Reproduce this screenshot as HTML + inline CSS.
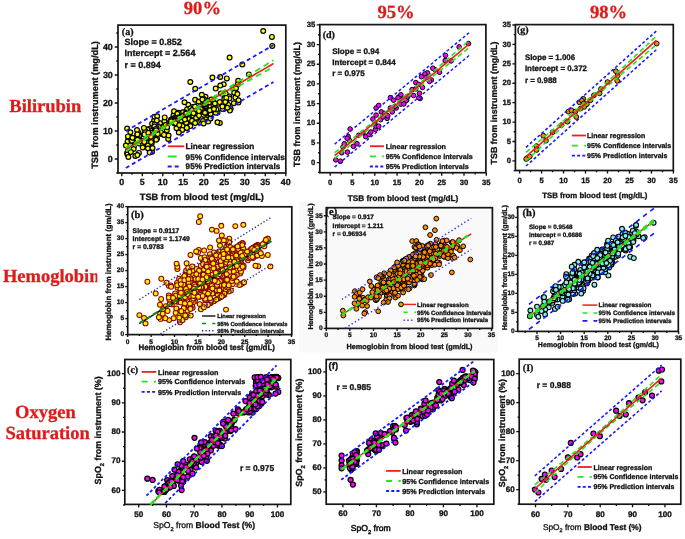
<!DOCTYPE html>
<html><head><meta charset="utf-8"><style>
html,body{margin:0;padding:0;background:#fff;}
svg{display:block;will-change:transform;text-rendering:geometricPrecision;}
</style></head><body>
<svg width="685" height="539" viewBox="0 0 685 539">
<rect x="0" y="0" width="685" height="539" fill="#ffffff"/>
<rect x="299" y="201" width="199" height="151.5" fill="#f9f9f9"/>
<text x="183.8" y="14.0" font-family='"Liberation Serif", serif' font-size="18.6" font-weight="bold" fill="#dd1c1c" stroke="#dd1c1c" stroke-width="0.3" text-anchor="start" >90%</text>
<text x="377.4" y="18.4" font-family='"Liberation Serif", serif' font-size="18.6" font-weight="bold" fill="#dd1c1c" stroke="#dd1c1c" stroke-width="0.3" text-anchor="start" >95%</text>
<text x="589.9" y="18.4" font-family='"Liberation Serif", serif' font-size="18.6" font-weight="bold" fill="#dd1c1c" stroke="#dd1c1c" stroke-width="0.3" text-anchor="start" >98%</text>
<text x="9.3" y="111.5" font-family='"Liberation Serif", serif' font-size="18.5" font-weight="bold" fill="#dd1c1c" stroke="#dd1c1c" stroke-width="0.3" text-anchor="start" >Bilirubin</text>
<clipPath id="hc"><rect x="0" y="250" width="97.3" height="50"/></clipPath><g clip-path="url(#hc)">
<text x="2.9" y="282.1" font-family='"Liberation Serif", serif' font-size="18.5" font-weight="bold" fill="#dd1c1c" stroke="#dd1c1c" stroke-width="0.3" text-anchor="start" >Hemoglobin</text>
</g>
<text x="15.1" y="418.4" font-family='"Liberation Serif", serif' font-size="18.5" font-weight="bold" fill="#dd1c1c" stroke="#dd1c1c" stroke-width="0.3" text-anchor="start" >Oxygen</text>
<text x="5.5" y="439.4" font-family='"Liberation Serif", serif' font-size="18.5" font-weight="bold" fill="#dd1c1c" stroke="#dd1c1c" stroke-width="0.3" text-anchor="start" >Saturation</text>
<rect x="118.0" y="25.1" width="167.8" height="147.9" fill="none" stroke="#151515" stroke-width="1.7"/>
<path d="M121.80,173.00v3.2M142.30,173.00v3.2M162.80,173.00v3.2M183.30,173.00v3.2M203.80,173.00v3.2M224.30,173.00v3.2M244.80,173.00v3.2M265.30,173.00v3.2M285.80,173.00v3.2M132.05,173.00v1.7M152.55,173.00v1.7M173.05,173.00v1.7M193.55,173.00v1.7M214.05,173.00v1.7M234.55,173.00v1.7M255.05,173.00v1.7M275.55,173.00v1.7M118.00,159.00h-3.2M118.00,131.00h-3.2M118.00,103.00h-3.2M118.00,75.00h-3.2M118.00,47.00h-3.2M118.00,173.00h-1.7M118.00,145.00h-1.7M118.00,117.00h-1.7M118.00,89.00h-1.7M118.00,61.00h-1.7M118.00,33.00h-1.7" stroke="#111" stroke-width="1.35" fill="none"/>
<text x="121.8" y="185.2" font-family='"Liberation Sans", sans-serif' font-size="8.9" font-weight="bold" fill="#111" stroke="#111" stroke-width="0.3" text-anchor="middle" >0</text>
<text x="142.3" y="185.2" font-family='"Liberation Sans", sans-serif' font-size="8.9" font-weight="bold" fill="#111" stroke="#111" stroke-width="0.3" text-anchor="middle" >5</text>
<text x="162.8" y="185.2" font-family='"Liberation Sans", sans-serif' font-size="8.9" font-weight="bold" fill="#111" stroke="#111" stroke-width="0.3" text-anchor="middle" >10</text>
<text x="183.3" y="185.2" font-family='"Liberation Sans", sans-serif' font-size="8.9" font-weight="bold" fill="#111" stroke="#111" stroke-width="0.3" text-anchor="middle" >15</text>
<text x="203.8" y="185.2" font-family='"Liberation Sans", sans-serif' font-size="8.9" font-weight="bold" fill="#111" stroke="#111" stroke-width="0.3" text-anchor="middle" >20</text>
<text x="224.3" y="185.2" font-family='"Liberation Sans", sans-serif' font-size="8.9" font-weight="bold" fill="#111" stroke="#111" stroke-width="0.3" text-anchor="middle" >25</text>
<text x="244.8" y="185.2" font-family='"Liberation Sans", sans-serif' font-size="8.9" font-weight="bold" fill="#111" stroke="#111" stroke-width="0.3" text-anchor="middle" >30</text>
<text x="265.3" y="185.2" font-family='"Liberation Sans", sans-serif' font-size="8.9" font-weight="bold" fill="#111" stroke="#111" stroke-width="0.3" text-anchor="middle" >35</text>
<text x="285.8" y="185.2" font-family='"Liberation Sans", sans-serif' font-size="8.9" font-weight="bold" fill="#111" stroke="#111" stroke-width="0.3" text-anchor="middle" >40</text>
<text x="112.8" y="161.5" font-family='"Liberation Sans", sans-serif' font-size="8.9" font-weight="bold" fill="#111" stroke="#111" stroke-width="0.3" text-anchor="end" >0</text>
<text x="112.8" y="133.5" font-family='"Liberation Sans", sans-serif' font-size="8.9" font-weight="bold" fill="#111" stroke="#111" stroke-width="0.3" text-anchor="end" >10</text>
<text x="112.8" y="105.5" font-family='"Liberation Sans", sans-serif' font-size="8.9" font-weight="bold" fill="#111" stroke="#111" stroke-width="0.3" text-anchor="end" >20</text>
<text x="112.8" y="77.5" font-family='"Liberation Sans", sans-serif' font-size="8.9" font-weight="bold" fill="#111" stroke="#111" stroke-width="0.3" text-anchor="end" >30</text>
<text x="112.8" y="49.5" font-family='"Liberation Sans", sans-serif' font-size="8.9" font-weight="bold" fill="#111" stroke="#111" stroke-width="0.3" text-anchor="end" >40</text>
<circle cx="138.9" cy="152.9" r="2.4" fill="#ffff00" stroke="#000" stroke-width="1.2"/>
<circle cx="139.3" cy="143.4" r="2.4" fill="#ffff00" stroke="#000" stroke-width="1.2"/>
<circle cx="140.5" cy="140.8" r="2.4" fill="#ffff00" stroke="#000" stroke-width="1.2"/>
<circle cx="140.6" cy="139.2" r="2.4" fill="#ffff00" stroke="#000" stroke-width="1.2"/>
<circle cx="144.0" cy="134.4" r="2.4" fill="#ffff00" stroke="#000" stroke-width="1.2"/>
<circle cx="134.6" cy="142.5" r="2.4" fill="#ffff00" stroke="#000" stroke-width="1.2"/>
<circle cx="128.5" cy="138.0" r="2.4" fill="#ffff00" stroke="#000" stroke-width="1.2"/>
<circle cx="127.1" cy="153.1" r="2.4" fill="#ffff00" stroke="#000" stroke-width="1.2"/>
<circle cx="154.1" cy="120.5" r="2.4" fill="#ffff00" stroke="#000" stroke-width="1.2"/>
<circle cx="143.6" cy="137.8" r="2.4" fill="#ffff00" stroke="#000" stroke-width="1.2"/>
<circle cx="130.4" cy="132.3" r="2.4" fill="#ffff00" stroke="#000" stroke-width="1.2"/>
<circle cx="127.6" cy="141.6" r="2.4" fill="#ffff00" stroke="#000" stroke-width="1.2"/>
<circle cx="131.4" cy="140.7" r="2.4" fill="#ffff00" stroke="#000" stroke-width="1.2"/>
<circle cx="139.2" cy="135.6" r="2.4" fill="#ffff00" stroke="#000" stroke-width="1.2"/>
<circle cx="138.5" cy="132.8" r="2.4" fill="#ffff00" stroke="#000" stroke-width="1.2"/>
<circle cx="144.3" cy="142.5" r="2.4" fill="#ffff00" stroke="#000" stroke-width="1.2"/>
<circle cx="140.2" cy="141.1" r="2.4" fill="#ffff00" stroke="#000" stroke-width="1.2"/>
<circle cx="133.9" cy="146.6" r="2.4" fill="#ffff00" stroke="#000" stroke-width="1.2"/>
<circle cx="154.5" cy="116.8" r="2.4" fill="#ffff00" stroke="#000" stroke-width="1.2"/>
<circle cx="146.2" cy="134.7" r="2.4" fill="#ffff00" stroke="#000" stroke-width="1.2"/>
<circle cx="134.9" cy="138.5" r="2.4" fill="#ffff00" stroke="#000" stroke-width="1.2"/>
<circle cx="127.9" cy="136.4" r="2.4" fill="#ffff00" stroke="#000" stroke-width="1.2"/>
<circle cx="147.9" cy="145.0" r="2.4" fill="#ffff00" stroke="#000" stroke-width="1.2"/>
<circle cx="137.0" cy="130.1" r="2.4" fill="#ffff00" stroke="#000" stroke-width="1.2"/>
<circle cx="153.4" cy="131.1" r="2.4" fill="#ffff00" stroke="#000" stroke-width="1.2"/>
<circle cx="131.9" cy="140.8" r="2.4" fill="#ffff00" stroke="#000" stroke-width="1.2"/>
<circle cx="152.0" cy="151.8" r="2.4" fill="#ffff00" stroke="#000" stroke-width="1.2"/>
<circle cx="137.3" cy="134.4" r="2.4" fill="#ffff00" stroke="#000" stroke-width="1.2"/>
<circle cx="128.0" cy="151.0" r="2.4" fill="#ffff00" stroke="#000" stroke-width="1.2"/>
<circle cx="133.6" cy="149.0" r="2.4" fill="#ffff00" stroke="#000" stroke-width="1.2"/>
<circle cx="148.4" cy="140.9" r="2.4" fill="#ffff00" stroke="#000" stroke-width="1.2"/>
<circle cx="195.1" cy="99.8" r="2.4" fill="#ffff00" stroke="#000" stroke-width="1.2"/>
<circle cx="150.5" cy="132.4" r="2.4" fill="#ffff00" stroke="#000" stroke-width="1.2"/>
<circle cx="146.5" cy="131.5" r="2.4" fill="#ffff00" stroke="#000" stroke-width="1.2"/>
<circle cx="197.9" cy="108.5" r="2.4" fill="#ffff00" stroke="#000" stroke-width="1.2"/>
<circle cx="173.5" cy="115.6" r="2.4" fill="#ffff00" stroke="#000" stroke-width="1.2"/>
<circle cx="155.6" cy="130.6" r="2.4" fill="#ffff00" stroke="#000" stroke-width="1.2"/>
<circle cx="187.2" cy="119.5" r="2.4" fill="#ffff00" stroke="#000" stroke-width="1.2"/>
<circle cx="150.4" cy="136.1" r="2.4" fill="#ffff00" stroke="#000" stroke-width="1.2"/>
<circle cx="161.1" cy="125.9" r="2.4" fill="#ffff00" stroke="#000" stroke-width="1.2"/>
<circle cx="210.0" cy="104.8" r="2.4" fill="#ffff00" stroke="#000" stroke-width="1.2"/>
<circle cx="204.0" cy="113.8" r="2.4" fill="#ffff00" stroke="#000" stroke-width="1.2"/>
<circle cx="157.0" cy="138.7" r="2.4" fill="#ffff00" stroke="#000" stroke-width="1.2"/>
<circle cx="187.0" cy="109.4" r="2.4" fill="#ffff00" stroke="#000" stroke-width="1.2"/>
<circle cx="149.3" cy="128.9" r="2.4" fill="#ffff00" stroke="#000" stroke-width="1.2"/>
<circle cx="160.3" cy="128.4" r="2.4" fill="#ffff00" stroke="#000" stroke-width="1.2"/>
<circle cx="196.2" cy="114.8" r="2.4" fill="#ffff00" stroke="#000" stroke-width="1.2"/>
<circle cx="147.4" cy="129.5" r="2.4" fill="#ffff00" stroke="#000" stroke-width="1.2"/>
<circle cx="148.6" cy="137.1" r="2.4" fill="#ffff00" stroke="#000" stroke-width="1.2"/>
<circle cx="184.2" cy="119.9" r="2.4" fill="#ffff00" stroke="#000" stroke-width="1.2"/>
<circle cx="168.2" cy="138.9" r="2.4" fill="#ffff00" stroke="#000" stroke-width="1.2"/>
<circle cx="176.0" cy="117.0" r="2.4" fill="#ffff00" stroke="#000" stroke-width="1.2"/>
<circle cx="182.3" cy="116.0" r="2.4" fill="#ffff00" stroke="#000" stroke-width="1.2"/>
<circle cx="153.0" cy="134.1" r="2.4" fill="#ffff00" stroke="#000" stroke-width="1.2"/>
<circle cx="205.6" cy="106.5" r="2.4" fill="#ffff00" stroke="#000" stroke-width="1.2"/>
<circle cx="155.5" cy="134.3" r="2.4" fill="#ffff00" stroke="#000" stroke-width="1.2"/>
<circle cx="193.8" cy="109.9" r="2.4" fill="#ffff00" stroke="#000" stroke-width="1.2"/>
<circle cx="208.5" cy="108.5" r="2.4" fill="#ffff00" stroke="#000" stroke-width="1.2"/>
<circle cx="203.8" cy="114.1" r="2.4" fill="#ffff00" stroke="#000" stroke-width="1.2"/>
<circle cx="149.5" cy="136.6" r="2.4" fill="#ffff00" stroke="#000" stroke-width="1.2"/>
<circle cx="145.0" cy="130.6" r="2.4" fill="#ffff00" stroke="#000" stroke-width="1.2"/>
<circle cx="191.4" cy="115.6" r="2.4" fill="#ffff00" stroke="#000" stroke-width="1.2"/>
<circle cx="160.2" cy="124.7" r="2.4" fill="#ffff00" stroke="#000" stroke-width="1.2"/>
<circle cx="162.8" cy="134.2" r="2.4" fill="#ffff00" stroke="#000" stroke-width="1.2"/>
<circle cx="154.5" cy="131.1" r="2.4" fill="#ffff00" stroke="#000" stroke-width="1.2"/>
<circle cx="158.2" cy="131.3" r="2.4" fill="#ffff00" stroke="#000" stroke-width="1.2"/>
<circle cx="181.3" cy="114.1" r="2.4" fill="#ffff00" stroke="#000" stroke-width="1.2"/>
<circle cx="161.8" cy="134.0" r="2.4" fill="#ffff00" stroke="#000" stroke-width="1.2"/>
<circle cx="206.2" cy="107.8" r="2.4" fill="#ffff00" stroke="#000" stroke-width="1.2"/>
<circle cx="161.1" cy="126.8" r="2.4" fill="#ffff00" stroke="#000" stroke-width="1.2"/>
<circle cx="173.4" cy="119.1" r="2.4" fill="#ffff00" stroke="#000" stroke-width="1.2"/>
<circle cx="168.0" cy="123.4" r="2.4" fill="#ffff00" stroke="#000" stroke-width="1.2"/>
<circle cx="182.2" cy="114.8" r="2.4" fill="#ffff00" stroke="#000" stroke-width="1.2"/>
<circle cx="204.4" cy="104.8" r="2.4" fill="#ffff00" stroke="#000" stroke-width="1.2"/>
<circle cx="210.6" cy="111.1" r="2.4" fill="#ffff00" stroke="#000" stroke-width="1.2"/>
<circle cx="183.0" cy="125.8" r="2.4" fill="#ffff00" stroke="#000" stroke-width="1.2"/>
<circle cx="152.1" cy="130.7" r="2.4" fill="#ffff00" stroke="#000" stroke-width="1.2"/>
<circle cx="205.7" cy="108.1" r="2.4" fill="#ffff00" stroke="#000" stroke-width="1.2"/>
<circle cx="191.2" cy="113.5" r="2.4" fill="#ffff00" stroke="#000" stroke-width="1.2"/>
<circle cx="186.6" cy="116.9" r="2.4" fill="#ffff00" stroke="#000" stroke-width="1.2"/>
<circle cx="175.9" cy="122.0" r="2.4" fill="#ffff00" stroke="#000" stroke-width="1.2"/>
<circle cx="212.0" cy="110.7" r="2.4" fill="#ffff00" stroke="#000" stroke-width="1.2"/>
<circle cx="147.5" cy="143.0" r="2.4" fill="#ffff00" stroke="#000" stroke-width="1.2"/>
<circle cx="205.0" cy="111.4" r="2.4" fill="#ffff00" stroke="#000" stroke-width="1.2"/>
<circle cx="193.7" cy="116.6" r="2.4" fill="#ffff00" stroke="#000" stroke-width="1.2"/>
<circle cx="206.1" cy="118.2" r="2.4" fill="#ffff00" stroke="#000" stroke-width="1.2"/>
<circle cx="166.8" cy="130.3" r="2.4" fill="#ffff00" stroke="#000" stroke-width="1.2"/>
<circle cx="203.0" cy="121.1" r="2.4" fill="#ffff00" stroke="#000" stroke-width="1.2"/>
<circle cx="171.4" cy="120.4" r="2.4" fill="#ffff00" stroke="#000" stroke-width="1.2"/>
<circle cx="182.2" cy="129.9" r="2.4" fill="#ffff00" stroke="#000" stroke-width="1.2"/>
<circle cx="185.9" cy="122.7" r="2.4" fill="#ffff00" stroke="#000" stroke-width="1.2"/>
<circle cx="184.7" cy="112.3" r="2.4" fill="#ffff00" stroke="#000" stroke-width="1.2"/>
<circle cx="147.9" cy="145.5" r="2.4" fill="#ffff00" stroke="#000" stroke-width="1.2"/>
<circle cx="203.6" cy="123.5" r="2.4" fill="#ffff00" stroke="#000" stroke-width="1.2"/>
<circle cx="193.1" cy="121.2" r="2.4" fill="#ffff00" stroke="#000" stroke-width="1.2"/>
<circle cx="182.8" cy="112.2" r="2.4" fill="#ffff00" stroke="#000" stroke-width="1.2"/>
<circle cx="173.0" cy="121.3" r="2.4" fill="#ffff00" stroke="#000" stroke-width="1.2"/>
<circle cx="194.6" cy="115.3" r="2.4" fill="#ffff00" stroke="#000" stroke-width="1.2"/>
<circle cx="144.4" cy="140.5" r="2.4" fill="#ffff00" stroke="#000" stroke-width="1.2"/>
<circle cx="158.3" cy="133.0" r="2.4" fill="#ffff00" stroke="#000" stroke-width="1.2"/>
<circle cx="191.0" cy="122.9" r="2.4" fill="#ffff00" stroke="#000" stroke-width="1.2"/>
<circle cx="206.5" cy="107.9" r="2.4" fill="#ffff00" stroke="#000" stroke-width="1.2"/>
<circle cx="160.1" cy="123.3" r="2.4" fill="#ffff00" stroke="#000" stroke-width="1.2"/>
<circle cx="189.6" cy="115.0" r="2.4" fill="#ffff00" stroke="#000" stroke-width="1.2"/>
<circle cx="156.4" cy="123.7" r="2.4" fill="#ffff00" stroke="#000" stroke-width="1.2"/>
<circle cx="188.3" cy="104.8" r="2.4" fill="#ffff00" stroke="#000" stroke-width="1.2"/>
<circle cx="173.1" cy="118.5" r="2.4" fill="#ffff00" stroke="#000" stroke-width="1.2"/>
<circle cx="188.7" cy="119.0" r="2.4" fill="#ffff00" stroke="#000" stroke-width="1.2"/>
<circle cx="156.1" cy="139.7" r="2.4" fill="#ffff00" stroke="#000" stroke-width="1.2"/>
<circle cx="206.0" cy="103.7" r="2.4" fill="#ffff00" stroke="#000" stroke-width="1.2"/>
<circle cx="203.7" cy="115.0" r="2.4" fill="#ffff00" stroke="#000" stroke-width="1.2"/>
<circle cx="164.4" cy="121.2" r="2.4" fill="#ffff00" stroke="#000" stroke-width="1.2"/>
<circle cx="151.8" cy="143.1" r="2.4" fill="#ffff00" stroke="#000" stroke-width="1.2"/>
<circle cx="201.5" cy="109.9" r="2.4" fill="#ffff00" stroke="#000" stroke-width="1.2"/>
<circle cx="191.9" cy="109.9" r="2.4" fill="#ffff00" stroke="#000" stroke-width="1.2"/>
<circle cx="154.1" cy="132.4" r="2.4" fill="#ffff00" stroke="#000" stroke-width="1.2"/>
<circle cx="173.7" cy="123.0" r="2.4" fill="#ffff00" stroke="#000" stroke-width="1.2"/>
<circle cx="171.2" cy="119.4" r="2.4" fill="#ffff00" stroke="#000" stroke-width="1.2"/>
<circle cx="185.9" cy="122.1" r="2.4" fill="#ffff00" stroke="#000" stroke-width="1.2"/>
<circle cx="200.8" cy="110.3" r="2.4" fill="#ffff00" stroke="#000" stroke-width="1.2"/>
<circle cx="210.7" cy="108.3" r="2.4" fill="#ffff00" stroke="#000" stroke-width="1.2"/>
<circle cx="144.5" cy="134.4" r="2.4" fill="#ffff00" stroke="#000" stroke-width="1.2"/>
<circle cx="203.1" cy="100.5" r="2.4" fill="#ffff00" stroke="#000" stroke-width="1.2"/>
<circle cx="182.1" cy="116.3" r="2.4" fill="#ffff00" stroke="#000" stroke-width="1.2"/>
<circle cx="163.8" cy="126.3" r="2.4" fill="#ffff00" stroke="#000" stroke-width="1.2"/>
<circle cx="151.8" cy="133.0" r="2.4" fill="#ffff00" stroke="#000" stroke-width="1.2"/>
<circle cx="174.0" cy="111.3" r="2.4" fill="#ffff00" stroke="#000" stroke-width="1.2"/>
<circle cx="158.8" cy="127.1" r="2.4" fill="#ffff00" stroke="#000" stroke-width="1.2"/>
<circle cx="152.1" cy="123.8" r="2.4" fill="#ffff00" stroke="#000" stroke-width="1.2"/>
<circle cx="173.4" cy="120.0" r="2.4" fill="#ffff00" stroke="#000" stroke-width="1.2"/>
<circle cx="186.2" cy="122.8" r="2.4" fill="#ffff00" stroke="#000" stroke-width="1.2"/>
<circle cx="209.1" cy="115.7" r="2.4" fill="#ffff00" stroke="#000" stroke-width="1.2"/>
<circle cx="190.0" cy="113.1" r="2.4" fill="#ffff00" stroke="#000" stroke-width="1.2"/>
<circle cx="154.8" cy="124.3" r="2.4" fill="#ffff00" stroke="#000" stroke-width="1.2"/>
<circle cx="143.1" cy="144.9" r="2.4" fill="#ffff00" stroke="#000" stroke-width="1.2"/>
<circle cx="154.8" cy="129.0" r="2.4" fill="#ffff00" stroke="#000" stroke-width="1.2"/>
<circle cx="161.3" cy="132.9" r="2.4" fill="#ffff00" stroke="#000" stroke-width="1.2"/>
<circle cx="178.6" cy="112.7" r="2.4" fill="#ffff00" stroke="#000" stroke-width="1.2"/>
<circle cx="185.1" cy="117.1" r="2.4" fill="#ffff00" stroke="#000" stroke-width="1.2"/>
<circle cx="197.5" cy="117.8" r="2.4" fill="#ffff00" stroke="#000" stroke-width="1.2"/>
<circle cx="205.5" cy="96.8" r="2.4" fill="#ffff00" stroke="#000" stroke-width="1.2"/>
<circle cx="192.6" cy="106.9" r="2.4" fill="#ffff00" stroke="#000" stroke-width="1.2"/>
<circle cx="151.4" cy="140.0" r="2.4" fill="#ffff00" stroke="#000" stroke-width="1.2"/>
<circle cx="205.7" cy="105.9" r="2.4" fill="#ffff00" stroke="#000" stroke-width="1.2"/>
<circle cx="168.6" cy="135.5" r="2.4" fill="#ffff00" stroke="#000" stroke-width="1.2"/>
<circle cx="197.8" cy="116.8" r="2.4" fill="#ffff00" stroke="#000" stroke-width="1.2"/>
<circle cx="208.1" cy="115.6" r="2.4" fill="#ffff00" stroke="#000" stroke-width="1.2"/>
<circle cx="156.6" cy="127.9" r="2.4" fill="#ffff00" stroke="#000" stroke-width="1.2"/>
<circle cx="192.6" cy="110.5" r="2.4" fill="#ffff00" stroke="#000" stroke-width="1.2"/>
<circle cx="192.3" cy="121.8" r="2.4" fill="#ffff00" stroke="#000" stroke-width="1.2"/>
<circle cx="157.2" cy="116.2" r="2.4" fill="#ffff00" stroke="#000" stroke-width="1.2"/>
<circle cx="210.4" cy="116.0" r="2.4" fill="#ffff00" stroke="#000" stroke-width="1.2"/>
<circle cx="179.7" cy="118.4" r="2.4" fill="#ffff00" stroke="#000" stroke-width="1.2"/>
<circle cx="205.7" cy="113.3" r="2.4" fill="#ffff00" stroke="#000" stroke-width="1.2"/>
<circle cx="201.9" cy="111.4" r="2.4" fill="#ffff00" stroke="#000" stroke-width="1.2"/>
<circle cx="173.0" cy="120.6" r="2.4" fill="#ffff00" stroke="#000" stroke-width="1.2"/>
<circle cx="180.7" cy="118.5" r="2.4" fill="#ffff00" stroke="#000" stroke-width="1.2"/>
<circle cx="144.3" cy="141.9" r="2.4" fill="#ffff00" stroke="#000" stroke-width="1.2"/>
<circle cx="198.7" cy="101.7" r="2.4" fill="#ffff00" stroke="#000" stroke-width="1.2"/>
<circle cx="154.4" cy="126.6" r="2.4" fill="#ffff00" stroke="#000" stroke-width="1.2"/>
<circle cx="165.6" cy="125.1" r="2.4" fill="#ffff00" stroke="#000" stroke-width="1.2"/>
<circle cx="152.7" cy="134.7" r="2.4" fill="#ffff00" stroke="#000" stroke-width="1.2"/>
<circle cx="178.3" cy="122.2" r="2.4" fill="#ffff00" stroke="#000" stroke-width="1.2"/>
<circle cx="190.3" cy="126.1" r="2.4" fill="#ffff00" stroke="#000" stroke-width="1.2"/>
<circle cx="208.2" cy="121.6" r="2.4" fill="#ffff00" stroke="#000" stroke-width="1.2"/>
<circle cx="148.3" cy="132.8" r="2.4" fill="#ffff00" stroke="#000" stroke-width="1.2"/>
<circle cx="157.7" cy="134.1" r="2.4" fill="#ffff00" stroke="#000" stroke-width="1.2"/>
<circle cx="193.1" cy="114.6" r="2.4" fill="#ffff00" stroke="#000" stroke-width="1.2"/>
<circle cx="186.8" cy="127.8" r="2.4" fill="#ffff00" stroke="#000" stroke-width="1.2"/>
<circle cx="181.3" cy="120.6" r="2.4" fill="#ffff00" stroke="#000" stroke-width="1.2"/>
<circle cx="164.0" cy="134.9" r="2.4" fill="#ffff00" stroke="#000" stroke-width="1.2"/>
<circle cx="205.1" cy="100.9" r="2.4" fill="#ffff00" stroke="#000" stroke-width="1.2"/>
<circle cx="156.8" cy="120.5" r="2.4" fill="#ffff00" stroke="#000" stroke-width="1.2"/>
<circle cx="178.8" cy="132.5" r="2.4" fill="#ffff00" stroke="#000" stroke-width="1.2"/>
<circle cx="182.2" cy="116.4" r="2.4" fill="#ffff00" stroke="#000" stroke-width="1.2"/>
<circle cx="177.4" cy="113.8" r="2.4" fill="#ffff00" stroke="#000" stroke-width="1.2"/>
<circle cx="184.5" cy="102.3" r="2.4" fill="#ffff00" stroke="#000" stroke-width="1.2"/>
<circle cx="178.3" cy="117.6" r="2.4" fill="#ffff00" stroke="#000" stroke-width="1.2"/>
<circle cx="170.2" cy="121.5" r="2.4" fill="#ffff00" stroke="#000" stroke-width="1.2"/>
<circle cx="176.5" cy="128.3" r="2.4" fill="#ffff00" stroke="#000" stroke-width="1.2"/>
<circle cx="190.5" cy="108.3" r="2.4" fill="#ffff00" stroke="#000" stroke-width="1.2"/>
<circle cx="171.1" cy="120.5" r="2.4" fill="#ffff00" stroke="#000" stroke-width="1.2"/>
<circle cx="209.0" cy="102.8" r="2.4" fill="#ffff00" stroke="#000" stroke-width="1.2"/>
<circle cx="175.3" cy="123.8" r="2.4" fill="#ffff00" stroke="#000" stroke-width="1.2"/>
<circle cx="151.1" cy="142.1" r="2.4" fill="#ffff00" stroke="#000" stroke-width="1.2"/>
<circle cx="205.1" cy="104.2" r="2.4" fill="#ffff00" stroke="#000" stroke-width="1.2"/>
<circle cx="175.5" cy="123.1" r="2.4" fill="#ffff00" stroke="#000" stroke-width="1.2"/>
<circle cx="185.4" cy="113.7" r="2.4" fill="#ffff00" stroke="#000" stroke-width="1.2"/>
<circle cx="206.8" cy="100.8" r="2.4" fill="#ffff00" stroke="#000" stroke-width="1.2"/>
<circle cx="143.9" cy="127.9" r="2.4" fill="#ffff00" stroke="#000" stroke-width="1.2"/>
<circle cx="155.8" cy="128.9" r="2.4" fill="#ffff00" stroke="#000" stroke-width="1.2"/>
<circle cx="164.7" cy="117.4" r="2.4" fill="#ffff00" stroke="#000" stroke-width="1.2"/>
<circle cx="167.1" cy="127.2" r="2.4" fill="#ffff00" stroke="#000" stroke-width="1.2"/>
<circle cx="193.2" cy="115.7" r="2.4" fill="#ffff00" stroke="#000" stroke-width="1.2"/>
<circle cx="150.9" cy="136.8" r="2.4" fill="#ffff00" stroke="#000" stroke-width="1.2"/>
<circle cx="156.1" cy="130.3" r="2.4" fill="#ffff00" stroke="#000" stroke-width="1.2"/>
<circle cx="179.3" cy="125.1" r="2.4" fill="#ffff00" stroke="#000" stroke-width="1.2"/>
<circle cx="171.1" cy="121.2" r="2.4" fill="#ffff00" stroke="#000" stroke-width="1.2"/>
<circle cx="179.2" cy="117.8" r="2.4" fill="#ffff00" stroke="#000" stroke-width="1.2"/>
<circle cx="186.3" cy="113.5" r="2.4" fill="#ffff00" stroke="#000" stroke-width="1.2"/>
<circle cx="186.8" cy="127.9" r="2.4" fill="#ffff00" stroke="#000" stroke-width="1.2"/>
<circle cx="184.9" cy="119.5" r="2.4" fill="#ffff00" stroke="#000" stroke-width="1.2"/>
<circle cx="202.0" cy="108.9" r="2.4" fill="#ffff00" stroke="#000" stroke-width="1.2"/>
<circle cx="198.8" cy="101.7" r="2.4" fill="#ffff00" stroke="#000" stroke-width="1.2"/>
<circle cx="205.2" cy="110.6" r="2.4" fill="#ffff00" stroke="#000" stroke-width="1.2"/>
<circle cx="235.0" cy="89.7" r="2.4" fill="#ffff00" stroke="#000" stroke-width="1.2"/>
<circle cx="201.8" cy="94.8" r="2.4" fill="#ffff00" stroke="#000" stroke-width="1.2"/>
<circle cx="197.8" cy="111.9" r="2.4" fill="#ffff00" stroke="#000" stroke-width="1.2"/>
<circle cx="202.8" cy="110.4" r="2.4" fill="#ffff00" stroke="#000" stroke-width="1.2"/>
<circle cx="196.1" cy="118.1" r="2.4" fill="#ffff00" stroke="#000" stroke-width="1.2"/>
<circle cx="230.7" cy="108.7" r="2.4" fill="#ffff00" stroke="#000" stroke-width="1.2"/>
<circle cx="197.4" cy="105.9" r="2.4" fill="#ffff00" stroke="#000" stroke-width="1.2"/>
<circle cx="210.5" cy="106.8" r="2.4" fill="#ffff00" stroke="#000" stroke-width="1.2"/>
<circle cx="201.0" cy="111.7" r="2.4" fill="#ffff00" stroke="#000" stroke-width="1.2"/>
<circle cx="223.7" cy="84.2" r="2.4" fill="#ffff00" stroke="#000" stroke-width="1.2"/>
<circle cx="196.9" cy="122.3" r="2.4" fill="#ffff00" stroke="#000" stroke-width="1.2"/>
<circle cx="215.3" cy="103.7" r="2.4" fill="#ffff00" stroke="#000" stroke-width="1.2"/>
<circle cx="223.8" cy="109.0" r="2.4" fill="#ffff00" stroke="#000" stroke-width="1.2"/>
<circle cx="200.4" cy="107.5" r="2.4" fill="#ffff00" stroke="#000" stroke-width="1.2"/>
<circle cx="193.3" cy="112.3" r="2.4" fill="#ffff00" stroke="#000" stroke-width="1.2"/>
<circle cx="217.5" cy="112.6" r="2.4" fill="#ffff00" stroke="#000" stroke-width="1.2"/>
<circle cx="198.4" cy="112.4" r="2.4" fill="#ffff00" stroke="#000" stroke-width="1.2"/>
<circle cx="200.2" cy="106.8" r="2.4" fill="#ffff00" stroke="#000" stroke-width="1.2"/>
<circle cx="238.2" cy="80.8" r="2.4" fill="#ffff00" stroke="#000" stroke-width="1.2"/>
<circle cx="235.2" cy="93.3" r="2.4" fill="#ffff00" stroke="#000" stroke-width="1.2"/>
<circle cx="236.4" cy="93.5" r="2.4" fill="#ffff00" stroke="#000" stroke-width="1.2"/>
<circle cx="213.3" cy="104.4" r="2.4" fill="#ffff00" stroke="#000" stroke-width="1.2"/>
<circle cx="213.5" cy="111.4" r="2.4" fill="#ffff00" stroke="#000" stroke-width="1.2"/>
<circle cx="215.8" cy="112.8" r="2.4" fill="#ffff00" stroke="#000" stroke-width="1.2"/>
<circle cx="192.1" cy="110.1" r="2.4" fill="#ffff00" stroke="#000" stroke-width="1.2"/>
<circle cx="224.6" cy="97.5" r="2.4" fill="#ffff00" stroke="#000" stroke-width="1.2"/>
<circle cx="212.9" cy="109.0" r="2.4" fill="#ffff00" stroke="#000" stroke-width="1.2"/>
<circle cx="226.4" cy="103.3" r="2.4" fill="#ffff00" stroke="#000" stroke-width="1.2"/>
<circle cx="199.3" cy="108.4" r="2.4" fill="#ffff00" stroke="#000" stroke-width="1.2"/>
<circle cx="215.7" cy="88.6" r="2.4" fill="#ffff00" stroke="#000" stroke-width="1.2"/>
<circle cx="229.3" cy="96.5" r="2.4" fill="#ffff00" stroke="#000" stroke-width="1.2"/>
<circle cx="224.7" cy="93.4" r="2.4" fill="#ffff00" stroke="#000" stroke-width="1.2"/>
<circle cx="210.6" cy="114.1" r="2.4" fill="#ffff00" stroke="#000" stroke-width="1.2"/>
<circle cx="219.8" cy="122.9" r="2.4" fill="#ffff00" stroke="#000" stroke-width="1.2"/>
<circle cx="229.4" cy="98.5" r="2.4" fill="#ffff00" stroke="#000" stroke-width="1.2"/>
<circle cx="203.7" cy="99.0" r="2.4" fill="#ffff00" stroke="#000" stroke-width="1.2"/>
<circle cx="228.2" cy="104.9" r="2.4" fill="#ffff00" stroke="#000" stroke-width="1.2"/>
<circle cx="229.9" cy="110.6" r="2.4" fill="#ffff00" stroke="#000" stroke-width="1.2"/>
<circle cx="233.0" cy="87.7" r="2.4" fill="#ffff00" stroke="#000" stroke-width="1.2"/>
<circle cx="224.3" cy="98.9" r="2.4" fill="#ffff00" stroke="#000" stroke-width="1.2"/>
<circle cx="210.6" cy="118.5" r="2.4" fill="#ffff00" stroke="#000" stroke-width="1.2"/>
<circle cx="225.6" cy="93.6" r="2.4" fill="#ffff00" stroke="#000" stroke-width="1.2"/>
<circle cx="213.6" cy="102.0" r="2.4" fill="#ffff00" stroke="#000" stroke-width="1.2"/>
<circle cx="192.0" cy="120.7" r="2.4" fill="#ffff00" stroke="#000" stroke-width="1.2"/>
<circle cx="220.9" cy="93.5" r="2.4" fill="#ffff00" stroke="#000" stroke-width="1.2"/>
<circle cx="202.4" cy="99.6" r="2.4" fill="#ffff00" stroke="#000" stroke-width="1.2"/>
<circle cx="207.4" cy="111.2" r="2.4" fill="#ffff00" stroke="#000" stroke-width="1.2"/>
<circle cx="222.6" cy="109.1" r="2.4" fill="#ffff00" stroke="#000" stroke-width="1.2"/>
<circle cx="209.9" cy="110.3" r="2.4" fill="#ffff00" stroke="#000" stroke-width="1.2"/>
<circle cx="238.6" cy="101.0" r="2.4" fill="#ffff00" stroke="#000" stroke-width="1.2"/>
<circle cx="227.4" cy="107.7" r="2.4" fill="#ffff00" stroke="#000" stroke-width="1.2"/>
<circle cx="237.7" cy="84.4" r="2.4" fill="#ffff00" stroke="#000" stroke-width="1.2"/>
<circle cx="226.3" cy="97.9" r="2.4" fill="#ffff00" stroke="#000" stroke-width="1.2"/>
<circle cx="203.6" cy="111.2" r="2.4" fill="#ffff00" stroke="#000" stroke-width="1.2"/>
<circle cx="200.7" cy="109.1" r="2.4" fill="#ffff00" stroke="#000" stroke-width="1.2"/>
<circle cx="209.2" cy="102.3" r="2.4" fill="#ffff00" stroke="#000" stroke-width="1.2"/>
<circle cx="234.2" cy="92.7" r="2.4" fill="#ffff00" stroke="#000" stroke-width="1.2"/>
<circle cx="217.4" cy="122.2" r="2.4" fill="#ffff00" stroke="#000" stroke-width="1.2"/>
<circle cx="218.3" cy="103.8" r="2.4" fill="#ffff00" stroke="#000" stroke-width="1.2"/>
<circle cx="238.4" cy="102.6" r="2.4" fill="#ffff00" stroke="#000" stroke-width="1.2"/>
<circle cx="195.1" cy="123.1" r="2.4" fill="#ffff00" stroke="#000" stroke-width="1.2"/>
<circle cx="219.7" cy="102.1" r="2.4" fill="#ffff00" stroke="#000" stroke-width="1.2"/>
<circle cx="235.4" cy="97.6" r="2.4" fill="#ffff00" stroke="#000" stroke-width="1.2"/>
<circle cx="199.0" cy="115.6" r="2.4" fill="#ffff00" stroke="#000" stroke-width="1.2"/>
<circle cx="214.9" cy="103.5" r="2.4" fill="#ffff00" stroke="#000" stroke-width="1.2"/>
<circle cx="220.3" cy="85.6" r="2.4" fill="#ffff00" stroke="#000" stroke-width="1.2"/>
<circle cx="211.3" cy="99.6" r="2.4" fill="#ffff00" stroke="#000" stroke-width="1.2"/>
<circle cx="216.3" cy="109.4" r="2.4" fill="#ffff00" stroke="#000" stroke-width="1.2"/>
<circle cx="205.0" cy="112.7" r="2.4" fill="#ffff00" stroke="#000" stroke-width="1.2"/>
<circle cx="222.4" cy="106.6" r="2.4" fill="#ffff00" stroke="#000" stroke-width="1.2"/>
<circle cx="225.3" cy="102.0" r="2.4" fill="#ffff00" stroke="#000" stroke-width="1.2"/>
<circle cx="205.5" cy="103.0" r="2.4" fill="#ffff00" stroke="#000" stroke-width="1.2"/>
<circle cx="193.5" cy="113.2" r="2.4" fill="#ffff00" stroke="#000" stroke-width="1.2"/>
<circle cx="198.9" cy="111.1" r="2.4" fill="#ffff00" stroke="#000" stroke-width="1.2"/>
<circle cx="233.8" cy="103.3" r="2.4" fill="#ffff00" stroke="#000" stroke-width="1.2"/>
<circle cx="226.8" cy="78.4" r="2.4" fill="#ffff00" stroke="#000" stroke-width="1.2"/>
<circle cx="236.0" cy="88.3" r="2.4" fill="#ffff00" stroke="#000" stroke-width="1.2"/>
<circle cx="195.0" cy="106.6" r="2.4" fill="#ffff00" stroke="#000" stroke-width="1.2"/>
<circle cx="214.0" cy="109.0" r="2.4" fill="#ffff00" stroke="#000" stroke-width="1.2"/>
<circle cx="237.4" cy="94.1" r="2.4" fill="#ffff00" stroke="#000" stroke-width="1.2"/>
<circle cx="263.2" cy="31.0" r="2.4" fill="#ffff00" stroke="#000" stroke-width="1.2"/>
<circle cx="271.9" cy="36.9" r="2.4" fill="#ffff00" stroke="#000" stroke-width="1.2"/>
<circle cx="272.3" cy="45.9" r="2.4" fill="#ffff00" stroke="#000" stroke-width="1.2"/>
<circle cx="229.6" cy="57.6" r="2.4" fill="#ffff00" stroke="#000" stroke-width="1.2"/>
<circle cx="238.6" cy="100.2" r="2.4" fill="#ffff00" stroke="#000" stroke-width="1.2"/>
<circle cx="190.3" cy="82.0" r="2.4" fill="#ffff00" stroke="#000" stroke-width="1.2"/>
<circle cx="195.2" cy="88.7" r="2.4" fill="#ffff00" stroke="#000" stroke-width="1.2"/>
<circle cx="212.4" cy="77.5" r="2.4" fill="#ffff00" stroke="#000" stroke-width="1.2"/>
<circle cx="220.2" cy="77.0" r="2.4" fill="#ffff00" stroke="#000" stroke-width="1.2"/>
<circle cx="242.3" cy="64.4" r="2.4" fill="#ffff00" stroke="#000" stroke-width="1.2"/>
<circle cx="248.9" cy="74.4" r="2.4" fill="#ffff00" stroke="#000" stroke-width="1.2"/>
<circle cx="127.1" cy="128.5" r="2.4" fill="#ffff00" stroke="#000" stroke-width="1.2"/>
<circle cx="125.9" cy="145.6" r="2.4" fill="#ffff00" stroke="#000" stroke-width="1.2"/>
<circle cx="127.5" cy="154.5" r="2.4" fill="#ffff00" stroke="#000" stroke-width="1.2"/>
<circle cx="128.4" cy="157.0" r="2.4" fill="#ffff00" stroke="#000" stroke-width="1.2"/>
<circle cx="130.8" cy="152.0" r="2.4" fill="#ffff00" stroke="#000" stroke-width="1.2"/>
<circle cx="135.3" cy="155.9" r="2.4" fill="#ffff00" stroke="#000" stroke-width="1.2"/>
<circle cx="137.4" cy="155.1" r="2.4" fill="#ffff00" stroke="#000" stroke-width="1.2"/>
<circle cx="132.5" cy="137.7" r="2.4" fill="#ffff00" stroke="#000" stroke-width="1.2"/>
<circle cx="137.4" cy="134.4" r="2.4" fill="#ffff00" stroke="#000" stroke-width="1.2"/>
<circle cx="137.4" cy="139.7" r="2.4" fill="#ffff00" stroke="#000" stroke-width="1.2"/>
<circle cx="142.7" cy="147.5" r="2.4" fill="#ffff00" stroke="#000" stroke-width="1.2"/>
<circle cx="148.0" cy="148.6" r="2.4" fill="#ffff00" stroke="#000" stroke-width="1.2"/>
<circle cx="152.5" cy="148.1" r="2.4" fill="#ffff00" stroke="#000" stroke-width="1.2"/>
<circle cx="149.7" cy="152.6" r="2.4" fill="#ffff00" stroke="#000" stroke-width="1.2"/>
<polyline points="125.90,130.96 129.59,128.81 133.28,126.66 136.97,124.51 140.66,122.37 144.35,120.22 148.04,118.07 151.73,115.93 155.42,113.78 159.11,111.63 162.80,109.48 166.49,107.34 170.18,105.19 173.87,103.04 177.56,100.90 181.25,98.75 184.94,96.60 188.63,94.46 192.32,92.31 196.01,90.16 199.70,88.01 203.39,85.87 207.08,83.72 210.77,81.57 214.46,79.43 218.15,77.28 221.84,75.13 225.53,72.99 229.22,70.84 232.91,68.69 236.60,66.54 240.29,64.40 243.98,62.25 247.67,60.10 251.36,57.96 255.05,55.81 258.74,53.66 262.43,51.51 266.12,49.37 269.81,47.22 273.50,45.07" fill="none" stroke="#1a1aff" stroke-width="1.8" stroke-dasharray="4 3"/>
<polyline points="125.90,167.92 129.59,165.77 133.28,163.62 136.97,161.47 140.66,159.33 144.35,157.18 148.04,155.03 151.73,152.89 155.42,150.74 159.11,148.59 162.80,146.44 166.49,144.30 170.18,142.15 173.87,140.00 177.56,137.86 181.25,135.71 184.94,133.56 188.63,131.42 192.32,129.27 196.01,127.12 199.70,124.97 203.39,122.83 207.08,120.68 210.77,118.53 214.46,116.39 218.15,114.24 221.84,112.09 225.53,109.95 229.22,107.80 232.91,105.65 236.60,103.50 240.29,101.36 243.98,99.21 247.67,97.06 251.36,94.92 255.05,92.77 258.74,90.62 262.43,88.47 266.12,86.33 269.81,84.18 273.50,82.03" fill="none" stroke="#1a1aff" stroke-width="1.8" stroke-dasharray="4 3"/>
<polyline points="125.90,149.44 129.59,147.29 133.28,145.14 136.97,142.99 140.66,140.85 144.35,138.70 148.04,136.55 151.73,134.41 155.42,132.26 159.11,130.11 162.80,127.96 166.49,125.82 170.18,123.67 173.87,121.52 177.56,119.38 181.25,117.23 184.94,115.08 188.63,112.94 192.32,110.79 196.01,108.64 199.70,106.49 203.39,104.35 207.08,102.20 210.77,100.05 214.46,97.91 218.15,95.76 221.84,93.61 225.53,91.47 229.22,89.32 232.91,87.17 236.60,85.02 240.29,82.88 243.98,80.73 247.67,78.58 251.36,76.44 255.05,74.29 258.74,72.14 262.43,69.99 266.12,67.85 269.81,65.70 273.50,63.55" fill="none" stroke="#f21d1d" stroke-width="1.6"/>
<polyline points="125.90,147.61 129.59,145.57 133.28,143.52 136.97,141.48 140.66,139.43 144.35,137.38 148.04,135.33 151.73,133.26 155.42,131.20 159.11,129.12 162.80,127.03 166.49,124.93 170.18,122.82 173.87,120.68 177.56,118.53 181.25,116.37 184.94,114.18 188.63,111.98 192.32,109.77 196.01,107.55 199.70,105.33 203.39,103.09 207.08,100.85 210.77,98.61 214.46,96.36 218.15,94.11 221.84,91.85 225.53,89.60 229.22,87.34 232.91,85.08 236.60,82.82 240.29,80.56 243.98,78.30 247.67,76.04 251.36,73.78 255.05,71.52 258.74,69.25 262.43,66.99 266.12,64.72 269.81,62.46 273.50,60.20" fill="none" stroke="#22e622" stroke-width="1.8" stroke-dasharray="6 4"/>
<polyline points="125.90,151.27 129.59,149.01 133.28,146.76 136.97,144.51 140.66,142.26 144.35,140.02 148.04,137.78 151.73,135.55 155.42,133.32 159.11,131.10 162.80,128.90 166.49,126.70 170.18,124.53 173.87,122.36 177.56,120.22 181.25,118.09 184.94,115.98 188.63,113.89 192.32,111.80 196.01,109.73 199.70,107.66 203.39,105.60 207.08,103.55 210.77,101.50 214.46,99.45 218.15,97.41 221.84,95.37 225.53,93.33 229.22,91.29 232.91,89.26 236.60,87.22 240.29,85.19 243.98,83.16 247.67,81.12 251.36,79.09 255.05,77.06 258.74,75.03 262.43,73.00 266.12,70.97 269.81,68.94 273.50,66.91" fill="none" stroke="#22e622" stroke-width="1.8" stroke-dasharray="6 4"/>
<text x="121.8" y="34.6" font-family='"Liberation Serif", serif' font-size="10" font-weight="bold" fill="#111" stroke="#111" stroke-width="0.3" text-anchor="start" >(a)</text>
<text x="124.6" y="44.8" font-family='"Liberation Sans", sans-serif' font-size="9" font-weight="bold" fill="#111" stroke="#111" stroke-width="0.3" text-anchor="start" >Slope = 0.852</text>
<text x="124.6" y="56.3" font-family='"Liberation Sans", sans-serif' font-size="9" font-weight="bold" fill="#111" stroke="#111" stroke-width="0.3" text-anchor="start" >Intercept = 2.564</text>
<text x="124.6" y="67.8" font-family='"Liberation Sans", sans-serif' font-size="9" font-weight="bold" fill="#111" stroke="#111" stroke-width="0.3" text-anchor="start" >r = 0.894</text>
<line x1="167.7" y1="146.3" x2="184.2" y2="146.3" stroke="#f21d1d" stroke-width="1.8"/>
<text x="185.6" y="149.3" font-family='"Liberation Sans", sans-serif' font-size="8.2" font-weight="bold" fill="#111" stroke="#111" stroke-width="0.3" text-anchor="start" >Linear regression</text>
<line x1="167.7" y1="156.5" x2="176.9" y2="156.5" stroke="#22e622" stroke-width="2" stroke-dasharray="9 20"/>
<text x="185.6" y="159.5" font-family='"Liberation Sans", sans-serif' font-size="8.2" font-weight="bold" fill="#111" stroke="#111" stroke-width="0.3" text-anchor="start" >95% Confidence intervals</text>
<line x1="167.7" y1="166.4" x2="180.5" y2="166.4" stroke="#1a1aff" stroke-width="2" stroke-dasharray="4 3"/>
<text x="185.6" y="169.4" font-family='"Liberation Sans", sans-serif' font-size="8.2" font-weight="bold" fill="#111" stroke="#111" stroke-width="0.3" text-anchor="start" >95% Prediction intervals</text>
<text x="201.8" y="200.1" font-family='"Liberation Sans", sans-serif' font-size="9.2" font-weight="bold" fill="#111" stroke="#111" stroke-width="0.3" text-anchor="middle" >TSB from blood test (mg/dL)</text>
<text transform="translate(98.4,105.0) rotate(-90)" x="0" y="0" font-family='"Liberation Sans", sans-serif' font-size="9.2" font-weight="bold" fill="#111" stroke="#111" stroke-width="0.3" text-anchor="middle">TSB from instrument (mg/dL)</text>
<rect x="319.8" y="24.6" width="166.1" height="148.1" fill="none" stroke="#151515" stroke-width="1.7"/>
<path d="M330.20,172.70v3.0M352.50,172.70v3.0M374.80,172.70v3.0M397.10,172.70v3.0M419.40,172.70v3.0M441.70,172.70v3.0M464.00,172.70v3.0M486.30,172.70v3.0M341.35,172.70v1.7M363.65,172.70v1.7M385.95,172.70v1.7M408.25,172.70v1.7M430.55,172.70v1.7M452.85,172.70v1.7M475.15,172.70v1.7M319.80,162.60h-3.0M319.80,142.93h-3.0M319.80,123.26h-3.0M319.80,103.59h-3.0M319.80,83.92h-3.0M319.80,64.25h-3.0M319.80,44.58h-3.0M319.80,24.91h-3.0M319.80,152.76h-1.7M319.80,133.09h-1.7M319.80,113.42h-1.7M319.80,93.75h-1.7M319.80,74.08h-1.7M319.80,54.41h-1.7M319.80,34.74h-1.7M319.80,172.44h-1.7" stroke="#111" stroke-width="1.35" fill="none"/>
<text x="330.2" y="184.7" font-family='"Liberation Sans", sans-serif' font-size="7.7" font-weight="bold" fill="#111" stroke="#111" stroke-width="0.3" text-anchor="middle" >0</text>
<text x="352.5" y="184.7" font-family='"Liberation Sans", sans-serif' font-size="7.7" font-weight="bold" fill="#111" stroke="#111" stroke-width="0.3" text-anchor="middle" >5</text>
<text x="374.8" y="184.7" font-family='"Liberation Sans", sans-serif' font-size="7.7" font-weight="bold" fill="#111" stroke="#111" stroke-width="0.3" text-anchor="middle" >10</text>
<text x="397.1" y="184.7" font-family='"Liberation Sans", sans-serif' font-size="7.7" font-weight="bold" fill="#111" stroke="#111" stroke-width="0.3" text-anchor="middle" >15</text>
<text x="419.4" y="184.7" font-family='"Liberation Sans", sans-serif' font-size="7.7" font-weight="bold" fill="#111" stroke="#111" stroke-width="0.3" text-anchor="middle" >20</text>
<text x="441.7" y="184.7" font-family='"Liberation Sans", sans-serif' font-size="7.7" font-weight="bold" fill="#111" stroke="#111" stroke-width="0.3" text-anchor="middle" >25</text>
<text x="464.0" y="184.7" font-family='"Liberation Sans", sans-serif' font-size="7.7" font-weight="bold" fill="#111" stroke="#111" stroke-width="0.3" text-anchor="middle" >30</text>
<text x="486.3" y="184.7" font-family='"Liberation Sans", sans-serif' font-size="7.7" font-weight="bold" fill="#111" stroke="#111" stroke-width="0.3" text-anchor="middle" >35</text>
<text x="315.4" y="164.7" font-family='"Liberation Sans", sans-serif' font-size="7.7" font-weight="bold" fill="#111" stroke="#111" stroke-width="0.3" text-anchor="end" >0</text>
<text x="315.4" y="145.0" font-family='"Liberation Sans", sans-serif' font-size="7.7" font-weight="bold" fill="#111" stroke="#111" stroke-width="0.3" text-anchor="end" >5</text>
<text x="315.4" y="125.4" font-family='"Liberation Sans", sans-serif' font-size="7.7" font-weight="bold" fill="#111" stroke="#111" stroke-width="0.3" text-anchor="end" >10</text>
<text x="315.4" y="105.7" font-family='"Liberation Sans", sans-serif' font-size="7.7" font-weight="bold" fill="#111" stroke="#111" stroke-width="0.3" text-anchor="end" >15</text>
<text x="315.4" y="86.0" font-family='"Liberation Sans", sans-serif' font-size="7.7" font-weight="bold" fill="#111" stroke="#111" stroke-width="0.3" text-anchor="end" >20</text>
<text x="315.4" y="66.4" font-family='"Liberation Sans", sans-serif' font-size="7.7" font-weight="bold" fill="#111" stroke="#111" stroke-width="0.3" text-anchor="end" >25</text>
<text x="315.4" y="46.7" font-family='"Liberation Sans", sans-serif' font-size="7.7" font-weight="bold" fill="#111" stroke="#111" stroke-width="0.3" text-anchor="end" >30</text>
<text x="315.4" y="27.0" font-family='"Liberation Sans", sans-serif' font-size="7.7" font-weight="bold" fill="#111" stroke="#111" stroke-width="0.3" text-anchor="end" >35</text>
<circle cx="335.8" cy="159.9" r="2.3" fill="#ff00ff" stroke="#000" stroke-width="1.0"/>
<circle cx="340.4" cy="161.2" r="2.3" fill="#ff00ff" stroke="#000" stroke-width="1.0"/>
<circle cx="341.7" cy="152.8" r="2.3" fill="#ff00ff" stroke="#000" stroke-width="1.0"/>
<circle cx="347.5" cy="152.1" r="2.3" fill="#ff00ff" stroke="#000" stroke-width="1.0"/>
<circle cx="343.0" cy="147.0" r="2.3" fill="#ff00ff" stroke="#000" stroke-width="1.0"/>
<circle cx="344.3" cy="143.7" r="2.3" fill="#ff00ff" stroke="#000" stroke-width="1.0"/>
<circle cx="349.5" cy="140.5" r="2.3" fill="#ff00ff" stroke="#000" stroke-width="1.0"/>
<circle cx="348.2" cy="136.6" r="2.3" fill="#ff00ff" stroke="#000" stroke-width="1.0"/>
<circle cx="347.1" cy="138.2" r="2.3" fill="#ff00ff" stroke="#000" stroke-width="1.0"/>
<circle cx="350.1" cy="129.0" r="2.3" fill="#ff00ff" stroke="#000" stroke-width="1.0"/>
<circle cx="353.4" cy="146.3" r="2.3" fill="#ff00ff" stroke="#000" stroke-width="1.0"/>
<circle cx="357.0" cy="143.7" r="2.3" fill="#ff00ff" stroke="#000" stroke-width="1.0"/>
<circle cx="358.6" cy="135.3" r="2.3" fill="#ff00ff" stroke="#000" stroke-width="1.0"/>
<circle cx="363.1" cy="132.7" r="2.3" fill="#ff00ff" stroke="#000" stroke-width="1.0"/>
<circle cx="365.7" cy="136.6" r="2.3" fill="#ff00ff" stroke="#000" stroke-width="1.0"/>
<circle cx="369.0" cy="134.6" r="2.3" fill="#ff00ff" stroke="#000" stroke-width="1.0"/>
<circle cx="370.9" cy="132.0" r="2.3" fill="#ff00ff" stroke="#000" stroke-width="1.0"/>
<circle cx="375.5" cy="129.4" r="2.3" fill="#ff00ff" stroke="#000" stroke-width="1.0"/>
<circle cx="376.1" cy="126.2" r="2.3" fill="#ff00ff" stroke="#000" stroke-width="1.0"/>
<circle cx="378.7" cy="126.2" r="2.3" fill="#ff00ff" stroke="#000" stroke-width="1.0"/>
<circle cx="374.8" cy="122.9" r="2.3" fill="#ff00ff" stroke="#000" stroke-width="1.0"/>
<circle cx="372.9" cy="119.0" r="2.3" fill="#ff00ff" stroke="#000" stroke-width="1.0"/>
<circle cx="376.1" cy="115.1" r="2.3" fill="#ff00ff" stroke="#000" stroke-width="1.0"/>
<circle cx="376.1" cy="108.0" r="2.3" fill="#ff00ff" stroke="#000" stroke-width="1.0"/>
<circle cx="378.7" cy="105.4" r="2.3" fill="#ff00ff" stroke="#000" stroke-width="1.0"/>
<circle cx="381.3" cy="111.9" r="2.3" fill="#ff00ff" stroke="#000" stroke-width="1.0"/>
<circle cx="380.6" cy="119.7" r="2.3" fill="#ff00ff" stroke="#000" stroke-width="1.0"/>
<circle cx="387.1" cy="118.4" r="2.3" fill="#ff00ff" stroke="#000" stroke-width="1.0"/>
<circle cx="387.8" cy="115.8" r="2.3" fill="#ff00ff" stroke="#000" stroke-width="1.0"/>
<circle cx="390.4" cy="108.0" r="2.3" fill="#ff00ff" stroke="#000" stroke-width="1.0"/>
<circle cx="390.4" cy="97.6" r="2.3" fill="#ff00ff" stroke="#000" stroke-width="1.0"/>
<circle cx="393.6" cy="100.2" r="2.3" fill="#ff00ff" stroke="#000" stroke-width="1.0"/>
<circle cx="392.3" cy="111.9" r="2.3" fill="#ff00ff" stroke="#000" stroke-width="1.0"/>
<circle cx="396.2" cy="108.0" r="2.3" fill="#ff00ff" stroke="#000" stroke-width="1.0"/>
<circle cx="398.8" cy="97.0" r="2.3" fill="#ff00ff" stroke="#000" stroke-width="1.0"/>
<circle cx="400.8" cy="104.1" r="2.3" fill="#ff00ff" stroke="#000" stroke-width="1.0"/>
<circle cx="402.7" cy="98.9" r="2.3" fill="#ff00ff" stroke="#000" stroke-width="1.0"/>
<circle cx="406.6" cy="100.2" r="2.3" fill="#ff00ff" stroke="#000" stroke-width="1.0"/>
<circle cx="407.9" cy="96.3" r="2.3" fill="#ff00ff" stroke="#000" stroke-width="1.0"/>
<circle cx="468.5" cy="43.6" r="2.3" fill="#ff00ff" stroke="#000" stroke-width="1.0"/>
<circle cx="459.1" cy="46.9" r="2.3" fill="#ff00ff" stroke="#000" stroke-width="1.0"/>
<circle cx="445.5" cy="55.4" r="2.3" fill="#ff00ff" stroke="#000" stroke-width="1.0"/>
<circle cx="445.2" cy="60.6" r="2.3" fill="#ff00ff" stroke="#000" stroke-width="1.0"/>
<circle cx="451.1" cy="60.9" r="2.3" fill="#ff00ff" stroke="#000" stroke-width="1.0"/>
<circle cx="439.5" cy="72.2" r="2.3" fill="#ff00ff" stroke="#000" stroke-width="1.0"/>
<circle cx="434.8" cy="69.6" r="2.3" fill="#ff00ff" stroke="#000" stroke-width="1.0"/>
<circle cx="427.4" cy="72.8" r="2.3" fill="#ff00ff" stroke="#000" stroke-width="1.0"/>
<circle cx="424.8" cy="74.0" r="2.3" fill="#ff00ff" stroke="#000" stroke-width="1.0"/>
<circle cx="421.4" cy="76.7" r="2.3" fill="#ff00ff" stroke="#000" stroke-width="1.0"/>
<circle cx="431.4" cy="80.0" r="2.3" fill="#ff00ff" stroke="#000" stroke-width="1.0"/>
<circle cx="429.5" cy="81.4" r="2.3" fill="#ff00ff" stroke="#000" stroke-width="1.0"/>
<circle cx="415.8" cy="82.6" r="2.3" fill="#ff00ff" stroke="#000" stroke-width="1.0"/>
<circle cx="418.8" cy="84.4" r="2.3" fill="#ff00ff" stroke="#000" stroke-width="1.0"/>
<circle cx="422.5" cy="87.5" r="2.3" fill="#ff00ff" stroke="#000" stroke-width="1.0"/>
<circle cx="412.1" cy="89.6" r="2.3" fill="#ff00ff" stroke="#000" stroke-width="1.0"/>
<circle cx="415.8" cy="88.9" r="2.3" fill="#ff00ff" stroke="#000" stroke-width="1.0"/>
<circle cx="413.6" cy="95.5" r="2.3" fill="#ff00ff" stroke="#000" stroke-width="1.0"/>
<circle cx="419.5" cy="93.3" r="2.3" fill="#ff00ff" stroke="#000" stroke-width="1.0"/>
<circle cx="420.2" cy="98.5" r="2.3" fill="#ff00ff" stroke="#000" stroke-width="1.0"/>
<circle cx="418.8" cy="97.8" r="2.3" fill="#ff00ff" stroke="#000" stroke-width="1.0"/>
<circle cx="400.9" cy="94.8" r="2.3" fill="#ff00ff" stroke="#000" stroke-width="1.0"/>
<circle cx="398.0" cy="97.8" r="2.3" fill="#ff00ff" stroke="#000" stroke-width="1.0"/>
<circle cx="406.9" cy="97.8" r="2.3" fill="#ff00ff" stroke="#000" stroke-width="1.0"/>
<circle cx="406.0" cy="100.7" r="2.3" fill="#ff00ff" stroke="#000" stroke-width="1.0"/>
<circle cx="394.9" cy="106.3" r="2.3" fill="#ff00ff" stroke="#000" stroke-width="1.0"/>
<circle cx="403.8" cy="104.0" r="2.3" fill="#ff00ff" stroke="#000" stroke-width="1.0"/>
<circle cx="384.6" cy="113.4" r="2.3" fill="#ff00ff" stroke="#000" stroke-width="1.0"/>
<circle cx="382.8" cy="117.0" r="2.3" fill="#ff00ff" stroke="#000" stroke-width="1.0"/>
<circle cx="426.1" cy="77.6" r="2.3" fill="#ff00ff" stroke="#000" stroke-width="1.0"/>
<circle cx="432.8" cy="68.2" r="2.3" fill="#ff00ff" stroke="#000" stroke-width="1.0"/>
<polyline points="334.66,144.17 338.03,141.38 341.39,138.59 344.76,135.80 348.13,133.01 351.50,130.21 354.86,127.42 358.23,124.63 361.60,121.84 364.97,119.05 368.33,116.25 371.70,113.46 375.07,110.67 378.43,107.88 381.80,105.09 385.17,102.29 388.54,99.50 391.90,96.71 395.27,93.92 398.64,91.13 402.01,88.33 405.37,85.54 408.74,82.75 412.11,79.96 415.48,77.17 418.84,74.37 422.21,71.58 425.58,68.79 428.94,66.00 432.31,63.21 435.68,60.41 439.05,57.62 442.41,54.83 445.78,52.04 449.15,49.25 452.52,46.45 455.88,43.66 459.25,40.87 462.62,38.08 465.98,35.29 469.35,32.49" fill="none" stroke="#1a1aff" stroke-width="1.5" stroke-dasharray="3 2.2"/>
<polyline points="334.66,166.99 338.03,164.20 341.39,161.41 344.76,158.61 348.13,155.82 351.50,153.03 354.86,150.24 358.23,147.45 361.60,144.65 364.97,141.86 368.33,139.07 371.70,136.28 375.07,133.49 378.43,130.69 381.80,127.90 385.17,125.11 388.54,122.32 391.90,119.53 395.27,116.74 398.64,113.94 402.01,111.15 405.37,108.36 408.74,105.57 412.11,102.78 415.48,99.98 418.84,97.19 422.21,94.40 425.58,91.61 428.94,88.82 432.31,86.02 435.68,83.23 439.05,80.44 442.41,77.65 445.78,74.86 449.15,72.06 452.52,69.27 455.88,66.48 459.25,63.69 462.62,60.90 465.98,58.10 469.35,55.31" fill="none" stroke="#1a1aff" stroke-width="1.5" stroke-dasharray="3 2.2"/>
<polyline points="334.66,152.68 338.03,150.02 341.39,147.35 344.76,144.69 348.13,142.02 351.50,139.34 354.86,136.67 358.23,133.99 361.60,131.30 364.97,128.61 368.33,125.92 371.70,123.21 375.07,120.50 378.43,117.77 381.80,115.04 385.17,112.29 388.54,109.52 391.90,106.74 395.27,103.94 398.64,101.13 402.01,98.31 405.37,95.46 408.74,92.61 412.11,89.74 415.48,86.87 418.84,83.99 422.21,81.09 425.58,78.20 428.94,75.30 432.31,72.39 435.68,69.48 439.05,66.56 442.41,63.65 445.78,60.73 449.15,57.81 452.52,54.89 455.88,51.96 459.25,49.03 462.62,46.11 465.98,43.18 469.35,40.25" fill="none" stroke="#22e622" stroke-width="1.6" stroke-dasharray="5 3"/>
<polyline points="334.66,158.49 338.03,155.56 341.39,152.64 344.76,149.73 348.13,146.81 351.50,143.90 354.86,140.99 358.23,138.09 361.60,135.19 364.97,132.29 368.33,129.41 371.70,126.53 375.07,123.66 378.43,120.80 381.80,117.95 385.17,115.12 388.54,112.30 391.90,109.50 395.27,106.71 398.64,103.94 402.01,101.18 405.37,98.44 408.74,95.71 412.11,92.99 415.48,90.28 418.84,87.58 422.21,84.89 425.58,82.20 428.94,79.52 432.31,76.84 435.68,74.17 439.05,71.50 442.41,68.83 445.78,66.17 449.15,63.50 452.52,60.84 455.88,58.18 459.25,55.52 462.62,52.87 465.98,50.21 469.35,47.56" fill="none" stroke="#22e622" stroke-width="1.6" stroke-dasharray="5 3"/>
<polyline points="334.66,155.58 338.03,152.79 341.39,150.00 344.76,147.21 348.13,144.41 351.50,141.62 354.86,138.83 358.23,136.04 361.60,133.25 364.97,130.45 368.33,127.66 371.70,124.87 375.07,122.08 378.43,119.29 381.80,116.49 385.17,113.70 388.54,110.91 391.90,108.12 395.27,105.33 398.64,102.53 402.01,99.74 405.37,96.95 408.74,94.16 412.11,91.37 415.48,88.57 418.84,85.78 422.21,82.99 425.58,80.20 428.94,77.41 432.31,74.61 435.68,71.82 439.05,69.03 442.41,66.24 445.78,63.45 449.15,60.66 452.52,57.86 455.88,55.07 459.25,52.28 462.62,49.49 465.98,46.70 469.35,43.90" fill="none" stroke="#f21d1d" stroke-width="1.6"/>
<text x="322.7" y="38.2" font-family='"Liberation Serif", serif' font-size="10" font-weight="bold" fill="#111" stroke="#111" stroke-width="0.3" text-anchor="start" >(d)</text>
<text x="332.2" y="53.6" font-family='"Liberation Sans", sans-serif' font-size="8.1" font-weight="bold" fill="#111" stroke="#111" stroke-width="0.3" text-anchor="start" >Slope = 0.94</text>
<text x="332.2" y="64.8" font-family='"Liberation Sans", sans-serif' font-size="8.1" font-weight="bold" fill="#111" stroke="#111" stroke-width="0.3" text-anchor="start" >Intercept = 0.844</text>
<text x="332.2" y="76.0" font-family='"Liberation Sans", sans-serif' font-size="8.1" font-weight="bold" fill="#111" stroke="#111" stroke-width="0.3" text-anchor="start" >r = 0.975</text>
<line x1="369.9" y1="146.2" x2="383.9" y2="146.2" stroke="#f21d1d" stroke-width="1.8"/>
<text x="385.7" y="148.8" font-family='"Liberation Sans", sans-serif' font-size="7.2" font-weight="bold" fill="#111" stroke="#111" stroke-width="0.3" text-anchor="start" >Linear regression</text>
<line x1="369.9" y1="156.4" x2="383.9" y2="156.4" stroke="#22e622" stroke-width="1.8" stroke-dasharray="6 6.3 2"/>
<text x="385.7" y="159.0" font-family='"Liberation Sans", sans-serif' font-size="7.2" font-weight="bold" fill="#111" stroke="#111" stroke-width="0.3" text-anchor="start" >95% Confidence intervals</text>
<line x1="369.9" y1="166.5" x2="383.9" y2="166.5" stroke="#1a1aff" stroke-width="1.8" stroke-dasharray="3 2.2"/>
<text x="385.7" y="169.1" font-family='"Liberation Sans", sans-serif' font-size="7.2" font-weight="bold" fill="#111" stroke="#111" stroke-width="0.3" text-anchor="start" >95% Prediction intervals</text>
<text x="403.1" y="200.6" font-family='"Liberation Sans", sans-serif' font-size="8.2" font-weight="bold" fill="#111" stroke="#111" stroke-width="0.3" text-anchor="middle" >TSB from blood test (mg/dL)</text>
<text transform="translate(300.0,104.4) rotate(-90)" x="0" y="0" font-family='"Liberation Sans", sans-serif' font-size="9.0" font-weight="bold" fill="#111" stroke="#111" stroke-width="0.3" text-anchor="middle">TSB from instrument (mg/dL)</text>
<rect x="515.4" y="24.6" width="157.9" height="145.9" fill="none" stroke="#151515" stroke-width="1.7"/>
<path d="M519.60,170.50v3.0M541.58,170.50v3.0M563.55,170.50v3.0M585.52,170.50v3.0M607.50,170.50v3.0M629.48,170.50v3.0M651.45,170.50v3.0M673.42,170.50v3.0M530.59,170.50v1.7M552.56,170.50v1.7M574.54,170.50v1.7M596.51,170.50v1.7M618.49,170.50v1.7M640.46,170.50v1.7M662.44,170.50v1.7M515.40,160.90h-3.0M515.40,141.48h-3.0M515.40,122.06h-3.0M515.40,102.64h-3.0M515.40,83.22h-3.0M515.40,63.80h-3.0M515.40,44.38h-3.0M515.40,24.96h-3.0M515.40,151.19h-1.7M515.40,131.77h-1.7M515.40,112.35h-1.7M515.40,92.93h-1.7M515.40,73.51h-1.7M515.40,54.09h-1.7M515.40,34.67h-1.7M515.40,170.61h-1.7" stroke="#111" stroke-width="1.35" fill="none"/>
<text x="519.6" y="182.5" font-family='"Liberation Sans", sans-serif' font-size="7.7" font-weight="bold" fill="#111" stroke="#111" stroke-width="0.3" text-anchor="middle" >0</text>
<text x="541.6" y="182.5" font-family='"Liberation Sans", sans-serif' font-size="7.7" font-weight="bold" fill="#111" stroke="#111" stroke-width="0.3" text-anchor="middle" >5</text>
<text x="563.6" y="182.5" font-family='"Liberation Sans", sans-serif' font-size="7.7" font-weight="bold" fill="#111" stroke="#111" stroke-width="0.3" text-anchor="middle" >10</text>
<text x="585.5" y="182.5" font-family='"Liberation Sans", sans-serif' font-size="7.7" font-weight="bold" fill="#111" stroke="#111" stroke-width="0.3" text-anchor="middle" >15</text>
<text x="607.5" y="182.5" font-family='"Liberation Sans", sans-serif' font-size="7.7" font-weight="bold" fill="#111" stroke="#111" stroke-width="0.3" text-anchor="middle" >20</text>
<text x="629.5" y="182.5" font-family='"Liberation Sans", sans-serif' font-size="7.7" font-weight="bold" fill="#111" stroke="#111" stroke-width="0.3" text-anchor="middle" >25</text>
<text x="651.5" y="182.5" font-family='"Liberation Sans", sans-serif' font-size="7.7" font-weight="bold" fill="#111" stroke="#111" stroke-width="0.3" text-anchor="middle" >30</text>
<text x="673.4" y="182.5" font-family='"Liberation Sans", sans-serif' font-size="7.7" font-weight="bold" fill="#111" stroke="#111" stroke-width="0.3" text-anchor="middle" >35</text>
<text x="511.0" y="163.0" font-family='"Liberation Sans", sans-serif' font-size="7.7" font-weight="bold" fill="#111" stroke="#111" stroke-width="0.3" text-anchor="end" >0</text>
<text x="511.0" y="143.6" font-family='"Liberation Sans", sans-serif' font-size="7.7" font-weight="bold" fill="#111" stroke="#111" stroke-width="0.3" text-anchor="end" >5</text>
<text x="511.0" y="124.2" font-family='"Liberation Sans", sans-serif' font-size="7.7" font-weight="bold" fill="#111" stroke="#111" stroke-width="0.3" text-anchor="end" >10</text>
<text x="511.0" y="104.8" font-family='"Liberation Sans", sans-serif' font-size="7.7" font-weight="bold" fill="#111" stroke="#111" stroke-width="0.3" text-anchor="end" >15</text>
<text x="511.0" y="85.3" font-family='"Liberation Sans", sans-serif' font-size="7.7" font-weight="bold" fill="#111" stroke="#111" stroke-width="0.3" text-anchor="end" >20</text>
<text x="511.0" y="65.9" font-family='"Liberation Sans", sans-serif' font-size="7.7" font-weight="bold" fill="#111" stroke="#111" stroke-width="0.3" text-anchor="end" >25</text>
<text x="511.0" y="46.5" font-family='"Liberation Sans", sans-serif' font-size="7.7" font-weight="bold" fill="#111" stroke="#111" stroke-width="0.3" text-anchor="end" >30</text>
<text x="511.0" y="27.1" font-family='"Liberation Sans", sans-serif' font-size="7.7" font-weight="bold" fill="#111" stroke="#111" stroke-width="0.3" text-anchor="end" >35</text>
<circle cx="527.1" cy="158.2" r="2.4" fill="#f58a00" stroke="#000" stroke-width="1.0"/>
<circle cx="529.7" cy="156.6" r="2.4" fill="#f58a00" stroke="#000" stroke-width="1.0"/>
<circle cx="526.2" cy="159.0" r="2.4" fill="#f58a00" stroke="#000" stroke-width="1.0"/>
<circle cx="536.5" cy="146.1" r="2.4" fill="#f58a00" stroke="#000" stroke-width="1.0"/>
<circle cx="536.5" cy="150.0" r="2.4" fill="#f58a00" stroke="#000" stroke-width="1.0"/>
<circle cx="543.3" cy="135.7" r="2.4" fill="#f58a00" stroke="#000" stroke-width="1.0"/>
<circle cx="546.0" cy="140.7" r="2.4" fill="#f58a00" stroke="#000" stroke-width="1.0"/>
<circle cx="552.6" cy="132.2" r="2.4" fill="#f58a00" stroke="#000" stroke-width="1.0"/>
<circle cx="561.4" cy="125.2" r="2.4" fill="#f58a00" stroke="#000" stroke-width="1.0"/>
<circle cx="567.5" cy="121.7" r="2.4" fill="#f58a00" stroke="#000" stroke-width="1.0"/>
<circle cx="568.4" cy="111.6" r="2.4" fill="#f58a00" stroke="#000" stroke-width="1.0"/>
<circle cx="571.5" cy="110.4" r="2.4" fill="#f58a00" stroke="#000" stroke-width="1.0"/>
<circle cx="575.4" cy="111.6" r="2.4" fill="#f58a00" stroke="#000" stroke-width="1.0"/>
<circle cx="576.3" cy="117.0" r="2.4" fill="#f58a00" stroke="#000" stroke-width="1.0"/>
<circle cx="579.4" cy="102.3" r="2.4" fill="#f58a00" stroke="#000" stroke-width="1.0"/>
<circle cx="583.3" cy="98.8" r="2.4" fill="#f58a00" stroke="#000" stroke-width="1.0"/>
<circle cx="580.7" cy="108.5" r="2.4" fill="#f58a00" stroke="#000" stroke-width="1.0"/>
<circle cx="584.2" cy="106.9" r="2.4" fill="#f58a00" stroke="#000" stroke-width="1.0"/>
<circle cx="586.8" cy="104.2" r="2.4" fill="#f58a00" stroke="#000" stroke-width="1.0"/>
<circle cx="590.4" cy="100.3" r="2.4" fill="#f58a00" stroke="#000" stroke-width="1.0"/>
<circle cx="593.9" cy="95.3" r="2.4" fill="#f58a00" stroke="#000" stroke-width="1.0"/>
<circle cx="599.6" cy="93.3" r="2.4" fill="#f58a00" stroke="#000" stroke-width="1.0"/>
<circle cx="600.9" cy="89.0" r="2.4" fill="#f58a00" stroke="#000" stroke-width="1.0"/>
<circle cx="607.5" cy="82.1" r="2.4" fill="#f58a00" stroke="#000" stroke-width="1.0"/>
<circle cx="615.9" cy="71.2" r="2.4" fill="#f58a00" stroke="#000" stroke-width="1.0"/>
<circle cx="617.2" cy="80.9" r="2.4" fill="#f58a00" stroke="#000" stroke-width="1.0"/>
<circle cx="617.6" cy="75.5" r="2.4" fill="#f58a00" stroke="#000" stroke-width="1.0"/>
<circle cx="656.7" cy="43.6" r="2.4" fill="#f58a00" stroke="#000" stroke-width="1.0"/>
<circle cx="582.0" cy="100.7" r="2.4" fill="#f58a00" stroke="#000" stroke-width="1.0"/>
<circle cx="583.8" cy="103.4" r="2.4" fill="#f58a00" stroke="#000" stroke-width="1.0"/>
<polyline points="526.02,147.37 529.28,144.46 532.54,141.55 535.80,138.64 539.06,135.73 542.32,132.82 545.58,129.91 548.84,127.00 552.10,124.09 555.36,121.18 558.62,118.27 561.88,115.36 565.14,112.45 568.40,109.54 571.66,106.63 574.92,103.72 578.18,100.81 581.44,97.90 584.70,94.99 587.96,92.08 591.22,89.17 594.48,86.26 597.74,83.35 601.00,80.44 604.26,77.53 607.52,74.62 610.78,71.71 614.04,68.80 617.30,65.89 620.56,62.98 623.82,60.07 627.08,57.16 630.34,54.25 633.60,51.34 636.86,48.43 640.12,45.52 643.38,42.61 646.64,39.70 649.90,36.79 653.16,33.88 656.42,30.98" fill="none" stroke="#1a1aff" stroke-width="1.6" stroke-dasharray="3 2.2"/>
<polyline points="526.02,166.01 529.28,163.10 532.54,160.19 535.80,157.28 539.06,154.37 542.32,151.46 545.58,148.55 548.84,145.64 552.10,142.73 555.36,139.82 558.62,136.91 561.88,134.00 565.14,131.09 568.40,128.18 571.66,125.27 574.92,122.36 578.18,119.45 581.44,116.54 584.70,113.63 587.96,110.72 591.22,107.81 594.48,104.90 597.74,101.99 601.00,99.08 604.26,96.17 607.52,93.26 610.78,90.36 614.04,87.45 617.30,84.54 620.56,81.63 623.82,78.72 627.08,75.81 630.34,72.90 633.60,69.99 636.86,67.08 640.12,64.17 643.38,61.26 646.64,58.35 649.90,55.44 653.16,52.53 656.42,49.62" fill="none" stroke="#1a1aff" stroke-width="1.6" stroke-dasharray="3 2.2"/>
<polyline points="526.02,152.40 529.28,149.66 532.54,146.92 535.80,144.18 539.06,141.43 542.32,138.68 545.58,135.93 548.84,133.17 552.10,130.41 555.36,127.64 558.62,124.87 561.88,122.09 565.14,119.30 568.40,116.50 571.66,113.70 574.92,110.88 578.18,108.04 581.44,105.20 584.70,102.33 587.96,99.45 591.22,96.55 594.48,93.63 597.74,90.69 601.00,87.74 604.26,84.77 607.52,81.78 610.78,78.78 614.04,75.77 617.30,72.74 620.56,69.71 623.82,66.67 627.08,63.63 630.34,60.57 633.60,57.52 636.86,54.45 640.12,51.39 643.38,48.32 646.64,45.25 649.90,42.17 653.16,39.10 656.42,36.02" fill="none" stroke="#22e622" stroke-width="1.6" stroke-dasharray="5 3"/>
<polyline points="526.02,160.97 529.28,157.89 532.54,154.81 535.80,151.74 539.06,148.67 542.32,145.60 545.58,142.53 548.84,139.47 552.10,136.41 555.36,133.36 558.62,130.31 561.88,127.27 565.14,124.24 568.40,121.22 571.66,118.21 574.92,115.21 578.18,112.22 581.44,109.25 584.70,106.29 587.96,103.35 591.22,100.43 594.48,97.53 597.74,94.65 601.00,91.79 604.26,88.94 607.52,86.11 610.78,83.29 614.04,80.48 617.30,77.68 620.56,74.90 623.82,72.12 627.08,69.34 630.34,66.58 633.60,63.81 636.86,61.06 640.12,58.30 643.38,55.55 646.64,52.81 649.90,50.06 653.16,47.32 656.42,44.58" fill="none" stroke="#22e622" stroke-width="1.6" stroke-dasharray="5 3"/>
<polyline points="526.02,156.69 529.28,153.78 532.54,150.87 535.80,147.96 539.06,145.05 542.32,142.14 545.58,139.23 548.84,136.32 552.10,133.41 555.36,130.50 558.62,127.59 561.88,124.68 565.14,121.77 568.40,118.86 571.66,115.95 574.92,113.04 578.18,110.13 581.44,107.22 584.70,104.31 587.96,101.40 591.22,98.49 594.48,95.58 597.74,92.67 601.00,89.76 604.26,86.85 607.52,83.94 610.78,81.03 614.04,78.12 617.30,75.21 620.56,72.30 623.82,69.39 627.08,66.48 630.34,63.57 633.60,60.67 636.86,57.76 640.12,54.85 643.38,51.94 646.64,49.03 649.90,46.12 653.16,43.21 656.42,40.30" fill="none" stroke="#f21d1d" stroke-width="1.7"/>
<text x="516.9" y="33.2" font-family='"Liberation Serif", serif' font-size="10" font-weight="bold" fill="#111" stroke="#111" stroke-width="0.3" text-anchor="start" >(g)</text>
<text x="524.9" y="59.5" font-family='"Liberation Sans", sans-serif' font-size="7.9" font-weight="bold" fill="#111" stroke="#111" stroke-width="0.3" text-anchor="start" >Slope = 1.006</text>
<text x="524.9" y="71.1" font-family='"Liberation Sans", sans-serif' font-size="7.9" font-weight="bold" fill="#111" stroke="#111" stroke-width="0.3" text-anchor="start" >Intercept = 0.372</text>
<text x="524.9" y="82.7" font-family='"Liberation Sans", sans-serif' font-size="7.9" font-weight="bold" fill="#111" stroke="#111" stroke-width="0.3" text-anchor="start" >r = 0.988</text>
<line x1="571.9" y1="135.5" x2="585.9" y2="135.5" stroke="#f21d1d" stroke-width="1.8"/>
<text x="587.1" y="138.0" font-family='"Liberation Sans", sans-serif' font-size="6.95" font-weight="bold" fill="#111" stroke="#111" stroke-width="0.3" text-anchor="start" >Linear regression</text>
<line x1="571.9" y1="145.7" x2="585.9" y2="145.7" stroke="#22e622" stroke-width="1.8" stroke-dasharray="6 6.3 2"/>
<text x="587.1" y="148.2" font-family='"Liberation Sans", sans-serif' font-size="6.95" font-weight="bold" fill="#111" stroke="#111" stroke-width="0.3" text-anchor="start" >95% Confidence intervals</text>
<line x1="571.9" y1="155.6" x2="585.9" y2="155.6" stroke="#1a1aff" stroke-width="1.8" stroke-dasharray="3 2.2"/>
<text x="587.1" y="158.1" font-family='"Liberation Sans", sans-serif' font-size="6.95" font-weight="bold" fill="#111" stroke="#111" stroke-width="0.3" text-anchor="start" >95% Prediction intervals</text>
<text x="594.8" y="198.2" font-family='"Liberation Sans", sans-serif' font-size="7.8" font-weight="bold" fill="#111" stroke="#111" stroke-width="0.3" text-anchor="middle" >TSB from blood test (mg/dL)</text>
<text transform="translate(497.2,103.0) rotate(-90)" x="0" y="0" font-family='"Liberation Sans", sans-serif' font-size="8.85" font-weight="bold" fill="#111" stroke="#111" stroke-width="0.3" text-anchor="middle">TSB from instrument (mg/dL)</text>
<rect x="127.7" y="206.8" width="164.1" height="127.8" fill="none" stroke="#151515" stroke-width="1.7"/>
<path d="M127.70,334.60v2.5M151.10,334.60v2.5M174.50,334.60v2.5M197.90,334.60v2.5M221.30,334.60v2.5M244.70,334.60v2.5M268.10,334.60v2.5M291.50,334.60v2.5M139.40,334.60v1.5M162.80,334.60v1.5M186.20,334.60v1.5M209.60,334.60v1.5M233.00,334.60v1.5M256.40,334.60v1.5M279.80,334.60v1.5M127.70,334.60h-2.5M127.70,318.60h-2.5M127.70,302.60h-2.5M127.70,286.60h-2.5M127.70,270.60h-2.5M127.70,254.60h-2.5M127.70,238.60h-2.5M127.70,222.60h-2.5M127.70,206.60h-2.5M127.70,326.60h-1.5M127.70,310.60h-1.5M127.70,294.60h-1.5M127.70,278.60h-1.5M127.70,262.60h-1.5M127.70,246.60h-1.5M127.70,230.60h-1.5M127.70,214.60h-1.5" stroke="#111" stroke-width="1.35" fill="none"/>
<text x="127.7" y="343.6" font-family='"Liberation Sans", sans-serif' font-size="6.6" font-weight="bold" fill="#111" stroke="#111" stroke-width="0.3" text-anchor="middle" >0</text>
<text x="151.1" y="343.6" font-family='"Liberation Sans", sans-serif' font-size="6.6" font-weight="bold" fill="#111" stroke="#111" stroke-width="0.3" text-anchor="middle" >5</text>
<text x="174.5" y="343.6" font-family='"Liberation Sans", sans-serif' font-size="6.6" font-weight="bold" fill="#111" stroke="#111" stroke-width="0.3" text-anchor="middle" >10</text>
<text x="197.9" y="343.6" font-family='"Liberation Sans", sans-serif' font-size="6.6" font-weight="bold" fill="#111" stroke="#111" stroke-width="0.3" text-anchor="middle" >15</text>
<text x="221.3" y="343.6" font-family='"Liberation Sans", sans-serif' font-size="6.6" font-weight="bold" fill="#111" stroke="#111" stroke-width="0.3" text-anchor="middle" >20</text>
<text x="244.7" y="343.6" font-family='"Liberation Sans", sans-serif' font-size="6.6" font-weight="bold" fill="#111" stroke="#111" stroke-width="0.3" text-anchor="middle" >25</text>
<text x="268.1" y="343.6" font-family='"Liberation Sans", sans-serif' font-size="6.6" font-weight="bold" fill="#111" stroke="#111" stroke-width="0.3" text-anchor="middle" >30</text>
<text x="291.5" y="343.6" font-family='"Liberation Sans", sans-serif' font-size="6.6" font-weight="bold" fill="#111" stroke="#111" stroke-width="0.3" text-anchor="middle" >35</text>
<text x="124.1" y="336.4" font-family='"Liberation Sans", sans-serif' font-size="6.6" font-weight="bold" fill="#111" stroke="#111" stroke-width="0.3" text-anchor="end" >0</text>
<text x="124.1" y="320.4" font-family='"Liberation Sans", sans-serif' font-size="6.6" font-weight="bold" fill="#111" stroke="#111" stroke-width="0.3" text-anchor="end" >5</text>
<text x="124.1" y="304.4" font-family='"Liberation Sans", sans-serif' font-size="6.6" font-weight="bold" fill="#111" stroke="#111" stroke-width="0.3" text-anchor="end" >10</text>
<text x="124.1" y="288.4" font-family='"Liberation Sans", sans-serif' font-size="6.6" font-weight="bold" fill="#111" stroke="#111" stroke-width="0.3" text-anchor="end" >15</text>
<text x="124.1" y="272.4" font-family='"Liberation Sans", sans-serif' font-size="6.6" font-weight="bold" fill="#111" stroke="#111" stroke-width="0.3" text-anchor="end" >20</text>
<text x="124.1" y="256.4" font-family='"Liberation Sans", sans-serif' font-size="6.6" font-weight="bold" fill="#111" stroke="#111" stroke-width="0.3" text-anchor="end" >25</text>
<text x="124.1" y="240.4" font-family='"Liberation Sans", sans-serif' font-size="6.6" font-weight="bold" fill="#111" stroke="#111" stroke-width="0.3" text-anchor="end" >30</text>
<text x="124.1" y="224.4" font-family='"Liberation Sans", sans-serif' font-size="6.6" font-weight="bold" fill="#111" stroke="#111" stroke-width="0.3" text-anchor="end" >35</text>
<text x="124.1" y="208.4" font-family='"Liberation Sans", sans-serif' font-size="6.6" font-weight="bold" fill="#111" stroke="#111" stroke-width="0.3" text-anchor="end" >40</text>
<circle cx="185.0" cy="308.3" r="2.45" fill="#ffee00" stroke="#880000" stroke-width="1.05"/>
<circle cx="230.9" cy="290.5" r="2.45" fill="#ffee00" stroke="#880000" stroke-width="1.05"/>
<circle cx="210.7" cy="303.1" r="2.45" fill="#ffee00" stroke="#880000" stroke-width="1.05"/>
<circle cx="241.6" cy="254.5" r="2.45" fill="#ffee00" stroke="#880000" stroke-width="1.05"/>
<circle cx="247.9" cy="260.3" r="2.45" fill="#ffee00" stroke="#880000" stroke-width="1.05"/>
<circle cx="224.2" cy="272.1" r="2.45" fill="#ffee00" stroke="#880000" stroke-width="1.05"/>
<circle cx="196.0" cy="283.7" r="2.45" fill="#ffee00" stroke="#880000" stroke-width="1.05"/>
<circle cx="183.1" cy="298.6" r="2.45" fill="#ffee00" stroke="#880000" stroke-width="1.05"/>
<circle cx="231.6" cy="262.7" r="2.45" fill="#ffee00" stroke="#880000" stroke-width="1.05"/>
<circle cx="204.1" cy="250.5" r="2.45" fill="#ffee00" stroke="#880000" stroke-width="1.05"/>
<circle cx="215.7" cy="281.5" r="2.45" fill="#ffee00" stroke="#880000" stroke-width="1.05"/>
<circle cx="218.2" cy="279.0" r="2.45" fill="#ffee00" stroke="#880000" stroke-width="1.05"/>
<circle cx="204.7" cy="285.1" r="2.45" fill="#ffee00" stroke="#880000" stroke-width="1.05"/>
<circle cx="264.5" cy="242.7" r="2.45" fill="#ffee00" stroke="#880000" stroke-width="1.05"/>
<circle cx="218.6" cy="262.3" r="2.45" fill="#ffee00" stroke="#880000" stroke-width="1.05"/>
<circle cx="264.3" cy="246.2" r="2.45" fill="#ffee00" stroke="#880000" stroke-width="1.05"/>
<circle cx="198.8" cy="249.9" r="2.45" fill="#ffee00" stroke="#880000" stroke-width="1.05"/>
<circle cx="178.1" cy="301.9" r="2.45" fill="#ffee00" stroke="#880000" stroke-width="1.05"/>
<circle cx="230.8" cy="250.6" r="2.45" fill="#ffee00" stroke="#880000" stroke-width="1.05"/>
<circle cx="190.7" cy="315.6" r="2.45" fill="#ffee00" stroke="#880000" stroke-width="1.05"/>
<circle cx="230.7" cy="271.3" r="2.45" fill="#ffee00" stroke="#880000" stroke-width="1.05"/>
<circle cx="204.7" cy="274.0" r="2.45" fill="#ffee00" stroke="#880000" stroke-width="1.05"/>
<circle cx="219.8" cy="266.8" r="2.45" fill="#ffee00" stroke="#880000" stroke-width="1.05"/>
<circle cx="203.6" cy="263.2" r="2.45" fill="#ffee00" stroke="#880000" stroke-width="1.05"/>
<circle cx="251.6" cy="250.6" r="2.45" fill="#ffee00" stroke="#880000" stroke-width="1.05"/>
<circle cx="203.1" cy="271.2" r="2.45" fill="#ffee00" stroke="#880000" stroke-width="1.05"/>
<circle cx="226.1" cy="281.2" r="2.45" fill="#ffee00" stroke="#880000" stroke-width="1.05"/>
<circle cx="202.9" cy="267.0" r="2.45" fill="#ffee00" stroke="#880000" stroke-width="1.05"/>
<circle cx="211.9" cy="280.3" r="2.45" fill="#ffee00" stroke="#880000" stroke-width="1.05"/>
<circle cx="219.5" cy="271.5" r="2.45" fill="#ffee00" stroke="#880000" stroke-width="1.05"/>
<circle cx="214.2" cy="300.9" r="2.45" fill="#ffee00" stroke="#880000" stroke-width="1.05"/>
<circle cx="257.7" cy="245.0" r="2.45" fill="#ffee00" stroke="#880000" stroke-width="1.05"/>
<circle cx="192.5" cy="274.4" r="2.45" fill="#ffee00" stroke="#880000" stroke-width="1.05"/>
<circle cx="221.9" cy="269.3" r="2.45" fill="#ffee00" stroke="#880000" stroke-width="1.05"/>
<circle cx="240.3" cy="244.7" r="2.45" fill="#ffee00" stroke="#880000" stroke-width="1.05"/>
<circle cx="228.0" cy="243.9" r="2.45" fill="#ffee00" stroke="#880000" stroke-width="1.05"/>
<circle cx="267.8" cy="255.0" r="2.45" fill="#ffee00" stroke="#880000" stroke-width="1.05"/>
<circle cx="201.3" cy="271.7" r="2.45" fill="#ffee00" stroke="#880000" stroke-width="1.05"/>
<circle cx="171.9" cy="304.4" r="2.45" fill="#ffee00" stroke="#880000" stroke-width="1.05"/>
<circle cx="246.3" cy="252.1" r="2.45" fill="#ffee00" stroke="#880000" stroke-width="1.05"/>
<circle cx="228.7" cy="291.4" r="2.45" fill="#ffee00" stroke="#880000" stroke-width="1.05"/>
<circle cx="227.9" cy="255.2" r="2.45" fill="#ffee00" stroke="#880000" stroke-width="1.05"/>
<circle cx="226.6" cy="290.3" r="2.45" fill="#ffee00" stroke="#880000" stroke-width="1.05"/>
<circle cx="178.7" cy="313.2" r="2.45" fill="#ffee00" stroke="#880000" stroke-width="1.05"/>
<circle cx="261.9" cy="256.1" r="2.45" fill="#ffee00" stroke="#880000" stroke-width="1.05"/>
<circle cx="208.3" cy="281.6" r="2.45" fill="#ffee00" stroke="#880000" stroke-width="1.05"/>
<circle cx="228.4" cy="258.6" r="2.45" fill="#ffee00" stroke="#880000" stroke-width="1.05"/>
<circle cx="220.9" cy="287.5" r="2.45" fill="#ffee00" stroke="#880000" stroke-width="1.05"/>
<circle cx="218.4" cy="268.0" r="2.45" fill="#ffee00" stroke="#880000" stroke-width="1.05"/>
<circle cx="244.8" cy="256.7" r="2.45" fill="#ffee00" stroke="#880000" stroke-width="1.05"/>
<circle cx="199.1" cy="278.1" r="2.45" fill="#ffee00" stroke="#880000" stroke-width="1.05"/>
<circle cx="175.7" cy="312.7" r="2.45" fill="#ffee00" stroke="#880000" stroke-width="1.05"/>
<circle cx="189.3" cy="285.9" r="2.45" fill="#ffee00" stroke="#880000" stroke-width="1.05"/>
<circle cx="266.1" cy="239.7" r="2.45" fill="#ffee00" stroke="#880000" stroke-width="1.05"/>
<circle cx="242.6" cy="253.4" r="2.45" fill="#ffee00" stroke="#880000" stroke-width="1.05"/>
<circle cx="221.2" cy="276.2" r="2.45" fill="#ffee00" stroke="#880000" stroke-width="1.05"/>
<circle cx="207.3" cy="305.2" r="2.45" fill="#ffee00" stroke="#880000" stroke-width="1.05"/>
<circle cx="184.5" cy="310.6" r="2.45" fill="#ffee00" stroke="#880000" stroke-width="1.05"/>
<circle cx="235.0" cy="252.2" r="2.45" fill="#ffee00" stroke="#880000" stroke-width="1.05"/>
<circle cx="242.6" cy="243.2" r="2.45" fill="#ffee00" stroke="#880000" stroke-width="1.05"/>
<circle cx="206.7" cy="264.5" r="2.45" fill="#ffee00" stroke="#880000" stroke-width="1.05"/>
<circle cx="262.8" cy="244.2" r="2.45" fill="#ffee00" stroke="#880000" stroke-width="1.05"/>
<circle cx="241.2" cy="259.8" r="2.45" fill="#ffee00" stroke="#880000" stroke-width="1.05"/>
<circle cx="174.3" cy="297.6" r="2.45" fill="#ffee00" stroke="#880000" stroke-width="1.05"/>
<circle cx="193.9" cy="285.5" r="2.45" fill="#ffee00" stroke="#880000" stroke-width="1.05"/>
<circle cx="202.8" cy="277.1" r="2.45" fill="#ffee00" stroke="#880000" stroke-width="1.05"/>
<circle cx="161.3" cy="278.7" r="2.45" fill="#ffee00" stroke="#880000" stroke-width="1.05"/>
<circle cx="248.0" cy="258.1" r="2.45" fill="#ffee00" stroke="#880000" stroke-width="1.05"/>
<circle cx="191.7" cy="288.3" r="2.45" fill="#ffee00" stroke="#880000" stroke-width="1.05"/>
<circle cx="231.0" cy="258.0" r="2.45" fill="#ffee00" stroke="#880000" stroke-width="1.05"/>
<circle cx="224.2" cy="294.7" r="2.45" fill="#ffee00" stroke="#880000" stroke-width="1.05"/>
<circle cx="186.2" cy="273.3" r="2.45" fill="#ffee00" stroke="#880000" stroke-width="1.05"/>
<circle cx="220.2" cy="291.5" r="2.45" fill="#ffee00" stroke="#880000" stroke-width="1.05"/>
<circle cx="192.7" cy="307.7" r="2.45" fill="#ffee00" stroke="#880000" stroke-width="1.05"/>
<circle cx="189.0" cy="273.8" r="2.45" fill="#ffee00" stroke="#880000" stroke-width="1.05"/>
<circle cx="208.8" cy="262.2" r="2.45" fill="#ffee00" stroke="#880000" stroke-width="1.05"/>
<circle cx="219.0" cy="292.3" r="2.45" fill="#ffee00" stroke="#880000" stroke-width="1.05"/>
<circle cx="198.0" cy="252.5" r="2.45" fill="#ffee00" stroke="#880000" stroke-width="1.05"/>
<circle cx="195.0" cy="301.0" r="2.45" fill="#ffee00" stroke="#880000" stroke-width="1.05"/>
<circle cx="245.4" cy="253.6" r="2.45" fill="#ffee00" stroke="#880000" stroke-width="1.05"/>
<circle cx="214.1" cy="253.9" r="2.45" fill="#ffee00" stroke="#880000" stroke-width="1.05"/>
<circle cx="169.8" cy="296.2" r="2.45" fill="#ffee00" stroke="#880000" stroke-width="1.05"/>
<circle cx="187.6" cy="310.6" r="2.45" fill="#ffee00" stroke="#880000" stroke-width="1.05"/>
<circle cx="193.7" cy="271.0" r="2.45" fill="#ffee00" stroke="#880000" stroke-width="1.05"/>
<circle cx="210.7" cy="302.3" r="2.45" fill="#ffee00" stroke="#880000" stroke-width="1.05"/>
<circle cx="186.2" cy="270.4" r="2.45" fill="#ffee00" stroke="#880000" stroke-width="1.05"/>
<circle cx="240.2" cy="273.5" r="2.45" fill="#ffee00" stroke="#880000" stroke-width="1.05"/>
<circle cx="205.0" cy="296.9" r="2.45" fill="#ffee00" stroke="#880000" stroke-width="1.05"/>
<circle cx="210.8" cy="263.3" r="2.45" fill="#ffee00" stroke="#880000" stroke-width="1.05"/>
<circle cx="255.1" cy="246.6" r="2.45" fill="#ffee00" stroke="#880000" stroke-width="1.05"/>
<circle cx="203.4" cy="289.0" r="2.45" fill="#ffee00" stroke="#880000" stroke-width="1.05"/>
<circle cx="177.4" cy="298.4" r="2.45" fill="#ffee00" stroke="#880000" stroke-width="1.05"/>
<circle cx="199.2" cy="280.3" r="2.45" fill="#ffee00" stroke="#880000" stroke-width="1.05"/>
<circle cx="182.2" cy="301.6" r="2.45" fill="#ffee00" stroke="#880000" stroke-width="1.05"/>
<circle cx="191.9" cy="305.2" r="2.45" fill="#ffee00" stroke="#880000" stroke-width="1.05"/>
<circle cx="184.2" cy="307.4" r="2.45" fill="#ffee00" stroke="#880000" stroke-width="1.05"/>
<circle cx="184.3" cy="285.0" r="2.45" fill="#ffee00" stroke="#880000" stroke-width="1.05"/>
<circle cx="216.8" cy="291.3" r="2.45" fill="#ffee00" stroke="#880000" stroke-width="1.05"/>
<circle cx="227.3" cy="262.1" r="2.45" fill="#ffee00" stroke="#880000" stroke-width="1.05"/>
<circle cx="251.3" cy="254.0" r="2.45" fill="#ffee00" stroke="#880000" stroke-width="1.05"/>
<circle cx="209.0" cy="287.3" r="2.45" fill="#ffee00" stroke="#880000" stroke-width="1.05"/>
<circle cx="217.4" cy="265.4" r="2.45" fill="#ffee00" stroke="#880000" stroke-width="1.05"/>
<circle cx="218.7" cy="275.1" r="2.45" fill="#ffee00" stroke="#880000" stroke-width="1.05"/>
<circle cx="228.6" cy="264.1" r="2.45" fill="#ffee00" stroke="#880000" stroke-width="1.05"/>
<circle cx="220.5" cy="283.5" r="2.45" fill="#ffee00" stroke="#880000" stroke-width="1.05"/>
<circle cx="219.5" cy="285.1" r="2.45" fill="#ffee00" stroke="#880000" stroke-width="1.05"/>
<circle cx="192.9" cy="285.4" r="2.45" fill="#ffee00" stroke="#880000" stroke-width="1.05"/>
<circle cx="267.7" cy="238.8" r="2.45" fill="#ffee00" stroke="#880000" stroke-width="1.05"/>
<circle cx="214.4" cy="276.8" r="2.45" fill="#ffee00" stroke="#880000" stroke-width="1.05"/>
<circle cx="239.4" cy="245.2" r="2.45" fill="#ffee00" stroke="#880000" stroke-width="1.05"/>
<circle cx="245.2" cy="257.6" r="2.45" fill="#ffee00" stroke="#880000" stroke-width="1.05"/>
<circle cx="219.1" cy="276.0" r="2.45" fill="#ffee00" stroke="#880000" stroke-width="1.05"/>
<circle cx="207.0" cy="290.9" r="2.45" fill="#ffee00" stroke="#880000" stroke-width="1.05"/>
<circle cx="207.9" cy="304.8" r="2.45" fill="#ffee00" stroke="#880000" stroke-width="1.05"/>
<circle cx="183.8" cy="287.3" r="2.45" fill="#ffee00" stroke="#880000" stroke-width="1.05"/>
<circle cx="190.8" cy="281.3" r="2.45" fill="#ffee00" stroke="#880000" stroke-width="1.05"/>
<circle cx="181.5" cy="300.0" r="2.45" fill="#ffee00" stroke="#880000" stroke-width="1.05"/>
<circle cx="224.3" cy="282.6" r="2.45" fill="#ffee00" stroke="#880000" stroke-width="1.05"/>
<circle cx="196.2" cy="251.4" r="2.45" fill="#ffee00" stroke="#880000" stroke-width="1.05"/>
<circle cx="197.0" cy="295.0" r="2.45" fill="#ffee00" stroke="#880000" stroke-width="1.05"/>
<circle cx="199.7" cy="282.9" r="2.45" fill="#ffee00" stroke="#880000" stroke-width="1.05"/>
<circle cx="213.6" cy="260.9" r="2.45" fill="#ffee00" stroke="#880000" stroke-width="1.05"/>
<circle cx="234.4" cy="267.5" r="2.45" fill="#ffee00" stroke="#880000" stroke-width="1.05"/>
<circle cx="205.2" cy="299.9" r="2.45" fill="#ffee00" stroke="#880000" stroke-width="1.05"/>
<circle cx="176.3" cy="308.4" r="2.45" fill="#ffee00" stroke="#880000" stroke-width="1.05"/>
<circle cx="232.8" cy="261.1" r="2.45" fill="#ffee00" stroke="#880000" stroke-width="1.05"/>
<circle cx="234.6" cy="248.4" r="2.45" fill="#ffee00" stroke="#880000" stroke-width="1.05"/>
<circle cx="210.1" cy="247.4" r="2.45" fill="#ffee00" stroke="#880000" stroke-width="1.05"/>
<circle cx="201.0" cy="291.4" r="2.45" fill="#ffee00" stroke="#880000" stroke-width="1.05"/>
<circle cx="203.4" cy="265.1" r="2.45" fill="#ffee00" stroke="#880000" stroke-width="1.05"/>
<circle cx="210.8" cy="286.9" r="2.45" fill="#ffee00" stroke="#880000" stroke-width="1.05"/>
<circle cx="225.3" cy="251.5" r="2.45" fill="#ffee00" stroke="#880000" stroke-width="1.05"/>
<circle cx="211.4" cy="279.6" r="2.45" fill="#ffee00" stroke="#880000" stroke-width="1.05"/>
<circle cx="241.8" cy="243.7" r="2.45" fill="#ffee00" stroke="#880000" stroke-width="1.05"/>
<circle cx="238.3" cy="270.1" r="2.45" fill="#ffee00" stroke="#880000" stroke-width="1.05"/>
<circle cx="221.5" cy="264.7" r="2.45" fill="#ffee00" stroke="#880000" stroke-width="1.05"/>
<circle cx="168.8" cy="285.8" r="2.45" fill="#ffee00" stroke="#880000" stroke-width="1.05"/>
<circle cx="216.8" cy="277.5" r="2.45" fill="#ffee00" stroke="#880000" stroke-width="1.05"/>
<circle cx="218.0" cy="282.1" r="2.45" fill="#ffee00" stroke="#880000" stroke-width="1.05"/>
<circle cx="212.7" cy="267.4" r="2.45" fill="#ffee00" stroke="#880000" stroke-width="1.05"/>
<circle cx="234.9" cy="262.3" r="2.45" fill="#ffee00" stroke="#880000" stroke-width="1.05"/>
<circle cx="192.4" cy="297.8" r="2.45" fill="#ffee00" stroke="#880000" stroke-width="1.05"/>
<circle cx="193.6" cy="302.0" r="2.45" fill="#ffee00" stroke="#880000" stroke-width="1.05"/>
<circle cx="213.8" cy="281.5" r="2.45" fill="#ffee00" stroke="#880000" stroke-width="1.05"/>
<circle cx="215.6" cy="285.1" r="2.45" fill="#ffee00" stroke="#880000" stroke-width="1.05"/>
<circle cx="192.3" cy="290.6" r="2.45" fill="#ffee00" stroke="#880000" stroke-width="1.05"/>
<circle cx="205.4" cy="263.6" r="2.45" fill="#ffee00" stroke="#880000" stroke-width="1.05"/>
<circle cx="191.4" cy="285.7" r="2.45" fill="#ffee00" stroke="#880000" stroke-width="1.05"/>
<circle cx="213.2" cy="293.3" r="2.45" fill="#ffee00" stroke="#880000" stroke-width="1.05"/>
<circle cx="232.7" cy="260.4" r="2.45" fill="#ffee00" stroke="#880000" stroke-width="1.05"/>
<circle cx="161.1" cy="299.0" r="2.45" fill="#ffee00" stroke="#880000" stroke-width="1.05"/>
<circle cx="238.0" cy="270.7" r="2.45" fill="#ffee00" stroke="#880000" stroke-width="1.05"/>
<circle cx="257.2" cy="245.4" r="2.45" fill="#ffee00" stroke="#880000" stroke-width="1.05"/>
<circle cx="185.1" cy="284.6" r="2.45" fill="#ffee00" stroke="#880000" stroke-width="1.05"/>
<circle cx="205.2" cy="298.8" r="2.45" fill="#ffee00" stroke="#880000" stroke-width="1.05"/>
<circle cx="160.0" cy="304.7" r="2.45" fill="#ffee00" stroke="#880000" stroke-width="1.05"/>
<circle cx="195.7" cy="276.9" r="2.45" fill="#ffee00" stroke="#880000" stroke-width="1.05"/>
<circle cx="224.1" cy="275.5" r="2.45" fill="#ffee00" stroke="#880000" stroke-width="1.05"/>
<circle cx="200.8" cy="257.9" r="2.45" fill="#ffee00" stroke="#880000" stroke-width="1.05"/>
<circle cx="257.5" cy="245.1" r="2.45" fill="#ffee00" stroke="#880000" stroke-width="1.05"/>
<circle cx="205.3" cy="293.7" r="2.45" fill="#ffee00" stroke="#880000" stroke-width="1.05"/>
<circle cx="204.5" cy="257.1" r="2.45" fill="#ffee00" stroke="#880000" stroke-width="1.05"/>
<circle cx="225.9" cy="271.1" r="2.45" fill="#ffee00" stroke="#880000" stroke-width="1.05"/>
<circle cx="183.3" cy="291.3" r="2.45" fill="#ffee00" stroke="#880000" stroke-width="1.05"/>
<circle cx="192.1" cy="288.0" r="2.45" fill="#ffee00" stroke="#880000" stroke-width="1.05"/>
<circle cx="233.0" cy="249.2" r="2.45" fill="#ffee00" stroke="#880000" stroke-width="1.05"/>
<circle cx="217.8" cy="276.9" r="2.45" fill="#ffee00" stroke="#880000" stroke-width="1.05"/>
<circle cx="220.0" cy="245.5" r="2.45" fill="#ffee00" stroke="#880000" stroke-width="1.05"/>
<circle cx="223.8" cy="288.0" r="2.45" fill="#ffee00" stroke="#880000" stroke-width="1.05"/>
<circle cx="253.5" cy="247.6" r="2.45" fill="#ffee00" stroke="#880000" stroke-width="1.05"/>
<circle cx="202.4" cy="283.0" r="2.45" fill="#ffee00" stroke="#880000" stroke-width="1.05"/>
<circle cx="206.8" cy="273.7" r="2.45" fill="#ffee00" stroke="#880000" stroke-width="1.05"/>
<circle cx="199.7" cy="304.1" r="2.45" fill="#ffee00" stroke="#880000" stroke-width="1.05"/>
<circle cx="165.8" cy="306.3" r="2.45" fill="#ffee00" stroke="#880000" stroke-width="1.05"/>
<circle cx="201.3" cy="290.5" r="2.45" fill="#ffee00" stroke="#880000" stroke-width="1.05"/>
<circle cx="267.8" cy="238.7" r="2.45" fill="#ffee00" stroke="#880000" stroke-width="1.05"/>
<circle cx="241.8" cy="264.1" r="2.45" fill="#ffee00" stroke="#880000" stroke-width="1.05"/>
<circle cx="221.9" cy="272.5" r="2.45" fill="#ffee00" stroke="#880000" stroke-width="1.05"/>
<circle cx="209.1" cy="267.1" r="2.45" fill="#ffee00" stroke="#880000" stroke-width="1.05"/>
<circle cx="229.5" cy="260.6" r="2.45" fill="#ffee00" stroke="#880000" stroke-width="1.05"/>
<circle cx="218.0" cy="292.2" r="2.45" fill="#ffee00" stroke="#880000" stroke-width="1.05"/>
<circle cx="195.7" cy="280.6" r="2.45" fill="#ffee00" stroke="#880000" stroke-width="1.05"/>
<circle cx="205.1" cy="290.9" r="2.45" fill="#ffee00" stroke="#880000" stroke-width="1.05"/>
<circle cx="223.3" cy="281.6" r="2.45" fill="#ffee00" stroke="#880000" stroke-width="1.05"/>
<circle cx="197.3" cy="272.5" r="2.45" fill="#ffee00" stroke="#880000" stroke-width="1.05"/>
<circle cx="205.2" cy="260.0" r="2.45" fill="#ffee00" stroke="#880000" stroke-width="1.05"/>
<circle cx="227.4" cy="254.8" r="2.45" fill="#ffee00" stroke="#880000" stroke-width="1.05"/>
<circle cx="242.8" cy="283.1" r="2.45" fill="#ffee00" stroke="#880000" stroke-width="1.05"/>
<circle cx="212.3" cy="293.6" r="2.45" fill="#ffee00" stroke="#880000" stroke-width="1.05"/>
<circle cx="202.6" cy="283.0" r="2.45" fill="#ffee00" stroke="#880000" stroke-width="1.05"/>
<circle cx="245.6" cy="255.4" r="2.45" fill="#ffee00" stroke="#880000" stroke-width="1.05"/>
<circle cx="255.6" cy="255.9" r="2.45" fill="#ffee00" stroke="#880000" stroke-width="1.05"/>
<circle cx="212.9" cy="273.9" r="2.45" fill="#ffee00" stroke="#880000" stroke-width="1.05"/>
<circle cx="238.1" cy="260.2" r="2.45" fill="#ffee00" stroke="#880000" stroke-width="1.05"/>
<circle cx="198.7" cy="288.6" r="2.45" fill="#ffee00" stroke="#880000" stroke-width="1.05"/>
<circle cx="179.1" cy="278.7" r="2.45" fill="#ffee00" stroke="#880000" stroke-width="1.05"/>
<circle cx="233.1" cy="256.6" r="2.45" fill="#ffee00" stroke="#880000" stroke-width="1.05"/>
<circle cx="221.2" cy="278.4" r="2.45" fill="#ffee00" stroke="#880000" stroke-width="1.05"/>
<circle cx="204.1" cy="269.4" r="2.45" fill="#ffee00" stroke="#880000" stroke-width="1.05"/>
<circle cx="194.5" cy="297.6" r="2.45" fill="#ffee00" stroke="#880000" stroke-width="1.05"/>
<circle cx="253.9" cy="247.4" r="2.45" fill="#ffee00" stroke="#880000" stroke-width="1.05"/>
<circle cx="221.6" cy="262.3" r="2.45" fill="#ffee00" stroke="#880000" stroke-width="1.05"/>
<circle cx="219.0" cy="251.5" r="2.45" fill="#ffee00" stroke="#880000" stroke-width="1.05"/>
<circle cx="203.1" cy="280.1" r="2.45" fill="#ffee00" stroke="#880000" stroke-width="1.05"/>
<circle cx="226.4" cy="246.7" r="2.45" fill="#ffee00" stroke="#880000" stroke-width="1.05"/>
<circle cx="208.0" cy="275.0" r="2.45" fill="#ffee00" stroke="#880000" stroke-width="1.05"/>
<circle cx="202.0" cy="291.1" r="2.45" fill="#ffee00" stroke="#880000" stroke-width="1.05"/>
<circle cx="197.9" cy="283.4" r="2.45" fill="#ffee00" stroke="#880000" stroke-width="1.05"/>
<circle cx="236.5" cy="270.1" r="2.45" fill="#ffee00" stroke="#880000" stroke-width="1.05"/>
<circle cx="199.2" cy="289.3" r="2.45" fill="#ffee00" stroke="#880000" stroke-width="1.05"/>
<circle cx="223.1" cy="259.1" r="2.45" fill="#ffee00" stroke="#880000" stroke-width="1.05"/>
<circle cx="183.0" cy="288.9" r="2.45" fill="#ffee00" stroke="#880000" stroke-width="1.05"/>
<circle cx="189.4" cy="279.9" r="2.45" fill="#ffee00" stroke="#880000" stroke-width="1.05"/>
<circle cx="190.2" cy="304.3" r="2.45" fill="#ffee00" stroke="#880000" stroke-width="1.05"/>
<circle cx="196.5" cy="286.3" r="2.45" fill="#ffee00" stroke="#880000" stroke-width="1.05"/>
<circle cx="189.4" cy="286.9" r="2.45" fill="#ffee00" stroke="#880000" stroke-width="1.05"/>
<circle cx="218.0" cy="270.9" r="2.45" fill="#ffee00" stroke="#880000" stroke-width="1.05"/>
<circle cx="221.0" cy="258.0" r="2.45" fill="#ffee00" stroke="#880000" stroke-width="1.05"/>
<circle cx="196.1" cy="285.6" r="2.45" fill="#ffee00" stroke="#880000" stroke-width="1.05"/>
<circle cx="213.5" cy="301.3" r="2.45" fill="#ffee00" stroke="#880000" stroke-width="1.05"/>
<circle cx="224.0" cy="278.9" r="2.45" fill="#ffee00" stroke="#880000" stroke-width="1.05"/>
<circle cx="196.4" cy="291.6" r="2.45" fill="#ffee00" stroke="#880000" stroke-width="1.05"/>
<circle cx="216.7" cy="268.2" r="2.45" fill="#ffee00" stroke="#880000" stroke-width="1.05"/>
<circle cx="226.3" cy="276.4" r="2.45" fill="#ffee00" stroke="#880000" stroke-width="1.05"/>
<circle cx="231.6" cy="257.7" r="2.45" fill="#ffee00" stroke="#880000" stroke-width="1.05"/>
<circle cx="204.5" cy="280.7" r="2.45" fill="#ffee00" stroke="#880000" stroke-width="1.05"/>
<circle cx="234.3" cy="255.9" r="2.45" fill="#ffee00" stroke="#880000" stroke-width="1.05"/>
<circle cx="231.6" cy="262.0" r="2.45" fill="#ffee00" stroke="#880000" stroke-width="1.05"/>
<circle cx="242.6" cy="243.2" r="2.45" fill="#ffee00" stroke="#880000" stroke-width="1.05"/>
<circle cx="225.6" cy="289.3" r="2.45" fill="#ffee00" stroke="#880000" stroke-width="1.05"/>
<circle cx="257.2" cy="255.4" r="2.45" fill="#ffee00" stroke="#880000" stroke-width="1.05"/>
<circle cx="180.0" cy="322.3" r="2.45" fill="#ffee00" stroke="#880000" stroke-width="1.05"/>
<circle cx="224.8" cy="252.6" r="2.45" fill="#ffee00" stroke="#880000" stroke-width="1.05"/>
<circle cx="239.2" cy="264.1" r="2.45" fill="#ffee00" stroke="#880000" stroke-width="1.05"/>
<circle cx="250.2" cy="253.0" r="2.45" fill="#ffee00" stroke="#880000" stroke-width="1.05"/>
<circle cx="199.6" cy="282.5" r="2.45" fill="#ffee00" stroke="#880000" stroke-width="1.05"/>
<circle cx="219.6" cy="270.3" r="2.45" fill="#ffee00" stroke="#880000" stroke-width="1.05"/>
<circle cx="224.2" cy="294.7" r="2.45" fill="#ffee00" stroke="#880000" stroke-width="1.05"/>
<circle cx="253.2" cy="257.9" r="2.45" fill="#ffee00" stroke="#880000" stroke-width="1.05"/>
<circle cx="230.4" cy="275.2" r="2.45" fill="#ffee00" stroke="#880000" stroke-width="1.05"/>
<circle cx="218.3" cy="274.2" r="2.45" fill="#ffee00" stroke="#880000" stroke-width="1.05"/>
<circle cx="175.1" cy="293.5" r="2.45" fill="#ffee00" stroke="#880000" stroke-width="1.05"/>
<circle cx="230.0" cy="279.8" r="2.45" fill="#ffee00" stroke="#880000" stroke-width="1.05"/>
<circle cx="162.3" cy="315.6" r="2.45" fill="#ffee00" stroke="#880000" stroke-width="1.05"/>
<circle cx="193.4" cy="285.8" r="2.45" fill="#ffee00" stroke="#880000" stroke-width="1.05"/>
<circle cx="213.9" cy="252.4" r="2.45" fill="#ffee00" stroke="#880000" stroke-width="1.05"/>
<circle cx="230.4" cy="267.8" r="2.45" fill="#ffee00" stroke="#880000" stroke-width="1.05"/>
<circle cx="218.3" cy="298.4" r="2.45" fill="#ffee00" stroke="#880000" stroke-width="1.05"/>
<circle cx="191.8" cy="301.0" r="2.45" fill="#ffee00" stroke="#880000" stroke-width="1.05"/>
<circle cx="211.5" cy="271.6" r="2.45" fill="#ffee00" stroke="#880000" stroke-width="1.05"/>
<circle cx="219.6" cy="258.1" r="2.45" fill="#ffee00" stroke="#880000" stroke-width="1.05"/>
<circle cx="197.2" cy="280.8" r="2.45" fill="#ffee00" stroke="#880000" stroke-width="1.05"/>
<circle cx="211.0" cy="276.1" r="2.45" fill="#ffee00" stroke="#880000" stroke-width="1.05"/>
<circle cx="222.3" cy="273.2" r="2.45" fill="#ffee00" stroke="#880000" stroke-width="1.05"/>
<circle cx="219.5" cy="271.5" r="2.45" fill="#ffee00" stroke="#880000" stroke-width="1.05"/>
<circle cx="239.6" cy="260.0" r="2.45" fill="#ffee00" stroke="#880000" stroke-width="1.05"/>
<circle cx="221.8" cy="235.4" r="2.45" fill="#ffee00" stroke="#880000" stroke-width="1.05"/>
<circle cx="229.8" cy="257.6" r="2.45" fill="#ffee00" stroke="#880000" stroke-width="1.05"/>
<circle cx="241.0" cy="271.5" r="2.45" fill="#ffee00" stroke="#880000" stroke-width="1.05"/>
<circle cx="231.9" cy="253.0" r="2.45" fill="#ffee00" stroke="#880000" stroke-width="1.05"/>
<circle cx="225.2" cy="254.1" r="2.45" fill="#ffee00" stroke="#880000" stroke-width="1.05"/>
<circle cx="233.7" cy="248.7" r="2.45" fill="#ffee00" stroke="#880000" stroke-width="1.05"/>
<circle cx="198.4" cy="278.3" r="2.45" fill="#ffee00" stroke="#880000" stroke-width="1.05"/>
<circle cx="200.8" cy="265.7" r="2.45" fill="#ffee00" stroke="#880000" stroke-width="1.05"/>
<circle cx="217.7" cy="290.1" r="2.45" fill="#ffee00" stroke="#880000" stroke-width="1.05"/>
<circle cx="217.0" cy="286.4" r="2.45" fill="#ffee00" stroke="#880000" stroke-width="1.05"/>
<circle cx="238.6" cy="263.8" r="2.45" fill="#ffee00" stroke="#880000" stroke-width="1.05"/>
<circle cx="160.1" cy="313.4" r="2.45" fill="#ffee00" stroke="#880000" stroke-width="1.05"/>
<circle cx="239.6" cy="254.0" r="2.45" fill="#ffee00" stroke="#880000" stroke-width="1.05"/>
<circle cx="198.6" cy="275.2" r="2.45" fill="#ffee00" stroke="#880000" stroke-width="1.05"/>
<circle cx="228.5" cy="245.3" r="2.45" fill="#ffee00" stroke="#880000" stroke-width="1.05"/>
<circle cx="236.6" cy="255.4" r="2.45" fill="#ffee00" stroke="#880000" stroke-width="1.05"/>
<circle cx="194.8" cy="282.5" r="2.45" fill="#ffee00" stroke="#880000" stroke-width="1.05"/>
<circle cx="221.8" cy="269.5" r="2.45" fill="#ffee00" stroke="#880000" stroke-width="1.05"/>
<circle cx="224.7" cy="284.1" r="2.45" fill="#ffee00" stroke="#880000" stroke-width="1.05"/>
<circle cx="228.4" cy="265.4" r="2.45" fill="#ffee00" stroke="#880000" stroke-width="1.05"/>
<circle cx="223.1" cy="270.1" r="2.45" fill="#ffee00" stroke="#880000" stroke-width="1.05"/>
<circle cx="206.9" cy="275.4" r="2.45" fill="#ffee00" stroke="#880000" stroke-width="1.05"/>
<circle cx="233.6" cy="266.6" r="2.45" fill="#ffee00" stroke="#880000" stroke-width="1.05"/>
<circle cx="222.3" cy="279.8" r="2.45" fill="#ffee00" stroke="#880000" stroke-width="1.05"/>
<circle cx="224.6" cy="267.6" r="2.45" fill="#ffee00" stroke="#880000" stroke-width="1.05"/>
<circle cx="182.7" cy="278.1" r="2.45" fill="#ffee00" stroke="#880000" stroke-width="1.05"/>
<circle cx="192.3" cy="286.9" r="2.45" fill="#ffee00" stroke="#880000" stroke-width="1.05"/>
<circle cx="181.9" cy="318.2" r="2.45" fill="#ffee00" stroke="#880000" stroke-width="1.05"/>
<circle cx="230.5" cy="283.3" r="2.45" fill="#ffee00" stroke="#880000" stroke-width="1.05"/>
<circle cx="163.1" cy="309.1" r="2.45" fill="#ffee00" stroke="#880000" stroke-width="1.05"/>
<circle cx="176.1" cy="300.9" r="2.45" fill="#ffee00" stroke="#880000" stroke-width="1.05"/>
<circle cx="259.4" cy="251.6" r="2.45" fill="#ffee00" stroke="#880000" stroke-width="1.05"/>
<circle cx="223.1" cy="261.1" r="2.45" fill="#ffee00" stroke="#880000" stroke-width="1.05"/>
<circle cx="220.4" cy="272.1" r="2.45" fill="#ffee00" stroke="#880000" stroke-width="1.05"/>
<circle cx="251.4" cy="252.3" r="2.45" fill="#ffee00" stroke="#880000" stroke-width="1.05"/>
<circle cx="223.0" cy="267.3" r="2.45" fill="#ffee00" stroke="#880000" stroke-width="1.05"/>
<circle cx="182.7" cy="289.6" r="2.45" fill="#ffee00" stroke="#880000" stroke-width="1.05"/>
<circle cx="215.7" cy="264.6" r="2.45" fill="#ffee00" stroke="#880000" stroke-width="1.05"/>
<circle cx="231.3" cy="250.3" r="2.45" fill="#ffee00" stroke="#880000" stroke-width="1.05"/>
<circle cx="167.6" cy="311.0" r="2.45" fill="#ffee00" stroke="#880000" stroke-width="1.05"/>
<circle cx="202.6" cy="293.3" r="2.45" fill="#ffee00" stroke="#880000" stroke-width="1.05"/>
<circle cx="224.4" cy="269.0" r="2.45" fill="#ffee00" stroke="#880000" stroke-width="1.05"/>
<circle cx="217.7" cy="294.4" r="2.45" fill="#ffee00" stroke="#880000" stroke-width="1.05"/>
<circle cx="190.8" cy="289.9" r="2.45" fill="#ffee00" stroke="#880000" stroke-width="1.05"/>
<circle cx="203.3" cy="289.4" r="2.45" fill="#ffee00" stroke="#880000" stroke-width="1.05"/>
<circle cx="211.4" cy="279.9" r="2.45" fill="#ffee00" stroke="#880000" stroke-width="1.05"/>
<circle cx="188.2" cy="267.9" r="2.45" fill="#ffee00" stroke="#880000" stroke-width="1.05"/>
<circle cx="197.7" cy="275.8" r="2.45" fill="#ffee00" stroke="#880000" stroke-width="1.05"/>
<circle cx="228.9" cy="252.0" r="2.45" fill="#ffee00" stroke="#880000" stroke-width="1.05"/>
<circle cx="200.2" cy="296.7" r="2.45" fill="#ffee00" stroke="#880000" stroke-width="1.05"/>
<circle cx="225.0" cy="264.1" r="2.45" fill="#ffee00" stroke="#880000" stroke-width="1.05"/>
<circle cx="200.9" cy="287.9" r="2.45" fill="#ffee00" stroke="#880000" stroke-width="1.05"/>
<circle cx="207.7" cy="272.8" r="2.45" fill="#ffee00" stroke="#880000" stroke-width="1.05"/>
<circle cx="190.5" cy="254.9" r="2.45" fill="#ffee00" stroke="#880000" stroke-width="1.05"/>
<circle cx="236.4" cy="247.1" r="2.45" fill="#ffee00" stroke="#880000" stroke-width="1.05"/>
<circle cx="221.0" cy="296.7" r="2.45" fill="#ffee00" stroke="#880000" stroke-width="1.05"/>
<circle cx="220.1" cy="278.2" r="2.45" fill="#ffee00" stroke="#880000" stroke-width="1.05"/>
<circle cx="225.1" cy="269.1" r="2.45" fill="#ffee00" stroke="#880000" stroke-width="1.05"/>
<circle cx="230.7" cy="276.0" r="2.45" fill="#ffee00" stroke="#880000" stroke-width="1.05"/>
<circle cx="205.4" cy="279.8" r="2.45" fill="#ffee00" stroke="#880000" stroke-width="1.05"/>
<circle cx="195.8" cy="292.0" r="2.45" fill="#ffee00" stroke="#880000" stroke-width="1.05"/>
<circle cx="229.3" cy="238.7" r="2.45" fill="#ffee00" stroke="#880000" stroke-width="1.05"/>
<circle cx="209.0" cy="266.4" r="2.45" fill="#ffee00" stroke="#880000" stroke-width="1.05"/>
<circle cx="186.4" cy="297.9" r="2.45" fill="#ffee00" stroke="#880000" stroke-width="1.05"/>
<circle cx="222.3" cy="261.5" r="2.45" fill="#ffee00" stroke="#880000" stroke-width="1.05"/>
<circle cx="189.2" cy="281.8" r="2.45" fill="#ffee00" stroke="#880000" stroke-width="1.05"/>
<circle cx="217.8" cy="254.3" r="2.45" fill="#ffee00" stroke="#880000" stroke-width="1.05"/>
<circle cx="237.2" cy="252.6" r="2.45" fill="#ffee00" stroke="#880000" stroke-width="1.05"/>
<circle cx="204.6" cy="276.8" r="2.45" fill="#ffee00" stroke="#880000" stroke-width="1.05"/>
<circle cx="193.3" cy="298.6" r="2.45" fill="#ffee00" stroke="#880000" stroke-width="1.05"/>
<circle cx="169.1" cy="320.1" r="2.45" fill="#ffee00" stroke="#880000" stroke-width="1.05"/>
<circle cx="183.2" cy="295.1" r="2.45" fill="#ffee00" stroke="#880000" stroke-width="1.05"/>
<circle cx="216.8" cy="291.0" r="2.45" fill="#ffee00" stroke="#880000" stroke-width="1.05"/>
<circle cx="211.8" cy="270.4" r="2.45" fill="#ffee00" stroke="#880000" stroke-width="1.05"/>
<circle cx="236.9" cy="261.6" r="2.45" fill="#ffee00" stroke="#880000" stroke-width="1.05"/>
<circle cx="219.6" cy="276.1" r="2.45" fill="#ffee00" stroke="#880000" stroke-width="1.05"/>
<circle cx="236.8" cy="281.5" r="2.45" fill="#ffee00" stroke="#880000" stroke-width="1.05"/>
<circle cx="220.1" cy="297.3" r="2.45" fill="#ffee00" stroke="#880000" stroke-width="1.05"/>
<circle cx="256.0" cy="246.0" r="2.45" fill="#ffee00" stroke="#880000" stroke-width="1.05"/>
<circle cx="162.7" cy="313.7" r="2.45" fill="#ffee00" stroke="#880000" stroke-width="1.05"/>
<circle cx="179.7" cy="319.9" r="2.45" fill="#ffee00" stroke="#880000" stroke-width="1.05"/>
<circle cx="204.1" cy="292.7" r="2.45" fill="#ffee00" stroke="#880000" stroke-width="1.05"/>
<circle cx="239.5" cy="265.7" r="2.45" fill="#ffee00" stroke="#880000" stroke-width="1.05"/>
<circle cx="187.0" cy="292.5" r="2.45" fill="#ffee00" stroke="#880000" stroke-width="1.05"/>
<circle cx="224.0" cy="257.2" r="2.45" fill="#ffee00" stroke="#880000" stroke-width="1.05"/>
<circle cx="226.4" cy="287.1" r="2.45" fill="#ffee00" stroke="#880000" stroke-width="1.05"/>
<circle cx="194.0" cy="289.6" r="2.45" fill="#ffee00" stroke="#880000" stroke-width="1.05"/>
<circle cx="193.6" cy="277.3" r="2.45" fill="#ffee00" stroke="#880000" stroke-width="1.05"/>
<circle cx="205.7" cy="280.8" r="2.45" fill="#ffee00" stroke="#880000" stroke-width="1.05"/>
<circle cx="204.9" cy="279.7" r="2.45" fill="#ffee00" stroke="#880000" stroke-width="1.05"/>
<circle cx="177.4" cy="269.0" r="2.45" fill="#ffee00" stroke="#880000" stroke-width="1.05"/>
<circle cx="200.1" cy="293.2" r="2.45" fill="#ffee00" stroke="#880000" stroke-width="1.05"/>
<circle cx="170.5" cy="302.9" r="2.45" fill="#ffee00" stroke="#880000" stroke-width="1.05"/>
<circle cx="180.3" cy="291.2" r="2.45" fill="#ffee00" stroke="#880000" stroke-width="1.05"/>
<circle cx="243.2" cy="248.2" r="2.45" fill="#ffee00" stroke="#880000" stroke-width="1.05"/>
<circle cx="203.1" cy="264.2" r="2.45" fill="#ffee00" stroke="#880000" stroke-width="1.05"/>
<circle cx="209.4" cy="278.2" r="2.45" fill="#ffee00" stroke="#880000" stroke-width="1.05"/>
<circle cx="215.5" cy="280.2" r="2.45" fill="#ffee00" stroke="#880000" stroke-width="1.05"/>
<circle cx="224.2" cy="285.0" r="2.45" fill="#ffee00" stroke="#880000" stroke-width="1.05"/>
<circle cx="170.7" cy="285.5" r="2.45" fill="#ffee00" stroke="#880000" stroke-width="1.05"/>
<circle cx="196.0" cy="290.7" r="2.45" fill="#ffee00" stroke="#880000" stroke-width="1.05"/>
<circle cx="222.1" cy="276.0" r="2.45" fill="#ffee00" stroke="#880000" stroke-width="1.05"/>
<circle cx="185.1" cy="295.4" r="2.45" fill="#ffee00" stroke="#880000" stroke-width="1.05"/>
<circle cx="190.8" cy="281.7" r="2.45" fill="#ffee00" stroke="#880000" stroke-width="1.05"/>
<circle cx="203.1" cy="285.0" r="2.45" fill="#ffee00" stroke="#880000" stroke-width="1.05"/>
<circle cx="232.7" cy="284.0" r="2.45" fill="#ffee00" stroke="#880000" stroke-width="1.05"/>
<circle cx="177.5" cy="287.6" r="2.45" fill="#ffee00" stroke="#880000" stroke-width="1.05"/>
<circle cx="244.8" cy="254.3" r="2.45" fill="#ffee00" stroke="#880000" stroke-width="1.05"/>
<circle cx="196.7" cy="268.9" r="2.45" fill="#ffee00" stroke="#880000" stroke-width="1.05"/>
<circle cx="226.6" cy="253.0" r="2.45" fill="#ffee00" stroke="#880000" stroke-width="1.05"/>
<circle cx="169.7" cy="304.1" r="2.45" fill="#ffee00" stroke="#880000" stroke-width="1.05"/>
<circle cx="188.8" cy="305.3" r="2.45" fill="#ffee00" stroke="#880000" stroke-width="1.05"/>
<circle cx="228.0" cy="256.1" r="2.45" fill="#ffee00" stroke="#880000" stroke-width="1.05"/>
<circle cx="202.4" cy="285.3" r="2.45" fill="#ffee00" stroke="#880000" stroke-width="1.05"/>
<circle cx="247.5" cy="251.4" r="2.45" fill="#ffee00" stroke="#880000" stroke-width="1.05"/>
<circle cx="210.9" cy="269.7" r="2.45" fill="#ffee00" stroke="#880000" stroke-width="1.05"/>
<circle cx="216.6" cy="290.1" r="2.45" fill="#ffee00" stroke="#880000" stroke-width="1.05"/>
<circle cx="201.4" cy="278.8" r="2.45" fill="#ffee00" stroke="#880000" stroke-width="1.05"/>
<circle cx="229.0" cy="281.6" r="2.45" fill="#ffee00" stroke="#880000" stroke-width="1.05"/>
<circle cx="194.3" cy="294.9" r="2.45" fill="#ffee00" stroke="#880000" stroke-width="1.05"/>
<circle cx="177.0" cy="282.9" r="2.45" fill="#ffee00" stroke="#880000" stroke-width="1.05"/>
<circle cx="225.0" cy="250.1" r="2.45" fill="#ffee00" stroke="#880000" stroke-width="1.05"/>
<circle cx="160.6" cy="318.9" r="2.45" fill="#ffee00" stroke="#880000" stroke-width="1.05"/>
<circle cx="258.2" cy="266.2" r="2.45" fill="#ffee00" stroke="#880000" stroke-width="1.05"/>
<circle cx="169.4" cy="299.5" r="2.45" fill="#ffee00" stroke="#880000" stroke-width="1.05"/>
<circle cx="252.3" cy="248.4" r="2.45" fill="#ffee00" stroke="#880000" stroke-width="1.05"/>
<circle cx="190.5" cy="281.8" r="2.45" fill="#ffee00" stroke="#880000" stroke-width="1.05"/>
<circle cx="223.9" cy="264.9" r="2.45" fill="#ffee00" stroke="#880000" stroke-width="1.05"/>
<circle cx="223.4" cy="257.6" r="2.45" fill="#ffee00" stroke="#880000" stroke-width="1.05"/>
<circle cx="242.3" cy="243.4" r="2.45" fill="#ffee00" stroke="#880000" stroke-width="1.05"/>
<circle cx="239.9" cy="260.5" r="2.45" fill="#ffee00" stroke="#880000" stroke-width="1.05"/>
<circle cx="168.8" cy="295.5" r="2.45" fill="#ffee00" stroke="#880000" stroke-width="1.05"/>
<circle cx="177.3" cy="266.7" r="2.45" fill="#ffee00" stroke="#880000" stroke-width="1.05"/>
<circle cx="185.7" cy="317.3" r="2.45" fill="#ffee00" stroke="#880000" stroke-width="1.05"/>
<circle cx="168.8" cy="297.5" r="2.45" fill="#ffee00" stroke="#880000" stroke-width="1.05"/>
<circle cx="221.3" cy="261.4" r="2.45" fill="#ffee00" stroke="#880000" stroke-width="1.05"/>
<circle cx="220.9" cy="280.9" r="2.45" fill="#ffee00" stroke="#880000" stroke-width="1.05"/>
<circle cx="233.8" cy="271.7" r="2.45" fill="#ffee00" stroke="#880000" stroke-width="1.05"/>
<circle cx="177.2" cy="285.3" r="2.45" fill="#ffee00" stroke="#880000" stroke-width="1.05"/>
<circle cx="226.9" cy="279.3" r="2.45" fill="#ffee00" stroke="#880000" stroke-width="1.05"/>
<circle cx="207.8" cy="264.6" r="2.45" fill="#ffee00" stroke="#880000" stroke-width="1.05"/>
<circle cx="236.8" cy="275.0" r="2.45" fill="#ffee00" stroke="#880000" stroke-width="1.05"/>
<circle cx="241.0" cy="284.2" r="2.45" fill="#ffee00" stroke="#880000" stroke-width="1.05"/>
<circle cx="216.1" cy="268.2" r="2.45" fill="#ffee00" stroke="#880000" stroke-width="1.05"/>
<circle cx="211.0" cy="275.0" r="2.45" fill="#ffee00" stroke="#880000" stroke-width="1.05"/>
<circle cx="174.7" cy="300.9" r="2.45" fill="#ffee00" stroke="#880000" stroke-width="1.05"/>
<circle cx="226.1" cy="279.7" r="2.45" fill="#ffee00" stroke="#880000" stroke-width="1.05"/>
<circle cx="217.3" cy="274.9" r="2.45" fill="#ffee00" stroke="#880000" stroke-width="1.05"/>
<circle cx="158.9" cy="317.2" r="2.45" fill="#ffee00" stroke="#880000" stroke-width="1.05"/>
<circle cx="228.2" cy="286.9" r="2.45" fill="#ffee00" stroke="#880000" stroke-width="1.05"/>
<circle cx="214.6" cy="269.8" r="2.45" fill="#ffee00" stroke="#880000" stroke-width="1.05"/>
<circle cx="182.8" cy="297.5" r="2.45" fill="#ffee00" stroke="#880000" stroke-width="1.05"/>
<circle cx="235.8" cy="251.3" r="2.45" fill="#ffee00" stroke="#880000" stroke-width="1.05"/>
<circle cx="189.8" cy="275.9" r="2.45" fill="#ffee00" stroke="#880000" stroke-width="1.05"/>
<circle cx="222.4" cy="267.7" r="2.45" fill="#ffee00" stroke="#880000" stroke-width="1.05"/>
<circle cx="250.9" cy="249.2" r="2.45" fill="#ffee00" stroke="#880000" stroke-width="1.05"/>
<circle cx="223.1" cy="255.9" r="2.45" fill="#ffee00" stroke="#880000" stroke-width="1.05"/>
<circle cx="230.3" cy="247.2" r="2.45" fill="#ffee00" stroke="#880000" stroke-width="1.05"/>
<circle cx="211.3" cy="300.4" r="2.45" fill="#ffee00" stroke="#880000" stroke-width="1.05"/>
<circle cx="252.2" cy="248.5" r="2.45" fill="#ffee00" stroke="#880000" stroke-width="1.05"/>
<circle cx="227.0" cy="265.9" r="2.45" fill="#ffee00" stroke="#880000" stroke-width="1.05"/>
<circle cx="211.9" cy="274.5" r="2.45" fill="#ffee00" stroke="#880000" stroke-width="1.05"/>
<circle cx="190.9" cy="278.5" r="2.45" fill="#ffee00" stroke="#880000" stroke-width="1.05"/>
<circle cx="216.2" cy="286.2" r="2.45" fill="#ffee00" stroke="#880000" stroke-width="1.05"/>
<circle cx="220.6" cy="274.9" r="2.45" fill="#ffee00" stroke="#880000" stroke-width="1.05"/>
<circle cx="213.4" cy="267.5" r="2.45" fill="#ffee00" stroke="#880000" stroke-width="1.05"/>
<circle cx="188.1" cy="285.2" r="2.45" fill="#ffee00" stroke="#880000" stroke-width="1.05"/>
<circle cx="231.5" cy="257.9" r="2.45" fill="#ffee00" stroke="#880000" stroke-width="1.05"/>
<circle cx="250.6" cy="257.6" r="2.45" fill="#ffee00" stroke="#880000" stroke-width="1.05"/>
<circle cx="206.1" cy="279.6" r="2.45" fill="#ffee00" stroke="#880000" stroke-width="1.05"/>
<circle cx="180.6" cy="280.4" r="2.45" fill="#ffee00" stroke="#880000" stroke-width="1.05"/>
<circle cx="183.8" cy="286.0" r="2.45" fill="#ffee00" stroke="#880000" stroke-width="1.05"/>
<circle cx="243.5" cy="267.5" r="2.45" fill="#ffee00" stroke="#880000" stroke-width="1.05"/>
<circle cx="209.9" cy="279.9" r="2.45" fill="#ffee00" stroke="#880000" stroke-width="1.05"/>
<circle cx="256.3" cy="245.9" r="2.45" fill="#ffee00" stroke="#880000" stroke-width="1.05"/>
<circle cx="171.1" cy="286.7" r="2.45" fill="#ffee00" stroke="#880000" stroke-width="1.05"/>
<circle cx="239.5" cy="285.1" r="2.45" fill="#ffee00" stroke="#880000" stroke-width="1.05"/>
<circle cx="147.4" cy="281.8" r="2.45" fill="#ffee00" stroke="#880000" stroke-width="1.05"/>
<circle cx="216.3" cy="299.6" r="2.45" fill="#ffee00" stroke="#880000" stroke-width="1.05"/>
<circle cx="240.1" cy="244.8" r="2.45" fill="#ffee00" stroke="#880000" stroke-width="1.05"/>
<circle cx="155.7" cy="293.5" r="2.45" fill="#ffee00" stroke="#880000" stroke-width="1.05"/>
<circle cx="231.6" cy="263.9" r="2.45" fill="#ffee00" stroke="#880000" stroke-width="1.05"/>
<circle cx="196.9" cy="279.9" r="2.45" fill="#ffee00" stroke="#880000" stroke-width="1.05"/>
<circle cx="194.3" cy="284.7" r="2.45" fill="#ffee00" stroke="#880000" stroke-width="1.05"/>
<circle cx="207.9" cy="284.4" r="2.45" fill="#ffee00" stroke="#880000" stroke-width="1.05"/>
<circle cx="227.6" cy="252.7" r="2.45" fill="#ffee00" stroke="#880000" stroke-width="1.05"/>
<circle cx="236.0" cy="254.7" r="2.45" fill="#ffee00" stroke="#880000" stroke-width="1.05"/>
<circle cx="255.5" cy="265.8" r="2.45" fill="#ffee00" stroke="#880000" stroke-width="1.05"/>
<circle cx="215.9" cy="270.8" r="2.45" fill="#ffee00" stroke="#880000" stroke-width="1.05"/>
<circle cx="244.1" cy="282.3" r="2.45" fill="#ffee00" stroke="#880000" stroke-width="1.05"/>
<circle cx="203.4" cy="285.5" r="2.45" fill="#ffee00" stroke="#880000" stroke-width="1.05"/>
<circle cx="219.0" cy="240.5" r="2.45" fill="#ffee00" stroke="#880000" stroke-width="1.05"/>
<circle cx="220.0" cy="272.0" r="2.45" fill="#ffee00" stroke="#880000" stroke-width="1.05"/>
<circle cx="224.7" cy="254.4" r="2.45" fill="#ffee00" stroke="#880000" stroke-width="1.05"/>
<circle cx="209.9" cy="254.1" r="2.45" fill="#ffee00" stroke="#880000" stroke-width="1.05"/>
<circle cx="184.4" cy="275.9" r="2.45" fill="#ffee00" stroke="#880000" stroke-width="1.05"/>
<circle cx="231.6" cy="250.1" r="2.45" fill="#ffee00" stroke="#880000" stroke-width="1.05"/>
<circle cx="252.4" cy="253.9" r="2.45" fill="#ffee00" stroke="#880000" stroke-width="1.05"/>
<circle cx="224.4" cy="264.4" r="2.45" fill="#ffee00" stroke="#880000" stroke-width="1.05"/>
<circle cx="199.4" cy="294.1" r="2.45" fill="#ffee00" stroke="#880000" stroke-width="1.05"/>
<circle cx="195.1" cy="274.7" r="2.45" fill="#ffee00" stroke="#880000" stroke-width="1.05"/>
<circle cx="216.1" cy="255.3" r="2.45" fill="#ffee00" stroke="#880000" stroke-width="1.05"/>
<circle cx="211.7" cy="258.7" r="2.45" fill="#ffee00" stroke="#880000" stroke-width="1.05"/>
<circle cx="212.7" cy="282.6" r="2.45" fill="#ffee00" stroke="#880000" stroke-width="1.05"/>
<circle cx="175.8" cy="295.8" r="2.45" fill="#ffee00" stroke="#880000" stroke-width="1.05"/>
<circle cx="256.8" cy="246.6" r="2.45" fill="#ffee00" stroke="#880000" stroke-width="1.05"/>
<circle cx="188.6" cy="282.3" r="2.45" fill="#ffee00" stroke="#880000" stroke-width="1.05"/>
<circle cx="180.5" cy="311.0" r="2.45" fill="#ffee00" stroke="#880000" stroke-width="1.05"/>
<circle cx="241.7" cy="251.6" r="2.45" fill="#ffee00" stroke="#880000" stroke-width="1.05"/>
<circle cx="238.1" cy="256.3" r="2.45" fill="#ffee00" stroke="#880000" stroke-width="1.05"/>
<circle cx="211.4" cy="273.8" r="2.45" fill="#ffee00" stroke="#880000" stroke-width="1.05"/>
<circle cx="206.3" cy="264.9" r="2.45" fill="#ffee00" stroke="#880000" stroke-width="1.05"/>
<circle cx="182.5" cy="320.0" r="2.45" fill="#ffee00" stroke="#880000" stroke-width="1.05"/>
<circle cx="193.3" cy="275.1" r="2.45" fill="#ffee00" stroke="#880000" stroke-width="1.05"/>
<circle cx="200.9" cy="309.2" r="2.45" fill="#ffee00" stroke="#880000" stroke-width="1.05"/>
<circle cx="191.3" cy="291.3" r="2.45" fill="#ffee00" stroke="#880000" stroke-width="1.05"/>
<circle cx="228.5" cy="260.4" r="2.45" fill="#ffee00" stroke="#880000" stroke-width="1.05"/>
<circle cx="210.1" cy="298.2" r="2.45" fill="#ffee00" stroke="#880000" stroke-width="1.05"/>
<circle cx="227.1" cy="279.7" r="2.45" fill="#ffee00" stroke="#880000" stroke-width="1.05"/>
<circle cx="209.9" cy="266.7" r="2.45" fill="#ffee00" stroke="#880000" stroke-width="1.05"/>
<circle cx="204.7" cy="304.8" r="2.45" fill="#ffee00" stroke="#880000" stroke-width="1.05"/>
<circle cx="199.4" cy="275.3" r="2.45" fill="#ffee00" stroke="#880000" stroke-width="1.05"/>
<circle cx="231.9" cy="281.1" r="2.45" fill="#ffee00" stroke="#880000" stroke-width="1.05"/>
<circle cx="215.4" cy="269.6" r="2.45" fill="#ffee00" stroke="#880000" stroke-width="1.05"/>
<circle cx="240.6" cy="252.4" r="2.45" fill="#ffee00" stroke="#880000" stroke-width="1.05"/>
<circle cx="218.2" cy="276.1" r="2.45" fill="#ffee00" stroke="#880000" stroke-width="1.05"/>
<circle cx="225.9" cy="256.6" r="2.45" fill="#ffee00" stroke="#880000" stroke-width="1.05"/>
<circle cx="210.4" cy="280.6" r="2.45" fill="#ffee00" stroke="#880000" stroke-width="1.05"/>
<circle cx="257.1" cy="248.2" r="2.45" fill="#ffee00" stroke="#880000" stroke-width="1.05"/>
<circle cx="195.0" cy="277.1" r="2.45" fill="#ffee00" stroke="#880000" stroke-width="1.05"/>
<circle cx="183.7" cy="308.2" r="2.45" fill="#ffee00" stroke="#880000" stroke-width="1.05"/>
<circle cx="236.8" cy="260.0" r="2.45" fill="#ffee00" stroke="#880000" stroke-width="1.05"/>
<circle cx="233.7" cy="251.7" r="2.45" fill="#ffee00" stroke="#880000" stroke-width="1.05"/>
<circle cx="195.6" cy="279.1" r="2.45" fill="#ffee00" stroke="#880000" stroke-width="1.05"/>
<circle cx="205.0" cy="277.2" r="2.45" fill="#ffee00" stroke="#880000" stroke-width="1.05"/>
<circle cx="220.4" cy="271.6" r="2.45" fill="#ffee00" stroke="#880000" stroke-width="1.05"/>
<circle cx="182.5" cy="290.0" r="2.45" fill="#ffee00" stroke="#880000" stroke-width="1.05"/>
<circle cx="214.7" cy="266.8" r="2.45" fill="#ffee00" stroke="#880000" stroke-width="1.05"/>
<circle cx="188.4" cy="287.7" r="2.45" fill="#ffee00" stroke="#880000" stroke-width="1.05"/>
<circle cx="209.2" cy="283.3" r="2.45" fill="#ffee00" stroke="#880000" stroke-width="1.05"/>
<circle cx="207.7" cy="281.8" r="2.45" fill="#ffee00" stroke="#880000" stroke-width="1.05"/>
<circle cx="180.7" cy="302.6" r="2.45" fill="#ffee00" stroke="#880000" stroke-width="1.05"/>
<circle cx="202.9" cy="275.1" r="2.45" fill="#ffee00" stroke="#880000" stroke-width="1.05"/>
<circle cx="210.5" cy="257.5" r="2.45" fill="#ffee00" stroke="#880000" stroke-width="1.05"/>
<circle cx="229.0" cy="260.8" r="2.45" fill="#ffee00" stroke="#880000" stroke-width="1.05"/>
<circle cx="219.4" cy="290.4" r="2.45" fill="#ffee00" stroke="#880000" stroke-width="1.05"/>
<circle cx="223.1" cy="251.7" r="2.45" fill="#ffee00" stroke="#880000" stroke-width="1.05"/>
<circle cx="189.4" cy="271.9" r="2.45" fill="#ffee00" stroke="#880000" stroke-width="1.05"/>
<circle cx="229.3" cy="261.1" r="2.45" fill="#ffee00" stroke="#880000" stroke-width="1.05"/>
<circle cx="203.8" cy="280.5" r="2.45" fill="#ffee00" stroke="#880000" stroke-width="1.05"/>
<circle cx="195.1" cy="286.5" r="2.45" fill="#ffee00" stroke="#880000" stroke-width="1.05"/>
<circle cx="215.6" cy="272.6" r="2.45" fill="#ffee00" stroke="#880000" stroke-width="1.05"/>
<circle cx="184.4" cy="280.3" r="2.45" fill="#ffee00" stroke="#880000" stroke-width="1.05"/>
<circle cx="198.2" cy="278.9" r="2.45" fill="#ffee00" stroke="#880000" stroke-width="1.05"/>
<circle cx="228.6" cy="268.2" r="2.45" fill="#ffee00" stroke="#880000" stroke-width="1.05"/>
<circle cx="217.2" cy="266.8" r="2.45" fill="#ffee00" stroke="#880000" stroke-width="1.05"/>
<circle cx="208.2" cy="273.6" r="2.45" fill="#ffee00" stroke="#880000" stroke-width="1.05"/>
<circle cx="183.4" cy="284.8" r="2.45" fill="#ffee00" stroke="#880000" stroke-width="1.05"/>
<circle cx="205.3" cy="286.8" r="2.45" fill="#ffee00" stroke="#880000" stroke-width="1.05"/>
<circle cx="232.8" cy="250.5" r="2.45" fill="#ffee00" stroke="#880000" stroke-width="1.05"/>
<circle cx="203.9" cy="294.6" r="2.45" fill="#ffee00" stroke="#880000" stroke-width="1.05"/>
<circle cx="165.3" cy="318.3" r="2.45" fill="#ffee00" stroke="#880000" stroke-width="1.05"/>
<circle cx="226.3" cy="258.2" r="2.45" fill="#ffee00" stroke="#880000" stroke-width="1.05"/>
<circle cx="183.6" cy="292.8" r="2.45" fill="#ffee00" stroke="#880000" stroke-width="1.05"/>
<circle cx="239.8" cy="268.6" r="2.45" fill="#ffee00" stroke="#880000" stroke-width="1.05"/>
<circle cx="200.7" cy="295.0" r="2.45" fill="#ffee00" stroke="#880000" stroke-width="1.05"/>
<circle cx="224.4" cy="293.6" r="2.45" fill="#ffee00" stroke="#880000" stroke-width="1.05"/>
<circle cx="211.1" cy="270.0" r="2.45" fill="#ffee00" stroke="#880000" stroke-width="1.05"/>
<circle cx="212.9" cy="262.2" r="2.45" fill="#ffee00" stroke="#880000" stroke-width="1.05"/>
<circle cx="229.2" cy="271.9" r="2.45" fill="#ffee00" stroke="#880000" stroke-width="1.05"/>
<circle cx="189.9" cy="303.8" r="2.45" fill="#ffee00" stroke="#880000" stroke-width="1.05"/>
<circle cx="226.2" cy="268.8" r="2.45" fill="#ffee00" stroke="#880000" stroke-width="1.05"/>
<circle cx="217.1" cy="284.9" r="2.45" fill="#ffee00" stroke="#880000" stroke-width="1.05"/>
<circle cx="242.3" cy="245.1" r="2.45" fill="#ffee00" stroke="#880000" stroke-width="1.05"/>
<circle cx="232.6" cy="278.0" r="2.45" fill="#ffee00" stroke="#880000" stroke-width="1.05"/>
<circle cx="234.7" cy="276.2" r="2.45" fill="#ffee00" stroke="#880000" stroke-width="1.05"/>
<circle cx="237.8" cy="261.4" r="2.45" fill="#ffee00" stroke="#880000" stroke-width="1.05"/>
<circle cx="195.3" cy="296.5" r="2.45" fill="#ffee00" stroke="#880000" stroke-width="1.05"/>
<circle cx="226.4" cy="262.6" r="2.45" fill="#ffee00" stroke="#880000" stroke-width="1.05"/>
<circle cx="219.4" cy="274.0" r="2.45" fill="#ffee00" stroke="#880000" stroke-width="1.05"/>
<circle cx="189.3" cy="286.5" r="2.45" fill="#ffee00" stroke="#880000" stroke-width="1.05"/>
<circle cx="207.8" cy="281.1" r="2.45" fill="#ffee00" stroke="#880000" stroke-width="1.05"/>
<circle cx="229.1" cy="242.3" r="2.45" fill="#ffee00" stroke="#880000" stroke-width="1.05"/>
<circle cx="199.0" cy="270.8" r="2.45" fill="#ffee00" stroke="#880000" stroke-width="1.05"/>
<circle cx="196.4" cy="274.1" r="2.45" fill="#ffee00" stroke="#880000" stroke-width="1.05"/>
<circle cx="229.9" cy="264.1" r="2.45" fill="#ffee00" stroke="#880000" stroke-width="1.05"/>
<circle cx="220.0" cy="281.2" r="2.45" fill="#ffee00" stroke="#880000" stroke-width="1.05"/>
<circle cx="206.1" cy="266.6" r="2.45" fill="#ffee00" stroke="#880000" stroke-width="1.05"/>
<circle cx="232.9" cy="249.3" r="2.45" fill="#ffee00" stroke="#880000" stroke-width="1.05"/>
<circle cx="189.9" cy="295.8" r="2.45" fill="#ffee00" stroke="#880000" stroke-width="1.05"/>
<circle cx="216.7" cy="272.0" r="2.45" fill="#ffee00" stroke="#880000" stroke-width="1.05"/>
<circle cx="202.1" cy="287.5" r="2.45" fill="#ffee00" stroke="#880000" stroke-width="1.05"/>
<circle cx="211.9" cy="258.7" r="2.45" fill="#ffee00" stroke="#880000" stroke-width="1.05"/>
<circle cx="211.8" cy="286.0" r="2.45" fill="#ffee00" stroke="#880000" stroke-width="1.05"/>
<circle cx="221.8" cy="296.1" r="2.45" fill="#ffee00" stroke="#880000" stroke-width="1.05"/>
<circle cx="193.3" cy="295.9" r="2.45" fill="#ffee00" stroke="#880000" stroke-width="1.05"/>
<circle cx="221.7" cy="296.2" r="2.45" fill="#ffee00" stroke="#880000" stroke-width="1.05"/>
<circle cx="209.2" cy="291.9" r="2.45" fill="#ffee00" stroke="#880000" stroke-width="1.05"/>
<circle cx="238.1" cy="248.8" r="2.45" fill="#ffee00" stroke="#880000" stroke-width="1.05"/>
<circle cx="203.5" cy="274.7" r="2.45" fill="#ffee00" stroke="#880000" stroke-width="1.05"/>
<circle cx="186.0" cy="289.0" r="2.45" fill="#ffee00" stroke="#880000" stroke-width="1.05"/>
<circle cx="220.6" cy="256.1" r="2.45" fill="#ffee00" stroke="#880000" stroke-width="1.05"/>
<circle cx="203.9" cy="307.3" r="2.45" fill="#ffee00" stroke="#880000" stroke-width="1.05"/>
<circle cx="233.6" cy="276.7" r="2.45" fill="#ffee00" stroke="#880000" stroke-width="1.05"/>
<circle cx="201.2" cy="287.3" r="2.45" fill="#ffee00" stroke="#880000" stroke-width="1.05"/>
<circle cx="254.3" cy="250.0" r="2.45" fill="#ffee00" stroke="#880000" stroke-width="1.05"/>
<circle cx="242.2" cy="255.9" r="2.45" fill="#ffee00" stroke="#880000" stroke-width="1.05"/>
<circle cx="180.5" cy="289.2" r="2.45" fill="#ffee00" stroke="#880000" stroke-width="1.05"/>
<circle cx="226.7" cy="274.1" r="2.45" fill="#ffee00" stroke="#880000" stroke-width="1.05"/>
<circle cx="176.6" cy="263.6" r="2.45" fill="#ffee00" stroke="#880000" stroke-width="1.05"/>
<circle cx="265.9" cy="239.9" r="2.45" fill="#ffee00" stroke="#880000" stroke-width="1.05"/>
<circle cx="225.5" cy="254.7" r="2.45" fill="#ffee00" stroke="#880000" stroke-width="1.05"/>
<circle cx="228.7" cy="285.2" r="2.45" fill="#ffee00" stroke="#880000" stroke-width="1.05"/>
<circle cx="180.9" cy="284.1" r="2.45" fill="#ffee00" stroke="#880000" stroke-width="1.05"/>
<circle cx="247.1" cy="251.6" r="2.45" fill="#ffee00" stroke="#880000" stroke-width="1.05"/>
<circle cx="234.4" cy="261.9" r="2.45" fill="#ffee00" stroke="#880000" stroke-width="1.05"/>
<circle cx="237.6" cy="246.4" r="2.45" fill="#ffee00" stroke="#880000" stroke-width="1.05"/>
<circle cx="227.1" cy="249.5" r="2.45" fill="#ffee00" stroke="#880000" stroke-width="1.05"/>
<circle cx="243.6" cy="265.6" r="2.45" fill="#ffee00" stroke="#880000" stroke-width="1.05"/>
<circle cx="242.7" cy="266.8" r="2.45" fill="#ffee00" stroke="#880000" stroke-width="1.05"/>
<circle cx="192.2" cy="266.4" r="2.45" fill="#ffee00" stroke="#880000" stroke-width="1.05"/>
<circle cx="174.6" cy="301.5" r="2.45" fill="#ffee00" stroke="#880000" stroke-width="1.05"/>
<circle cx="236.2" cy="255.4" r="2.45" fill="#ffee00" stroke="#880000" stroke-width="1.05"/>
<circle cx="205.0" cy="292.6" r="2.45" fill="#ffee00" stroke="#880000" stroke-width="1.05"/>
<circle cx="226.6" cy="259.5" r="2.45" fill="#ffee00" stroke="#880000" stroke-width="1.05"/>
<circle cx="212.4" cy="288.5" r="2.45" fill="#ffee00" stroke="#880000" stroke-width="1.05"/>
<circle cx="179.8" cy="295.9" r="2.45" fill="#ffee00" stroke="#880000" stroke-width="1.05"/>
<circle cx="213.2" cy="263.8" r="2.45" fill="#ffee00" stroke="#880000" stroke-width="1.05"/>
<circle cx="206.8" cy="266.7" r="2.45" fill="#ffee00" stroke="#880000" stroke-width="1.05"/>
<circle cx="185.2" cy="315.5" r="2.45" fill="#ffee00" stroke="#880000" stroke-width="1.05"/>
<circle cx="236.9" cy="265.9" r="2.45" fill="#ffee00" stroke="#880000" stroke-width="1.05"/>
<circle cx="194.1" cy="288.8" r="2.45" fill="#ffee00" stroke="#880000" stroke-width="1.05"/>
<circle cx="185.0" cy="297.1" r="2.45" fill="#ffee00" stroke="#880000" stroke-width="1.05"/>
<circle cx="181.0" cy="292.7" r="2.45" fill="#ffee00" stroke="#880000" stroke-width="1.05"/>
<circle cx="200.3" cy="283.7" r="2.45" fill="#ffee00" stroke="#880000" stroke-width="1.05"/>
<circle cx="214.3" cy="268.3" r="2.45" fill="#ffee00" stroke="#880000" stroke-width="1.05"/>
<circle cx="173.1" cy="297.9" r="2.45" fill="#ffee00" stroke="#880000" stroke-width="1.05"/>
<circle cx="208.0" cy="293.6" r="2.45" fill="#ffee00" stroke="#880000" stroke-width="1.05"/>
<circle cx="208.1" cy="271.4" r="2.45" fill="#ffee00" stroke="#880000" stroke-width="1.05"/>
<circle cx="225.7" cy="240.6" r="2.45" fill="#ffee00" stroke="#880000" stroke-width="1.05"/>
<circle cx="206.5" cy="277.2" r="2.45" fill="#ffee00" stroke="#880000" stroke-width="1.05"/>
<circle cx="260.8" cy="253.2" r="2.45" fill="#ffee00" stroke="#880000" stroke-width="1.05"/>
<circle cx="194.4" cy="292.8" r="2.45" fill="#ffee00" stroke="#880000" stroke-width="1.05"/>
<circle cx="200.2" cy="283.4" r="2.45" fill="#ffee00" stroke="#880000" stroke-width="1.05"/>
<circle cx="217.8" cy="282.2" r="2.45" fill="#ffee00" stroke="#880000" stroke-width="1.05"/>
<circle cx="187.0" cy="292.0" r="2.45" fill="#ffee00" stroke="#880000" stroke-width="1.05"/>
<circle cx="184.9" cy="303.4" r="2.45" fill="#ffee00" stroke="#880000" stroke-width="1.05"/>
<circle cx="222.7" cy="270.3" r="2.45" fill="#ffee00" stroke="#880000" stroke-width="1.05"/>
<circle cx="190.4" cy="308.2" r="2.45" fill="#ffee00" stroke="#880000" stroke-width="1.05"/>
<circle cx="190.4" cy="308.9" r="2.45" fill="#ffee00" stroke="#880000" stroke-width="1.05"/>
<circle cx="227.2" cy="256.4" r="2.45" fill="#ffee00" stroke="#880000" stroke-width="1.05"/>
<circle cx="221.5" cy="265.6" r="2.45" fill="#ffee00" stroke="#880000" stroke-width="1.05"/>
<circle cx="202.5" cy="279.5" r="2.45" fill="#ffee00" stroke="#880000" stroke-width="1.05"/>
<circle cx="215.8" cy="272.7" r="2.45" fill="#ffee00" stroke="#880000" stroke-width="1.05"/>
<circle cx="202.6" cy="295.9" r="2.45" fill="#ffee00" stroke="#880000" stroke-width="1.05"/>
<circle cx="221.2" cy="264.9" r="2.45" fill="#ffee00" stroke="#880000" stroke-width="1.05"/>
<circle cx="187.6" cy="294.0" r="2.45" fill="#ffee00" stroke="#880000" stroke-width="1.05"/>
<circle cx="213.5" cy="268.2" r="2.45" fill="#ffee00" stroke="#880000" stroke-width="1.05"/>
<circle cx="173.6" cy="318.3" r="2.45" fill="#ffee00" stroke="#880000" stroke-width="1.05"/>
<circle cx="181.3" cy="311.3" r="2.45" fill="#ffee00" stroke="#880000" stroke-width="1.05"/>
<circle cx="188.4" cy="279.1" r="2.45" fill="#ffee00" stroke="#880000" stroke-width="1.05"/>
<circle cx="186.6" cy="263.2" r="2.45" fill="#ffee00" stroke="#880000" stroke-width="1.05"/>
<circle cx="220.8" cy="261.0" r="2.45" fill="#ffee00" stroke="#880000" stroke-width="1.05"/>
<circle cx="213.2" cy="263.5" r="2.45" fill="#ffee00" stroke="#880000" stroke-width="1.05"/>
<circle cx="223.4" cy="257.9" r="2.45" fill="#ffee00" stroke="#880000" stroke-width="1.05"/>
<circle cx="228.3" cy="257.4" r="2.45" fill="#ffee00" stroke="#880000" stroke-width="1.05"/>
<circle cx="223.6" cy="254.0" r="2.45" fill="#ffee00" stroke="#880000" stroke-width="1.05"/>
<circle cx="214.8" cy="280.8" r="2.45" fill="#ffee00" stroke="#880000" stroke-width="1.05"/>
<circle cx="252.4" cy="256.9" r="2.45" fill="#ffee00" stroke="#880000" stroke-width="1.05"/>
<circle cx="223.9" cy="240.4" r="2.45" fill="#ffee00" stroke="#880000" stroke-width="1.05"/>
<circle cx="199.1" cy="287.4" r="2.45" fill="#ffee00" stroke="#880000" stroke-width="1.05"/>
<circle cx="198.2" cy="296.7" r="2.45" fill="#ffee00" stroke="#880000" stroke-width="1.05"/>
<circle cx="229.9" cy="267.3" r="2.45" fill="#ffee00" stroke="#880000" stroke-width="1.05"/>
<circle cx="139.4" cy="315.1" r="2.45" fill="#ffee00" stroke="#880000" stroke-width="1.05"/>
<circle cx="144.1" cy="318.0" r="2.45" fill="#ffee00" stroke="#880000" stroke-width="1.05"/>
<circle cx="145.5" cy="323.4" r="2.45" fill="#ffee00" stroke="#880000" stroke-width="1.05"/>
<circle cx="198.8" cy="222.0" r="2.45" fill="#ffee00" stroke="#880000" stroke-width="1.05"/>
<circle cx="200.2" cy="216.2" r="2.45" fill="#ffee00" stroke="#880000" stroke-width="1.05"/>
<circle cx="211.9" cy="229.6" r="2.45" fill="#ffee00" stroke="#880000" stroke-width="1.05"/>
<circle cx="216.6" cy="230.9" r="2.45" fill="#ffee00" stroke="#880000" stroke-width="1.05"/>
<circle cx="221.3" cy="225.8" r="2.45" fill="#ffee00" stroke="#880000" stroke-width="1.05"/>
<circle cx="235.3" cy="226.1" r="2.45" fill="#ffee00" stroke="#880000" stroke-width="1.05"/>
<circle cx="243.3" cy="224.8" r="2.45" fill="#ffee00" stroke="#880000" stroke-width="1.05"/>
<circle cx="270.4" cy="266.4" r="2.45" fill="#ffee00" stroke="#880000" stroke-width="1.05"/>
<circle cx="226.0" cy="309.6" r="2.45" fill="#ffee00" stroke="#880000" stroke-width="1.05"/>
<circle cx="179.2" cy="317.6" r="2.45" fill="#ffee00" stroke="#880000" stroke-width="1.05"/>
<circle cx="166.5" cy="282.8" r="2.45" fill="#ffee00" stroke="#880000" stroke-width="1.05"/>
<polyline points="160.46,333.78 163.27,332.03 166.08,330.28 168.88,328.53 171.69,326.78 174.50,325.03 177.31,323.28 180.12,321.52 182.92,319.77 185.73,318.02 188.54,316.27 191.35,314.52 194.16,312.77 196.96,311.02 199.77,309.27 202.58,307.52 205.39,305.77 208.20,304.02 211.00,302.27 213.81,300.52 216.62,298.77 219.43,297.02 222.24,295.27 225.04,293.52 227.85,291.77 230.66,290.02 233.47,288.27 236.28,286.52 239.08,284.77 241.89,283.01 244.70,281.26 247.51,279.51 250.32,277.76 253.12,276.01 255.93,274.26 258.74,272.51 261.55,270.76 264.36,269.01 267.16,267.26 269.97,265.51 272.78,263.76" fill="none" stroke="#2828a0" stroke-width="1.4" stroke-dasharray="1.3 2.1"/>
<polyline points="139.40,299.55 142.69,297.50 145.98,295.45 149.26,293.40 152.55,291.35 155.84,289.30 159.13,287.25 162.41,285.20 165.70,283.15 168.99,281.10 172.28,279.05 175.56,277.00 178.85,274.95 182.14,272.90 185.43,270.85 188.72,268.80 192.00,266.75 195.29,264.71 198.58,262.66 201.87,260.61 205.15,258.56 208.44,256.51 211.73,254.46 215.02,252.41 218.30,250.36 221.59,248.31 224.88,246.26 228.17,244.21 231.46,242.16 234.74,240.11 238.03,238.06 241.32,236.01 244.61,233.96 247.89,231.91 251.18,229.86 254.47,227.81 257.76,225.76 261.04,223.72 264.33,221.67 267.62,219.62 270.91,217.57" fill="none" stroke="#2828a0" stroke-width="1.4" stroke-dasharray="1.3 2.1"/>
<polyline points="139.40,323.55 142.70,321.49 146.00,319.43 149.30,317.38 152.60,315.32 155.90,313.26 159.20,311.21 162.50,309.15 165.80,307.09 169.09,305.04 172.39,302.98 175.69,300.92 178.99,298.87 182.29,296.81 185.59,294.75 188.89,292.69 192.19,290.64 195.49,288.58 198.79,286.52 202.09,284.47 205.39,282.41 208.69,280.35 211.99,278.30 215.29,276.24 218.59,274.18 221.88,272.13 225.18,270.07 228.48,268.01 231.78,265.96 235.08,263.90 238.38,261.84 241.68,259.79 244.98,257.73 248.28,255.67 251.58,253.62 254.88,251.56 258.18,249.50 261.48,247.45 264.78,245.39 268.08,243.33 271.38,241.27" fill="none" stroke="#111" stroke-width="1.4"/>
<polyline points="139.40,323.23 142.70,321.17 146.00,319.11 149.30,317.06 152.60,315.00 155.90,312.94 159.20,310.89 162.50,308.83 165.80,306.77 169.09,304.72 172.39,302.66 175.69,300.60 178.99,298.55 182.29,296.49 185.59,294.43 188.89,292.37 192.19,290.32 195.49,288.26 198.79,286.20 202.09,284.15 205.39,282.09 208.69,280.03 211.99,277.98 215.29,275.92 218.59,273.86 221.88,271.81 225.18,269.75 228.48,267.69 231.78,265.64 235.08,263.58 238.38,261.52 241.68,259.47 244.98,257.41 248.28,255.35 251.58,253.30 254.88,251.24 258.18,249.18 261.48,247.13 264.78,245.07 268.08,243.01 271.38,240.95" fill="none" stroke="#1c8c1c" stroke-width="2.2" stroke-dasharray="5 3"/>
<text x="131.0" y="217.8" font-family='"Liberation Serif", serif' font-size="10.5" font-weight="bold" fill="#111" stroke="#111" stroke-width="0.3" text-anchor="start" >(b)</text>
<text x="132.6" y="232.7" font-family='"Liberation Sans", sans-serif' font-size="6.8" font-weight="bold" fill="#111" stroke="#111" stroke-width="0.3" text-anchor="start" >Slope = 0.9117</text>
<text x="132.6" y="240.9" font-family='"Liberation Sans", sans-serif' font-size="6.8" font-weight="bold" fill="#111" stroke="#111" stroke-width="0.3" text-anchor="start" >Intercept = 1.1749</text>
<text x="132.6" y="249.1" font-family='"Liberation Sans", sans-serif' font-size="6.8" font-weight="bold" fill="#111" stroke="#111" stroke-width="0.3" text-anchor="start" >r = 0.9783</text>
<line x1="202.0" y1="316.0" x2="215.4" y2="316.0" stroke="#111" stroke-width="1.4"/>
<text x="217.2" y="318.1" font-family='"Liberation Sans", sans-serif' font-size="5.8" font-weight="bold" fill="#111" stroke="#111" stroke-width="0.3" text-anchor="start" >Linear regression</text>
<line x1="202.0" y1="323.5" x2="215.4" y2="323.5" stroke="#1c8c1c" stroke-width="1.6" stroke-dasharray="4 6.2 3.2"/>
<text x="217.2" y="325.6" font-family='"Liberation Sans", sans-serif' font-size="5.8" font-weight="bold" fill="#111" stroke="#111" stroke-width="0.3" text-anchor="start" >95% Confidence intervals</text>
<line x1="202.0" y1="330.8" x2="215.4" y2="330.8" stroke="#2828a0" stroke-width="1.4" stroke-dasharray="1.3 2.1"/>
<text x="217.2" y="332.9" font-family='"Liberation Sans", sans-serif' font-size="5.8" font-weight="bold" fill="#111" stroke="#111" stroke-width="0.3" text-anchor="start" >95% Prediction intervals</text>
<text x="206.7" y="350.2" font-family='"Liberation Sans", sans-serif' font-size="7.9" font-weight="bold" fill="#111" stroke="#111" stroke-width="0.3" text-anchor="middle" >Hemoglobin from blood test (gm/dL)</text>
<text transform="translate(110.9,272.0) rotate(-90)" x="0" y="0" font-family='"Liberation Sans", sans-serif' font-size="7.77" font-weight="bold" fill="#111" stroke="#111" stroke-width="0.3" text-anchor="middle">Hemoglobin from instrument (gm/dL)</text>
<rect x="326.3" y="207.7" width="166.1" height="120.7" fill="none" stroke="#151515" stroke-width="1.7"/>
<path d="M326.30,328.40v2.5M349.90,328.40v2.5M373.50,328.40v2.5M397.10,328.40v2.5M420.70,328.40v2.5M444.30,328.40v2.5M467.90,328.40v2.5M491.50,328.40v2.5M338.10,328.40v1.5M361.70,328.40v1.5M385.30,328.40v1.5M408.90,328.40v1.5M432.50,328.40v1.5M456.10,328.40v1.5M479.70,328.40v1.5M326.30,328.40h-2.5M326.30,312.30h-2.5M326.30,296.20h-2.5M326.30,280.10h-2.5M326.30,264.00h-2.5M326.30,247.90h-2.5M326.30,231.80h-2.5M326.30,215.70h-2.5M326.30,320.35h-1.5M326.30,304.25h-1.5M326.30,288.15h-1.5M326.30,272.05h-1.5M326.30,255.95h-1.5M326.30,239.85h-1.5M326.30,223.75h-1.5" stroke="#111" stroke-width="1.35" fill="none"/>
<text x="326.3" y="337.4" font-family='"Liberation Sans", sans-serif' font-size="6.6" font-weight="bold" fill="#111" stroke="#111" stroke-width="0.3" text-anchor="middle" >0</text>
<text x="349.9" y="337.4" font-family='"Liberation Sans", sans-serif' font-size="6.6" font-weight="bold" fill="#111" stroke="#111" stroke-width="0.3" text-anchor="middle" >5</text>
<text x="373.5" y="337.4" font-family='"Liberation Sans", sans-serif' font-size="6.6" font-weight="bold" fill="#111" stroke="#111" stroke-width="0.3" text-anchor="middle" >10</text>
<text x="397.1" y="337.4" font-family='"Liberation Sans", sans-serif' font-size="6.6" font-weight="bold" fill="#111" stroke="#111" stroke-width="0.3" text-anchor="middle" >15</text>
<text x="420.7" y="337.4" font-family='"Liberation Sans", sans-serif' font-size="6.6" font-weight="bold" fill="#111" stroke="#111" stroke-width="0.3" text-anchor="middle" >20</text>
<text x="444.3" y="337.4" font-family='"Liberation Sans", sans-serif' font-size="6.6" font-weight="bold" fill="#111" stroke="#111" stroke-width="0.3" text-anchor="middle" >25</text>
<text x="467.9" y="337.4" font-family='"Liberation Sans", sans-serif' font-size="6.6" font-weight="bold" fill="#111" stroke="#111" stroke-width="0.3" text-anchor="middle" >30</text>
<text x="491.5" y="337.4" font-family='"Liberation Sans", sans-serif' font-size="6.6" font-weight="bold" fill="#111" stroke="#111" stroke-width="0.3" text-anchor="middle" >35</text>
<text x="322.7" y="330.2" font-family='"Liberation Sans", sans-serif' font-size="6.6" font-weight="bold" fill="#111" stroke="#111" stroke-width="0.3" text-anchor="end" >0</text>
<text x="322.7" y="314.1" font-family='"Liberation Sans", sans-serif' font-size="6.6" font-weight="bold" fill="#111" stroke="#111" stroke-width="0.3" text-anchor="end" >5</text>
<text x="322.7" y="298.0" font-family='"Liberation Sans", sans-serif' font-size="6.6" font-weight="bold" fill="#111" stroke="#111" stroke-width="0.3" text-anchor="end" >10</text>
<text x="322.7" y="281.9" font-family='"Liberation Sans", sans-serif' font-size="6.6" font-weight="bold" fill="#111" stroke="#111" stroke-width="0.3" text-anchor="end" >15</text>
<text x="322.7" y="265.8" font-family='"Liberation Sans", sans-serif' font-size="6.6" font-weight="bold" fill="#111" stroke="#111" stroke-width="0.3" text-anchor="end" >20</text>
<text x="322.7" y="249.7" font-family='"Liberation Sans", sans-serif' font-size="6.6" font-weight="bold" fill="#111" stroke="#111" stroke-width="0.3" text-anchor="end" >25</text>
<text x="322.7" y="233.6" font-family='"Liberation Sans", sans-serif' font-size="6.6" font-weight="bold" fill="#111" stroke="#111" stroke-width="0.3" text-anchor="end" >30</text>
<text x="322.7" y="217.5" font-family='"Liberation Sans", sans-serif' font-size="6.6" font-weight="bold" fill="#111" stroke="#111" stroke-width="0.3" text-anchor="end" >35</text>
<circle cx="389.1" cy="282.1" r="2.4" fill="#ff8c00" stroke="#000" stroke-width="1.0"/>
<circle cx="439.1" cy="252.2" r="2.4" fill="#ff8c00" stroke="#000" stroke-width="1.0"/>
<circle cx="419.0" cy="267.2" r="2.4" fill="#ff8c00" stroke="#000" stroke-width="1.0"/>
<circle cx="380.5" cy="293.2" r="2.4" fill="#ff8c00" stroke="#000" stroke-width="1.0"/>
<circle cx="433.5" cy="254.0" r="2.4" fill="#ff8c00" stroke="#000" stroke-width="1.0"/>
<circle cx="403.8" cy="283.5" r="2.4" fill="#ff8c00" stroke="#000" stroke-width="1.0"/>
<circle cx="409.1" cy="276.2" r="2.4" fill="#ff8c00" stroke="#000" stroke-width="1.0"/>
<circle cx="412.1" cy="265.5" r="2.4" fill="#ff8c00" stroke="#000" stroke-width="1.0"/>
<circle cx="357.7" cy="304.3" r="2.4" fill="#ff8c00" stroke="#000" stroke-width="1.0"/>
<circle cx="376.9" cy="299.3" r="2.4" fill="#ff8c00" stroke="#000" stroke-width="1.0"/>
<circle cx="382.2" cy="279.0" r="2.4" fill="#ff8c00" stroke="#000" stroke-width="1.0"/>
<circle cx="427.0" cy="256.1" r="2.4" fill="#ff8c00" stroke="#000" stroke-width="1.0"/>
<circle cx="393.9" cy="292.9" r="2.4" fill="#ff8c00" stroke="#000" stroke-width="1.0"/>
<circle cx="402.3" cy="273.9" r="2.4" fill="#ff8c00" stroke="#000" stroke-width="1.0"/>
<circle cx="409.6" cy="265.4" r="2.4" fill="#ff8c00" stroke="#000" stroke-width="1.0"/>
<circle cx="402.9" cy="260.8" r="2.4" fill="#ff8c00" stroke="#000" stroke-width="1.0"/>
<circle cx="426.6" cy="246.0" r="2.4" fill="#ff8c00" stroke="#000" stroke-width="1.0"/>
<circle cx="417.0" cy="268.4" r="2.4" fill="#ff8c00" stroke="#000" stroke-width="1.0"/>
<circle cx="391.4" cy="275.8" r="2.4" fill="#ff8c00" stroke="#000" stroke-width="1.0"/>
<circle cx="435.8" cy="253.4" r="2.4" fill="#ff8c00" stroke="#000" stroke-width="1.0"/>
<circle cx="420.8" cy="266.3" r="2.4" fill="#ff8c00" stroke="#000" stroke-width="1.0"/>
<circle cx="401.4" cy="278.7" r="2.4" fill="#ff8c00" stroke="#000" stroke-width="1.0"/>
<circle cx="367.1" cy="306.1" r="2.4" fill="#ff8c00" stroke="#000" stroke-width="1.0"/>
<circle cx="412.1" cy="268.5" r="2.4" fill="#ff8c00" stroke="#000" stroke-width="1.0"/>
<circle cx="436.7" cy="248.9" r="2.4" fill="#ff8c00" stroke="#000" stroke-width="1.0"/>
<circle cx="421.1" cy="263.5" r="2.4" fill="#ff8c00" stroke="#000" stroke-width="1.0"/>
<circle cx="358.1" cy="302.9" r="2.4" fill="#ff8c00" stroke="#000" stroke-width="1.0"/>
<circle cx="390.4" cy="279.0" r="2.4" fill="#ff8c00" stroke="#000" stroke-width="1.0"/>
<circle cx="404.5" cy="277.1" r="2.4" fill="#ff8c00" stroke="#000" stroke-width="1.0"/>
<circle cx="398.5" cy="280.5" r="2.4" fill="#ff8c00" stroke="#000" stroke-width="1.0"/>
<circle cx="365.2" cy="312.2" r="2.4" fill="#ff8c00" stroke="#000" stroke-width="1.0"/>
<circle cx="439.6" cy="248.8" r="2.4" fill="#ff8c00" stroke="#000" stroke-width="1.0"/>
<circle cx="400.7" cy="279.6" r="2.4" fill="#ff8c00" stroke="#000" stroke-width="1.0"/>
<circle cx="402.5" cy="261.1" r="2.4" fill="#ff8c00" stroke="#000" stroke-width="1.0"/>
<circle cx="423.3" cy="262.6" r="2.4" fill="#ff8c00" stroke="#000" stroke-width="1.0"/>
<circle cx="395.3" cy="297.5" r="2.4" fill="#ff8c00" stroke="#000" stroke-width="1.0"/>
<circle cx="413.9" cy="256.9" r="2.4" fill="#ff8c00" stroke="#000" stroke-width="1.0"/>
<circle cx="433.0" cy="254.3" r="2.4" fill="#ff8c00" stroke="#000" stroke-width="1.0"/>
<circle cx="396.8" cy="289.0" r="2.4" fill="#ff8c00" stroke="#000" stroke-width="1.0"/>
<circle cx="412.8" cy="272.6" r="2.4" fill="#ff8c00" stroke="#000" stroke-width="1.0"/>
<circle cx="384.2" cy="273.3" r="2.4" fill="#ff8c00" stroke="#000" stroke-width="1.0"/>
<circle cx="388.9" cy="288.7" r="2.4" fill="#ff8c00" stroke="#000" stroke-width="1.0"/>
<circle cx="354.9" cy="291.2" r="2.4" fill="#ff8c00" stroke="#000" stroke-width="1.0"/>
<circle cx="407.2" cy="273.3" r="2.4" fill="#ff8c00" stroke="#000" stroke-width="1.0"/>
<circle cx="417.7" cy="273.2" r="2.4" fill="#ff8c00" stroke="#000" stroke-width="1.0"/>
<circle cx="396.3" cy="277.1" r="2.4" fill="#ff8c00" stroke="#000" stroke-width="1.0"/>
<circle cx="391.6" cy="279.8" r="2.4" fill="#ff8c00" stroke="#000" stroke-width="1.0"/>
<circle cx="439.5" cy="246.2" r="2.4" fill="#ff8c00" stroke="#000" stroke-width="1.0"/>
<circle cx="444.2" cy="240.6" r="2.4" fill="#ff8c00" stroke="#000" stroke-width="1.0"/>
<circle cx="451.9" cy="242.4" r="2.4" fill="#ff8c00" stroke="#000" stroke-width="1.0"/>
<circle cx="421.1" cy="273.1" r="2.4" fill="#ff8c00" stroke="#000" stroke-width="1.0"/>
<circle cx="406.8" cy="279.0" r="2.4" fill="#ff8c00" stroke="#000" stroke-width="1.0"/>
<circle cx="409.3" cy="280.1" r="2.4" fill="#ff8c00" stroke="#000" stroke-width="1.0"/>
<circle cx="418.5" cy="251.0" r="2.4" fill="#ff8c00" stroke="#000" stroke-width="1.0"/>
<circle cx="392.7" cy="276.9" r="2.4" fill="#ff8c00" stroke="#000" stroke-width="1.0"/>
<circle cx="425.7" cy="267.2" r="2.4" fill="#ff8c00" stroke="#000" stroke-width="1.0"/>
<circle cx="404.1" cy="279.0" r="2.4" fill="#ff8c00" stroke="#000" stroke-width="1.0"/>
<circle cx="421.4" cy="269.1" r="2.4" fill="#ff8c00" stroke="#000" stroke-width="1.0"/>
<circle cx="431.3" cy="248.1" r="2.4" fill="#ff8c00" stroke="#000" stroke-width="1.0"/>
<circle cx="443.4" cy="251.0" r="2.4" fill="#ff8c00" stroke="#000" stroke-width="1.0"/>
<circle cx="419.6" cy="264.6" r="2.4" fill="#ff8c00" stroke="#000" stroke-width="1.0"/>
<circle cx="417.3" cy="258.3" r="2.4" fill="#ff8c00" stroke="#000" stroke-width="1.0"/>
<circle cx="364.3" cy="313.5" r="2.4" fill="#ff8c00" stroke="#000" stroke-width="1.0"/>
<circle cx="403.3" cy="271.4" r="2.4" fill="#ff8c00" stroke="#000" stroke-width="1.0"/>
<circle cx="399.4" cy="279.2" r="2.4" fill="#ff8c00" stroke="#000" stroke-width="1.0"/>
<circle cx="437.0" cy="248.4" r="2.4" fill="#ff8c00" stroke="#000" stroke-width="1.0"/>
<circle cx="408.4" cy="274.8" r="2.4" fill="#ff8c00" stroke="#000" stroke-width="1.0"/>
<circle cx="376.1" cy="288.1" r="2.4" fill="#ff8c00" stroke="#000" stroke-width="1.0"/>
<circle cx="413.3" cy="277.0" r="2.4" fill="#ff8c00" stroke="#000" stroke-width="1.0"/>
<circle cx="422.2" cy="266.6" r="2.4" fill="#ff8c00" stroke="#000" stroke-width="1.0"/>
<circle cx="402.5" cy="289.6" r="2.4" fill="#ff8c00" stroke="#000" stroke-width="1.0"/>
<circle cx="431.4" cy="264.2" r="2.4" fill="#ff8c00" stroke="#000" stroke-width="1.0"/>
<circle cx="417.3" cy="264.7" r="2.4" fill="#ff8c00" stroke="#000" stroke-width="1.0"/>
<circle cx="396.9" cy="280.0" r="2.4" fill="#ff8c00" stroke="#000" stroke-width="1.0"/>
<circle cx="404.5" cy="276.9" r="2.4" fill="#ff8c00" stroke="#000" stroke-width="1.0"/>
<circle cx="414.4" cy="273.9" r="2.4" fill="#ff8c00" stroke="#000" stroke-width="1.0"/>
<circle cx="425.9" cy="260.5" r="2.4" fill="#ff8c00" stroke="#000" stroke-width="1.0"/>
<circle cx="382.2" cy="285.4" r="2.4" fill="#ff8c00" stroke="#000" stroke-width="1.0"/>
<circle cx="400.2" cy="273.7" r="2.4" fill="#ff8c00" stroke="#000" stroke-width="1.0"/>
<circle cx="354.5" cy="303.3" r="2.4" fill="#ff8c00" stroke="#000" stroke-width="1.0"/>
<circle cx="356.4" cy="308.8" r="2.4" fill="#ff8c00" stroke="#000" stroke-width="1.0"/>
<circle cx="424.7" cy="253.6" r="2.4" fill="#ff8c00" stroke="#000" stroke-width="1.0"/>
<circle cx="392.3" cy="292.2" r="2.4" fill="#ff8c00" stroke="#000" stroke-width="1.0"/>
<circle cx="407.0" cy="270.2" r="2.4" fill="#ff8c00" stroke="#000" stroke-width="1.0"/>
<circle cx="406.6" cy="279.5" r="2.4" fill="#ff8c00" stroke="#000" stroke-width="1.0"/>
<circle cx="388.2" cy="288.7" r="2.4" fill="#ff8c00" stroke="#000" stroke-width="1.0"/>
<circle cx="447.3" cy="248.2" r="2.4" fill="#ff8c00" stroke="#000" stroke-width="1.0"/>
<circle cx="400.4" cy="279.7" r="2.4" fill="#ff8c00" stroke="#000" stroke-width="1.0"/>
<circle cx="386.6" cy="297.4" r="2.4" fill="#ff8c00" stroke="#000" stroke-width="1.0"/>
<circle cx="413.3" cy="258.0" r="2.4" fill="#ff8c00" stroke="#000" stroke-width="1.0"/>
<circle cx="421.7" cy="275.5" r="2.4" fill="#ff8c00" stroke="#000" stroke-width="1.0"/>
<circle cx="445.9" cy="246.5" r="2.4" fill="#ff8c00" stroke="#000" stroke-width="1.0"/>
<circle cx="454.9" cy="244.3" r="2.4" fill="#ff8c00" stroke="#000" stroke-width="1.0"/>
<circle cx="378.5" cy="289.0" r="2.4" fill="#ff8c00" stroke="#000" stroke-width="1.0"/>
<circle cx="406.8" cy="282.3" r="2.4" fill="#ff8c00" stroke="#000" stroke-width="1.0"/>
<circle cx="392.6" cy="285.4" r="2.4" fill="#ff8c00" stroke="#000" stroke-width="1.0"/>
<circle cx="389.6" cy="278.7" r="2.4" fill="#ff8c00" stroke="#000" stroke-width="1.0"/>
<circle cx="417.7" cy="270.2" r="2.4" fill="#ff8c00" stroke="#000" stroke-width="1.0"/>
<circle cx="401.9" cy="268.7" r="2.4" fill="#ff8c00" stroke="#000" stroke-width="1.0"/>
<circle cx="420.0" cy="274.8" r="2.4" fill="#ff8c00" stroke="#000" stroke-width="1.0"/>
<circle cx="416.7" cy="252.4" r="2.4" fill="#ff8c00" stroke="#000" stroke-width="1.0"/>
<circle cx="417.9" cy="273.3" r="2.4" fill="#ff8c00" stroke="#000" stroke-width="1.0"/>
<circle cx="414.4" cy="285.5" r="2.4" fill="#ff8c00" stroke="#000" stroke-width="1.0"/>
<circle cx="376.6" cy="277.3" r="2.4" fill="#ff8c00" stroke="#000" stroke-width="1.0"/>
<circle cx="407.4" cy="266.4" r="2.4" fill="#ff8c00" stroke="#000" stroke-width="1.0"/>
<circle cx="424.8" cy="259.9" r="2.4" fill="#ff8c00" stroke="#000" stroke-width="1.0"/>
<circle cx="452.0" cy="242.4" r="2.4" fill="#ff8c00" stroke="#000" stroke-width="1.0"/>
<circle cx="426.9" cy="257.1" r="2.4" fill="#ff8c00" stroke="#000" stroke-width="1.0"/>
<circle cx="418.9" cy="250.8" r="2.4" fill="#ff8c00" stroke="#000" stroke-width="1.0"/>
<circle cx="386.8" cy="294.9" r="2.4" fill="#ff8c00" stroke="#000" stroke-width="1.0"/>
<circle cx="439.1" cy="262.6" r="2.4" fill="#ff8c00" stroke="#000" stroke-width="1.0"/>
<circle cx="417.1" cy="274.5" r="2.4" fill="#ff8c00" stroke="#000" stroke-width="1.0"/>
<circle cx="435.7" cy="254.2" r="2.4" fill="#ff8c00" stroke="#000" stroke-width="1.0"/>
<circle cx="429.4" cy="264.3" r="2.4" fill="#ff8c00" stroke="#000" stroke-width="1.0"/>
<circle cx="409.5" cy="288.5" r="2.4" fill="#ff8c00" stroke="#000" stroke-width="1.0"/>
<circle cx="432.4" cy="253.0" r="2.4" fill="#ff8c00" stroke="#000" stroke-width="1.0"/>
<circle cx="412.8" cy="268.2" r="2.4" fill="#ff8c00" stroke="#000" stroke-width="1.0"/>
<circle cx="403.5" cy="275.0" r="2.4" fill="#ff8c00" stroke="#000" stroke-width="1.0"/>
<circle cx="457.4" cy="245.9" r="2.4" fill="#ff8c00" stroke="#000" stroke-width="1.0"/>
<circle cx="401.0" cy="270.2" r="2.4" fill="#ff8c00" stroke="#000" stroke-width="1.0"/>
<circle cx="418.1" cy="270.5" r="2.4" fill="#ff8c00" stroke="#000" stroke-width="1.0"/>
<circle cx="404.9" cy="259.5" r="2.4" fill="#ff8c00" stroke="#000" stroke-width="1.0"/>
<circle cx="379.7" cy="276.4" r="2.4" fill="#ff8c00" stroke="#000" stroke-width="1.0"/>
<circle cx="374.1" cy="289.6" r="2.4" fill="#ff8c00" stroke="#000" stroke-width="1.0"/>
<circle cx="409.1" cy="274.0" r="2.4" fill="#ff8c00" stroke="#000" stroke-width="1.0"/>
<circle cx="427.5" cy="267.7" r="2.4" fill="#ff8c00" stroke="#000" stroke-width="1.0"/>
<circle cx="394.5" cy="289.6" r="2.4" fill="#ff8c00" stroke="#000" stroke-width="1.0"/>
<circle cx="448.1" cy="251.6" r="2.4" fill="#ff8c00" stroke="#000" stroke-width="1.0"/>
<circle cx="420.8" cy="265.6" r="2.4" fill="#ff8c00" stroke="#000" stroke-width="1.0"/>
<circle cx="437.2" cy="262.2" r="2.4" fill="#ff8c00" stroke="#000" stroke-width="1.0"/>
<circle cx="391.7" cy="287.3" r="2.4" fill="#ff8c00" stroke="#000" stroke-width="1.0"/>
<circle cx="416.8" cy="272.6" r="2.4" fill="#ff8c00" stroke="#000" stroke-width="1.0"/>
<circle cx="423.3" cy="257.5" r="2.4" fill="#ff8c00" stroke="#000" stroke-width="1.0"/>
<circle cx="437.2" cy="248.9" r="2.4" fill="#ff8c00" stroke="#000" stroke-width="1.0"/>
<circle cx="445.7" cy="251.0" r="2.4" fill="#ff8c00" stroke="#000" stroke-width="1.0"/>
<circle cx="400.5" cy="282.2" r="2.4" fill="#ff8c00" stroke="#000" stroke-width="1.0"/>
<circle cx="396.1" cy="290.4" r="2.4" fill="#ff8c00" stroke="#000" stroke-width="1.0"/>
<circle cx="421.8" cy="262.2" r="2.4" fill="#ff8c00" stroke="#000" stroke-width="1.0"/>
<circle cx="362.4" cy="301.2" r="2.4" fill="#ff8c00" stroke="#000" stroke-width="1.0"/>
<circle cx="395.1" cy="287.5" r="2.4" fill="#ff8c00" stroke="#000" stroke-width="1.0"/>
<circle cx="405.7" cy="263.0" r="2.4" fill="#ff8c00" stroke="#000" stroke-width="1.0"/>
<circle cx="414.8" cy="284.3" r="2.4" fill="#ff8c00" stroke="#000" stroke-width="1.0"/>
<circle cx="420.0" cy="271.7" r="2.4" fill="#ff8c00" stroke="#000" stroke-width="1.0"/>
<circle cx="451.2" cy="248.9" r="2.4" fill="#ff8c00" stroke="#000" stroke-width="1.0"/>
<circle cx="410.3" cy="272.1" r="2.4" fill="#ff8c00" stroke="#000" stroke-width="1.0"/>
<circle cx="392.4" cy="285.0" r="2.4" fill="#ff8c00" stroke="#000" stroke-width="1.0"/>
<circle cx="409.4" cy="256.8" r="2.4" fill="#ff8c00" stroke="#000" stroke-width="1.0"/>
<circle cx="414.9" cy="263.2" r="2.4" fill="#ff8c00" stroke="#000" stroke-width="1.0"/>
<circle cx="414.8" cy="265.9" r="2.4" fill="#ff8c00" stroke="#000" stroke-width="1.0"/>
<circle cx="420.3" cy="252.1" r="2.4" fill="#ff8c00" stroke="#000" stroke-width="1.0"/>
<circle cx="397.2" cy="285.6" r="2.4" fill="#ff8c00" stroke="#000" stroke-width="1.0"/>
<circle cx="432.7" cy="263.1" r="2.4" fill="#ff8c00" stroke="#000" stroke-width="1.0"/>
<circle cx="435.2" cy="245.5" r="2.4" fill="#ff8c00" stroke="#000" stroke-width="1.0"/>
<circle cx="399.4" cy="272.3" r="2.4" fill="#ff8c00" stroke="#000" stroke-width="1.0"/>
<circle cx="401.3" cy="268.8" r="2.4" fill="#ff8c00" stroke="#000" stroke-width="1.0"/>
<circle cx="424.6" cy="251.2" r="2.4" fill="#ff8c00" stroke="#000" stroke-width="1.0"/>
<circle cx="432.0" cy="265.1" r="2.4" fill="#ff8c00" stroke="#000" stroke-width="1.0"/>
<circle cx="447.0" cy="246.9" r="2.4" fill="#ff8c00" stroke="#000" stroke-width="1.0"/>
<circle cx="438.0" cy="252.1" r="2.4" fill="#ff8c00" stroke="#000" stroke-width="1.0"/>
<circle cx="434.9" cy="264.7" r="2.4" fill="#ff8c00" stroke="#000" stroke-width="1.0"/>
<circle cx="444.4" cy="257.0" r="2.4" fill="#ff8c00" stroke="#000" stroke-width="1.0"/>
<circle cx="409.4" cy="266.6" r="2.4" fill="#ff8c00" stroke="#000" stroke-width="1.0"/>
<circle cx="377.3" cy="287.5" r="2.4" fill="#ff8c00" stroke="#000" stroke-width="1.0"/>
<circle cx="413.6" cy="261.1" r="2.4" fill="#ff8c00" stroke="#000" stroke-width="1.0"/>
<circle cx="411.0" cy="278.0" r="2.4" fill="#ff8c00" stroke="#000" stroke-width="1.0"/>
<circle cx="387.4" cy="291.2" r="2.4" fill="#ff8c00" stroke="#000" stroke-width="1.0"/>
<circle cx="416.2" cy="267.8" r="2.4" fill="#ff8c00" stroke="#000" stroke-width="1.0"/>
<circle cx="427.2" cy="246.7" r="2.4" fill="#ff8c00" stroke="#000" stroke-width="1.0"/>
<circle cx="406.1" cy="276.6" r="2.4" fill="#ff8c00" stroke="#000" stroke-width="1.0"/>
<circle cx="422.0" cy="259.0" r="2.4" fill="#ff8c00" stroke="#000" stroke-width="1.0"/>
<circle cx="362.2" cy="305.6" r="2.4" fill="#ff8c00" stroke="#000" stroke-width="1.0"/>
<circle cx="414.6" cy="262.5" r="2.4" fill="#ff8c00" stroke="#000" stroke-width="1.0"/>
<circle cx="401.5" cy="284.2" r="2.4" fill="#ff8c00" stroke="#000" stroke-width="1.0"/>
<circle cx="445.7" cy="253.7" r="2.4" fill="#ff8c00" stroke="#000" stroke-width="1.0"/>
<circle cx="402.9" cy="275.2" r="2.4" fill="#ff8c00" stroke="#000" stroke-width="1.0"/>
<circle cx="419.8" cy="272.6" r="2.4" fill="#ff8c00" stroke="#000" stroke-width="1.0"/>
<circle cx="378.8" cy="287.7" r="2.4" fill="#ff8c00" stroke="#000" stroke-width="1.0"/>
<circle cx="440.6" cy="254.1" r="2.4" fill="#ff8c00" stroke="#000" stroke-width="1.0"/>
<circle cx="381.2" cy="282.1" r="2.4" fill="#ff8c00" stroke="#000" stroke-width="1.0"/>
<circle cx="422.5" cy="252.1" r="2.4" fill="#ff8c00" stroke="#000" stroke-width="1.0"/>
<circle cx="385.3" cy="281.0" r="2.4" fill="#ff8c00" stroke="#000" stroke-width="1.0"/>
<circle cx="408.3" cy="289.3" r="2.4" fill="#ff8c00" stroke="#000" stroke-width="1.0"/>
<circle cx="400.6" cy="288.8" r="2.4" fill="#ff8c00" stroke="#000" stroke-width="1.0"/>
<circle cx="402.6" cy="270.4" r="2.4" fill="#ff8c00" stroke="#000" stroke-width="1.0"/>
<circle cx="409.0" cy="257.0" r="2.4" fill="#ff8c00" stroke="#000" stroke-width="1.0"/>
<circle cx="427.3" cy="264.9" r="2.4" fill="#ff8c00" stroke="#000" stroke-width="1.0"/>
<circle cx="403.6" cy="271.5" r="2.4" fill="#ff8c00" stroke="#000" stroke-width="1.0"/>
<circle cx="394.5" cy="275.7" r="2.4" fill="#ff8c00" stroke="#000" stroke-width="1.0"/>
<circle cx="425.7" cy="252.7" r="2.4" fill="#ff8c00" stroke="#000" stroke-width="1.0"/>
<circle cx="416.7" cy="265.0" r="2.4" fill="#ff8c00" stroke="#000" stroke-width="1.0"/>
<circle cx="385.7" cy="283.6" r="2.4" fill="#ff8c00" stroke="#000" stroke-width="1.0"/>
<circle cx="409.7" cy="268.8" r="2.4" fill="#ff8c00" stroke="#000" stroke-width="1.0"/>
<circle cx="422.9" cy="267.8" r="2.4" fill="#ff8c00" stroke="#000" stroke-width="1.0"/>
<circle cx="404.2" cy="279.6" r="2.4" fill="#ff8c00" stroke="#000" stroke-width="1.0"/>
<circle cx="386.3" cy="299.8" r="2.4" fill="#ff8c00" stroke="#000" stroke-width="1.0"/>
<circle cx="389.1" cy="279.2" r="2.4" fill="#ff8c00" stroke="#000" stroke-width="1.0"/>
<circle cx="359.6" cy="297.7" r="2.4" fill="#ff8c00" stroke="#000" stroke-width="1.0"/>
<circle cx="430.1" cy="250.1" r="2.4" fill="#ff8c00" stroke="#000" stroke-width="1.0"/>
<circle cx="405.4" cy="275.8" r="2.4" fill="#ff8c00" stroke="#000" stroke-width="1.0"/>
<circle cx="437.6" cy="246.7" r="2.4" fill="#ff8c00" stroke="#000" stroke-width="1.0"/>
<circle cx="452.8" cy="246.5" r="2.4" fill="#ff8c00" stroke="#000" stroke-width="1.0"/>
<circle cx="403.3" cy="265.1" r="2.4" fill="#ff8c00" stroke="#000" stroke-width="1.0"/>
<circle cx="404.9" cy="274.3" r="2.4" fill="#ff8c00" stroke="#000" stroke-width="1.0"/>
<circle cx="443.8" cy="242.4" r="2.4" fill="#ff8c00" stroke="#000" stroke-width="1.0"/>
<circle cx="404.5" cy="268.8" r="2.4" fill="#ff8c00" stroke="#000" stroke-width="1.0"/>
<circle cx="412.6" cy="259.6" r="2.4" fill="#ff8c00" stroke="#000" stroke-width="1.0"/>
<circle cx="421.7" cy="269.7" r="2.4" fill="#ff8c00" stroke="#000" stroke-width="1.0"/>
<circle cx="454.0" cy="243.0" r="2.4" fill="#ff8c00" stroke="#000" stroke-width="1.0"/>
<circle cx="415.2" cy="271.8" r="2.4" fill="#ff8c00" stroke="#000" stroke-width="1.0"/>
<circle cx="413.9" cy="270.6" r="2.4" fill="#ff8c00" stroke="#000" stroke-width="1.0"/>
<circle cx="426.9" cy="255.1" r="2.4" fill="#ff8c00" stroke="#000" stroke-width="1.0"/>
<circle cx="441.5" cy="243.8" r="2.4" fill="#ff8c00" stroke="#000" stroke-width="1.0"/>
<circle cx="402.4" cy="280.4" r="2.4" fill="#ff8c00" stroke="#000" stroke-width="1.0"/>
<circle cx="395.3" cy="270.9" r="2.4" fill="#ff8c00" stroke="#000" stroke-width="1.0"/>
<circle cx="396.0" cy="266.0" r="2.4" fill="#ff8c00" stroke="#000" stroke-width="1.0"/>
<circle cx="418.4" cy="265.0" r="2.4" fill="#ff8c00" stroke="#000" stroke-width="1.0"/>
<circle cx="418.3" cy="251.1" r="2.4" fill="#ff8c00" stroke="#000" stroke-width="1.0"/>
<circle cx="416.7" cy="268.6" r="2.4" fill="#ff8c00" stroke="#000" stroke-width="1.0"/>
<circle cx="389.7" cy="295.8" r="2.4" fill="#ff8c00" stroke="#000" stroke-width="1.0"/>
<circle cx="398.2" cy="266.6" r="2.4" fill="#ff8c00" stroke="#000" stroke-width="1.0"/>
<circle cx="428.1" cy="264.6" r="2.4" fill="#ff8c00" stroke="#000" stroke-width="1.0"/>
<circle cx="356.8" cy="294.0" r="2.4" fill="#ff8c00" stroke="#000" stroke-width="1.0"/>
<circle cx="422.4" cy="279.3" r="2.4" fill="#ff8c00" stroke="#000" stroke-width="1.0"/>
<circle cx="408.9" cy="279.6" r="2.4" fill="#ff8c00" stroke="#000" stroke-width="1.0"/>
<circle cx="437.5" cy="247.5" r="2.4" fill="#ff8c00" stroke="#000" stroke-width="1.0"/>
<circle cx="398.1" cy="295.7" r="2.4" fill="#ff8c00" stroke="#000" stroke-width="1.0"/>
<circle cx="406.4" cy="258.6" r="2.4" fill="#ff8c00" stroke="#000" stroke-width="1.0"/>
<circle cx="424.8" cy="265.1" r="2.4" fill="#ff8c00" stroke="#000" stroke-width="1.0"/>
<circle cx="435.3" cy="258.5" r="2.4" fill="#ff8c00" stroke="#000" stroke-width="1.0"/>
<circle cx="452.3" cy="258.0" r="2.4" fill="#ff8c00" stroke="#000" stroke-width="1.0"/>
<circle cx="403.3" cy="261.3" r="2.4" fill="#ff8c00" stroke="#000" stroke-width="1.0"/>
<circle cx="440.8" cy="246.1" r="2.4" fill="#ff8c00" stroke="#000" stroke-width="1.0"/>
<circle cx="379.1" cy="289.1" r="2.4" fill="#ff8c00" stroke="#000" stroke-width="1.0"/>
<circle cx="429.3" cy="261.7" r="2.4" fill="#ff8c00" stroke="#000" stroke-width="1.0"/>
<circle cx="413.8" cy="260.2" r="2.4" fill="#ff8c00" stroke="#000" stroke-width="1.0"/>
<circle cx="404.3" cy="269.3" r="2.4" fill="#ff8c00" stroke="#000" stroke-width="1.0"/>
<circle cx="406.9" cy="281.7" r="2.4" fill="#ff8c00" stroke="#000" stroke-width="1.0"/>
<circle cx="377.4" cy="296.7" r="2.4" fill="#ff8c00" stroke="#000" stroke-width="1.0"/>
<circle cx="391.7" cy="273.4" r="2.4" fill="#ff8c00" stroke="#000" stroke-width="1.0"/>
<circle cx="414.3" cy="283.7" r="2.4" fill="#ff8c00" stroke="#000" stroke-width="1.0"/>
<circle cx="401.5" cy="271.1" r="2.4" fill="#ff8c00" stroke="#000" stroke-width="1.0"/>
<circle cx="409.5" cy="264.3" r="2.4" fill="#ff8c00" stroke="#000" stroke-width="1.0"/>
<circle cx="414.9" cy="263.6" r="2.4" fill="#ff8c00" stroke="#000" stroke-width="1.0"/>
<circle cx="411.8" cy="274.7" r="2.4" fill="#ff8c00" stroke="#000" stroke-width="1.0"/>
<circle cx="403.9" cy="281.0" r="2.4" fill="#ff8c00" stroke="#000" stroke-width="1.0"/>
<circle cx="396.5" cy="282.7" r="2.4" fill="#ff8c00" stroke="#000" stroke-width="1.0"/>
<circle cx="430.3" cy="243.7" r="2.4" fill="#ff8c00" stroke="#000" stroke-width="1.0"/>
<circle cx="376.9" cy="293.6" r="2.4" fill="#ff8c00" stroke="#000" stroke-width="1.0"/>
<circle cx="435.4" cy="244.1" r="2.4" fill="#ff8c00" stroke="#000" stroke-width="1.0"/>
<circle cx="423.3" cy="266.1" r="2.4" fill="#ff8c00" stroke="#000" stroke-width="1.0"/>
<circle cx="377.4" cy="289.2" r="2.4" fill="#ff8c00" stroke="#000" stroke-width="1.0"/>
<circle cx="372.3" cy="292.2" r="2.4" fill="#ff8c00" stroke="#000" stroke-width="1.0"/>
<circle cx="398.6" cy="283.7" r="2.4" fill="#ff8c00" stroke="#000" stroke-width="1.0"/>
<circle cx="394.2" cy="293.8" r="2.4" fill="#ff8c00" stroke="#000" stroke-width="1.0"/>
<circle cx="380.6" cy="286.7" r="2.4" fill="#ff8c00" stroke="#000" stroke-width="1.0"/>
<circle cx="393.4" cy="288.3" r="2.4" fill="#ff8c00" stroke="#000" stroke-width="1.0"/>
<circle cx="431.7" cy="252.7" r="2.4" fill="#ff8c00" stroke="#000" stroke-width="1.0"/>
<circle cx="417.9" cy="279.1" r="2.4" fill="#ff8c00" stroke="#000" stroke-width="1.0"/>
<circle cx="435.3" cy="250.7" r="2.4" fill="#ff8c00" stroke="#000" stroke-width="1.0"/>
<circle cx="386.5" cy="291.0" r="2.4" fill="#ff8c00" stroke="#000" stroke-width="1.0"/>
<circle cx="431.3" cy="247.8" r="2.4" fill="#ff8c00" stroke="#000" stroke-width="1.0"/>
<circle cx="401.8" cy="285.8" r="2.4" fill="#ff8c00" stroke="#000" stroke-width="1.0"/>
<circle cx="440.0" cy="256.1" r="2.4" fill="#ff8c00" stroke="#000" stroke-width="1.0"/>
<circle cx="430.5" cy="257.5" r="2.4" fill="#ff8c00" stroke="#000" stroke-width="1.0"/>
<circle cx="408.4" cy="275.1" r="2.4" fill="#ff8c00" stroke="#000" stroke-width="1.0"/>
<circle cx="447.0" cy="250.6" r="2.4" fill="#ff8c00" stroke="#000" stroke-width="1.0"/>
<circle cx="412.6" cy="274.3" r="2.4" fill="#ff8c00" stroke="#000" stroke-width="1.0"/>
<circle cx="385.8" cy="286.6" r="2.4" fill="#ff8c00" stroke="#000" stroke-width="1.0"/>
<circle cx="371.2" cy="296.8" r="2.4" fill="#ff8c00" stroke="#000" stroke-width="1.0"/>
<circle cx="383.0" cy="277.4" r="2.4" fill="#ff8c00" stroke="#000" stroke-width="1.0"/>
<circle cx="404.4" cy="281.3" r="2.4" fill="#ff8c00" stroke="#000" stroke-width="1.0"/>
<circle cx="363.0" cy="297.8" r="2.4" fill="#ff8c00" stroke="#000" stroke-width="1.0"/>
<circle cx="394.5" cy="269.0" r="2.4" fill="#ff8c00" stroke="#000" stroke-width="1.0"/>
<circle cx="378.9" cy="290.9" r="2.4" fill="#ff8c00" stroke="#000" stroke-width="1.0"/>
<circle cx="453.2" cy="255.6" r="2.4" fill="#ff8c00" stroke="#000" stroke-width="1.0"/>
<circle cx="384.2" cy="279.2" r="2.4" fill="#ff8c00" stroke="#000" stroke-width="1.0"/>
<circle cx="421.6" cy="278.3" r="2.4" fill="#ff8c00" stroke="#000" stroke-width="1.0"/>
<circle cx="424.2" cy="264.3" r="2.4" fill="#ff8c00" stroke="#000" stroke-width="1.0"/>
<circle cx="413.3" cy="264.8" r="2.4" fill="#ff8c00" stroke="#000" stroke-width="1.0"/>
<circle cx="390.6" cy="270.4" r="2.4" fill="#ff8c00" stroke="#000" stroke-width="1.0"/>
<circle cx="430.8" cy="253.2" r="2.4" fill="#ff8c00" stroke="#000" stroke-width="1.0"/>
<circle cx="396.8" cy="286.0" r="2.4" fill="#ff8c00" stroke="#000" stroke-width="1.0"/>
<circle cx="413.5" cy="255.8" r="2.4" fill="#ff8c00" stroke="#000" stroke-width="1.0"/>
<circle cx="423.9" cy="260.2" r="2.4" fill="#ff8c00" stroke="#000" stroke-width="1.0"/>
<circle cx="419.7" cy="261.6" r="2.4" fill="#ff8c00" stroke="#000" stroke-width="1.0"/>
<circle cx="405.5" cy="272.7" r="2.4" fill="#ff8c00" stroke="#000" stroke-width="1.0"/>
<circle cx="368.0" cy="297.2" r="2.4" fill="#ff8c00" stroke="#000" stroke-width="1.0"/>
<circle cx="434.0" cy="253.6" r="2.4" fill="#ff8c00" stroke="#000" stroke-width="1.0"/>
<circle cx="404.8" cy="284.5" r="2.4" fill="#ff8c00" stroke="#000" stroke-width="1.0"/>
<circle cx="412.5" cy="280.4" r="2.4" fill="#ff8c00" stroke="#000" stroke-width="1.0"/>
<circle cx="431.7" cy="258.1" r="2.4" fill="#ff8c00" stroke="#000" stroke-width="1.0"/>
<circle cx="428.8" cy="261.2" r="2.4" fill="#ff8c00" stroke="#000" stroke-width="1.0"/>
<circle cx="394.2" cy="267.3" r="2.4" fill="#ff8c00" stroke="#000" stroke-width="1.0"/>
<circle cx="408.5" cy="271.1" r="2.4" fill="#ff8c00" stroke="#000" stroke-width="1.0"/>
<circle cx="415.7" cy="270.9" r="2.4" fill="#ff8c00" stroke="#000" stroke-width="1.0"/>
<circle cx="403.9" cy="286.0" r="2.4" fill="#ff8c00" stroke="#000" stroke-width="1.0"/>
<circle cx="411.3" cy="267.1" r="2.4" fill="#ff8c00" stroke="#000" stroke-width="1.0"/>
<circle cx="389.4" cy="298.4" r="2.4" fill="#ff8c00" stroke="#000" stroke-width="1.0"/>
<circle cx="398.9" cy="272.8" r="2.4" fill="#ff8c00" stroke="#000" stroke-width="1.0"/>
<circle cx="427.3" cy="257.2" r="2.4" fill="#ff8c00" stroke="#000" stroke-width="1.0"/>
<circle cx="390.5" cy="279.9" r="2.4" fill="#ff8c00" stroke="#000" stroke-width="1.0"/>
<circle cx="407.1" cy="265.8" r="2.4" fill="#ff8c00" stroke="#000" stroke-width="1.0"/>
<circle cx="422.7" cy="270.7" r="2.4" fill="#ff8c00" stroke="#000" stroke-width="1.0"/>
<circle cx="416.3" cy="265.2" r="2.4" fill="#ff8c00" stroke="#000" stroke-width="1.0"/>
<circle cx="436.5" cy="239.8" r="2.4" fill="#ff8c00" stroke="#000" stroke-width="1.0"/>
<circle cx="376.9" cy="296.1" r="2.4" fill="#ff8c00" stroke="#000" stroke-width="1.0"/>
<circle cx="398.3" cy="282.4" r="2.4" fill="#ff8c00" stroke="#000" stroke-width="1.0"/>
<circle cx="404.4" cy="260.6" r="2.4" fill="#ff8c00" stroke="#000" stroke-width="1.0"/>
<circle cx="427.4" cy="260.5" r="2.4" fill="#ff8c00" stroke="#000" stroke-width="1.0"/>
<circle cx="425.1" cy="259.6" r="2.4" fill="#ff8c00" stroke="#000" stroke-width="1.0"/>
<circle cx="400.3" cy="276.5" r="2.4" fill="#ff8c00" stroke="#000" stroke-width="1.0"/>
<circle cx="424.7" cy="251.7" r="2.4" fill="#ff8c00" stroke="#000" stroke-width="1.0"/>
<circle cx="388.9" cy="282.7" r="2.4" fill="#ff8c00" stroke="#000" stroke-width="1.0"/>
<circle cx="419.5" cy="261.2" r="2.4" fill="#ff8c00" stroke="#000" stroke-width="1.0"/>
<circle cx="404.4" cy="277.2" r="2.4" fill="#ff8c00" stroke="#000" stroke-width="1.0"/>
<circle cx="376.0" cy="300.2" r="2.4" fill="#ff8c00" stroke="#000" stroke-width="1.0"/>
<circle cx="397.1" cy="284.8" r="2.4" fill="#ff8c00" stroke="#000" stroke-width="1.0"/>
<circle cx="420.9" cy="266.9" r="2.4" fill="#ff8c00" stroke="#000" stroke-width="1.0"/>
<circle cx="400.5" cy="283.2" r="2.4" fill="#ff8c00" stroke="#000" stroke-width="1.0"/>
<circle cx="413.9" cy="280.3" r="2.4" fill="#ff8c00" stroke="#000" stroke-width="1.0"/>
<circle cx="447.9" cy="258.1" r="2.4" fill="#ff8c00" stroke="#000" stroke-width="1.0"/>
<circle cx="397.3" cy="279.1" r="2.4" fill="#ff8c00" stroke="#000" stroke-width="1.0"/>
<circle cx="410.3" cy="267.2" r="2.4" fill="#ff8c00" stroke="#000" stroke-width="1.0"/>
<circle cx="364.2" cy="299.8" r="2.4" fill="#ff8c00" stroke="#000" stroke-width="1.0"/>
<circle cx="382.6" cy="276.6" r="2.4" fill="#ff8c00" stroke="#000" stroke-width="1.0"/>
<circle cx="364.5" cy="300.1" r="2.4" fill="#ff8c00" stroke="#000" stroke-width="1.0"/>
<circle cx="425.2" cy="262.2" r="2.4" fill="#ff8c00" stroke="#000" stroke-width="1.0"/>
<circle cx="415.1" cy="267.3" r="2.4" fill="#ff8c00" stroke="#000" stroke-width="1.0"/>
<circle cx="421.0" cy="255.5" r="2.4" fill="#ff8c00" stroke="#000" stroke-width="1.0"/>
<circle cx="412.6" cy="259.7" r="2.4" fill="#ff8c00" stroke="#000" stroke-width="1.0"/>
<circle cx="412.3" cy="261.6" r="2.4" fill="#ff8c00" stroke="#000" stroke-width="1.0"/>
<circle cx="381.2" cy="276.1" r="2.4" fill="#ff8c00" stroke="#000" stroke-width="1.0"/>
<circle cx="423.5" cy="256.8" r="2.4" fill="#ff8c00" stroke="#000" stroke-width="1.0"/>
<circle cx="451.0" cy="251.7" r="2.4" fill="#ff8c00" stroke="#000" stroke-width="1.0"/>
<circle cx="388.0" cy="302.0" r="2.4" fill="#ff8c00" stroke="#000" stroke-width="1.0"/>
<circle cx="437.2" cy="249.4" r="2.4" fill="#ff8c00" stroke="#000" stroke-width="1.0"/>
<circle cx="421.3" cy="263.3" r="2.4" fill="#ff8c00" stroke="#000" stroke-width="1.0"/>
<circle cx="417.6" cy="263.5" r="2.4" fill="#ff8c00" stroke="#000" stroke-width="1.0"/>
<circle cx="398.1" cy="284.3" r="2.4" fill="#ff8c00" stroke="#000" stroke-width="1.0"/>
<circle cx="402.9" cy="284.6" r="2.4" fill="#ff8c00" stroke="#000" stroke-width="1.0"/>
<circle cx="443.4" cy="256.2" r="2.4" fill="#ff8c00" stroke="#000" stroke-width="1.0"/>
<circle cx="405.6" cy="273.8" r="2.4" fill="#ff8c00" stroke="#000" stroke-width="1.0"/>
<circle cx="398.1" cy="265.8" r="2.4" fill="#ff8c00" stroke="#000" stroke-width="1.0"/>
<circle cx="420.5" cy="255.7" r="2.4" fill="#ff8c00" stroke="#000" stroke-width="1.0"/>
<circle cx="379.1" cy="296.5" r="2.4" fill="#ff8c00" stroke="#000" stroke-width="1.0"/>
<circle cx="359.7" cy="292.6" r="2.4" fill="#ff8c00" stroke="#000" stroke-width="1.0"/>
<circle cx="397.6" cy="273.7" r="2.4" fill="#ff8c00" stroke="#000" stroke-width="1.0"/>
<circle cx="439.1" cy="264.4" r="2.4" fill="#ff8c00" stroke="#000" stroke-width="1.0"/>
<circle cx="427.7" cy="261.7" r="2.4" fill="#ff8c00" stroke="#000" stroke-width="1.0"/>
<circle cx="418.7" cy="263.8" r="2.4" fill="#ff8c00" stroke="#000" stroke-width="1.0"/>
<circle cx="423.5" cy="263.8" r="2.4" fill="#ff8c00" stroke="#000" stroke-width="1.0"/>
<circle cx="375.4" cy="299.6" r="2.4" fill="#ff8c00" stroke="#000" stroke-width="1.0"/>
<circle cx="407.0" cy="273.9" r="2.4" fill="#ff8c00" stroke="#000" stroke-width="1.0"/>
<circle cx="385.8" cy="291.5" r="2.4" fill="#ff8c00" stroke="#000" stroke-width="1.0"/>
<circle cx="411.8" cy="260.7" r="2.4" fill="#ff8c00" stroke="#000" stroke-width="1.0"/>
<circle cx="410.8" cy="276.0" r="2.4" fill="#ff8c00" stroke="#000" stroke-width="1.0"/>
<circle cx="414.2" cy="277.2" r="2.4" fill="#ff8c00" stroke="#000" stroke-width="1.0"/>
<circle cx="419.8" cy="277.0" r="2.4" fill="#ff8c00" stroke="#000" stroke-width="1.0"/>
<circle cx="428.9" cy="265.0" r="2.4" fill="#ff8c00" stroke="#000" stroke-width="1.0"/>
<circle cx="439.6" cy="254.5" r="2.4" fill="#ff8c00" stroke="#000" stroke-width="1.0"/>
<circle cx="400.1" cy="275.6" r="2.4" fill="#ff8c00" stroke="#000" stroke-width="1.0"/>
<circle cx="403.2" cy="275.9" r="2.4" fill="#ff8c00" stroke="#000" stroke-width="1.0"/>
<circle cx="424.2" cy="279.2" r="2.4" fill="#ff8c00" stroke="#000" stroke-width="1.0"/>
<circle cx="440.9" cy="245.7" r="2.4" fill="#ff8c00" stroke="#000" stroke-width="1.0"/>
<circle cx="408.0" cy="282.1" r="2.4" fill="#ff8c00" stroke="#000" stroke-width="1.0"/>
<circle cx="376.9" cy="298.8" r="2.4" fill="#ff8c00" stroke="#000" stroke-width="1.0"/>
<circle cx="409.5" cy="269.4" r="2.4" fill="#ff8c00" stroke="#000" stroke-width="1.0"/>
<circle cx="418.6" cy="262.9" r="2.4" fill="#ff8c00" stroke="#000" stroke-width="1.0"/>
<circle cx="413.3" cy="270.6" r="2.4" fill="#ff8c00" stroke="#000" stroke-width="1.0"/>
<circle cx="380.1" cy="275.1" r="2.4" fill="#ff8c00" stroke="#000" stroke-width="1.0"/>
<circle cx="434.0" cy="247.2" r="2.4" fill="#ff8c00" stroke="#000" stroke-width="1.0"/>
<circle cx="409.1" cy="282.5" r="2.4" fill="#ff8c00" stroke="#000" stroke-width="1.0"/>
<circle cx="447.9" cy="254.1" r="2.4" fill="#ff8c00" stroke="#000" stroke-width="1.0"/>
<circle cx="377.6" cy="285.5" r="2.4" fill="#ff8c00" stroke="#000" stroke-width="1.0"/>
<circle cx="446.0" cy="251.0" r="2.4" fill="#ff8c00" stroke="#000" stroke-width="1.0"/>
<circle cx="414.1" cy="262.0" r="2.4" fill="#ff8c00" stroke="#000" stroke-width="1.0"/>
<circle cx="416.8" cy="266.0" r="2.4" fill="#ff8c00" stroke="#000" stroke-width="1.0"/>
<circle cx="429.8" cy="251.3" r="2.4" fill="#ff8c00" stroke="#000" stroke-width="1.0"/>
<circle cx="398.7" cy="276.9" r="2.4" fill="#ff8c00" stroke="#000" stroke-width="1.0"/>
<circle cx="422.0" cy="255.3" r="2.4" fill="#ff8c00" stroke="#000" stroke-width="1.0"/>
<circle cx="419.5" cy="267.9" r="2.4" fill="#ff8c00" stroke="#000" stroke-width="1.0"/>
<circle cx="415.9" cy="274.8" r="2.4" fill="#ff8c00" stroke="#000" stroke-width="1.0"/>
<circle cx="409.0" cy="262.1" r="2.4" fill="#ff8c00" stroke="#000" stroke-width="1.0"/>
<circle cx="414.5" cy="265.2" r="2.4" fill="#ff8c00" stroke="#000" stroke-width="1.0"/>
<circle cx="423.7" cy="262.2" r="2.4" fill="#ff8c00" stroke="#000" stroke-width="1.0"/>
<circle cx="386.3" cy="292.3" r="2.4" fill="#ff8c00" stroke="#000" stroke-width="1.0"/>
<circle cx="434.7" cy="256.6" r="2.4" fill="#ff8c00" stroke="#000" stroke-width="1.0"/>
<circle cx="378.3" cy="278.1" r="2.4" fill="#ff8c00" stroke="#000" stroke-width="1.0"/>
<circle cx="399.6" cy="288.6" r="2.4" fill="#ff8c00" stroke="#000" stroke-width="1.0"/>
<circle cx="412.8" cy="263.2" r="2.4" fill="#ff8c00" stroke="#000" stroke-width="1.0"/>
<circle cx="427.3" cy="265.1" r="2.4" fill="#ff8c00" stroke="#000" stroke-width="1.0"/>
<circle cx="429.9" cy="263.6" r="2.4" fill="#ff8c00" stroke="#000" stroke-width="1.0"/>
<circle cx="395.1" cy="292.7" r="2.4" fill="#ff8c00" stroke="#000" stroke-width="1.0"/>
<circle cx="415.1" cy="253.2" r="2.4" fill="#ff8c00" stroke="#000" stroke-width="1.0"/>
<circle cx="384.8" cy="292.2" r="2.4" fill="#ff8c00" stroke="#000" stroke-width="1.0"/>
<circle cx="428.4" cy="244.9" r="2.4" fill="#ff8c00" stroke="#000" stroke-width="1.0"/>
<circle cx="408.8" cy="268.6" r="2.4" fill="#ff8c00" stroke="#000" stroke-width="1.0"/>
<circle cx="403.2" cy="277.3" r="2.4" fill="#ff8c00" stroke="#000" stroke-width="1.0"/>
<circle cx="435.3" cy="258.4" r="2.4" fill="#ff8c00" stroke="#000" stroke-width="1.0"/>
<circle cx="435.8" cy="246.9" r="2.4" fill="#ff8c00" stroke="#000" stroke-width="1.0"/>
<circle cx="403.2" cy="282.5" r="2.4" fill="#ff8c00" stroke="#000" stroke-width="1.0"/>
<circle cx="410.5" cy="279.5" r="2.4" fill="#ff8c00" stroke="#000" stroke-width="1.0"/>
<circle cx="395.6" cy="278.7" r="2.4" fill="#ff8c00" stroke="#000" stroke-width="1.0"/>
<circle cx="418.8" cy="265.1" r="2.4" fill="#ff8c00" stroke="#000" stroke-width="1.0"/>
<circle cx="366.8" cy="300.8" r="2.4" fill="#ff8c00" stroke="#000" stroke-width="1.0"/>
<circle cx="424.6" cy="252.3" r="2.4" fill="#ff8c00" stroke="#000" stroke-width="1.0"/>
<circle cx="430.9" cy="275.1" r="2.4" fill="#ff8c00" stroke="#000" stroke-width="1.0"/>
<circle cx="385.1" cy="291.2" r="2.4" fill="#ff8c00" stroke="#000" stroke-width="1.0"/>
<circle cx="383.6" cy="302.6" r="2.4" fill="#ff8c00" stroke="#000" stroke-width="1.0"/>
<circle cx="382.4" cy="283.7" r="2.4" fill="#ff8c00" stroke="#000" stroke-width="1.0"/>
<circle cx="404.4" cy="271.2" r="2.4" fill="#ff8c00" stroke="#000" stroke-width="1.0"/>
<circle cx="419.8" cy="250.2" r="2.4" fill="#ff8c00" stroke="#000" stroke-width="1.0"/>
<circle cx="414.9" cy="258.2" r="2.4" fill="#ff8c00" stroke="#000" stroke-width="1.0"/>
<circle cx="404.9" cy="273.3" r="2.4" fill="#ff8c00" stroke="#000" stroke-width="1.0"/>
<circle cx="376.6" cy="296.4" r="2.4" fill="#ff8c00" stroke="#000" stroke-width="1.0"/>
<circle cx="391.7" cy="275.4" r="2.4" fill="#ff8c00" stroke="#000" stroke-width="1.0"/>
<circle cx="405.9" cy="271.2" r="2.4" fill="#ff8c00" stroke="#000" stroke-width="1.0"/>
<circle cx="415.8" cy="263.8" r="2.4" fill="#ff8c00" stroke="#000" stroke-width="1.0"/>
<circle cx="371.3" cy="286.0" r="2.4" fill="#ff8c00" stroke="#000" stroke-width="1.0"/>
<circle cx="377.5" cy="290.0" r="2.4" fill="#ff8c00" stroke="#000" stroke-width="1.0"/>
<circle cx="433.4" cy="259.4" r="2.4" fill="#ff8c00" stroke="#000" stroke-width="1.0"/>
<circle cx="411.5" cy="276.7" r="2.4" fill="#ff8c00" stroke="#000" stroke-width="1.0"/>
<circle cx="383.7" cy="283.2" r="2.4" fill="#ff8c00" stroke="#000" stroke-width="1.0"/>
<circle cx="411.5" cy="267.1" r="2.4" fill="#ff8c00" stroke="#000" stroke-width="1.0"/>
<circle cx="425.7" cy="263.1" r="2.4" fill="#ff8c00" stroke="#000" stroke-width="1.0"/>
<circle cx="410.8" cy="265.9" r="2.4" fill="#ff8c00" stroke="#000" stroke-width="1.0"/>
<circle cx="387.9" cy="289.2" r="2.4" fill="#ff8c00" stroke="#000" stroke-width="1.0"/>
<circle cx="393.0" cy="279.2" r="2.4" fill="#ff8c00" stroke="#000" stroke-width="1.0"/>
<circle cx="402.2" cy="271.5" r="2.4" fill="#ff8c00" stroke="#000" stroke-width="1.0"/>
<circle cx="398.1" cy="289.0" r="2.4" fill="#ff8c00" stroke="#000" stroke-width="1.0"/>
<circle cx="408.6" cy="276.7" r="2.4" fill="#ff8c00" stroke="#000" stroke-width="1.0"/>
<circle cx="385.2" cy="286.9" r="2.4" fill="#ff8c00" stroke="#000" stroke-width="1.0"/>
<circle cx="403.8" cy="284.4" r="2.4" fill="#ff8c00" stroke="#000" stroke-width="1.0"/>
<circle cx="405.3" cy="276.7" r="2.4" fill="#ff8c00" stroke="#000" stroke-width="1.0"/>
<circle cx="403.6" cy="275.8" r="2.4" fill="#ff8c00" stroke="#000" stroke-width="1.0"/>
<circle cx="401.9" cy="273.3" r="2.4" fill="#ff8c00" stroke="#000" stroke-width="1.0"/>
<circle cx="413.5" cy="263.7" r="2.4" fill="#ff8c00" stroke="#000" stroke-width="1.0"/>
<circle cx="409.4" cy="272.4" r="2.4" fill="#ff8c00" stroke="#000" stroke-width="1.0"/>
<circle cx="403.9" cy="279.3" r="2.4" fill="#ff8c00" stroke="#000" stroke-width="1.0"/>
<circle cx="401.1" cy="287.6" r="2.4" fill="#ff8c00" stroke="#000" stroke-width="1.0"/>
<circle cx="388.7" cy="288.8" r="2.4" fill="#ff8c00" stroke="#000" stroke-width="1.0"/>
<circle cx="384.9" cy="286.7" r="2.4" fill="#ff8c00" stroke="#000" stroke-width="1.0"/>
<circle cx="409.8" cy="265.2" r="2.4" fill="#ff8c00" stroke="#000" stroke-width="1.0"/>
<circle cx="417.1" cy="280.0" r="2.4" fill="#ff8c00" stroke="#000" stroke-width="1.0"/>
<circle cx="423.2" cy="257.0" r="2.4" fill="#ff8c00" stroke="#000" stroke-width="1.0"/>
<circle cx="413.9" cy="275.7" r="2.4" fill="#ff8c00" stroke="#000" stroke-width="1.0"/>
<circle cx="408.0" cy="266.1" r="2.4" fill="#ff8c00" stroke="#000" stroke-width="1.0"/>
<circle cx="420.8" cy="262.7" r="2.4" fill="#ff8c00" stroke="#000" stroke-width="1.0"/>
<circle cx="411.9" cy="265.7" r="2.4" fill="#ff8c00" stroke="#000" stroke-width="1.0"/>
<circle cx="393.9" cy="282.3" r="2.4" fill="#ff8c00" stroke="#000" stroke-width="1.0"/>
<circle cx="393.9" cy="282.0" r="2.4" fill="#ff8c00" stroke="#000" stroke-width="1.0"/>
<circle cx="362.5" cy="289.3" r="2.4" fill="#ff8c00" stroke="#000" stroke-width="1.0"/>
<circle cx="414.8" cy="255.8" r="2.4" fill="#ff8c00" stroke="#000" stroke-width="1.0"/>
<circle cx="389.2" cy="274.0" r="2.4" fill="#ff8c00" stroke="#000" stroke-width="1.0"/>
<circle cx="437.7" cy="253.4" r="2.4" fill="#ff8c00" stroke="#000" stroke-width="1.0"/>
<circle cx="397.3" cy="285.2" r="2.4" fill="#ff8c00" stroke="#000" stroke-width="1.0"/>
<circle cx="383.6" cy="282.5" r="2.4" fill="#ff8c00" stroke="#000" stroke-width="1.0"/>
<circle cx="452.8" cy="242.0" r="2.4" fill="#ff8c00" stroke="#000" stroke-width="1.0"/>
<circle cx="404.0" cy="285.6" r="2.4" fill="#ff8c00" stroke="#000" stroke-width="1.0"/>
<circle cx="416.8" cy="256.5" r="2.4" fill="#ff8c00" stroke="#000" stroke-width="1.0"/>
<circle cx="412.7" cy="262.2" r="2.4" fill="#ff8c00" stroke="#000" stroke-width="1.0"/>
<circle cx="403.2" cy="292.5" r="2.4" fill="#ff8c00" stroke="#000" stroke-width="1.0"/>
<circle cx="413.0" cy="254.5" r="2.4" fill="#ff8c00" stroke="#000" stroke-width="1.0"/>
<circle cx="369.8" cy="281.5" r="2.4" fill="#ff8c00" stroke="#000" stroke-width="1.0"/>
<circle cx="400.3" cy="270.0" r="2.4" fill="#ff8c00" stroke="#000" stroke-width="1.0"/>
<circle cx="428.3" cy="245.5" r="2.4" fill="#ff8c00" stroke="#000" stroke-width="1.0"/>
<circle cx="389.1" cy="288.8" r="2.4" fill="#ff8c00" stroke="#000" stroke-width="1.0"/>
<circle cx="383.0" cy="287.5" r="2.4" fill="#ff8c00" stroke="#000" stroke-width="1.0"/>
<circle cx="399.5" cy="279.8" r="2.4" fill="#ff8c00" stroke="#000" stroke-width="1.0"/>
<circle cx="407.7" cy="278.7" r="2.4" fill="#ff8c00" stroke="#000" stroke-width="1.0"/>
<circle cx="418.9" cy="253.0" r="2.4" fill="#ff8c00" stroke="#000" stroke-width="1.0"/>
<circle cx="435.8" cy="253.8" r="2.4" fill="#ff8c00" stroke="#000" stroke-width="1.0"/>
<circle cx="386.4" cy="290.4" r="2.4" fill="#ff8c00" stroke="#000" stroke-width="1.0"/>
<circle cx="400.1" cy="273.3" r="2.4" fill="#ff8c00" stroke="#000" stroke-width="1.0"/>
<circle cx="459.1" cy="240.2" r="2.4" fill="#ff8c00" stroke="#000" stroke-width="1.0"/>
<circle cx="370.9" cy="297.5" r="2.4" fill="#ff8c00" stroke="#000" stroke-width="1.0"/>
<circle cx="412.9" cy="265.9" r="2.4" fill="#ff8c00" stroke="#000" stroke-width="1.0"/>
<circle cx="414.4" cy="246.9" r="2.4" fill="#ff8c00" stroke="#000" stroke-width="1.0"/>
<circle cx="412.2" cy="241.1" r="2.4" fill="#ff8c00" stroke="#000" stroke-width="1.0"/>
<circle cx="419.4" cy="256.5" r="2.4" fill="#ff8c00" stroke="#000" stroke-width="1.0"/>
<circle cx="419.2" cy="246.0" r="2.4" fill="#ff8c00" stroke="#000" stroke-width="1.0"/>
<circle cx="415.9" cy="247.6" r="2.4" fill="#ff8c00" stroke="#000" stroke-width="1.0"/>
<circle cx="422.2" cy="245.9" r="2.4" fill="#ff8c00" stroke="#000" stroke-width="1.0"/>
<circle cx="416.3" cy="241.0" r="2.4" fill="#ff8c00" stroke="#000" stroke-width="1.0"/>
<circle cx="418.5" cy="244.3" r="2.4" fill="#ff8c00" stroke="#000" stroke-width="1.0"/>
<circle cx="417.4" cy="244.6" r="2.4" fill="#ff8c00" stroke="#000" stroke-width="1.0"/>
<circle cx="420.2" cy="249.0" r="2.4" fill="#ff8c00" stroke="#000" stroke-width="1.0"/>
<circle cx="416.2" cy="254.2" r="2.4" fill="#ff8c00" stroke="#000" stroke-width="1.0"/>
<circle cx="418.6" cy="245.2" r="2.4" fill="#ff8c00" stroke="#000" stroke-width="1.0"/>
<circle cx="415.6" cy="256.4" r="2.4" fill="#ff8c00" stroke="#000" stroke-width="1.0"/>
<circle cx="419.3" cy="246.5" r="2.4" fill="#ff8c00" stroke="#000" stroke-width="1.0"/>
<circle cx="342.8" cy="310.7" r="2.4" fill="#ff8c00" stroke="#000" stroke-width="1.0"/>
<circle cx="343.3" cy="315.5" r="2.4" fill="#ff8c00" stroke="#000" stroke-width="1.0"/>
<circle cx="354.6" cy="296.8" r="2.4" fill="#ff8c00" stroke="#000" stroke-width="1.0"/>
<circle cx="359.3" cy="298.8" r="2.4" fill="#ff8c00" stroke="#000" stroke-width="1.0"/>
<circle cx="378.2" cy="311.3" r="2.4" fill="#ff8c00" stroke="#000" stroke-width="1.0"/>
<circle cx="425.4" cy="227.3" r="2.4" fill="#ff8c00" stroke="#000" stroke-width="1.0"/>
<circle cx="430.1" cy="235.0" r="2.4" fill="#ff8c00" stroke="#000" stroke-width="1.0"/>
<circle cx="436.3" cy="218.6" r="2.4" fill="#ff8c00" stroke="#000" stroke-width="1.0"/>
<circle cx="434.9" cy="230.2" r="2.4" fill="#ff8c00" stroke="#000" stroke-width="1.0"/>
<circle cx="470.3" cy="259.5" r="2.4" fill="#ff8c00" stroke="#000" stroke-width="1.0"/>
<circle cx="451.9" cy="272.4" r="2.4" fill="#ff8c00" stroke="#000" stroke-width="1.0"/>
<circle cx="397.1" cy="262.4" r="2.4" fill="#ff8c00" stroke="#000" stroke-width="1.0"/>
<circle cx="456.6" cy="247.9" r="2.4" fill="#ff8c00" stroke="#000" stroke-width="1.0"/>
<circle cx="459.9" cy="250.2" r="2.4" fill="#ff8c00" stroke="#000" stroke-width="1.0"/>
<circle cx="463.2" cy="246.3" r="2.4" fill="#ff8c00" stroke="#000" stroke-width="1.0"/>
<circle cx="454.7" cy="257.6" r="2.4" fill="#ff8c00" stroke="#000" stroke-width="1.0"/>
<circle cx="446.7" cy="240.5" r="2.4" fill="#ff8c00" stroke="#000" stroke-width="1.0"/>
<circle cx="442.4" cy="241.1" r="2.4" fill="#ff8c00" stroke="#000" stroke-width="1.0"/>
<polyline points="345.18,328.15 348.33,326.17 351.48,324.20 354.63,322.23 357.78,320.26 360.93,318.29 364.08,316.32 367.23,314.35 370.38,312.38 373.54,310.41 376.69,308.44 379.84,306.47 382.99,304.49 386.14,302.52 389.29,300.55 392.44,298.58 395.59,296.61 398.74,294.64 401.89,292.67 405.04,290.70 408.19,288.73 411.34,286.76 414.49,284.78 417.64,282.81 420.79,280.84 423.94,278.87 427.10,276.90 430.25,274.93 433.40,272.96 436.55,270.99 439.70,269.02 442.85,267.05 446.00,265.08 449.15,263.10 452.30,261.13 455.45,259.16 458.60,257.19 461.75,255.22 464.90,253.25 468.05,251.28 471.20,249.31" fill="none" stroke="#3a3aee" stroke-width="1.5" stroke-dasharray="1.4 2.4"/>
<polyline points="341.88,299.30 345.11,297.28 348.34,295.26 351.58,293.23 354.81,291.21 358.04,289.19 361.28,287.16 364.51,285.14 367.74,283.12 370.97,281.10 374.21,279.07 377.44,277.05 380.67,275.03 383.91,273.01 387.14,270.98 390.37,268.96 393.61,266.94 396.84,264.92 400.07,262.89 403.31,260.87 406.54,258.85 409.77,256.83 413.01,254.80 416.24,252.78 419.47,250.76 422.71,248.73 425.94,246.71 429.17,244.69 432.41,242.67 435.64,240.64 438.87,238.62 442.11,236.60 445.34,234.58 448.57,232.55 451.80,230.53 455.04,228.51 458.27,226.49 461.50,224.46 464.74,222.44 467.97,220.42 471.20,218.40" fill="none" stroke="#3a3aee" stroke-width="1.5" stroke-dasharray="1.4 2.4"/>
<polyline points="341.88,314.76 345.11,312.73 348.34,310.71 351.58,308.69 354.81,306.67 358.04,304.64 361.28,302.62 364.51,300.60 367.74,298.58 370.97,296.55 374.21,294.53 377.44,292.51 380.67,290.49 383.91,288.46 387.14,286.44 390.37,284.42 393.61,282.39 396.84,280.37 400.07,278.35 403.31,276.33 406.54,274.30 409.77,272.28 413.01,270.26 416.24,268.24 419.47,266.21 422.71,264.19 425.94,262.17 429.17,260.15 432.41,258.12 435.64,256.10 438.87,254.08 442.11,252.06 445.34,250.03 448.57,248.01 451.80,245.99 455.04,243.96 458.27,241.94 461.50,239.92 464.74,237.90 467.97,235.87 471.20,233.85" fill="none" stroke="#f21d1d" stroke-width="1.5"/>
<polyline points="341.88,314.43 345.03,312.46 348.18,310.49 351.33,308.52 354.48,306.55 357.63,304.58 360.78,302.61 363.93,300.64 367.08,298.67 370.23,296.70 373.38,294.72 376.53,292.75 379.68,290.78 382.83,288.81 385.98,286.84 389.13,284.87 392.29,282.90 395.44,280.93 398.59,278.96 401.74,276.99 404.89,275.02 408.04,273.04 411.19,271.07 414.34,269.10 417.49,267.13 420.64,265.16 423.79,263.19 426.94,261.22 430.09,259.25 433.24,257.28 436.39,255.31 439.54,253.33 442.70,251.36 445.85,249.39 449.00,247.42 452.15,245.45 455.30,243.48 458.45,241.51 461.60,239.54 464.75,237.57 467.90,235.60" fill="none" stroke="#22e622" stroke-width="2.4" stroke-dasharray="5 3"/>
<text x="325.6" y="214.5" font-family='"Liberation Serif", serif' font-size="10.5" font-weight="bold" fill="#111" stroke="#111" stroke-width="0.3" text-anchor="start" >(e)</text>
<text x="332.6" y="219.3" font-family='"Liberation Sans", sans-serif' font-size="6.5" font-weight="bold" fill="#111" stroke="#111" stroke-width="0.3" text-anchor="start" >Slope = 0.917</text>
<text x="332.6" y="227.6" font-family='"Liberation Sans", sans-serif' font-size="6.5" font-weight="bold" fill="#111" stroke="#111" stroke-width="0.3" text-anchor="start" >Intercept = 1.211</text>
<text x="332.6" y="235.9" font-family='"Liberation Sans", sans-serif' font-size="6.5" font-weight="bold" fill="#111" stroke="#111" stroke-width="0.3" text-anchor="start" >r = 0.96934</text>
<line x1="403.5" y1="304.4" x2="416.1" y2="304.4" stroke="#f21d1d" stroke-width="1.4"/>
<text x="417.1" y="306.6" font-family='"Liberation Sans", sans-serif' font-size="6.15" font-weight="bold" fill="#111" stroke="#111" stroke-width="0.3" text-anchor="start" >Linear regression</text>
<line x1="403.5" y1="312.3" x2="416.1" y2="312.3" stroke="#22e622" stroke-width="1.6" stroke-dasharray="4.2 6.8 2"/>
<text x="417.1" y="314.5" font-family='"Liberation Sans", sans-serif' font-size="6.15" font-weight="bold" fill="#111" stroke="#111" stroke-width="0.3" text-anchor="start" >95% Confidence intervals</text>
<line x1="403.5" y1="320.2" x2="413.6" y2="320.2" stroke="#3a3aee" stroke-width="1.4" stroke-dasharray="1.4 2.4"/>
<text x="417.1" y="322.4" font-family='"Liberation Sans", sans-serif' font-size="6.15" font-weight="bold" fill="#111" stroke="#111" stroke-width="0.3" text-anchor="start" >95% Prediction intervals</text>
<circle cx="401" cy="304.4" r="2.4" fill="#ff8c00" stroke="#000" stroke-width="1.0"/>
<text x="409.5" y="348.6" font-family='"Liberation Sans", sans-serif' font-size="7.3" font-weight="bold" fill="#111" stroke="#111" stroke-width="0.3" text-anchor="middle" >Hemoglobin from blood test (gm/dL)</text>
<text transform="translate(313.4,266.5) rotate(-90)" x="0" y="0" font-family='"Liberation Sans", sans-serif' font-size="7.15" font-weight="bold" fill="#111" stroke="#111" stroke-width="0.3" text-anchor="middle">Hemoglobin from instrument (gm/dL)</text>
<rect x="517.7" y="206.8" width="160.6" height="124.6" fill="none" stroke="#151515" stroke-width="1.7"/>
<path d="M537.00,331.40v2.5M560.60,331.40v2.5M584.20,331.40v2.5M607.80,331.40v2.5M631.40,331.40v2.5M655.00,331.40v2.5M678.60,331.40v2.5M525.20,331.40v1.5M548.80,331.40v1.5M572.40,331.40v1.5M596.00,331.40v1.5M619.60,331.40v1.5M643.20,331.40v1.5M666.80,331.40v1.5M517.70,331.40h-2.5M517.70,312.40h-2.5M517.70,293.40h-2.5M517.70,274.40h-2.5M517.70,255.40h-2.5M517.70,236.40h-2.5M517.70,217.40h-2.5M517.70,321.90h-1.5M517.70,302.90h-1.5M517.70,283.90h-1.5M517.70,264.90h-1.5M517.70,245.90h-1.5M517.70,226.90h-1.5M517.70,207.90h-1.5" stroke="#111" stroke-width="1.35" fill="none"/>
<text x="537.0" y="340.0" font-family='"Liberation Sans", sans-serif' font-size="6.5" font-weight="bold" fill="#111" stroke="#111" stroke-width="0.3" text-anchor="middle" >5</text>
<text x="560.6" y="340.0" font-family='"Liberation Sans", sans-serif' font-size="6.5" font-weight="bold" fill="#111" stroke="#111" stroke-width="0.3" text-anchor="middle" >10</text>
<text x="584.2" y="340.0" font-family='"Liberation Sans", sans-serif' font-size="6.5" font-weight="bold" fill="#111" stroke="#111" stroke-width="0.3" text-anchor="middle" >15</text>
<text x="607.8" y="340.0" font-family='"Liberation Sans", sans-serif' font-size="6.5" font-weight="bold" fill="#111" stroke="#111" stroke-width="0.3" text-anchor="middle" >20</text>
<text x="631.4" y="340.0" font-family='"Liberation Sans", sans-serif' font-size="6.5" font-weight="bold" fill="#111" stroke="#111" stroke-width="0.3" text-anchor="middle" >25</text>
<text x="655.0" y="340.0" font-family='"Liberation Sans", sans-serif' font-size="6.5" font-weight="bold" fill="#111" stroke="#111" stroke-width="0.3" text-anchor="middle" >30</text>
<text x="678.6" y="340.0" font-family='"Liberation Sans", sans-serif' font-size="6.5" font-weight="bold" fill="#111" stroke="#111" stroke-width="0.3" text-anchor="middle" >35</text>
<text x="514.7" y="333.1" font-family='"Liberation Sans", sans-serif' font-size="6.5" font-weight="bold" fill="#111" stroke="#111" stroke-width="0.3" text-anchor="end" >0</text>
<text x="514.7" y="314.1" font-family='"Liberation Sans", sans-serif' font-size="6.5" font-weight="bold" fill="#111" stroke="#111" stroke-width="0.3" text-anchor="end" >5</text>
<text x="514.7" y="295.1" font-family='"Liberation Sans", sans-serif' font-size="6.5" font-weight="bold" fill="#111" stroke="#111" stroke-width="0.3" text-anchor="end" >10</text>
<text x="514.7" y="276.1" font-family='"Liberation Sans", sans-serif' font-size="6.5" font-weight="bold" fill="#111" stroke="#111" stroke-width="0.3" text-anchor="end" >15</text>
<text x="514.7" y="257.1" font-family='"Liberation Sans", sans-serif' font-size="6.5" font-weight="bold" fill="#111" stroke="#111" stroke-width="0.3" text-anchor="end" >20</text>
<text x="514.7" y="238.1" font-family='"Liberation Sans", sans-serif' font-size="6.5" font-weight="bold" fill="#111" stroke="#111" stroke-width="0.3" text-anchor="end" >25</text>
<text x="514.7" y="219.1" font-family='"Liberation Sans", sans-serif' font-size="6.5" font-weight="bold" fill="#111" stroke="#111" stroke-width="0.3" text-anchor="end" >30</text>
<circle cx="591.6" cy="258.4" r="2.4" fill="#88eeee" stroke="#000" stroke-width="1.1"/>
<circle cx="575.2" cy="293.6" r="2.4" fill="#88eeee" stroke="#000" stroke-width="1.1"/>
<circle cx="600.4" cy="257.5" r="2.4" fill="#88eeee" stroke="#000" stroke-width="1.1"/>
<circle cx="603.8" cy="255.5" r="2.4" fill="#88eeee" stroke="#000" stroke-width="1.1"/>
<circle cx="592.4" cy="271.7" r="2.4" fill="#88eeee" stroke="#000" stroke-width="1.1"/>
<circle cx="577.6" cy="280.5" r="2.4" fill="#88eeee" stroke="#000" stroke-width="1.1"/>
<circle cx="586.7" cy="265.5" r="2.4" fill="#88eeee" stroke="#000" stroke-width="1.1"/>
<circle cx="610.6" cy="262.2" r="2.4" fill="#88eeee" stroke="#000" stroke-width="1.1"/>
<circle cx="612.5" cy="252.2" r="2.4" fill="#88eeee" stroke="#000" stroke-width="1.1"/>
<circle cx="622.5" cy="233.9" r="2.4" fill="#88eeee" stroke="#000" stroke-width="1.1"/>
<circle cx="609.3" cy="266.7" r="2.4" fill="#88eeee" stroke="#000" stroke-width="1.1"/>
<circle cx="611.6" cy="263.4" r="2.4" fill="#88eeee" stroke="#000" stroke-width="1.1"/>
<circle cx="633.5" cy="240.4" r="2.4" fill="#88eeee" stroke="#000" stroke-width="1.1"/>
<circle cx="591.7" cy="255.4" r="2.4" fill="#88eeee" stroke="#000" stroke-width="1.1"/>
<circle cx="554.2" cy="296.5" r="2.4" fill="#88eeee" stroke="#000" stroke-width="1.1"/>
<circle cx="570.6" cy="287.7" r="2.4" fill="#88eeee" stroke="#000" stroke-width="1.1"/>
<circle cx="577.2" cy="274.4" r="2.4" fill="#88eeee" stroke="#000" stroke-width="1.1"/>
<circle cx="589.0" cy="267.6" r="2.4" fill="#88eeee" stroke="#000" stroke-width="1.1"/>
<circle cx="611.5" cy="264.5" r="2.4" fill="#88eeee" stroke="#000" stroke-width="1.1"/>
<circle cx="629.7" cy="240.4" r="2.4" fill="#88eeee" stroke="#000" stroke-width="1.1"/>
<circle cx="556.7" cy="299.4" r="2.4" fill="#88eeee" stroke="#000" stroke-width="1.1"/>
<circle cx="617.1" cy="241.4" r="2.4" fill="#88eeee" stroke="#000" stroke-width="1.1"/>
<circle cx="579.8" cy="276.3" r="2.4" fill="#88eeee" stroke="#000" stroke-width="1.1"/>
<circle cx="602.1" cy="252.8" r="2.4" fill="#88eeee" stroke="#000" stroke-width="1.1"/>
<circle cx="593.1" cy="260.0" r="2.4" fill="#88eeee" stroke="#000" stroke-width="1.1"/>
<circle cx="575.0" cy="285.8" r="2.4" fill="#88eeee" stroke="#000" stroke-width="1.1"/>
<circle cx="612.3" cy="247.0" r="2.4" fill="#88eeee" stroke="#000" stroke-width="1.1"/>
<circle cx="595.2" cy="261.0" r="2.4" fill="#88eeee" stroke="#000" stroke-width="1.1"/>
<circle cx="601.3" cy="255.1" r="2.4" fill="#88eeee" stroke="#000" stroke-width="1.1"/>
<circle cx="624.3" cy="239.2" r="2.4" fill="#88eeee" stroke="#000" stroke-width="1.1"/>
<circle cx="616.1" cy="251.9" r="2.4" fill="#88eeee" stroke="#000" stroke-width="1.1"/>
<circle cx="583.0" cy="291.0" r="2.4" fill="#88eeee" stroke="#000" stroke-width="1.1"/>
<circle cx="606.2" cy="256.5" r="2.4" fill="#88eeee" stroke="#000" stroke-width="1.1"/>
<circle cx="609.2" cy="267.5" r="2.4" fill="#88eeee" stroke="#000" stroke-width="1.1"/>
<circle cx="584.7" cy="277.1" r="2.4" fill="#88eeee" stroke="#000" stroke-width="1.1"/>
<circle cx="553.0" cy="291.3" r="2.4" fill="#88eeee" stroke="#000" stroke-width="1.1"/>
<circle cx="625.8" cy="250.6" r="2.4" fill="#88eeee" stroke="#000" stroke-width="1.1"/>
<circle cx="607.1" cy="244.0" r="2.4" fill="#88eeee" stroke="#000" stroke-width="1.1"/>
<circle cx="567.2" cy="279.8" r="2.4" fill="#88eeee" stroke="#000" stroke-width="1.1"/>
<circle cx="563.6" cy="296.9" r="2.4" fill="#88eeee" stroke="#000" stroke-width="1.1"/>
<circle cx="601.4" cy="252.0" r="2.4" fill="#88eeee" stroke="#000" stroke-width="1.1"/>
<circle cx="566.1" cy="292.8" r="2.4" fill="#88eeee" stroke="#000" stroke-width="1.1"/>
<circle cx="569.5" cy="277.2" r="2.4" fill="#88eeee" stroke="#000" stroke-width="1.1"/>
<circle cx="582.9" cy="270.6" r="2.4" fill="#88eeee" stroke="#000" stroke-width="1.1"/>
<circle cx="612.0" cy="244.2" r="2.4" fill="#88eeee" stroke="#000" stroke-width="1.1"/>
<circle cx="606.5" cy="254.1" r="2.4" fill="#88eeee" stroke="#000" stroke-width="1.1"/>
<circle cx="624.4" cy="239.4" r="2.4" fill="#88eeee" stroke="#000" stroke-width="1.1"/>
<circle cx="565.9" cy="291.5" r="2.4" fill="#88eeee" stroke="#000" stroke-width="1.1"/>
<circle cx="618.3" cy="246.5" r="2.4" fill="#88eeee" stroke="#000" stroke-width="1.1"/>
<circle cx="587.9" cy="269.1" r="2.4" fill="#88eeee" stroke="#000" stroke-width="1.1"/>
<circle cx="595.2" cy="261.8" r="2.4" fill="#88eeee" stroke="#000" stroke-width="1.1"/>
<circle cx="607.5" cy="257.6" r="2.4" fill="#88eeee" stroke="#000" stroke-width="1.1"/>
<circle cx="625.2" cy="236.1" r="2.4" fill="#88eeee" stroke="#000" stroke-width="1.1"/>
<circle cx="606.1" cy="266.3" r="2.4" fill="#88eeee" stroke="#000" stroke-width="1.1"/>
<circle cx="626.9" cy="235.4" r="2.4" fill="#88eeee" stroke="#000" stroke-width="1.1"/>
<circle cx="594.4" cy="284.7" r="2.4" fill="#88eeee" stroke="#000" stroke-width="1.1"/>
<circle cx="595.0" cy="273.9" r="2.4" fill="#88eeee" stroke="#000" stroke-width="1.1"/>
<circle cx="590.8" cy="272.1" r="2.4" fill="#88eeee" stroke="#000" stroke-width="1.1"/>
<circle cx="576.3" cy="272.6" r="2.4" fill="#88eeee" stroke="#000" stroke-width="1.1"/>
<circle cx="599.2" cy="253.5" r="2.4" fill="#88eeee" stroke="#000" stroke-width="1.1"/>
<circle cx="573.0" cy="283.6" r="2.4" fill="#88eeee" stroke="#000" stroke-width="1.1"/>
<circle cx="629.4" cy="236.6" r="2.4" fill="#88eeee" stroke="#000" stroke-width="1.1"/>
<circle cx="578.8" cy="284.0" r="2.4" fill="#88eeee" stroke="#000" stroke-width="1.1"/>
<circle cx="582.0" cy="275.9" r="2.4" fill="#88eeee" stroke="#000" stroke-width="1.1"/>
<circle cx="613.1" cy="250.4" r="2.4" fill="#88eeee" stroke="#000" stroke-width="1.1"/>
<circle cx="614.7" cy="244.3" r="2.4" fill="#88eeee" stroke="#000" stroke-width="1.1"/>
<circle cx="599.3" cy="253.0" r="2.4" fill="#88eeee" stroke="#000" stroke-width="1.1"/>
<circle cx="614.3" cy="251.8" r="2.4" fill="#88eeee" stroke="#000" stroke-width="1.1"/>
<circle cx="592.4" cy="267.5" r="2.4" fill="#88eeee" stroke="#000" stroke-width="1.1"/>
<circle cx="578.5" cy="287.5" r="2.4" fill="#88eeee" stroke="#000" stroke-width="1.1"/>
<circle cx="597.3" cy="267.2" r="2.4" fill="#88eeee" stroke="#000" stroke-width="1.1"/>
<circle cx="610.6" cy="257.6" r="2.4" fill="#88eeee" stroke="#000" stroke-width="1.1"/>
<circle cx="598.7" cy="261.1" r="2.4" fill="#88eeee" stroke="#000" stroke-width="1.1"/>
<circle cx="584.9" cy="271.7" r="2.4" fill="#88eeee" stroke="#000" stroke-width="1.1"/>
<circle cx="578.8" cy="280.8" r="2.4" fill="#88eeee" stroke="#000" stroke-width="1.1"/>
<circle cx="615.7" cy="246.7" r="2.4" fill="#88eeee" stroke="#000" stroke-width="1.1"/>
<circle cx="596.2" cy="269.9" r="2.4" fill="#88eeee" stroke="#000" stroke-width="1.1"/>
<circle cx="613.2" cy="237.4" r="2.4" fill="#88eeee" stroke="#000" stroke-width="1.1"/>
<circle cx="543.5" cy="297.5" r="2.4" fill="#88eeee" stroke="#000" stroke-width="1.1"/>
<circle cx="601.5" cy="252.6" r="2.4" fill="#88eeee" stroke="#000" stroke-width="1.1"/>
<circle cx="624.6" cy="249.8" r="2.4" fill="#88eeee" stroke="#000" stroke-width="1.1"/>
<circle cx="638.4" cy="236.2" r="2.4" fill="#88eeee" stroke="#000" stroke-width="1.1"/>
<circle cx="590.2" cy="264.7" r="2.4" fill="#88eeee" stroke="#000" stroke-width="1.1"/>
<circle cx="594.2" cy="264.1" r="2.4" fill="#88eeee" stroke="#000" stroke-width="1.1"/>
<circle cx="583.7" cy="281.3" r="2.4" fill="#88eeee" stroke="#000" stroke-width="1.1"/>
<circle cx="596.6" cy="271.8" r="2.4" fill="#88eeee" stroke="#000" stroke-width="1.1"/>
<circle cx="628.8" cy="237.7" r="2.4" fill="#88eeee" stroke="#000" stroke-width="1.1"/>
<circle cx="630.2" cy="247.1" r="2.4" fill="#88eeee" stroke="#000" stroke-width="1.1"/>
<circle cx="587.0" cy="280.6" r="2.4" fill="#88eeee" stroke="#000" stroke-width="1.1"/>
<circle cx="604.9" cy="268.0" r="2.4" fill="#88eeee" stroke="#000" stroke-width="1.1"/>
<circle cx="562.6" cy="288.3" r="2.4" fill="#88eeee" stroke="#000" stroke-width="1.1"/>
<circle cx="586.6" cy="267.1" r="2.4" fill="#88eeee" stroke="#000" stroke-width="1.1"/>
<circle cx="615.8" cy="246.9" r="2.4" fill="#88eeee" stroke="#000" stroke-width="1.1"/>
<circle cx="566.7" cy="293.2" r="2.4" fill="#88eeee" stroke="#000" stroke-width="1.1"/>
<circle cx="590.7" cy="266.7" r="2.4" fill="#88eeee" stroke="#000" stroke-width="1.1"/>
<circle cx="599.2" cy="262.4" r="2.4" fill="#88eeee" stroke="#000" stroke-width="1.1"/>
<circle cx="592.0" cy="271.6" r="2.4" fill="#88eeee" stroke="#000" stroke-width="1.1"/>
<circle cx="583.6" cy="288.3" r="2.4" fill="#88eeee" stroke="#000" stroke-width="1.1"/>
<circle cx="636.6" cy="234.2" r="2.4" fill="#88eeee" stroke="#000" stroke-width="1.1"/>
<circle cx="564.4" cy="285.3" r="2.4" fill="#88eeee" stroke="#000" stroke-width="1.1"/>
<circle cx="612.3" cy="262.2" r="2.4" fill="#88eeee" stroke="#000" stroke-width="1.1"/>
<circle cx="583.6" cy="263.7" r="2.4" fill="#88eeee" stroke="#000" stroke-width="1.1"/>
<circle cx="609.3" cy="251.4" r="2.4" fill="#88eeee" stroke="#000" stroke-width="1.1"/>
<circle cx="620.3" cy="246.9" r="2.4" fill="#88eeee" stroke="#000" stroke-width="1.1"/>
<circle cx="589.0" cy="258.8" r="2.4" fill="#88eeee" stroke="#000" stroke-width="1.1"/>
<circle cx="591.7" cy="268.5" r="2.4" fill="#88eeee" stroke="#000" stroke-width="1.1"/>
<circle cx="611.6" cy="252.4" r="2.4" fill="#88eeee" stroke="#000" stroke-width="1.1"/>
<circle cx="566.3" cy="274.2" r="2.4" fill="#88eeee" stroke="#000" stroke-width="1.1"/>
<circle cx="594.4" cy="253.3" r="2.4" fill="#88eeee" stroke="#000" stroke-width="1.1"/>
<circle cx="608.5" cy="261.4" r="2.4" fill="#88eeee" stroke="#000" stroke-width="1.1"/>
<circle cx="633.6" cy="237.0" r="2.4" fill="#88eeee" stroke="#000" stroke-width="1.1"/>
<circle cx="575.4" cy="280.7" r="2.4" fill="#88eeee" stroke="#000" stroke-width="1.1"/>
<circle cx="544.3" cy="301.6" r="2.4" fill="#88eeee" stroke="#000" stroke-width="1.1"/>
<circle cx="578.6" cy="279.8" r="2.4" fill="#88eeee" stroke="#000" stroke-width="1.1"/>
<circle cx="574.6" cy="276.3" r="2.4" fill="#88eeee" stroke="#000" stroke-width="1.1"/>
<circle cx="604.8" cy="250.3" r="2.4" fill="#88eeee" stroke="#000" stroke-width="1.1"/>
<circle cx="636.4" cy="231.6" r="2.4" fill="#88eeee" stroke="#000" stroke-width="1.1"/>
<circle cx="598.4" cy="260.6" r="2.4" fill="#88eeee" stroke="#000" stroke-width="1.1"/>
<circle cx="576.5" cy="283.5" r="2.4" fill="#88eeee" stroke="#000" stroke-width="1.1"/>
<circle cx="614.4" cy="256.5" r="2.4" fill="#88eeee" stroke="#000" stroke-width="1.1"/>
<circle cx="549.3" cy="303.0" r="2.4" fill="#88eeee" stroke="#000" stroke-width="1.1"/>
<circle cx="602.3" cy="249.5" r="2.4" fill="#88eeee" stroke="#000" stroke-width="1.1"/>
<circle cx="578.8" cy="284.4" r="2.4" fill="#88eeee" stroke="#000" stroke-width="1.1"/>
<circle cx="598.5" cy="263.8" r="2.4" fill="#88eeee" stroke="#000" stroke-width="1.1"/>
<circle cx="602.2" cy="263.5" r="2.4" fill="#88eeee" stroke="#000" stroke-width="1.1"/>
<circle cx="600.9" cy="264.9" r="2.4" fill="#88eeee" stroke="#000" stroke-width="1.1"/>
<circle cx="619.9" cy="244.3" r="2.4" fill="#88eeee" stroke="#000" stroke-width="1.1"/>
<circle cx="609.9" cy="257.0" r="2.4" fill="#88eeee" stroke="#000" stroke-width="1.1"/>
<circle cx="561.5" cy="291.1" r="2.4" fill="#88eeee" stroke="#000" stroke-width="1.1"/>
<circle cx="594.8" cy="257.9" r="2.4" fill="#88eeee" stroke="#000" stroke-width="1.1"/>
<circle cx="619.4" cy="246.9" r="2.4" fill="#88eeee" stroke="#000" stroke-width="1.1"/>
<circle cx="595.0" cy="272.4" r="2.4" fill="#88eeee" stroke="#000" stroke-width="1.1"/>
<circle cx="595.0" cy="263.9" r="2.4" fill="#88eeee" stroke="#000" stroke-width="1.1"/>
<circle cx="586.0" cy="279.9" r="2.4" fill="#88eeee" stroke="#000" stroke-width="1.1"/>
<circle cx="626.9" cy="247.4" r="2.4" fill="#88eeee" stroke="#000" stroke-width="1.1"/>
<circle cx="635.9" cy="225.8" r="2.4" fill="#88eeee" stroke="#000" stroke-width="1.1"/>
<circle cx="633.2" cy="242.0" r="2.4" fill="#88eeee" stroke="#000" stroke-width="1.1"/>
<circle cx="611.1" cy="262.8" r="2.4" fill="#88eeee" stroke="#000" stroke-width="1.1"/>
<circle cx="587.3" cy="282.1" r="2.4" fill="#88eeee" stroke="#000" stroke-width="1.1"/>
<circle cx="578.3" cy="281.8" r="2.4" fill="#88eeee" stroke="#000" stroke-width="1.1"/>
<circle cx="619.0" cy="239.5" r="2.4" fill="#88eeee" stroke="#000" stroke-width="1.1"/>
<circle cx="587.0" cy="273.6" r="2.4" fill="#88eeee" stroke="#000" stroke-width="1.1"/>
<circle cx="573.3" cy="290.1" r="2.4" fill="#88eeee" stroke="#000" stroke-width="1.1"/>
<circle cx="553.0" cy="299.3" r="2.4" fill="#88eeee" stroke="#000" stroke-width="1.1"/>
<circle cx="610.1" cy="259.2" r="2.4" fill="#88eeee" stroke="#000" stroke-width="1.1"/>
<circle cx="604.6" cy="266.1" r="2.4" fill="#88eeee" stroke="#000" stroke-width="1.1"/>
<circle cx="571.7" cy="287.1" r="2.4" fill="#88eeee" stroke="#000" stroke-width="1.1"/>
<circle cx="617.0" cy="252.3" r="2.4" fill="#88eeee" stroke="#000" stroke-width="1.1"/>
<circle cx="614.1" cy="253.3" r="2.4" fill="#88eeee" stroke="#000" stroke-width="1.1"/>
<circle cx="569.2" cy="299.3" r="2.4" fill="#88eeee" stroke="#000" stroke-width="1.1"/>
<circle cx="584.4" cy="280.4" r="2.4" fill="#88eeee" stroke="#000" stroke-width="1.1"/>
<circle cx="617.4" cy="245.2" r="2.4" fill="#88eeee" stroke="#000" stroke-width="1.1"/>
<circle cx="556.5" cy="289.3" r="2.4" fill="#88eeee" stroke="#000" stroke-width="1.1"/>
<circle cx="608.4" cy="275.4" r="2.4" fill="#88eeee" stroke="#000" stroke-width="1.1"/>
<circle cx="570.7" cy="282.6" r="2.4" fill="#88eeee" stroke="#000" stroke-width="1.1"/>
<circle cx="557.5" cy="299.4" r="2.4" fill="#88eeee" stroke="#000" stroke-width="1.1"/>
<circle cx="608.1" cy="253.8" r="2.4" fill="#88eeee" stroke="#000" stroke-width="1.1"/>
<circle cx="606.4" cy="252.6" r="2.4" fill="#88eeee" stroke="#000" stroke-width="1.1"/>
<circle cx="574.5" cy="264.8" r="2.4" fill="#88eeee" stroke="#000" stroke-width="1.1"/>
<circle cx="608.1" cy="240.7" r="2.4" fill="#88eeee" stroke="#000" stroke-width="1.1"/>
<circle cx="589.2" cy="266.1" r="2.4" fill="#88eeee" stroke="#000" stroke-width="1.1"/>
<circle cx="603.7" cy="259.9" r="2.4" fill="#88eeee" stroke="#000" stroke-width="1.1"/>
<circle cx="603.0" cy="257.6" r="2.4" fill="#88eeee" stroke="#000" stroke-width="1.1"/>
<circle cx="614.9" cy="248.0" r="2.4" fill="#88eeee" stroke="#000" stroke-width="1.1"/>
<circle cx="596.9" cy="260.8" r="2.4" fill="#88eeee" stroke="#000" stroke-width="1.1"/>
<circle cx="630.0" cy="238.2" r="2.4" fill="#88eeee" stroke="#000" stroke-width="1.1"/>
<circle cx="609.9" cy="253.1" r="2.4" fill="#88eeee" stroke="#000" stroke-width="1.1"/>
<circle cx="548.8" cy="307.3" r="2.4" fill="#88eeee" stroke="#000" stroke-width="1.1"/>
<circle cx="573.7" cy="291.6" r="2.4" fill="#88eeee" stroke="#000" stroke-width="1.1"/>
<circle cx="580.8" cy="288.7" r="2.4" fill="#88eeee" stroke="#000" stroke-width="1.1"/>
<circle cx="601.9" cy="264.0" r="2.4" fill="#88eeee" stroke="#000" stroke-width="1.1"/>
<circle cx="624.6" cy="240.2" r="2.4" fill="#88eeee" stroke="#000" stroke-width="1.1"/>
<circle cx="565.2" cy="290.0" r="2.4" fill="#88eeee" stroke="#000" stroke-width="1.1"/>
<circle cx="596.5" cy="269.1" r="2.4" fill="#88eeee" stroke="#000" stroke-width="1.1"/>
<circle cx="586.9" cy="279.3" r="2.4" fill="#88eeee" stroke="#000" stroke-width="1.1"/>
<circle cx="578.1" cy="276.7" r="2.4" fill="#88eeee" stroke="#000" stroke-width="1.1"/>
<circle cx="587.5" cy="263.1" r="2.4" fill="#88eeee" stroke="#000" stroke-width="1.1"/>
<circle cx="545.2" cy="309.4" r="2.4" fill="#88eeee" stroke="#000" stroke-width="1.1"/>
<circle cx="586.6" cy="261.9" r="2.4" fill="#88eeee" stroke="#000" stroke-width="1.1"/>
<circle cx="621.8" cy="239.9" r="2.4" fill="#88eeee" stroke="#000" stroke-width="1.1"/>
<circle cx="618.4" cy="236.7" r="2.4" fill="#88eeee" stroke="#000" stroke-width="1.1"/>
<circle cx="611.3" cy="254.7" r="2.4" fill="#88eeee" stroke="#000" stroke-width="1.1"/>
<circle cx="599.6" cy="267.1" r="2.4" fill="#88eeee" stroke="#000" stroke-width="1.1"/>
<circle cx="589.9" cy="267.1" r="2.4" fill="#88eeee" stroke="#000" stroke-width="1.1"/>
<circle cx="583.3" cy="274.0" r="2.4" fill="#88eeee" stroke="#000" stroke-width="1.1"/>
<circle cx="584.9" cy="282.5" r="2.4" fill="#88eeee" stroke="#000" stroke-width="1.1"/>
<circle cx="561.1" cy="287.0" r="2.4" fill="#88eeee" stroke="#000" stroke-width="1.1"/>
<circle cx="595.9" cy="259.4" r="2.4" fill="#88eeee" stroke="#000" stroke-width="1.1"/>
<circle cx="592.7" cy="267.6" r="2.4" fill="#88eeee" stroke="#000" stroke-width="1.1"/>
<circle cx="601.3" cy="263.2" r="2.4" fill="#88eeee" stroke="#000" stroke-width="1.1"/>
<circle cx="627.6" cy="233.8" r="2.4" fill="#88eeee" stroke="#000" stroke-width="1.1"/>
<circle cx="604.4" cy="265.7" r="2.4" fill="#88eeee" stroke="#000" stroke-width="1.1"/>
<circle cx="582.3" cy="274.2" r="2.4" fill="#88eeee" stroke="#000" stroke-width="1.1"/>
<circle cx="622.3" cy="245.1" r="2.4" fill="#88eeee" stroke="#000" stroke-width="1.1"/>
<circle cx="594.2" cy="262.9" r="2.4" fill="#88eeee" stroke="#000" stroke-width="1.1"/>
<circle cx="597.5" cy="265.0" r="2.4" fill="#88eeee" stroke="#000" stroke-width="1.1"/>
<circle cx="568.1" cy="278.1" r="2.4" fill="#88eeee" stroke="#000" stroke-width="1.1"/>
<circle cx="593.4" cy="270.6" r="2.4" fill="#88eeee" stroke="#000" stroke-width="1.1"/>
<circle cx="592.1" cy="277.1" r="2.4" fill="#88eeee" stroke="#000" stroke-width="1.1"/>
<circle cx="554.9" cy="308.9" r="2.4" fill="#88eeee" stroke="#000" stroke-width="1.1"/>
<circle cx="603.2" cy="268.6" r="2.4" fill="#88eeee" stroke="#000" stroke-width="1.1"/>
<circle cx="597.1" cy="272.4" r="2.4" fill="#88eeee" stroke="#000" stroke-width="1.1"/>
<circle cx="552.4" cy="302.9" r="2.4" fill="#88eeee" stroke="#000" stroke-width="1.1"/>
<circle cx="576.9" cy="284.6" r="2.4" fill="#88eeee" stroke="#000" stroke-width="1.1"/>
<circle cx="635.0" cy="233.9" r="2.4" fill="#88eeee" stroke="#000" stroke-width="1.1"/>
<circle cx="580.2" cy="271.4" r="2.4" fill="#88eeee" stroke="#000" stroke-width="1.1"/>
<circle cx="586.6" cy="264.1" r="2.4" fill="#88eeee" stroke="#000" stroke-width="1.1"/>
<circle cx="557.3" cy="287.6" r="2.4" fill="#88eeee" stroke="#000" stroke-width="1.1"/>
<circle cx="568.6" cy="291.3" r="2.4" fill="#88eeee" stroke="#000" stroke-width="1.1"/>
<circle cx="598.9" cy="270.4" r="2.4" fill="#88eeee" stroke="#000" stroke-width="1.1"/>
<circle cx="555.3" cy="299.2" r="2.4" fill="#88eeee" stroke="#000" stroke-width="1.1"/>
<circle cx="586.9" cy="283.4" r="2.4" fill="#88eeee" stroke="#000" stroke-width="1.1"/>
<circle cx="617.0" cy="254.8" r="2.4" fill="#88eeee" stroke="#000" stroke-width="1.1"/>
<circle cx="579.3" cy="279.7" r="2.4" fill="#88eeee" stroke="#000" stroke-width="1.1"/>
<circle cx="595.0" cy="258.8" r="2.4" fill="#88eeee" stroke="#000" stroke-width="1.1"/>
<circle cx="543.1" cy="305.9" r="2.4" fill="#88eeee" stroke="#000" stroke-width="1.1"/>
<circle cx="614.8" cy="249.3" r="2.4" fill="#88eeee" stroke="#000" stroke-width="1.1"/>
<circle cx="592.0" cy="276.0" r="2.4" fill="#88eeee" stroke="#000" stroke-width="1.1"/>
<circle cx="601.7" cy="264.3" r="2.4" fill="#88eeee" stroke="#000" stroke-width="1.1"/>
<circle cx="597.0" cy="271.8" r="2.4" fill="#88eeee" stroke="#000" stroke-width="1.1"/>
<circle cx="586.3" cy="273.8" r="2.4" fill="#88eeee" stroke="#000" stroke-width="1.1"/>
<circle cx="558.8" cy="286.9" r="2.4" fill="#88eeee" stroke="#000" stroke-width="1.1"/>
<circle cx="590.8" cy="278.1" r="2.4" fill="#88eeee" stroke="#000" stroke-width="1.1"/>
<circle cx="587.7" cy="270.8" r="2.4" fill="#88eeee" stroke="#000" stroke-width="1.1"/>
<circle cx="585.6" cy="280.4" r="2.4" fill="#88eeee" stroke="#000" stroke-width="1.1"/>
<circle cx="588.4" cy="280.5" r="2.4" fill="#88eeee" stroke="#000" stroke-width="1.1"/>
<circle cx="554.4" cy="289.3" r="2.4" fill="#88eeee" stroke="#000" stroke-width="1.1"/>
<circle cx="625.7" cy="248.9" r="2.4" fill="#88eeee" stroke="#000" stroke-width="1.1"/>
<circle cx="580.3" cy="269.9" r="2.4" fill="#88eeee" stroke="#000" stroke-width="1.1"/>
<circle cx="582.5" cy="278.1" r="2.4" fill="#88eeee" stroke="#000" stroke-width="1.1"/>
<circle cx="593.2" cy="264.6" r="2.4" fill="#88eeee" stroke="#000" stroke-width="1.1"/>
<circle cx="561.4" cy="291.7" r="2.4" fill="#88eeee" stroke="#000" stroke-width="1.1"/>
<circle cx="605.2" cy="272.3" r="2.4" fill="#88eeee" stroke="#000" stroke-width="1.1"/>
<circle cx="620.2" cy="241.5" r="2.4" fill="#88eeee" stroke="#000" stroke-width="1.1"/>
<circle cx="574.4" cy="269.4" r="2.4" fill="#88eeee" stroke="#000" stroke-width="1.1"/>
<circle cx="603.5" cy="256.3" r="2.4" fill="#88eeee" stroke="#000" stroke-width="1.1"/>
<circle cx="630.2" cy="256.7" r="2.4" fill="#88eeee" stroke="#000" stroke-width="1.1"/>
<circle cx="593.9" cy="259.7" r="2.4" fill="#88eeee" stroke="#000" stroke-width="1.1"/>
<circle cx="627.2" cy="241.6" r="2.4" fill="#88eeee" stroke="#000" stroke-width="1.1"/>
<circle cx="589.3" cy="275.7" r="2.4" fill="#88eeee" stroke="#000" stroke-width="1.1"/>
<circle cx="585.8" cy="279.1" r="2.4" fill="#88eeee" stroke="#000" stroke-width="1.1"/>
<circle cx="537.0" cy="314.8" r="2.4" fill="#88eeee" stroke="#000" stroke-width="1.1"/>
<circle cx="569.8" cy="289.6" r="2.4" fill="#88eeee" stroke="#000" stroke-width="1.1"/>
<circle cx="582.8" cy="278.8" r="2.4" fill="#88eeee" stroke="#000" stroke-width="1.1"/>
<circle cx="596.0" cy="265.8" r="2.4" fill="#88eeee" stroke="#000" stroke-width="1.1"/>
<circle cx="585.1" cy="278.0" r="2.4" fill="#88eeee" stroke="#000" stroke-width="1.1"/>
<circle cx="591.1" cy="271.3" r="2.4" fill="#88eeee" stroke="#000" stroke-width="1.1"/>
<circle cx="590.5" cy="260.1" r="2.4" fill="#88eeee" stroke="#000" stroke-width="1.1"/>
<circle cx="599.3" cy="265.5" r="2.4" fill="#88eeee" stroke="#000" stroke-width="1.1"/>
<circle cx="545.1" cy="314.4" r="2.4" fill="#88eeee" stroke="#000" stroke-width="1.1"/>
<circle cx="614.4" cy="243.7" r="2.4" fill="#88eeee" stroke="#000" stroke-width="1.1"/>
<circle cx="584.0" cy="277.8" r="2.4" fill="#88eeee" stroke="#000" stroke-width="1.1"/>
<circle cx="604.8" cy="254.7" r="2.4" fill="#88eeee" stroke="#000" stroke-width="1.1"/>
<circle cx="552.6" cy="300.5" r="2.4" fill="#88eeee" stroke="#000" stroke-width="1.1"/>
<circle cx="586.2" cy="281.6" r="2.4" fill="#88eeee" stroke="#000" stroke-width="1.1"/>
<circle cx="627.0" cy="236.4" r="2.4" fill="#88eeee" stroke="#000" stroke-width="1.1"/>
<circle cx="579.3" cy="278.5" r="2.4" fill="#88eeee" stroke="#000" stroke-width="1.1"/>
<circle cx="580.6" cy="280.7" r="2.4" fill="#88eeee" stroke="#000" stroke-width="1.1"/>
<circle cx="584.3" cy="267.4" r="2.4" fill="#88eeee" stroke="#000" stroke-width="1.1"/>
<circle cx="593.7" cy="270.4" r="2.4" fill="#88eeee" stroke="#000" stroke-width="1.1"/>
<circle cx="577.5" cy="277.8" r="2.4" fill="#88eeee" stroke="#000" stroke-width="1.1"/>
<circle cx="573.0" cy="294.1" r="2.4" fill="#88eeee" stroke="#000" stroke-width="1.1"/>
<circle cx="590.3" cy="258.9" r="2.4" fill="#88eeee" stroke="#000" stroke-width="1.1"/>
<circle cx="577.5" cy="278.5" r="2.4" fill="#88eeee" stroke="#000" stroke-width="1.1"/>
<circle cx="588.9" cy="262.4" r="2.4" fill="#88eeee" stroke="#000" stroke-width="1.1"/>
<circle cx="604.8" cy="267.3" r="2.4" fill="#88eeee" stroke="#000" stroke-width="1.1"/>
<circle cx="634.8" cy="235.5" r="2.4" fill="#88eeee" stroke="#000" stroke-width="1.1"/>
<circle cx="572.0" cy="287.3" r="2.4" fill="#88eeee" stroke="#000" stroke-width="1.1"/>
<circle cx="595.1" cy="258.7" r="2.4" fill="#88eeee" stroke="#000" stroke-width="1.1"/>
<circle cx="587.0" cy="277.4" r="2.4" fill="#88eeee" stroke="#000" stroke-width="1.1"/>
<circle cx="624.9" cy="232.4" r="2.4" fill="#88eeee" stroke="#000" stroke-width="1.1"/>
<circle cx="585.2" cy="272.7" r="2.4" fill="#88eeee" stroke="#000" stroke-width="1.1"/>
<circle cx="602.4" cy="262.5" r="2.4" fill="#88eeee" stroke="#000" stroke-width="1.1"/>
<circle cx="572.0" cy="276.7" r="2.4" fill="#88eeee" stroke="#000" stroke-width="1.1"/>
<circle cx="567.7" cy="299.7" r="2.4" fill="#88eeee" stroke="#000" stroke-width="1.1"/>
<circle cx="607.4" cy="248.7" r="2.4" fill="#88eeee" stroke="#000" stroke-width="1.1"/>
<circle cx="612.9" cy="257.7" r="2.4" fill="#88eeee" stroke="#000" stroke-width="1.1"/>
<circle cx="587.8" cy="279.1" r="2.4" fill="#88eeee" stroke="#000" stroke-width="1.1"/>
<circle cx="581.2" cy="293.6" r="2.4" fill="#88eeee" stroke="#000" stroke-width="1.1"/>
<circle cx="573.0" cy="273.6" r="2.4" fill="#88eeee" stroke="#000" stroke-width="1.1"/>
<circle cx="565.9" cy="276.6" r="2.4" fill="#88eeee" stroke="#000" stroke-width="1.1"/>
<circle cx="597.7" cy="277.5" r="2.4" fill="#88eeee" stroke="#000" stroke-width="1.1"/>
<circle cx="615.9" cy="256.6" r="2.4" fill="#88eeee" stroke="#000" stroke-width="1.1"/>
<circle cx="606.7" cy="258.4" r="2.4" fill="#88eeee" stroke="#000" stroke-width="1.1"/>
<circle cx="585.3" cy="274.8" r="2.4" fill="#88eeee" stroke="#000" stroke-width="1.1"/>
<circle cx="562.5" cy="296.3" r="2.4" fill="#88eeee" stroke="#000" stroke-width="1.1"/>
<circle cx="584.2" cy="262.3" r="2.4" fill="#88eeee" stroke="#000" stroke-width="1.1"/>
<circle cx="580.1" cy="275.4" r="2.4" fill="#88eeee" stroke="#000" stroke-width="1.1"/>
<circle cx="604.4" cy="250.5" r="2.4" fill="#88eeee" stroke="#000" stroke-width="1.1"/>
<circle cx="588.2" cy="270.0" r="2.4" fill="#88eeee" stroke="#000" stroke-width="1.1"/>
<circle cx="571.7" cy="266.7" r="2.4" fill="#88eeee" stroke="#000" stroke-width="1.1"/>
<circle cx="558.4" cy="292.5" r="2.4" fill="#88eeee" stroke="#000" stroke-width="1.1"/>
<circle cx="585.5" cy="272.2" r="2.4" fill="#88eeee" stroke="#000" stroke-width="1.1"/>
<circle cx="581.3" cy="279.7" r="2.4" fill="#88eeee" stroke="#000" stroke-width="1.1"/>
<circle cx="617.2" cy="242.5" r="2.4" fill="#88eeee" stroke="#000" stroke-width="1.1"/>
<circle cx="592.1" cy="269.3" r="2.4" fill="#88eeee" stroke="#000" stroke-width="1.1"/>
<circle cx="598.2" cy="264.1" r="2.4" fill="#88eeee" stroke="#000" stroke-width="1.1"/>
<circle cx="604.3" cy="253.7" r="2.4" fill="#88eeee" stroke="#000" stroke-width="1.1"/>
<circle cx="605.0" cy="269.2" r="2.4" fill="#88eeee" stroke="#000" stroke-width="1.1"/>
<circle cx="592.6" cy="275.2" r="2.4" fill="#88eeee" stroke="#000" stroke-width="1.1"/>
<circle cx="604.4" cy="260.8" r="2.4" fill="#88eeee" stroke="#000" stroke-width="1.1"/>
<circle cx="601.0" cy="262.1" r="2.4" fill="#88eeee" stroke="#000" stroke-width="1.1"/>
<circle cx="616.0" cy="240.6" r="2.4" fill="#88eeee" stroke="#000" stroke-width="1.1"/>
<circle cx="598.0" cy="274.0" r="2.4" fill="#88eeee" stroke="#000" stroke-width="1.1"/>
<circle cx="594.1" cy="253.1" r="2.4" fill="#88eeee" stroke="#000" stroke-width="1.1"/>
<circle cx="577.7" cy="279.9" r="2.4" fill="#88eeee" stroke="#000" stroke-width="1.1"/>
<circle cx="634.0" cy="231.6" r="2.4" fill="#88eeee" stroke="#000" stroke-width="1.1"/>
<circle cx="599.4" cy="271.8" r="2.4" fill="#88eeee" stroke="#000" stroke-width="1.1"/>
<circle cx="632.8" cy="230.7" r="2.4" fill="#88eeee" stroke="#000" stroke-width="1.1"/>
<circle cx="554.0" cy="298.3" r="2.4" fill="#88eeee" stroke="#000" stroke-width="1.1"/>
<circle cx="591.0" cy="269.5" r="2.4" fill="#88eeee" stroke="#000" stroke-width="1.1"/>
<circle cx="578.3" cy="261.8" r="2.4" fill="#88eeee" stroke="#000" stroke-width="1.1"/>
<circle cx="573.3" cy="272.7" r="2.4" fill="#88eeee" stroke="#000" stroke-width="1.1"/>
<circle cx="609.0" cy="255.2" r="2.4" fill="#88eeee" stroke="#000" stroke-width="1.1"/>
<circle cx="604.7" cy="253.4" r="2.4" fill="#88eeee" stroke="#000" stroke-width="1.1"/>
<circle cx="575.6" cy="283.5" r="2.4" fill="#88eeee" stroke="#000" stroke-width="1.1"/>
<circle cx="622.7" cy="238.2" r="2.4" fill="#88eeee" stroke="#000" stroke-width="1.1"/>
<circle cx="603.4" cy="267.7" r="2.4" fill="#88eeee" stroke="#000" stroke-width="1.1"/>
<circle cx="555.6" cy="286.1" r="2.4" fill="#88eeee" stroke="#000" stroke-width="1.1"/>
<circle cx="628.4" cy="236.8" r="2.4" fill="#88eeee" stroke="#000" stroke-width="1.1"/>
<circle cx="603.5" cy="261.7" r="2.4" fill="#88eeee" stroke="#000" stroke-width="1.1"/>
<circle cx="606.1" cy="249.2" r="2.4" fill="#88eeee" stroke="#000" stroke-width="1.1"/>
<circle cx="612.3" cy="256.4" r="2.4" fill="#88eeee" stroke="#000" stroke-width="1.1"/>
<circle cx="602.7" cy="263.7" r="2.4" fill="#88eeee" stroke="#000" stroke-width="1.1"/>
<circle cx="592.5" cy="275.4" r="2.4" fill="#88eeee" stroke="#000" stroke-width="1.1"/>
<circle cx="538.3" cy="316.7" r="2.4" fill="#88eeee" stroke="#000" stroke-width="1.1"/>
<circle cx="598.7" cy="268.5" r="2.4" fill="#88eeee" stroke="#000" stroke-width="1.1"/>
<circle cx="607.1" cy="260.5" r="2.4" fill="#88eeee" stroke="#000" stroke-width="1.1"/>
<circle cx="601.3" cy="264.3" r="2.4" fill="#88eeee" stroke="#000" stroke-width="1.1"/>
<circle cx="628.3" cy="243.1" r="2.4" fill="#88eeee" stroke="#000" stroke-width="1.1"/>
<circle cx="594.8" cy="258.3" r="2.4" fill="#88eeee" stroke="#000" stroke-width="1.1"/>
<circle cx="629.4" cy="247.4" r="2.4" fill="#88eeee" stroke="#000" stroke-width="1.1"/>
<circle cx="629.1" cy="247.1" r="2.4" fill="#88eeee" stroke="#000" stroke-width="1.1"/>
<circle cx="571.4" cy="289.8" r="2.4" fill="#88eeee" stroke="#000" stroke-width="1.1"/>
<circle cx="618.1" cy="255.5" r="2.4" fill="#88eeee" stroke="#000" stroke-width="1.1"/>
<circle cx="608.1" cy="253.0" r="2.4" fill="#88eeee" stroke="#000" stroke-width="1.1"/>
<circle cx="589.8" cy="266.8" r="2.4" fill="#88eeee" stroke="#000" stroke-width="1.1"/>
<circle cx="574.5" cy="279.8" r="2.4" fill="#88eeee" stroke="#000" stroke-width="1.1"/>
<circle cx="585.1" cy="274.4" r="2.4" fill="#88eeee" stroke="#000" stroke-width="1.1"/>
<circle cx="581.7" cy="272.4" r="2.4" fill="#88eeee" stroke="#000" stroke-width="1.1"/>
<circle cx="574.3" cy="290.3" r="2.4" fill="#88eeee" stroke="#000" stroke-width="1.1"/>
<circle cx="595.6" cy="263.3" r="2.4" fill="#88eeee" stroke="#000" stroke-width="1.1"/>
<circle cx="623.0" cy="239.8" r="2.4" fill="#88eeee" stroke="#000" stroke-width="1.1"/>
<circle cx="574.0" cy="288.3" r="2.4" fill="#88eeee" stroke="#000" stroke-width="1.1"/>
<circle cx="602.1" cy="258.6" r="2.4" fill="#88eeee" stroke="#000" stroke-width="1.1"/>
<circle cx="611.6" cy="244.1" r="2.4" fill="#88eeee" stroke="#000" stroke-width="1.1"/>
<circle cx="541.6" cy="311.1" r="2.4" fill="#88eeee" stroke="#000" stroke-width="1.1"/>
<circle cx="607.4" cy="263.7" r="2.4" fill="#88eeee" stroke="#000" stroke-width="1.1"/>
<circle cx="633.9" cy="236.6" r="2.4" fill="#88eeee" stroke="#000" stroke-width="1.1"/>
<circle cx="608.6" cy="256.9" r="2.4" fill="#88eeee" stroke="#000" stroke-width="1.1"/>
<circle cx="602.8" cy="257.1" r="2.4" fill="#88eeee" stroke="#000" stroke-width="1.1"/>
<circle cx="607.3" cy="265.8" r="2.4" fill="#88eeee" stroke="#000" stroke-width="1.1"/>
<circle cx="549.5" cy="301.5" r="2.4" fill="#88eeee" stroke="#000" stroke-width="1.1"/>
<circle cx="613.3" cy="253.5" r="2.4" fill="#88eeee" stroke="#000" stroke-width="1.1"/>
<circle cx="590.6" cy="261.9" r="2.4" fill="#88eeee" stroke="#000" stroke-width="1.1"/>
<circle cx="610.0" cy="260.8" r="2.4" fill="#88eeee" stroke="#000" stroke-width="1.1"/>
<circle cx="598.5" cy="264.6" r="2.4" fill="#88eeee" stroke="#000" stroke-width="1.1"/>
<circle cx="596.0" cy="265.6" r="2.4" fill="#88eeee" stroke="#000" stroke-width="1.1"/>
<circle cx="608.4" cy="255.7" r="2.4" fill="#88eeee" stroke="#000" stroke-width="1.1"/>
<circle cx="602.6" cy="259.8" r="2.4" fill="#88eeee" stroke="#000" stroke-width="1.1"/>
<circle cx="589.7" cy="273.8" r="2.4" fill="#88eeee" stroke="#000" stroke-width="1.1"/>
<circle cx="601.1" cy="258.1" r="2.4" fill="#88eeee" stroke="#000" stroke-width="1.1"/>
<circle cx="578.8" cy="282.7" r="2.4" fill="#88eeee" stroke="#000" stroke-width="1.1"/>
<circle cx="619.4" cy="249.9" r="2.4" fill="#88eeee" stroke="#000" stroke-width="1.1"/>
<circle cx="597.7" cy="272.4" r="2.4" fill="#88eeee" stroke="#000" stroke-width="1.1"/>
<circle cx="608.7" cy="265.2" r="2.4" fill="#88eeee" stroke="#000" stroke-width="1.1"/>
<circle cx="618.2" cy="253.7" r="2.4" fill="#88eeee" stroke="#000" stroke-width="1.1"/>
<circle cx="600.2" cy="255.1" r="2.4" fill="#88eeee" stroke="#000" stroke-width="1.1"/>
<circle cx="574.9" cy="282.1" r="2.4" fill="#88eeee" stroke="#000" stroke-width="1.1"/>
<circle cx="644.7" cy="237.1" r="2.4" fill="#88eeee" stroke="#000" stroke-width="1.1"/>
<circle cx="597.7" cy="277.3" r="2.4" fill="#88eeee" stroke="#000" stroke-width="1.1"/>
<circle cx="602.9" cy="260.9" r="2.4" fill="#88eeee" stroke="#000" stroke-width="1.1"/>
<circle cx="568.3" cy="294.5" r="2.4" fill="#88eeee" stroke="#000" stroke-width="1.1"/>
<circle cx="624.0" cy="239.0" r="2.4" fill="#88eeee" stroke="#000" stroke-width="1.1"/>
<circle cx="566.3" cy="282.4" r="2.4" fill="#88eeee" stroke="#000" stroke-width="1.1"/>
<circle cx="572.9" cy="288.2" r="2.4" fill="#88eeee" stroke="#000" stroke-width="1.1"/>
<circle cx="604.1" cy="259.6" r="2.4" fill="#88eeee" stroke="#000" stroke-width="1.1"/>
<circle cx="607.1" cy="249.1" r="2.4" fill="#88eeee" stroke="#000" stroke-width="1.1"/>
<circle cx="579.7" cy="273.8" r="2.4" fill="#88eeee" stroke="#000" stroke-width="1.1"/>
<circle cx="601.7" cy="272.0" r="2.4" fill="#88eeee" stroke="#000" stroke-width="1.1"/>
<circle cx="613.3" cy="245.0" r="2.4" fill="#88eeee" stroke="#000" stroke-width="1.1"/>
<circle cx="562.3" cy="293.2" r="2.4" fill="#88eeee" stroke="#000" stroke-width="1.1"/>
<circle cx="617.7" cy="242.3" r="2.4" fill="#88eeee" stroke="#000" stroke-width="1.1"/>
<circle cx="586.1" cy="274.3" r="2.4" fill="#88eeee" stroke="#000" stroke-width="1.1"/>
<circle cx="587.5" cy="279.9" r="2.4" fill="#88eeee" stroke="#000" stroke-width="1.1"/>
<circle cx="597.2" cy="249.8" r="2.4" fill="#88eeee" stroke="#000" stroke-width="1.1"/>
<circle cx="561.3" cy="292.0" r="2.4" fill="#88eeee" stroke="#000" stroke-width="1.1"/>
<circle cx="572.4" cy="272.9" r="2.4" fill="#88eeee" stroke="#000" stroke-width="1.1"/>
<circle cx="555.9" cy="289.8" r="2.4" fill="#88eeee" stroke="#000" stroke-width="1.1"/>
<circle cx="605.1" cy="263.9" r="2.4" fill="#88eeee" stroke="#000" stroke-width="1.1"/>
<circle cx="587.3" cy="271.4" r="2.4" fill="#88eeee" stroke="#000" stroke-width="1.1"/>
<circle cx="634.9" cy="233.2" r="2.4" fill="#88eeee" stroke="#000" stroke-width="1.1"/>
<circle cx="622.6" cy="237.3" r="2.4" fill="#88eeee" stroke="#000" stroke-width="1.1"/>
<circle cx="596.9" cy="264.1" r="2.4" fill="#88eeee" stroke="#000" stroke-width="1.1"/>
<circle cx="593.2" cy="256.1" r="2.4" fill="#88eeee" stroke="#000" stroke-width="1.1"/>
<circle cx="625.4" cy="235.8" r="2.4" fill="#88eeee" stroke="#000" stroke-width="1.1"/>
<circle cx="579.3" cy="279.8" r="2.4" fill="#88eeee" stroke="#000" stroke-width="1.1"/>
<circle cx="612.7" cy="253.4" r="2.4" fill="#88eeee" stroke="#000" stroke-width="1.1"/>
<circle cx="562.7" cy="300.9" r="2.4" fill="#88eeee" stroke="#000" stroke-width="1.1"/>
<circle cx="605.6" cy="252.5" r="2.4" fill="#88eeee" stroke="#000" stroke-width="1.1"/>
<circle cx="607.3" cy="245.8" r="2.4" fill="#88eeee" stroke="#000" stroke-width="1.1"/>
<circle cx="557.6" cy="306.8" r="2.4" fill="#88eeee" stroke="#000" stroke-width="1.1"/>
<circle cx="597.3" cy="258.1" r="2.4" fill="#88eeee" stroke="#000" stroke-width="1.1"/>
<circle cx="574.6" cy="279.8" r="2.4" fill="#88eeee" stroke="#000" stroke-width="1.1"/>
<circle cx="602.3" cy="263.5" r="2.4" fill="#88eeee" stroke="#000" stroke-width="1.1"/>
<circle cx="574.7" cy="283.7" r="2.4" fill="#88eeee" stroke="#000" stroke-width="1.1"/>
<circle cx="592.5" cy="262.8" r="2.4" fill="#88eeee" stroke="#000" stroke-width="1.1"/>
<circle cx="587.5" cy="278.3" r="2.4" fill="#88eeee" stroke="#000" stroke-width="1.1"/>
<circle cx="569.0" cy="289.0" r="2.4" fill="#88eeee" stroke="#000" stroke-width="1.1"/>
<circle cx="606.4" cy="263.0" r="2.4" fill="#88eeee" stroke="#000" stroke-width="1.1"/>
<circle cx="529.9" cy="316.2" r="2.4" fill="#88eeee" stroke="#000" stroke-width="1.1"/>
<circle cx="530.4" cy="310.5" r="2.4" fill="#88eeee" stroke="#000" stroke-width="1.1"/>
<circle cx="537.0" cy="306.7" r="2.4" fill="#88eeee" stroke="#000" stroke-width="1.1"/>
<circle cx="544.1" cy="297.2" r="2.4" fill="#88eeee" stroke="#000" stroke-width="1.1"/>
<circle cx="633.8" cy="258.1" r="2.4" fill="#88eeee" stroke="#000" stroke-width="1.1"/>
<circle cx="653.6" cy="222.7" r="2.4" fill="#88eeee" stroke="#000" stroke-width="1.1"/>
<circle cx="643.2" cy="237.9" r="2.4" fill="#88eeee" stroke="#000" stroke-width="1.1"/>
<circle cx="636.1" cy="225.0" r="2.4" fill="#88eeee" stroke="#000" stroke-width="1.1"/>
<circle cx="622.0" cy="228.8" r="2.4" fill="#88eeee" stroke="#000" stroke-width="1.1"/>
<polyline points="528.98,304.35 532.10,301.94 535.23,299.54 538.36,297.14 541.48,294.73 544.61,292.33 547.74,289.92 550.87,287.52 553.99,285.12 557.12,282.71 560.25,280.31 563.37,277.91 566.50,275.50 569.63,273.10 572.75,270.69 575.88,268.29 579.01,265.89 582.13,263.48 585.26,261.08 588.39,258.68 591.52,256.27 594.64,253.87 597.77,251.46 600.90,249.06 604.02,246.66 607.15,244.25 610.28,241.85 613.40,239.45 616.53,237.04 619.66,234.64 622.79,232.23 625.91,229.83 629.04,227.43 632.17,225.02 635.29,222.62 638.42,220.22 641.55,217.81 644.67,215.41 647.80,213.01 650.93,210.60 654.06,208.20" fill="none" stroke="#1a1aff" stroke-width="1.7" stroke-dasharray="4.6 4.4"/>
<polyline points="528.98,329.43 532.10,327.02 535.23,324.62 538.36,322.22 541.48,319.81 544.61,317.41 547.74,315.00 550.87,312.60 553.99,310.20 557.12,307.79 560.25,305.39 563.37,302.99 566.50,300.58 569.63,298.18 572.75,295.77 575.88,293.37 579.01,290.97 582.13,288.56 585.26,286.16 588.39,283.76 591.52,281.35 594.64,278.95 597.77,276.54 600.90,274.14 604.02,271.74 607.15,269.33 610.28,266.93 613.40,264.53 616.53,262.12 619.66,259.72 622.79,257.31 625.91,254.91 629.04,252.51 632.17,250.10 635.29,247.70 638.42,245.30 641.55,242.89 644.67,240.49 647.80,238.09 650.93,235.68 654.06,233.28" fill="none" stroke="#1a1aff" stroke-width="1.7" stroke-dasharray="4.6 4.4"/>
<polyline points="528.98,316.89 532.10,314.48 535.23,312.08 538.36,309.68 541.48,307.27 544.61,304.87 547.74,302.46 550.87,300.06 553.99,297.66 557.12,295.25 560.25,292.85 563.37,290.45 566.50,288.04 569.63,285.64 572.75,283.23 575.88,280.83 579.01,278.43 582.13,276.02 585.26,273.62 588.39,271.22 591.52,268.81 594.64,266.41 597.77,264.00 600.90,261.60 604.02,259.20 607.15,256.79 610.28,254.39 613.40,251.99 616.53,249.58 619.66,247.18 622.79,244.77 625.91,242.37 629.04,239.97 632.17,237.56 635.29,235.16 638.42,232.76 641.55,230.35 644.67,227.95 647.80,225.55 650.93,223.14 654.06,220.74" fill="none" stroke="#f21d1d" stroke-width="1.5"/>
<polyline points="528.98,316.03 532.10,313.66 535.23,311.29 538.36,308.91 541.48,306.54 544.61,304.16 547.74,301.79 550.87,299.41 553.99,297.04 557.12,294.66 560.25,292.28 563.37,289.89 566.50,287.51 569.63,285.13 572.75,282.74 575.88,280.35 579.01,277.96 582.13,275.56 585.26,273.16 588.39,270.76 591.52,268.35 594.64,265.95 597.77,263.54 600.90,261.12 604.02,258.71 607.15,256.29 610.28,253.87 613.40,251.44 616.53,249.02 619.66,246.59 622.79,244.16 625.91,241.73 629.04,239.30 632.17,236.87 635.29,234.44 638.42,232.00 641.55,229.57 644.67,227.14 647.80,224.70 650.93,222.26 654.06,219.83" fill="none" stroke="#22e622" stroke-width="2.4" stroke-dasharray="5 3"/>
<polyline points="528.98,317.74 532.10,315.31 535.23,312.87 538.36,310.44 541.48,308.00 544.61,305.57 547.74,303.14 550.87,300.71 553.99,298.28 557.12,295.85 560.25,293.42 563.37,291.00 566.50,288.57 569.63,286.15 572.75,283.73 575.88,281.31 579.01,278.90 582.13,276.49 585.26,274.08 588.39,271.67 591.52,269.27 594.64,266.87 597.77,264.47 600.90,262.08 604.02,259.69 607.15,257.30 610.28,254.91 613.40,252.53 616.53,250.15 619.66,247.77 622.79,245.39 625.91,243.01 629.04,240.63 632.17,238.26 635.29,235.88 638.42,233.51 641.55,231.13 644.67,228.76 647.80,226.39 650.93,224.02 654.06,221.65" fill="none" stroke="#22e622" stroke-width="2.4" stroke-dasharray="5 3"/>
<text x="522.6" y="216.3" font-family='"Liberation Serif", serif' font-size="10.5" font-weight="bold" fill="#111" stroke="#111" stroke-width="0.3" text-anchor="start" >(h)</text>
<text x="528.9" y="229.0" font-family='"Liberation Sans", sans-serif' font-size="6.3" font-weight="bold" fill="#111" stroke="#111" stroke-width="0.3" text-anchor="start" >Slope = 0.9548</text>
<text x="528.9" y="236.9" font-family='"Liberation Sans", sans-serif' font-size="6.3" font-weight="bold" fill="#111" stroke="#111" stroke-width="0.3" text-anchor="start" >Intercept = 0.6686</text>
<text x="528.9" y="244.8" font-family='"Liberation Sans", sans-serif' font-size="6.3" font-weight="bold" fill="#111" stroke="#111" stroke-width="0.3" text-anchor="start" >r = 0.987</text>
<line x1="582.5" y1="305.1" x2="597.3" y2="305.1" stroke="#f21d1d" stroke-width="1.5"/>
<text x="598.6" y="307.4" font-family='"Liberation Sans", sans-serif' font-size="6.3" font-weight="bold" fill="#111" stroke="#111" stroke-width="0.3" text-anchor="start" >Linear regression</text>
<line x1="582.5" y1="313.0" x2="597.3" y2="313.0" stroke="#22e622" stroke-width="1.6" stroke-dasharray="4.9 6.1 4.6"/>
<text x="598.6" y="315.3" font-family='"Liberation Sans", sans-serif' font-size="6.3" font-weight="bold" fill="#111" stroke="#111" stroke-width="0.3" text-anchor="start" >95% Confidence intervals</text>
<line x1="582.5" y1="320.9" x2="597.3" y2="320.9" stroke="#1a1aff" stroke-width="1.6" stroke-dasharray="4.9 6.1 4.6"/>
<text x="598.6" y="323.2" font-family='"Liberation Sans", sans-serif' font-size="6.3" font-weight="bold" fill="#111" stroke="#111" stroke-width="0.3" text-anchor="start" >95% Prediction intervals</text>
<text x="598.3" y="347.4" font-family='"Liberation Sans", sans-serif' font-size="7.0" font-weight="bold" fill="#111" stroke="#111" stroke-width="0.3" text-anchor="middle" >Hemoglobin from blood test (gm/dL)</text>
<text transform="translate(506.6,267.7) rotate(-90)" x="0" y="0" font-family='"Liberation Sans", sans-serif' font-size="7.1" font-weight="bold" fill="#111" stroke="#111" stroke-width="0.3" text-anchor="middle">Hemoglobin from instrument (gm/dL)</text>
<rect x="124.8" y="359.5" width="166.0" height="144.9" fill="none" stroke="#151515" stroke-width="1.7"/>
<path d="M138.70,504.40v3.0M166.45,504.40v3.0M194.20,504.40v3.0M221.95,504.40v3.0M249.70,504.40v3.0M277.45,504.40v3.0M152.57,504.40v1.7M180.32,504.40v1.7M208.07,504.40v1.7M235.82,504.40v1.7M263.57,504.40v1.7M124.80,490.40h-3.0M124.80,461.20h-3.0M124.80,432.00h-3.0M124.80,402.80h-3.0M124.80,373.60h-3.0M124.80,505.00h-1.7M124.80,475.80h-1.7M124.80,446.60h-1.7M124.80,417.40h-1.7M124.80,388.20h-1.7" stroke="#111" stroke-width="1.35" fill="none"/>
<text x="138.7" y="516.6" font-family='"Liberation Sans", sans-serif' font-size="8.1" font-weight="bold" fill="#111" stroke="#111" stroke-width="0.3" text-anchor="middle" >50</text>
<text x="166.4" y="516.6" font-family='"Liberation Sans", sans-serif' font-size="8.1" font-weight="bold" fill="#111" stroke="#111" stroke-width="0.3" text-anchor="middle" >60</text>
<text x="194.2" y="516.6" font-family='"Liberation Sans", sans-serif' font-size="8.1" font-weight="bold" fill="#111" stroke="#111" stroke-width="0.3" text-anchor="middle" >70</text>
<text x="221.9" y="516.6" font-family='"Liberation Sans", sans-serif' font-size="8.1" font-weight="bold" fill="#111" stroke="#111" stroke-width="0.3" text-anchor="middle" >80</text>
<text x="249.7" y="516.6" font-family='"Liberation Sans", sans-serif' font-size="8.1" font-weight="bold" fill="#111" stroke="#111" stroke-width="0.3" text-anchor="middle" >90</text>
<text x="277.4" y="516.6" font-family='"Liberation Sans", sans-serif' font-size="8.1" font-weight="bold" fill="#111" stroke="#111" stroke-width="0.3" text-anchor="middle" >100</text>
<text x="120.4" y="492.6" font-family='"Liberation Sans", sans-serif' font-size="8.1" font-weight="bold" fill="#111" stroke="#111" stroke-width="0.3" text-anchor="end" >60</text>
<text x="120.4" y="463.4" font-family='"Liberation Sans", sans-serif' font-size="8.1" font-weight="bold" fill="#111" stroke="#111" stroke-width="0.3" text-anchor="end" >70</text>
<text x="120.4" y="434.2" font-family='"Liberation Sans", sans-serif' font-size="8.1" font-weight="bold" fill="#111" stroke="#111" stroke-width="0.3" text-anchor="end" >80</text>
<text x="120.4" y="405.0" font-family='"Liberation Sans", sans-serif' font-size="8.1" font-weight="bold" fill="#111" stroke="#111" stroke-width="0.3" text-anchor="end" >90</text>
<text x="120.4" y="375.8" font-family='"Liberation Sans", sans-serif' font-size="8.1" font-weight="bold" fill="#111" stroke="#111" stroke-width="0.3" text-anchor="end" >100</text>
<circle cx="238.0" cy="413.2" r="2.5" fill="#ff00ff" stroke="#000" stroke-width="1.25"/>
<circle cx="270.2" cy="385.9" r="2.5" fill="#ff00ff" stroke="#000" stroke-width="1.25"/>
<circle cx="185.8" cy="464.6" r="2.5" fill="#ff00ff" stroke="#000" stroke-width="1.25"/>
<circle cx="257.1" cy="397.2" r="2.5" fill="#ff00ff" stroke="#000" stroke-width="1.25"/>
<circle cx="201.3" cy="447.1" r="2.5" fill="#ff00ff" stroke="#000" stroke-width="1.25"/>
<circle cx="252.4" cy="412.6" r="2.5" fill="#ff00ff" stroke="#000" stroke-width="1.25"/>
<circle cx="178.4" cy="474.8" r="2.5" fill="#ff00ff" stroke="#000" stroke-width="1.25"/>
<circle cx="266.0" cy="391.1" r="2.5" fill="#ff00ff" stroke="#000" stroke-width="1.25"/>
<circle cx="255.8" cy="409.2" r="2.5" fill="#ff00ff" stroke="#000" stroke-width="1.25"/>
<circle cx="200.7" cy="457.0" r="2.5" fill="#ff00ff" stroke="#000" stroke-width="1.25"/>
<circle cx="181.6" cy="490.1" r="2.5" fill="#ff00ff" stroke="#000" stroke-width="1.25"/>
<circle cx="178.4" cy="474.1" r="2.5" fill="#ff00ff" stroke="#000" stroke-width="1.25"/>
<circle cx="276.5" cy="376.9" r="2.5" fill="#ff00ff" stroke="#000" stroke-width="1.25"/>
<circle cx="260.0" cy="394.5" r="2.5" fill="#ff00ff" stroke="#000" stroke-width="1.25"/>
<circle cx="260.6" cy="393.0" r="2.5" fill="#ff00ff" stroke="#000" stroke-width="1.25"/>
<circle cx="219.3" cy="445.8" r="2.5" fill="#ff00ff" stroke="#000" stroke-width="1.25"/>
<circle cx="265.1" cy="392.5" r="2.5" fill="#ff00ff" stroke="#000" stroke-width="1.25"/>
<circle cx="255.3" cy="396.8" r="2.5" fill="#ff00ff" stroke="#000" stroke-width="1.25"/>
<circle cx="219.2" cy="438.5" r="2.5" fill="#ff00ff" stroke="#000" stroke-width="1.25"/>
<circle cx="246.2" cy="409.8" r="2.5" fill="#ff00ff" stroke="#000" stroke-width="1.25"/>
<circle cx="202.4" cy="447.3" r="2.5" fill="#ff00ff" stroke="#000" stroke-width="1.25"/>
<circle cx="178.3" cy="480.5" r="2.5" fill="#ff00ff" stroke="#000" stroke-width="1.25"/>
<circle cx="259.8" cy="399.1" r="2.5" fill="#ff00ff" stroke="#000" stroke-width="1.25"/>
<circle cx="232.2" cy="422.2" r="2.5" fill="#ff00ff" stroke="#000" stroke-width="1.25"/>
<circle cx="183.2" cy="461.2" r="2.5" fill="#ff00ff" stroke="#000" stroke-width="1.25"/>
<circle cx="172.2" cy="484.0" r="2.5" fill="#ff00ff" stroke="#000" stroke-width="1.25"/>
<circle cx="261.4" cy="395.1" r="2.5" fill="#ff00ff" stroke="#000" stroke-width="1.25"/>
<circle cx="206.9" cy="460.8" r="2.5" fill="#ff00ff" stroke="#000" stroke-width="1.25"/>
<circle cx="164.4" cy="489.5" r="2.5" fill="#ff00ff" stroke="#000" stroke-width="1.25"/>
<circle cx="240.6" cy="412.6" r="2.5" fill="#ff00ff" stroke="#000" stroke-width="1.25"/>
<circle cx="237.9" cy="409.3" r="2.5" fill="#ff00ff" stroke="#000" stroke-width="1.25"/>
<circle cx="181.3" cy="478.4" r="2.5" fill="#ff00ff" stroke="#000" stroke-width="1.25"/>
<circle cx="177.4" cy="474.0" r="2.5" fill="#ff00ff" stroke="#000" stroke-width="1.25"/>
<circle cx="183.2" cy="478.2" r="2.5" fill="#ff00ff" stroke="#000" stroke-width="1.25"/>
<circle cx="174.0" cy="480.9" r="2.5" fill="#ff00ff" stroke="#000" stroke-width="1.25"/>
<circle cx="189.8" cy="459.3" r="2.5" fill="#ff00ff" stroke="#000" stroke-width="1.25"/>
<circle cx="231.9" cy="428.2" r="2.5" fill="#ff00ff" stroke="#000" stroke-width="1.25"/>
<circle cx="219.1" cy="435.7" r="2.5" fill="#ff00ff" stroke="#000" stroke-width="1.25"/>
<circle cx="210.9" cy="436.2" r="2.5" fill="#ff00ff" stroke="#000" stroke-width="1.25"/>
<circle cx="201.4" cy="455.5" r="2.5" fill="#ff00ff" stroke="#000" stroke-width="1.25"/>
<circle cx="167.2" cy="480.0" r="2.5" fill="#ff00ff" stroke="#000" stroke-width="1.25"/>
<circle cx="209.2" cy="444.5" r="2.5" fill="#ff00ff" stroke="#000" stroke-width="1.25"/>
<circle cx="259.3" cy="405.9" r="2.5" fill="#ff00ff" stroke="#000" stroke-width="1.25"/>
<circle cx="223.5" cy="437.1" r="2.5" fill="#ff00ff" stroke="#000" stroke-width="1.25"/>
<circle cx="252.3" cy="402.7" r="2.5" fill="#ff00ff" stroke="#000" stroke-width="1.25"/>
<circle cx="221.9" cy="437.5" r="2.5" fill="#ff00ff" stroke="#000" stroke-width="1.25"/>
<circle cx="216.8" cy="436.1" r="2.5" fill="#ff00ff" stroke="#000" stroke-width="1.25"/>
<circle cx="272.0" cy="377.0" r="2.5" fill="#ff00ff" stroke="#000" stroke-width="1.25"/>
<circle cx="210.9" cy="450.4" r="2.5" fill="#ff00ff" stroke="#000" stroke-width="1.25"/>
<circle cx="178.5" cy="477.0" r="2.5" fill="#ff00ff" stroke="#000" stroke-width="1.25"/>
<circle cx="251.6" cy="401.0" r="2.5" fill="#ff00ff" stroke="#000" stroke-width="1.25"/>
<circle cx="255.9" cy="404.2" r="2.5" fill="#ff00ff" stroke="#000" stroke-width="1.25"/>
<circle cx="216.3" cy="439.2" r="2.5" fill="#ff00ff" stroke="#000" stroke-width="1.25"/>
<circle cx="245.4" cy="410.8" r="2.5" fill="#ff00ff" stroke="#000" stroke-width="1.25"/>
<circle cx="252.0" cy="394.3" r="2.5" fill="#ff00ff" stroke="#000" stroke-width="1.25"/>
<circle cx="250.5" cy="398.4" r="2.5" fill="#ff00ff" stroke="#000" stroke-width="1.25"/>
<circle cx="234.4" cy="419.5" r="2.5" fill="#ff00ff" stroke="#000" stroke-width="1.25"/>
<circle cx="272.8" cy="377.4" r="2.5" fill="#ff00ff" stroke="#000" stroke-width="1.25"/>
<circle cx="171.6" cy="481.3" r="2.5" fill="#ff00ff" stroke="#000" stroke-width="1.25"/>
<circle cx="203.6" cy="445.9" r="2.5" fill="#ff00ff" stroke="#000" stroke-width="1.25"/>
<circle cx="239.0" cy="411.2" r="2.5" fill="#ff00ff" stroke="#000" stroke-width="1.25"/>
<circle cx="176.9" cy="479.2" r="2.5" fill="#ff00ff" stroke="#000" stroke-width="1.25"/>
<circle cx="234.3" cy="420.2" r="2.5" fill="#ff00ff" stroke="#000" stroke-width="1.25"/>
<circle cx="258.0" cy="398.2" r="2.5" fill="#ff00ff" stroke="#000" stroke-width="1.25"/>
<circle cx="202.6" cy="456.2" r="2.5" fill="#ff00ff" stroke="#000" stroke-width="1.25"/>
<circle cx="198.8" cy="457.3" r="2.5" fill="#ff00ff" stroke="#000" stroke-width="1.25"/>
<circle cx="164.4" cy="491.9" r="2.5" fill="#ff00ff" stroke="#000" stroke-width="1.25"/>
<circle cx="193.6" cy="465.6" r="2.5" fill="#ff00ff" stroke="#000" stroke-width="1.25"/>
<circle cx="272.6" cy="380.1" r="2.5" fill="#ff00ff" stroke="#000" stroke-width="1.25"/>
<circle cx="217.1" cy="434.7" r="2.5" fill="#ff00ff" stroke="#000" stroke-width="1.25"/>
<circle cx="216.8" cy="438.2" r="2.5" fill="#ff00ff" stroke="#000" stroke-width="1.25"/>
<circle cx="189.9" cy="468.2" r="2.5" fill="#ff00ff" stroke="#000" stroke-width="1.25"/>
<circle cx="201.3" cy="450.5" r="2.5" fill="#ff00ff" stroke="#000" stroke-width="1.25"/>
<circle cx="261.6" cy="403.2" r="2.5" fill="#ff00ff" stroke="#000" stroke-width="1.25"/>
<circle cx="190.2" cy="467.1" r="2.5" fill="#ff00ff" stroke="#000" stroke-width="1.25"/>
<circle cx="201.7" cy="461.9" r="2.5" fill="#ff00ff" stroke="#000" stroke-width="1.25"/>
<circle cx="271.6" cy="382.3" r="2.5" fill="#ff00ff" stroke="#000" stroke-width="1.25"/>
<circle cx="196.3" cy="462.8" r="2.5" fill="#ff00ff" stroke="#000" stroke-width="1.25"/>
<circle cx="158.3" cy="491.2" r="2.5" fill="#ff00ff" stroke="#000" stroke-width="1.25"/>
<circle cx="260.7" cy="390.4" r="2.5" fill="#ff00ff" stroke="#000" stroke-width="1.25"/>
<circle cx="181.4" cy="469.8" r="2.5" fill="#ff00ff" stroke="#000" stroke-width="1.25"/>
<circle cx="259.1" cy="394.1" r="2.5" fill="#ff00ff" stroke="#000" stroke-width="1.25"/>
<circle cx="271.4" cy="387.3" r="2.5" fill="#ff00ff" stroke="#000" stroke-width="1.25"/>
<circle cx="264.7" cy="381.2" r="2.5" fill="#ff00ff" stroke="#000" stroke-width="1.25"/>
<circle cx="160.7" cy="490.3" r="2.5" fill="#ff00ff" stroke="#000" stroke-width="1.25"/>
<circle cx="235.5" cy="429.1" r="2.5" fill="#ff00ff" stroke="#000" stroke-width="1.25"/>
<circle cx="256.6" cy="396.2" r="2.5" fill="#ff00ff" stroke="#000" stroke-width="1.25"/>
<circle cx="262.4" cy="383.0" r="2.5" fill="#ff00ff" stroke="#000" stroke-width="1.25"/>
<circle cx="183.5" cy="480.8" r="2.5" fill="#ff00ff" stroke="#000" stroke-width="1.25"/>
<circle cx="201.2" cy="447.9" r="2.5" fill="#ff00ff" stroke="#000" stroke-width="1.25"/>
<circle cx="172.3" cy="476.0" r="2.5" fill="#ff00ff" stroke="#000" stroke-width="1.25"/>
<circle cx="209.3" cy="443.2" r="2.5" fill="#ff00ff" stroke="#000" stroke-width="1.25"/>
<circle cx="200.2" cy="445.8" r="2.5" fill="#ff00ff" stroke="#000" stroke-width="1.25"/>
<circle cx="255.9" cy="406.6" r="2.5" fill="#ff00ff" stroke="#000" stroke-width="1.25"/>
<circle cx="204.7" cy="442.0" r="2.5" fill="#ff00ff" stroke="#000" stroke-width="1.25"/>
<circle cx="225.0" cy="438.5" r="2.5" fill="#ff00ff" stroke="#000" stroke-width="1.25"/>
<circle cx="211.7" cy="440.9" r="2.5" fill="#ff00ff" stroke="#000" stroke-width="1.25"/>
<circle cx="277.1" cy="377.5" r="2.5" fill="#ff00ff" stroke="#000" stroke-width="1.25"/>
<circle cx="226.0" cy="422.3" r="2.5" fill="#ff00ff" stroke="#000" stroke-width="1.25"/>
<circle cx="256.3" cy="391.3" r="2.5" fill="#ff00ff" stroke="#000" stroke-width="1.25"/>
<circle cx="214.0" cy="436.7" r="2.5" fill="#ff00ff" stroke="#000" stroke-width="1.25"/>
<circle cx="248.8" cy="412.4" r="2.5" fill="#ff00ff" stroke="#000" stroke-width="1.25"/>
<circle cx="274.7" cy="386.0" r="2.5" fill="#ff00ff" stroke="#000" stroke-width="1.25"/>
<circle cx="250.8" cy="404.1" r="2.5" fill="#ff00ff" stroke="#000" stroke-width="1.25"/>
<circle cx="249.4" cy="405.2" r="2.5" fill="#ff00ff" stroke="#000" stroke-width="1.25"/>
<circle cx="192.4" cy="461.7" r="2.5" fill="#ff00ff" stroke="#000" stroke-width="1.25"/>
<circle cx="180.2" cy="471.2" r="2.5" fill="#ff00ff" stroke="#000" stroke-width="1.25"/>
<circle cx="165.5" cy="486.0" r="2.5" fill="#ff00ff" stroke="#000" stroke-width="1.25"/>
<circle cx="197.0" cy="460.0" r="2.5" fill="#ff00ff" stroke="#000" stroke-width="1.25"/>
<circle cx="219.8" cy="430.9" r="2.5" fill="#ff00ff" stroke="#000" stroke-width="1.25"/>
<circle cx="250.6" cy="410.5" r="2.5" fill="#ff00ff" stroke="#000" stroke-width="1.25"/>
<circle cx="270.2" cy="386.3" r="2.5" fill="#ff00ff" stroke="#000" stroke-width="1.25"/>
<circle cx="223.7" cy="421.6" r="2.5" fill="#ff00ff" stroke="#000" stroke-width="1.25"/>
<circle cx="252.8" cy="409.4" r="2.5" fill="#ff00ff" stroke="#000" stroke-width="1.25"/>
<circle cx="213.4" cy="445.8" r="2.5" fill="#ff00ff" stroke="#000" stroke-width="1.25"/>
<circle cx="250.9" cy="396.9" r="2.5" fill="#ff00ff" stroke="#000" stroke-width="1.25"/>
<circle cx="178.3" cy="472.4" r="2.5" fill="#ff00ff" stroke="#000" stroke-width="1.25"/>
<circle cx="167.7" cy="483.7" r="2.5" fill="#ff00ff" stroke="#000" stroke-width="1.25"/>
<circle cx="249.4" cy="401.0" r="2.5" fill="#ff00ff" stroke="#000" stroke-width="1.25"/>
<circle cx="176.7" cy="477.3" r="2.5" fill="#ff00ff" stroke="#000" stroke-width="1.25"/>
<circle cx="163.0" cy="491.7" r="2.5" fill="#ff00ff" stroke="#000" stroke-width="1.25"/>
<circle cx="257.5" cy="399.0" r="2.5" fill="#ff00ff" stroke="#000" stroke-width="1.25"/>
<circle cx="252.8" cy="397.7" r="2.5" fill="#ff00ff" stroke="#000" stroke-width="1.25"/>
<circle cx="225.8" cy="426.2" r="2.5" fill="#ff00ff" stroke="#000" stroke-width="1.25"/>
<circle cx="202.3" cy="450.8" r="2.5" fill="#ff00ff" stroke="#000" stroke-width="1.25"/>
<circle cx="169.6" cy="485.4" r="2.5" fill="#ff00ff" stroke="#000" stroke-width="1.25"/>
<circle cx="265.3" cy="392.2" r="2.5" fill="#ff00ff" stroke="#000" stroke-width="1.25"/>
<circle cx="275.1" cy="376.9" r="2.5" fill="#ff00ff" stroke="#000" stroke-width="1.25"/>
<circle cx="199.8" cy="448.2" r="2.5" fill="#ff00ff" stroke="#000" stroke-width="1.25"/>
<circle cx="227.5" cy="431.1" r="2.5" fill="#ff00ff" stroke="#000" stroke-width="1.25"/>
<circle cx="251.8" cy="404.0" r="2.5" fill="#ff00ff" stroke="#000" stroke-width="1.25"/>
<circle cx="181.3" cy="472.7" r="2.5" fill="#ff00ff" stroke="#000" stroke-width="1.25"/>
<circle cx="192.6" cy="464.1" r="2.5" fill="#ff00ff" stroke="#000" stroke-width="1.25"/>
<circle cx="178.5" cy="471.8" r="2.5" fill="#ff00ff" stroke="#000" stroke-width="1.25"/>
<circle cx="181.8" cy="478.6" r="2.5" fill="#ff00ff" stroke="#000" stroke-width="1.25"/>
<circle cx="257.4" cy="398.2" r="2.5" fill="#ff00ff" stroke="#000" stroke-width="1.25"/>
<circle cx="215.1" cy="442.2" r="2.5" fill="#ff00ff" stroke="#000" stroke-width="1.25"/>
<circle cx="274.9" cy="378.7" r="2.5" fill="#ff00ff" stroke="#000" stroke-width="1.25"/>
<circle cx="268.9" cy="394.9" r="2.5" fill="#ff00ff" stroke="#000" stroke-width="1.25"/>
<circle cx="185.0" cy="468.7" r="2.5" fill="#ff00ff" stroke="#000" stroke-width="1.25"/>
<circle cx="217.3" cy="436.5" r="2.5" fill="#ff00ff" stroke="#000" stroke-width="1.25"/>
<circle cx="267.7" cy="382.3" r="2.5" fill="#ff00ff" stroke="#000" stroke-width="1.25"/>
<circle cx="161.2" cy="491.7" r="2.5" fill="#ff00ff" stroke="#000" stroke-width="1.25"/>
<circle cx="273.9" cy="381.2" r="2.5" fill="#ff00ff" stroke="#000" stroke-width="1.25"/>
<circle cx="181.0" cy="485.5" r="2.5" fill="#ff00ff" stroke="#000" stroke-width="1.25"/>
<circle cx="173.8" cy="485.9" r="2.5" fill="#ff00ff" stroke="#000" stroke-width="1.25"/>
<circle cx="259.1" cy="403.6" r="2.5" fill="#ff00ff" stroke="#000" stroke-width="1.25"/>
<circle cx="190.5" cy="469.7" r="2.5" fill="#ff00ff" stroke="#000" stroke-width="1.25"/>
<circle cx="266.8" cy="391.9" r="2.5" fill="#ff00ff" stroke="#000" stroke-width="1.25"/>
<circle cx="266.4" cy="394.4" r="2.5" fill="#ff00ff" stroke="#000" stroke-width="1.25"/>
<circle cx="252.9" cy="399.5" r="2.5" fill="#ff00ff" stroke="#000" stroke-width="1.25"/>
<circle cx="231.4" cy="423.4" r="2.5" fill="#ff00ff" stroke="#000" stroke-width="1.25"/>
<circle cx="249.9" cy="400.3" r="2.5" fill="#ff00ff" stroke="#000" stroke-width="1.25"/>
<circle cx="207.4" cy="447.5" r="2.5" fill="#ff00ff" stroke="#000" stroke-width="1.25"/>
<circle cx="192.7" cy="464.1" r="2.5" fill="#ff00ff" stroke="#000" stroke-width="1.25"/>
<circle cx="259.2" cy="402.5" r="2.5" fill="#ff00ff" stroke="#000" stroke-width="1.25"/>
<circle cx="249.6" cy="406.7" r="2.5" fill="#ff00ff" stroke="#000" stroke-width="1.25"/>
<circle cx="262.7" cy="396.0" r="2.5" fill="#ff00ff" stroke="#000" stroke-width="1.25"/>
<circle cx="160.8" cy="491.7" r="2.5" fill="#ff00ff" stroke="#000" stroke-width="1.25"/>
<circle cx="257.2" cy="397.9" r="2.5" fill="#ff00ff" stroke="#000" stroke-width="1.25"/>
<circle cx="215.6" cy="430.6" r="2.5" fill="#ff00ff" stroke="#000" stroke-width="1.25"/>
<circle cx="189.7" cy="465.1" r="2.5" fill="#ff00ff" stroke="#000" stroke-width="1.25"/>
<circle cx="193.5" cy="459.3" r="2.5" fill="#ff00ff" stroke="#000" stroke-width="1.25"/>
<circle cx="167.0" cy="487.8" r="2.5" fill="#ff00ff" stroke="#000" stroke-width="1.25"/>
<circle cx="193.3" cy="457.6" r="2.5" fill="#ff00ff" stroke="#000" stroke-width="1.25"/>
<circle cx="223.0" cy="423.6" r="2.5" fill="#ff00ff" stroke="#000" stroke-width="1.25"/>
<circle cx="181.2" cy="465.8" r="2.5" fill="#ff00ff" stroke="#000" stroke-width="1.25"/>
<circle cx="208.3" cy="445.2" r="2.5" fill="#ff00ff" stroke="#000" stroke-width="1.25"/>
<circle cx="218.1" cy="445.4" r="2.5" fill="#ff00ff" stroke="#000" stroke-width="1.25"/>
<circle cx="160.4" cy="490.6" r="2.5" fill="#ff00ff" stroke="#000" stroke-width="1.25"/>
<circle cx="221.0" cy="435.1" r="2.5" fill="#ff00ff" stroke="#000" stroke-width="1.25"/>
<circle cx="255.1" cy="399.1" r="2.5" fill="#ff00ff" stroke="#000" stroke-width="1.25"/>
<circle cx="233.3" cy="413.5" r="2.5" fill="#ff00ff" stroke="#000" stroke-width="1.25"/>
<circle cx="259.0" cy="401.1" r="2.5" fill="#ff00ff" stroke="#000" stroke-width="1.25"/>
<circle cx="211.9" cy="439.9" r="2.5" fill="#ff00ff" stroke="#000" stroke-width="1.25"/>
<circle cx="230.5" cy="431.1" r="2.5" fill="#ff00ff" stroke="#000" stroke-width="1.25"/>
<circle cx="220.0" cy="444.3" r="2.5" fill="#ff00ff" stroke="#000" stroke-width="1.25"/>
<circle cx="218.3" cy="432.3" r="2.5" fill="#ff00ff" stroke="#000" stroke-width="1.25"/>
<circle cx="230.4" cy="422.8" r="2.5" fill="#ff00ff" stroke="#000" stroke-width="1.25"/>
<circle cx="182.2" cy="481.0" r="2.5" fill="#ff00ff" stroke="#000" stroke-width="1.25"/>
<circle cx="176.4" cy="479.6" r="2.5" fill="#ff00ff" stroke="#000" stroke-width="1.25"/>
<circle cx="186.1" cy="467.0" r="2.5" fill="#ff00ff" stroke="#000" stroke-width="1.25"/>
<circle cx="250.0" cy="403.3" r="2.5" fill="#ff00ff" stroke="#000" stroke-width="1.25"/>
<circle cx="222.4" cy="437.2" r="2.5" fill="#ff00ff" stroke="#000" stroke-width="1.25"/>
<circle cx="187.7" cy="476.5" r="2.5" fill="#ff00ff" stroke="#000" stroke-width="1.25"/>
<circle cx="267.4" cy="384.2" r="2.5" fill="#ff00ff" stroke="#000" stroke-width="1.25"/>
<circle cx="261.9" cy="391.2" r="2.5" fill="#ff00ff" stroke="#000" stroke-width="1.25"/>
<circle cx="255.3" cy="408.6" r="2.5" fill="#ff00ff" stroke="#000" stroke-width="1.25"/>
<circle cx="183.1" cy="477.1" r="2.5" fill="#ff00ff" stroke="#000" stroke-width="1.25"/>
<circle cx="217.4" cy="440.5" r="2.5" fill="#ff00ff" stroke="#000" stroke-width="1.25"/>
<circle cx="188.1" cy="470.9" r="2.5" fill="#ff00ff" stroke="#000" stroke-width="1.25"/>
<circle cx="249.9" cy="397.4" r="2.5" fill="#ff00ff" stroke="#000" stroke-width="1.25"/>
<circle cx="257.4" cy="406.2" r="2.5" fill="#ff00ff" stroke="#000" stroke-width="1.25"/>
<circle cx="177.4" cy="475.3" r="2.5" fill="#ff00ff" stroke="#000" stroke-width="1.25"/>
<circle cx="228.1" cy="419.9" r="2.5" fill="#ff00ff" stroke="#000" stroke-width="1.25"/>
<circle cx="165.2" cy="489.7" r="2.5" fill="#ff00ff" stroke="#000" stroke-width="1.25"/>
<circle cx="225.0" cy="432.6" r="2.5" fill="#ff00ff" stroke="#000" stroke-width="1.25"/>
<circle cx="200.2" cy="452.1" r="2.5" fill="#ff00ff" stroke="#000" stroke-width="1.25"/>
<circle cx="196.1" cy="467.4" r="2.5" fill="#ff00ff" stroke="#000" stroke-width="1.25"/>
<circle cx="261.2" cy="393.8" r="2.5" fill="#ff00ff" stroke="#000" stroke-width="1.25"/>
<circle cx="259.8" cy="390.7" r="2.5" fill="#ff00ff" stroke="#000" stroke-width="1.25"/>
<circle cx="276.2" cy="386.7" r="2.5" fill="#ff00ff" stroke="#000" stroke-width="1.25"/>
<circle cx="243.6" cy="412.4" r="2.5" fill="#ff00ff" stroke="#000" stroke-width="1.25"/>
<circle cx="217.5" cy="431.9" r="2.5" fill="#ff00ff" stroke="#000" stroke-width="1.25"/>
<circle cx="164.6" cy="490.4" r="2.5" fill="#ff00ff" stroke="#000" stroke-width="1.25"/>
<circle cx="265.8" cy="392.8" r="2.5" fill="#ff00ff" stroke="#000" stroke-width="1.25"/>
<circle cx="169.3" cy="482.2" r="2.5" fill="#ff00ff" stroke="#000" stroke-width="1.25"/>
<circle cx="177.3" cy="480.0" r="2.5" fill="#ff00ff" stroke="#000" stroke-width="1.25"/>
<circle cx="192.5" cy="473.7" r="2.5" fill="#ff00ff" stroke="#000" stroke-width="1.25"/>
<circle cx="193.4" cy="462.7" r="2.5" fill="#ff00ff" stroke="#000" stroke-width="1.25"/>
<circle cx="168.7" cy="487.7" r="2.5" fill="#ff00ff" stroke="#000" stroke-width="1.25"/>
<circle cx="278.2" cy="378.1" r="2.5" fill="#ff00ff" stroke="#000" stroke-width="1.25"/>
<circle cx="225.2" cy="435.8" r="2.5" fill="#ff00ff" stroke="#000" stroke-width="1.25"/>
<circle cx="193.8" cy="463.3" r="2.5" fill="#ff00ff" stroke="#000" stroke-width="1.25"/>
<circle cx="159.5" cy="489.9" r="2.5" fill="#ff00ff" stroke="#000" stroke-width="1.25"/>
<circle cx="200.5" cy="457.5" r="2.5" fill="#ff00ff" stroke="#000" stroke-width="1.25"/>
<circle cx="252.4" cy="400.2" r="2.5" fill="#ff00ff" stroke="#000" stroke-width="1.25"/>
<circle cx="245.5" cy="401.1" r="2.5" fill="#ff00ff" stroke="#000" stroke-width="1.25"/>
<circle cx="177.6" cy="464.3" r="2.5" fill="#ff00ff" stroke="#000" stroke-width="1.25"/>
<circle cx="231.1" cy="430.3" r="2.5" fill="#ff00ff" stroke="#000" stroke-width="1.25"/>
<circle cx="252.7" cy="402.3" r="2.5" fill="#ff00ff" stroke="#000" stroke-width="1.25"/>
<circle cx="249.8" cy="411.1" r="2.5" fill="#ff00ff" stroke="#000" stroke-width="1.25"/>
<circle cx="192.3" cy="461.8" r="2.5" fill="#ff00ff" stroke="#000" stroke-width="1.25"/>
<circle cx="166.2" cy="489.6" r="2.5" fill="#ff00ff" stroke="#000" stroke-width="1.25"/>
<circle cx="255.3" cy="403.4" r="2.5" fill="#ff00ff" stroke="#000" stroke-width="1.25"/>
<circle cx="206.5" cy="456.6" r="2.5" fill="#ff00ff" stroke="#000" stroke-width="1.25"/>
<circle cx="253.2" cy="403.1" r="2.5" fill="#ff00ff" stroke="#000" stroke-width="1.25"/>
<circle cx="196.9" cy="448.5" r="2.5" fill="#ff00ff" stroke="#000" stroke-width="1.25"/>
<circle cx="171.5" cy="481.3" r="2.5" fill="#ff00ff" stroke="#000" stroke-width="1.25"/>
<circle cx="244.5" cy="411.9" r="2.5" fill="#ff00ff" stroke="#000" stroke-width="1.25"/>
<circle cx="170.2" cy="487.0" r="2.5" fill="#ff00ff" stroke="#000" stroke-width="1.25"/>
<circle cx="277.0" cy="377.3" r="2.5" fill="#ff00ff" stroke="#000" stroke-width="1.25"/>
<circle cx="216.0" cy="435.7" r="2.5" fill="#ff00ff" stroke="#000" stroke-width="1.25"/>
<circle cx="206.6" cy="449.9" r="2.5" fill="#ff00ff" stroke="#000" stroke-width="1.25"/>
<circle cx="258.4" cy="395.0" r="2.5" fill="#ff00ff" stroke="#000" stroke-width="1.25"/>
<circle cx="194.2" cy="456.3" r="2.5" fill="#ff00ff" stroke="#000" stroke-width="1.25"/>
<circle cx="255.4" cy="404.3" r="2.5" fill="#ff00ff" stroke="#000" stroke-width="1.25"/>
<circle cx="278.1" cy="377.8" r="2.5" fill="#ff00ff" stroke="#000" stroke-width="1.25"/>
<circle cx="207.5" cy="453.5" r="2.5" fill="#ff00ff" stroke="#000" stroke-width="1.25"/>
<circle cx="159.1" cy="492.3" r="2.5" fill="#ff00ff" stroke="#000" stroke-width="1.25"/>
<circle cx="220.2" cy="436.7" r="2.5" fill="#ff00ff" stroke="#000" stroke-width="1.25"/>
<circle cx="249.6" cy="403.1" r="2.5" fill="#ff00ff" stroke="#000" stroke-width="1.25"/>
<circle cx="256.9" cy="395.6" r="2.5" fill="#ff00ff" stroke="#000" stroke-width="1.25"/>
<circle cx="253.3" cy="394.8" r="2.5" fill="#ff00ff" stroke="#000" stroke-width="1.25"/>
<circle cx="201.1" cy="442.4" r="2.5" fill="#ff00ff" stroke="#000" stroke-width="1.25"/>
<circle cx="249.4" cy="408.5" r="2.5" fill="#ff00ff" stroke="#000" stroke-width="1.25"/>
<circle cx="164.4" cy="486.7" r="2.5" fill="#ff00ff" stroke="#000" stroke-width="1.25"/>
<circle cx="266.5" cy="390.3" r="2.5" fill="#ff00ff" stroke="#000" stroke-width="1.25"/>
<circle cx="246.5" cy="409.1" r="2.5" fill="#ff00ff" stroke="#000" stroke-width="1.25"/>
<circle cx="203.8" cy="455.8" r="2.5" fill="#ff00ff" stroke="#000" stroke-width="1.25"/>
<circle cx="260.7" cy="382.9" r="2.5" fill="#ff00ff" stroke="#000" stroke-width="1.25"/>
<circle cx="271.5" cy="382.0" r="2.5" fill="#ff00ff" stroke="#000" stroke-width="1.25"/>
<circle cx="256.5" cy="378.5" r="2.5" fill="#ff00ff" stroke="#000" stroke-width="1.25"/>
<circle cx="270.6" cy="377.6" r="2.5" fill="#ff00ff" stroke="#000" stroke-width="1.25"/>
<circle cx="268.5" cy="382.8" r="2.5" fill="#ff00ff" stroke="#000" stroke-width="1.25"/>
<circle cx="273.6" cy="379.5" r="2.5" fill="#ff00ff" stroke="#000" stroke-width="1.25"/>
<circle cx="268.6" cy="380.4" r="2.5" fill="#ff00ff" stroke="#000" stroke-width="1.25"/>
<circle cx="263.7" cy="383.3" r="2.5" fill="#ff00ff" stroke="#000" stroke-width="1.25"/>
<circle cx="256.0" cy="381.9" r="2.5" fill="#ff00ff" stroke="#000" stroke-width="1.25"/>
<circle cx="267.0" cy="384.3" r="2.5" fill="#ff00ff" stroke="#000" stroke-width="1.25"/>
<circle cx="276.7" cy="377.6" r="2.5" fill="#ff00ff" stroke="#000" stroke-width="1.25"/>
<circle cx="262.7" cy="384.7" r="2.5" fill="#ff00ff" stroke="#000" stroke-width="1.25"/>
<circle cx="257.1" cy="380.2" r="2.5" fill="#ff00ff" stroke="#000" stroke-width="1.25"/>
<circle cx="272.8" cy="382.0" r="2.5" fill="#ff00ff" stroke="#000" stroke-width="1.25"/>
<circle cx="273.3" cy="383.6" r="2.5" fill="#ff00ff" stroke="#000" stroke-width="1.25"/>
<circle cx="262.8" cy="383.8" r="2.5" fill="#ff00ff" stroke="#000" stroke-width="1.25"/>
<circle cx="255.7" cy="385.8" r="2.5" fill="#ff00ff" stroke="#000" stroke-width="1.25"/>
<circle cx="275.7" cy="384.6" r="2.5" fill="#ff00ff" stroke="#000" stroke-width="1.25"/>
<circle cx="257.3" cy="380.0" r="2.5" fill="#ff00ff" stroke="#000" stroke-width="1.25"/>
<circle cx="262.8" cy="381.0" r="2.5" fill="#ff00ff" stroke="#000" stroke-width="1.25"/>
<circle cx="256.0" cy="385.3" r="2.5" fill="#ff00ff" stroke="#000" stroke-width="1.25"/>
<circle cx="266.3" cy="377.2" r="2.5" fill="#ff00ff" stroke="#000" stroke-width="1.25"/>
<circle cx="259.3" cy="384.6" r="2.5" fill="#ff00ff" stroke="#000" stroke-width="1.25"/>
<circle cx="273.0" cy="379.0" r="2.5" fill="#ff00ff" stroke="#000" stroke-width="1.25"/>
<circle cx="267.1" cy="379.3" r="2.5" fill="#ff00ff" stroke="#000" stroke-width="1.25"/>
<circle cx="147.3" cy="478.7" r="2.5" fill="#ff00ff" stroke="#000" stroke-width="1.25"/>
<circle cx="152.6" cy="479.9" r="2.5" fill="#ff00ff" stroke="#000" stroke-width="1.25"/>
<circle cx="194.5" cy="437.8" r="2.5" fill="#ff00ff" stroke="#000" stroke-width="1.25"/>
<circle cx="278.3" cy="392.0" r="2.5" fill="#ff00ff" stroke="#000" stroke-width="1.25"/>
<circle cx="275.5" cy="393.5" r="2.5" fill="#ff00ff" stroke="#000" stroke-width="1.25"/>
<circle cx="262.2" cy="401.9" r="2.5" fill="#ff00ff" stroke="#000" stroke-width="1.25"/>
<circle cx="174.5" cy="469.7" r="2.5" fill="#ff00ff" stroke="#000" stroke-width="1.25"/>
<circle cx="220.3" cy="445.1" r="2.5" fill="#ff00ff" stroke="#000" stroke-width="1.25"/>
<circle cx="217.8" cy="443.1" r="2.5" fill="#ff00ff" stroke="#000" stroke-width="1.25"/>
<circle cx="221.9" cy="446.0" r="2.5" fill="#ff00ff" stroke="#000" stroke-width="1.25"/>
<circle cx="254.7" cy="377.4" r="2.5" fill="#ff00ff" stroke="#000" stroke-width="1.25"/>
<circle cx="257.5" cy="377.1" r="2.5" fill="#ff00ff" stroke="#000" stroke-width="1.25"/>
<circle cx="260.8" cy="376.8" r="2.5" fill="#ff00ff" stroke="#000" stroke-width="1.25"/>
<polyline points="146.47,495.70 149.72,492.44 152.98,489.18 156.23,485.92 159.48,482.66 162.74,479.40 165.99,476.14 169.25,472.88 172.50,469.62 175.75,466.36 179.01,463.10 182.26,459.85 185.51,456.59 188.77,453.33 192.02,450.07 195.28,446.81 198.53,443.55 201.78,440.29 205.04,437.03 208.29,433.77 211.54,430.51 214.80,427.25 218.05,423.99 221.30,420.73 224.56,417.47 227.81,414.21 231.07,410.95 234.32,407.70 237.57,404.44 240.83,401.18 244.08,397.92 247.33,394.66 250.59,391.40 253.84,388.14 257.10,384.88 260.35,381.62 263.60,378.36 266.86,375.10 270.11,371.84 273.36,368.58 276.62,365.32" fill="none" stroke="#1a1aff" stroke-width="1.8" stroke-dasharray="3 2.2"/>
<polyline points="165.34,503.08 168.21,500.20 171.08,497.32 173.96,494.44 176.83,491.57 179.70,488.69 182.57,485.81 185.44,482.94 188.32,480.06 191.19,477.18 194.06,474.30 196.93,471.43 199.81,468.55 202.68,465.67 205.55,462.80 208.42,459.92 211.29,457.04 214.17,454.16 217.04,451.29 219.91,448.41 222.78,445.53 225.65,442.66 228.53,439.78 231.40,436.90 234.27,434.02 237.14,431.15 240.02,428.27 242.89,425.39 245.76,422.52 248.63,419.64 251.50,416.76 254.38,413.88 257.25,411.01 260.12,408.13 262.99,405.25 265.86,402.38 268.74,399.50 271.61,396.62 274.48,393.74 277.35,390.87 280.23,387.99" fill="none" stroke="#1a1aff" stroke-width="1.8" stroke-dasharray="3 2.2"/>
<polyline points="151.19,504.11 154.34,500.95 157.50,497.79 160.66,494.63 163.81,491.46 166.97,488.30 170.13,485.14 173.28,481.98 176.44,478.82 179.60,475.65 182.75,472.49 185.91,469.33 189.07,466.17 192.22,463.01 195.38,459.84 198.54,456.68 201.69,453.52 204.85,450.36 208.01,447.20 211.16,444.03 214.32,440.87 217.48,437.71 220.63,434.55 223.79,431.38 226.94,428.22 230.10,425.06 233.26,421.90 236.41,418.74 239.57,415.57 242.73,412.41 245.88,409.25 249.04,406.09 252.20,402.93 255.35,399.76 258.51,396.60 261.67,393.44 264.82,390.28 267.98,387.12 271.14,383.95 274.29,380.79 277.45,377.63" fill="none" stroke="#f21d1d" stroke-width="1.5"/>
<polyline points="150.35,504.65 153.53,501.47 156.71,498.29 159.89,495.11 163.06,491.92 166.24,488.74 169.42,485.56 172.60,482.37 175.77,479.19 178.95,476.01 182.13,472.83 185.31,469.64 188.48,466.46 191.66,463.28 194.84,460.09 198.02,456.91 201.19,453.73 204.37,450.54 207.55,447.36 210.73,444.18 213.90,441.00 217.08,437.81 220.26,434.63 223.43,431.45 226.61,428.26 229.79,425.08 232.97,421.90 236.14,418.72 239.32,415.53 242.50,412.35 245.68,409.17 248.85,405.98 252.03,402.80 255.21,399.62 258.39,396.44 261.56,393.25 264.74,390.07 267.92,386.89 271.10,383.70 274.27,380.52 277.45,377.34" fill="none" stroke="#22e622" stroke-width="2.6" stroke-dasharray="6 3"/>
<text x="127.1" y="373.2" font-family='"Liberation Serif", serif' font-size="10" font-weight="bold" fill="#111" stroke="#111" stroke-width="0.3" text-anchor="start" >(c)</text>
<line x1="141.7" y1="371.9" x2="156.3" y2="371.9" stroke="#f21d1d" stroke-width="1.8"/>
<text x="158.1" y="374.5" font-family='"Liberation Sans", sans-serif' font-size="7.2" font-weight="bold" fill="#111" stroke="#111" stroke-width="0.3" text-anchor="start" >Linear regression</text>
<line x1="141.7" y1="381.7" x2="156.3" y2="381.7" stroke="#22e622" stroke-width="1.8" stroke-dasharray="6 6.3 2"/>
<text x="158.1" y="384.3" font-family='"Liberation Sans", sans-serif' font-size="7.2" font-weight="bold" fill="#111" stroke="#111" stroke-width="0.3" text-anchor="start" >95% Confidence intervals</text>
<line x1="141.7" y1="391.9" x2="156.3" y2="391.9" stroke="#1a1aff" stroke-width="1.8" stroke-dasharray="3 2.2"/>
<text x="158.1" y="394.5" font-family='"Liberation Sans", sans-serif' font-size="7.2" font-weight="bold" fill="#111" stroke="#111" stroke-width="0.3" text-anchor="start" >95% Prediction intervals</text>
<text x="239.9" y="471.3" font-family='"Liberation Sans", sans-serif' font-size="8.5" font-weight="bold" fill="#111" stroke="#111" stroke-width="0.3" text-anchor="start" >r = 0.975</text>
<text x="153.3" y="528.2" font-family='"Liberation Sans", sans-serif' font-size="8.6" font-weight="normal" fill="#111" stroke="#111" stroke-width="0.3" text-anchor="start">SpO<tspan font-size="5.59" dy="2.3">2</tspan><tspan dy="-2.3"> from </tspan><tspan font-weight="bold">Blood Test (%)</tspan></text>
<text transform="translate(101.3,430.4) rotate(-90)" font-family='"Liberation Sans", sans-serif' font-size="8.87" font-weight="bold" fill="#111" stroke="#111" stroke-width="0.3" text-anchor="middle">SpO<tspan font-size="5.77" dy="2.3">2</tspan><tspan dy="-2.3"> from instrument (%)</tspan></text>
<rect x="326.2" y="359.5" width="167.6" height="144.7" fill="none" stroke="#151515" stroke-width="1.7"/>
<path d="M342.90,504.20v3.0M376.40,504.20v3.0M409.90,504.20v3.0M443.40,504.20v3.0M476.90,504.20v3.0M359.65,504.20v1.7M393.15,504.20v1.7M426.65,504.20v1.7M460.15,504.20v1.7M326.20,491.80h-3.0M326.20,467.80h-3.0M326.20,443.80h-3.0M326.20,419.80h-3.0M326.20,395.80h-3.0M326.20,371.80h-3.0M326.20,479.80h-1.7M326.20,455.80h-1.7M326.20,431.80h-1.7M326.20,407.80h-1.7M326.20,383.80h-1.7" stroke="#111" stroke-width="1.35" fill="none"/>
<text x="342.9" y="515.8" font-family='"Liberation Sans", sans-serif' font-size="8.1" font-weight="bold" fill="#111" stroke="#111" stroke-width="0.3" text-anchor="middle" >60</text>
<text x="376.4" y="515.8" font-family='"Liberation Sans", sans-serif' font-size="8.1" font-weight="bold" fill="#111" stroke="#111" stroke-width="0.3" text-anchor="middle" >70</text>
<text x="409.9" y="515.8" font-family='"Liberation Sans", sans-serif' font-size="8.1" font-weight="bold" fill="#111" stroke="#111" stroke-width="0.3" text-anchor="middle" >80</text>
<text x="443.4" y="515.8" font-family='"Liberation Sans", sans-serif' font-size="8.1" font-weight="bold" fill="#111" stroke="#111" stroke-width="0.3" text-anchor="middle" >90</text>
<text x="476.9" y="515.8" font-family='"Liberation Sans", sans-serif' font-size="8.1" font-weight="bold" fill="#111" stroke="#111" stroke-width="0.3" text-anchor="middle" >100</text>
<text x="321.6" y="494.0" font-family='"Liberation Sans", sans-serif' font-size="8.1" font-weight="bold" fill="#111" stroke="#111" stroke-width="0.3" text-anchor="end" >50</text>
<text x="321.6" y="470.0" font-family='"Liberation Sans", sans-serif' font-size="8.1" font-weight="bold" fill="#111" stroke="#111" stroke-width="0.3" text-anchor="end" >60</text>
<text x="321.6" y="446.0" font-family='"Liberation Sans", sans-serif' font-size="8.1" font-weight="bold" fill="#111" stroke="#111" stroke-width="0.3" text-anchor="end" >70</text>
<text x="321.6" y="422.0" font-family='"Liberation Sans", sans-serif' font-size="8.1" font-weight="bold" fill="#111" stroke="#111" stroke-width="0.3" text-anchor="end" >80</text>
<text x="321.6" y="398.0" font-family='"Liberation Sans", sans-serif' font-size="8.1" font-weight="bold" fill="#111" stroke="#111" stroke-width="0.3" text-anchor="end" >90</text>
<text x="321.6" y="374.0" font-family='"Liberation Sans", sans-serif' font-size="8.1" font-weight="bold" fill="#111" stroke="#111" stroke-width="0.3" text-anchor="end" >100</text>
<circle cx="341.6" cy="455.6" r="2.5" fill="#ff00ff" stroke="#000" stroke-width="1.25"/>
<circle cx="341.6" cy="460.6" r="2.5" fill="#ff00ff" stroke="#000" stroke-width="1.25"/>
<circle cx="341.6" cy="465.4" r="2.5" fill="#ff00ff" stroke="#000" stroke-width="1.25"/>
<circle cx="341.6" cy="468.3" r="2.5" fill="#ff00ff" stroke="#000" stroke-width="1.25"/>
<circle cx="356.6" cy="454.7" r="2.5" fill="#ff00ff" stroke="#000" stroke-width="1.25"/>
<circle cx="349.3" cy="465.8" r="2.5" fill="#ff00ff" stroke="#000" stroke-width="1.25"/>
<circle cx="355.6" cy="458.1" r="2.5" fill="#ff00ff" stroke="#000" stroke-width="1.25"/>
<circle cx="351.2" cy="469.8" r="2.5" fill="#ff00ff" stroke="#000" stroke-width="1.25"/>
<circle cx="353.7" cy="464.6" r="2.5" fill="#ff00ff" stroke="#000" stroke-width="1.25"/>
<circle cx="349.9" cy="468.3" r="2.5" fill="#ff00ff" stroke="#000" stroke-width="1.25"/>
<circle cx="352.2" cy="467.5" r="2.5" fill="#ff00ff" stroke="#000" stroke-width="1.25"/>
<circle cx="356.9" cy="451.2" r="2.5" fill="#ff00ff" stroke="#000" stroke-width="1.25"/>
<circle cx="356.5" cy="461.1" r="2.5" fill="#ff00ff" stroke="#000" stroke-width="1.25"/>
<circle cx="350.8" cy="464.8" r="2.5" fill="#ff00ff" stroke="#000" stroke-width="1.25"/>
<circle cx="348.9" cy="460.7" r="2.5" fill="#ff00ff" stroke="#000" stroke-width="1.25"/>
<circle cx="351.3" cy="462.0" r="2.5" fill="#ff00ff" stroke="#000" stroke-width="1.25"/>
<circle cx="351.8" cy="457.8" r="2.5" fill="#ff00ff" stroke="#000" stroke-width="1.25"/>
<circle cx="353.3" cy="463.9" r="2.5" fill="#ff00ff" stroke="#000" stroke-width="1.25"/>
<circle cx="350.6" cy="459.6" r="2.5" fill="#ff00ff" stroke="#000" stroke-width="1.25"/>
<circle cx="349.7" cy="464.1" r="2.5" fill="#ff00ff" stroke="#000" stroke-width="1.25"/>
<circle cx="352.9" cy="453.9" r="2.5" fill="#ff00ff" stroke="#000" stroke-width="1.25"/>
<circle cx="350.1" cy="464.3" r="2.5" fill="#ff00ff" stroke="#000" stroke-width="1.25"/>
<circle cx="356.1" cy="454.7" r="2.5" fill="#ff00ff" stroke="#000" stroke-width="1.25"/>
<circle cx="356.2" cy="463.9" r="2.5" fill="#ff00ff" stroke="#000" stroke-width="1.25"/>
<circle cx="355.0" cy="457.1" r="2.5" fill="#ff00ff" stroke="#000" stroke-width="1.25"/>
<circle cx="356.8" cy="460.1" r="2.5" fill="#ff00ff" stroke="#000" stroke-width="1.25"/>
<circle cx="356.7" cy="452.0" r="2.5" fill="#ff00ff" stroke="#000" stroke-width="1.25"/>
<circle cx="354.6" cy="452.1" r="2.5" fill="#ff00ff" stroke="#000" stroke-width="1.25"/>
<circle cx="352.5" cy="466.6" r="2.5" fill="#ff00ff" stroke="#000" stroke-width="1.25"/>
<circle cx="356.3" cy="457.5" r="2.5" fill="#ff00ff" stroke="#000" stroke-width="1.25"/>
<circle cx="352.8" cy="458.8" r="2.5" fill="#ff00ff" stroke="#000" stroke-width="1.25"/>
<circle cx="356.0" cy="460.7" r="2.5" fill="#ff00ff" stroke="#000" stroke-width="1.25"/>
<circle cx="356.1" cy="462.6" r="2.5" fill="#ff00ff" stroke="#000" stroke-width="1.25"/>
<circle cx="356.3" cy="455.1" r="2.5" fill="#ff00ff" stroke="#000" stroke-width="1.25"/>
<circle cx="354.7" cy="461.9" r="2.5" fill="#ff00ff" stroke="#000" stroke-width="1.25"/>
<circle cx="351.3" cy="462.5" r="2.5" fill="#ff00ff" stroke="#000" stroke-width="1.25"/>
<circle cx="368.2" cy="454.1" r="2.5" fill="#ff00ff" stroke="#000" stroke-width="1.25"/>
<circle cx="373.1" cy="448.6" r="2.5" fill="#ff00ff" stroke="#000" stroke-width="1.25"/>
<circle cx="373.4" cy="446.9" r="2.5" fill="#ff00ff" stroke="#000" stroke-width="1.25"/>
<circle cx="376.2" cy="445.4" r="2.5" fill="#ff00ff" stroke="#000" stroke-width="1.25"/>
<circle cx="368.5" cy="449.3" r="2.5" fill="#ff00ff" stroke="#000" stroke-width="1.25"/>
<circle cx="371.3" cy="440.2" r="2.5" fill="#ff00ff" stroke="#000" stroke-width="1.25"/>
<circle cx="376.2" cy="450.9" r="2.5" fill="#ff00ff" stroke="#000" stroke-width="1.25"/>
<circle cx="367.0" cy="450.6" r="2.5" fill="#ff00ff" stroke="#000" stroke-width="1.25"/>
<circle cx="373.5" cy="444.3" r="2.5" fill="#ff00ff" stroke="#000" stroke-width="1.25"/>
<circle cx="374.9" cy="449.8" r="2.5" fill="#ff00ff" stroke="#000" stroke-width="1.25"/>
<circle cx="374.0" cy="441.4" r="2.5" fill="#ff00ff" stroke="#000" stroke-width="1.25"/>
<circle cx="372.9" cy="445.3" r="2.5" fill="#ff00ff" stroke="#000" stroke-width="1.25"/>
<circle cx="369.0" cy="442.9" r="2.5" fill="#ff00ff" stroke="#000" stroke-width="1.25"/>
<circle cx="371.3" cy="447.3" r="2.5" fill="#ff00ff" stroke="#000" stroke-width="1.25"/>
<circle cx="374.6" cy="442.5" r="2.5" fill="#ff00ff" stroke="#000" stroke-width="1.25"/>
<circle cx="377.4" cy="449.0" r="2.5" fill="#ff00ff" stroke="#000" stroke-width="1.25"/>
<circle cx="370.3" cy="448.1" r="2.5" fill="#ff00ff" stroke="#000" stroke-width="1.25"/>
<circle cx="377.5" cy="448.7" r="2.5" fill="#ff00ff" stroke="#000" stroke-width="1.25"/>
<circle cx="380.1" cy="436.0" r="2.5" fill="#ff00ff" stroke="#000" stroke-width="1.25"/>
<circle cx="378.3" cy="438.2" r="2.5" fill="#ff00ff" stroke="#000" stroke-width="1.25"/>
<circle cx="376.2" cy="449.8" r="2.5" fill="#ff00ff" stroke="#000" stroke-width="1.25"/>
<circle cx="393.0" cy="426.2" r="2.5" fill="#ff00ff" stroke="#000" stroke-width="1.25"/>
<circle cx="392.2" cy="432.6" r="2.5" fill="#ff00ff" stroke="#000" stroke-width="1.25"/>
<circle cx="381.0" cy="433.2" r="2.5" fill="#ff00ff" stroke="#000" stroke-width="1.25"/>
<circle cx="378.7" cy="438.3" r="2.5" fill="#ff00ff" stroke="#000" stroke-width="1.25"/>
<circle cx="395.9" cy="429.4" r="2.5" fill="#ff00ff" stroke="#000" stroke-width="1.25"/>
<circle cx="393.6" cy="429.6" r="2.5" fill="#ff00ff" stroke="#000" stroke-width="1.25"/>
<circle cx="379.1" cy="449.8" r="2.5" fill="#ff00ff" stroke="#000" stroke-width="1.25"/>
<circle cx="381.8" cy="445.9" r="2.5" fill="#ff00ff" stroke="#000" stroke-width="1.25"/>
<circle cx="394.2" cy="439.2" r="2.5" fill="#ff00ff" stroke="#000" stroke-width="1.25"/>
<circle cx="394.8" cy="425.9" r="2.5" fill="#ff00ff" stroke="#000" stroke-width="1.25"/>
<circle cx="390.0" cy="431.1" r="2.5" fill="#ff00ff" stroke="#000" stroke-width="1.25"/>
<circle cx="386.3" cy="434.3" r="2.5" fill="#ff00ff" stroke="#000" stroke-width="1.25"/>
<circle cx="376.8" cy="436.7" r="2.5" fill="#ff00ff" stroke="#000" stroke-width="1.25"/>
<circle cx="396.0" cy="427.0" r="2.5" fill="#ff00ff" stroke="#000" stroke-width="1.25"/>
<circle cx="381.6" cy="445.0" r="2.5" fill="#ff00ff" stroke="#000" stroke-width="1.25"/>
<circle cx="395.4" cy="442.5" r="2.5" fill="#ff00ff" stroke="#000" stroke-width="1.25"/>
<circle cx="394.0" cy="437.9" r="2.5" fill="#ff00ff" stroke="#000" stroke-width="1.25"/>
<circle cx="386.3" cy="443.6" r="2.5" fill="#ff00ff" stroke="#000" stroke-width="1.25"/>
<circle cx="384.5" cy="434.2" r="2.5" fill="#ff00ff" stroke="#000" stroke-width="1.25"/>
<circle cx="378.4" cy="444.9" r="2.5" fill="#ff00ff" stroke="#000" stroke-width="1.25"/>
<circle cx="375.7" cy="433.3" r="2.5" fill="#ff00ff" stroke="#000" stroke-width="1.25"/>
<circle cx="412.7" cy="420.2" r="2.5" fill="#ff00ff" stroke="#000" stroke-width="1.25"/>
<circle cx="416.9" cy="424.3" r="2.5" fill="#ff00ff" stroke="#000" stroke-width="1.25"/>
<circle cx="414.2" cy="417.8" r="2.5" fill="#ff00ff" stroke="#000" stroke-width="1.25"/>
<circle cx="410.6" cy="421.8" r="2.5" fill="#ff00ff" stroke="#000" stroke-width="1.25"/>
<circle cx="416.9" cy="422.2" r="2.5" fill="#ff00ff" stroke="#000" stroke-width="1.25"/>
<circle cx="406.0" cy="430.6" r="2.5" fill="#ff00ff" stroke="#000" stroke-width="1.25"/>
<circle cx="410.7" cy="421.2" r="2.5" fill="#ff00ff" stroke="#000" stroke-width="1.25"/>
<circle cx="412.0" cy="414.9" r="2.5" fill="#ff00ff" stroke="#000" stroke-width="1.25"/>
<circle cx="404.7" cy="425.0" r="2.5" fill="#ff00ff" stroke="#000" stroke-width="1.25"/>
<circle cx="416.5" cy="413.6" r="2.5" fill="#ff00ff" stroke="#000" stroke-width="1.25"/>
<circle cx="414.5" cy="414.3" r="2.5" fill="#ff00ff" stroke="#000" stroke-width="1.25"/>
<circle cx="406.4" cy="418.0" r="2.5" fill="#ff00ff" stroke="#000" stroke-width="1.25"/>
<circle cx="412.6" cy="419.7" r="2.5" fill="#ff00ff" stroke="#000" stroke-width="1.25"/>
<circle cx="415.9" cy="417.3" r="2.5" fill="#ff00ff" stroke="#000" stroke-width="1.25"/>
<circle cx="407.3" cy="421.2" r="2.5" fill="#ff00ff" stroke="#000" stroke-width="1.25"/>
<circle cx="415.9" cy="411.4" r="2.5" fill="#ff00ff" stroke="#000" stroke-width="1.25"/>
<circle cx="408.3" cy="417.9" r="2.5" fill="#ff00ff" stroke="#000" stroke-width="1.25"/>
<circle cx="413.4" cy="420.6" r="2.5" fill="#ff00ff" stroke="#000" stroke-width="1.25"/>
<circle cx="407.2" cy="417.7" r="2.5" fill="#ff00ff" stroke="#000" stroke-width="1.25"/>
<circle cx="417.2" cy="418.9" r="2.5" fill="#ff00ff" stroke="#000" stroke-width="1.25"/>
<circle cx="433.1" cy="402.5" r="2.5" fill="#ff00ff" stroke="#000" stroke-width="1.25"/>
<circle cx="423.8" cy="413.5" r="2.5" fill="#ff00ff" stroke="#000" stroke-width="1.25"/>
<circle cx="419.3" cy="414.0" r="2.5" fill="#ff00ff" stroke="#000" stroke-width="1.25"/>
<circle cx="432.5" cy="408.7" r="2.5" fill="#ff00ff" stroke="#000" stroke-width="1.25"/>
<circle cx="425.8" cy="407.9" r="2.5" fill="#ff00ff" stroke="#000" stroke-width="1.25"/>
<circle cx="433.2" cy="407.6" r="2.5" fill="#ff00ff" stroke="#000" stroke-width="1.25"/>
<circle cx="432.0" cy="409.4" r="2.5" fill="#ff00ff" stroke="#000" stroke-width="1.25"/>
<circle cx="431.2" cy="403.0" r="2.5" fill="#ff00ff" stroke="#000" stroke-width="1.25"/>
<circle cx="422.6" cy="416.2" r="2.5" fill="#ff00ff" stroke="#000" stroke-width="1.25"/>
<circle cx="423.9" cy="411.7" r="2.5" fill="#ff00ff" stroke="#000" stroke-width="1.25"/>
<circle cx="433.3" cy="407.5" r="2.5" fill="#ff00ff" stroke="#000" stroke-width="1.25"/>
<circle cx="425.1" cy="415.8" r="2.5" fill="#ff00ff" stroke="#000" stroke-width="1.25"/>
<circle cx="420.9" cy="408.6" r="2.5" fill="#ff00ff" stroke="#000" stroke-width="1.25"/>
<circle cx="427.0" cy="414.6" r="2.5" fill="#ff00ff" stroke="#000" stroke-width="1.25"/>
<circle cx="420.9" cy="409.0" r="2.5" fill="#ff00ff" stroke="#000" stroke-width="1.25"/>
<circle cx="424.4" cy="403.7" r="2.5" fill="#ff00ff" stroke="#000" stroke-width="1.25"/>
<circle cx="435.9" cy="405.4" r="2.5" fill="#ff00ff" stroke="#000" stroke-width="1.25"/>
<circle cx="430.7" cy="407.2" r="2.5" fill="#ff00ff" stroke="#000" stroke-width="1.25"/>
<circle cx="425.6" cy="400.5" r="2.5" fill="#ff00ff" stroke="#000" stroke-width="1.25"/>
<circle cx="428.2" cy="410.7" r="2.5" fill="#ff00ff" stroke="#000" stroke-width="1.25"/>
<circle cx="444.5" cy="388.8" r="2.5" fill="#ff00ff" stroke="#000" stroke-width="1.25"/>
<circle cx="438.2" cy="390.0" r="2.5" fill="#ff00ff" stroke="#000" stroke-width="1.25"/>
<circle cx="449.8" cy="391.7" r="2.5" fill="#ff00ff" stroke="#000" stroke-width="1.25"/>
<circle cx="449.1" cy="389.7" r="2.5" fill="#ff00ff" stroke="#000" stroke-width="1.25"/>
<circle cx="437.3" cy="397.7" r="2.5" fill="#ff00ff" stroke="#000" stroke-width="1.25"/>
<circle cx="438.6" cy="394.7" r="2.5" fill="#ff00ff" stroke="#000" stroke-width="1.25"/>
<circle cx="447.0" cy="390.7" r="2.5" fill="#ff00ff" stroke="#000" stroke-width="1.25"/>
<circle cx="442.0" cy="396.2" r="2.5" fill="#ff00ff" stroke="#000" stroke-width="1.25"/>
<circle cx="452.1" cy="383.7" r="2.5" fill="#ff00ff" stroke="#000" stroke-width="1.25"/>
<circle cx="446.3" cy="394.1" r="2.5" fill="#ff00ff" stroke="#000" stroke-width="1.25"/>
<circle cx="460.9" cy="380.2" r="2.5" fill="#ff00ff" stroke="#000" stroke-width="1.25"/>
<circle cx="443.6" cy="390.5" r="2.5" fill="#ff00ff" stroke="#000" stroke-width="1.25"/>
<circle cx="440.0" cy="391.8" r="2.5" fill="#ff00ff" stroke="#000" stroke-width="1.25"/>
<circle cx="456.9" cy="384.8" r="2.5" fill="#ff00ff" stroke="#000" stroke-width="1.25"/>
<circle cx="440.9" cy="400.4" r="2.5" fill="#ff00ff" stroke="#000" stroke-width="1.25"/>
<circle cx="445.7" cy="395.7" r="2.5" fill="#ff00ff" stroke="#000" stroke-width="1.25"/>
<circle cx="450.1" cy="388.9" r="2.5" fill="#ff00ff" stroke="#000" stroke-width="1.25"/>
<circle cx="441.5" cy="393.5" r="2.5" fill="#ff00ff" stroke="#000" stroke-width="1.25"/>
<circle cx="453.5" cy="392.8" r="2.5" fill="#ff00ff" stroke="#000" stroke-width="1.25"/>
<circle cx="451.1" cy="388.2" r="2.5" fill="#ff00ff" stroke="#000" stroke-width="1.25"/>
<circle cx="447.8" cy="394.1" r="2.5" fill="#ff00ff" stroke="#000" stroke-width="1.25"/>
<circle cx="453.9" cy="380.7" r="2.5" fill="#ff00ff" stroke="#000" stroke-width="1.25"/>
<circle cx="442.5" cy="399.0" r="2.5" fill="#ff00ff" stroke="#000" stroke-width="1.25"/>
<circle cx="458.4" cy="389.6" r="2.5" fill="#ff00ff" stroke="#000" stroke-width="1.25"/>
<circle cx="454.7" cy="391.7" r="2.5" fill="#ff00ff" stroke="#000" stroke-width="1.25"/>
<circle cx="439.3" cy="382.1" r="2.5" fill="#ff00ff" stroke="#000" stroke-width="1.25"/>
<circle cx="446.9" cy="391.8" r="2.5" fill="#ff00ff" stroke="#000" stroke-width="1.25"/>
<circle cx="448.7" cy="393.9" r="2.5" fill="#ff00ff" stroke="#000" stroke-width="1.25"/>
<circle cx="437.4" cy="400.0" r="2.5" fill="#ff00ff" stroke="#000" stroke-width="1.25"/>
<circle cx="450.8" cy="397.3" r="2.5" fill="#ff00ff" stroke="#000" stroke-width="1.25"/>
<circle cx="462.9" cy="377.8" r="2.5" fill="#ff00ff" stroke="#000" stroke-width="1.25"/>
<circle cx="470.7" cy="376.3" r="2.5" fill="#ff00ff" stroke="#000" stroke-width="1.25"/>
<circle cx="460.5" cy="380.4" r="2.5" fill="#ff00ff" stroke="#000" stroke-width="1.25"/>
<circle cx="462.6" cy="369.9" r="2.5" fill="#ff00ff" stroke="#000" stroke-width="1.25"/>
<circle cx="469.7" cy="379.9" r="2.5" fill="#ff00ff" stroke="#000" stroke-width="1.25"/>
<circle cx="467.3" cy="376.5" r="2.5" fill="#ff00ff" stroke="#000" stroke-width="1.25"/>
<circle cx="462.3" cy="379.1" r="2.5" fill="#ff00ff" stroke="#000" stroke-width="1.25"/>
<circle cx="463.0" cy="380.7" r="2.5" fill="#ff00ff" stroke="#000" stroke-width="1.25"/>
<circle cx="459.5" cy="381.4" r="2.5" fill="#ff00ff" stroke="#000" stroke-width="1.25"/>
<circle cx="474.0" cy="371.0" r="2.5" fill="#ff00ff" stroke="#000" stroke-width="1.25"/>
<circle cx="465.4" cy="376.4" r="2.5" fill="#ff00ff" stroke="#000" stroke-width="1.25"/>
<circle cx="475.4" cy="372.0" r="2.5" fill="#ff00ff" stroke="#000" stroke-width="1.25"/>
<circle cx="460.2" cy="383.1" r="2.5" fill="#ff00ff" stroke="#000" stroke-width="1.25"/>
<circle cx="470.0" cy="378.5" r="2.5" fill="#ff00ff" stroke="#000" stroke-width="1.25"/>
<circle cx="464.7" cy="380.1" r="2.5" fill="#ff00ff" stroke="#000" stroke-width="1.25"/>
<circle cx="469.8" cy="380.0" r="2.5" fill="#ff00ff" stroke="#000" stroke-width="1.25"/>
<circle cx="473.9" cy="376.0" r="2.5" fill="#ff00ff" stroke="#000" stroke-width="1.25"/>
<circle cx="460.2" cy="381.6" r="2.5" fill="#ff00ff" stroke="#000" stroke-width="1.25"/>
<circle cx="474.7" cy="376.3" r="2.5" fill="#ff00ff" stroke="#000" stroke-width="1.25"/>
<circle cx="474.7" cy="373.9" r="2.5" fill="#ff00ff" stroke="#000" stroke-width="1.25"/>
<circle cx="468.6" cy="377.8" r="2.5" fill="#ff00ff" stroke="#000" stroke-width="1.25"/>
<circle cx="463.8" cy="385.0" r="2.5" fill="#ff00ff" stroke="#000" stroke-width="1.25"/>
<circle cx="465.0" cy="377.2" r="2.5" fill="#ff00ff" stroke="#000" stroke-width="1.25"/>
<circle cx="471.7" cy="376.7" r="2.5" fill="#ff00ff" stroke="#000" stroke-width="1.25"/>
<circle cx="460.7" cy="382.4" r="2.5" fill="#ff00ff" stroke="#000" stroke-width="1.25"/>
<circle cx="474.7" cy="378.9" r="2.5" fill="#ff00ff" stroke="#000" stroke-width="1.25"/>
<circle cx="350.6" cy="479.8" r="2.5" fill="#ff00ff" stroke="#000" stroke-width="1.25"/>
<circle cx="352.9" cy="484.6" r="2.5" fill="#ff00ff" stroke="#000" stroke-width="1.25"/>
<circle cx="451.8" cy="398.2" r="2.5" fill="#ff00ff" stroke="#000" stroke-width="1.25"/>
<circle cx="473.5" cy="382.6" r="2.5" fill="#ff00ff" stroke="#000" stroke-width="1.25"/>
<circle cx="472.9" cy="370.6" r="2.5" fill="#ff00ff" stroke="#000" stroke-width="1.25"/>
<polyline points="341.22,479.81 344.57,477.34 347.91,474.88 351.25,472.41 354.59,469.94 357.93,467.47 361.27,465.00 364.62,462.54 367.96,460.07 371.30,457.60 374.64,455.13 377.98,452.66 381.32,450.19 384.67,447.73 388.01,445.26 391.35,442.79 394.69,440.32 398.03,437.85 401.37,435.39 404.72,432.92 408.06,430.45 411.40,427.98 414.74,425.51 418.08,423.04 421.42,420.58 424.77,418.11 428.11,415.64 431.45,413.17 434.79,410.70 438.13,408.23 441.47,405.77 444.82,403.30 448.16,400.83 451.50,398.36 454.84,395.89 458.18,393.43 461.52,390.96 464.87,388.49 468.21,386.02 471.55,383.55 474.89,381.08" fill="none" stroke="#1a1aff" stroke-width="1.8" stroke-dasharray="3 2.2"/>
<polyline points="341.22,459.17 344.55,456.72 347.87,454.26 351.20,451.81 354.52,449.35 357.85,446.89 361.17,444.44 364.50,441.98 367.82,439.53 371.15,437.07 374.47,434.61 377.80,432.16 381.12,429.70 384.45,427.25 387.77,424.79 391.10,422.34 394.42,419.88 397.75,417.42 401.07,414.97 404.40,412.51 407.72,410.06 411.05,407.60 414.37,405.14 417.70,402.69 421.02,400.23 424.35,397.78 427.67,395.32 431.00,392.87 434.32,390.41 437.65,387.95 440.97,385.50 444.30,383.04 447.62,380.59 450.95,378.13 454.27,375.67 457.60,373.22 460.92,370.76 464.25,368.31 467.57,365.85 470.90,363.40 474.22,360.94" fill="none" stroke="#1a1aff" stroke-width="1.8" stroke-dasharray="3 2.2"/>
<polyline points="341.09,469.59 344.44,467.12 347.79,464.65 351.13,462.17 354.48,459.70 357.83,457.23 361.18,454.76 364.52,452.28 367.87,449.81 371.22,447.34 374.57,444.87 377.91,442.39 381.26,439.92 384.61,437.45 387.96,434.98 391.30,432.50 394.65,430.03 398.00,427.56 401.35,425.09 404.69,422.61 408.04,420.14 411.39,417.67 414.74,415.20 418.08,412.72 421.43,410.25 424.78,407.78 428.13,405.31 431.47,402.83 434.82,400.36 438.17,397.89 441.52,395.42 444.86,392.94 448.21,390.47 451.56,388.00 454.91,385.53 458.25,383.05 461.60,380.58 464.95,378.11 468.30,375.64 471.64,373.16 474.99,370.69" fill="none" stroke="#f21d1d" stroke-width="1.5"/>
<polyline points="341.56,469.49 344.89,467.02 348.23,464.56 351.56,462.10 354.89,459.64 358.23,457.18 361.56,454.71 364.89,452.25 368.23,449.79 371.56,447.33 374.89,444.87 378.23,442.40 381.56,439.94 384.89,437.48 388.23,435.02 391.56,432.56 394.89,430.09 398.23,427.63 401.56,425.17 404.89,422.71 408.22,420.25 411.56,417.78 414.89,415.32 418.22,412.86 421.56,410.40 424.89,407.94 428.22,405.47 431.56,403.01 434.89,400.55 438.22,398.09 441.56,395.62 444.89,393.16 448.22,390.70 451.56,388.24 454.89,385.78 458.22,383.31 461.56,380.85 464.89,378.39 468.22,375.93 471.56,373.47 474.89,371.00" fill="none" stroke="#22e622" stroke-width="2.6" stroke-dasharray="6 3"/>
<text x="328.6" y="368.8" font-family='"Liberation Sans", sans-serif' font-size="9.5" font-weight="bold" fill="#111" stroke="#111" stroke-width="0.3" text-anchor="start" >(f)</text>
<text x="336.6" y="389.7" font-family='"Liberation Sans", sans-serif' font-size="8.5" font-weight="bold" fill="#111" stroke="#111" stroke-width="0.3" text-anchor="start" >r = 0.985</text>
<line x1="386.1" y1="470.9" x2="400.7" y2="470.9" stroke="#f21d1d" stroke-width="1.8"/>
<text x="402.2" y="473.5" font-family='"Liberation Sans", sans-serif' font-size="7.2" font-weight="bold" fill="#111" stroke="#111" stroke-width="0.3" text-anchor="start" >Linear regression</text>
<line x1="386.1" y1="481.0" x2="400.7" y2="481.0" stroke="#22e622" stroke-width="1.8" stroke-dasharray="6 6.3 2.3"/>
<text x="402.2" y="483.6" font-family='"Liberation Sans", sans-serif' font-size="7.2" font-weight="bold" fill="#111" stroke="#111" stroke-width="0.3" text-anchor="start" >95% Confidence intervals</text>
<line x1="386.1" y1="491.0" x2="400.7" y2="491.0" stroke="#1a1aff" stroke-width="1.8" stroke-dasharray="3 2.2"/>
<text x="402.2" y="493.6" font-family='"Liberation Sans", sans-serif' font-size="7.2" font-weight="bold" fill="#111" stroke="#111" stroke-width="0.3" text-anchor="start" >95% Prediction intervals</text>
<text x="350.8" y="531.2" font-family='"Liberation Sans", sans-serif' font-size="8.6" font-weight="normal" fill="#111" stroke="#111" stroke-width="0.5" text-anchor="start">SpO<tspan font-size="5.59" dy="2.3">2</tspan><tspan dy="-2.3"> from</tspan></text>
<text transform="translate(302.4,432.7) rotate(-90)" font-family='"Liberation Sans", sans-serif' font-size="8.87" font-weight="bold" fill="#111" stroke="#111" stroke-width="0.3" text-anchor="middle">SpO<tspan font-size="5.77" dy="2.3">2</tspan><tspan dy="-2.3"> from instrument (%)</tspan></text>
<rect x="519.2" y="359.2" width="161.6" height="145.0" fill="none" stroke="#151515" stroke-width="1.7"/>
<path d="M535.50,504.20v3.0M567.85,504.20v3.0M600.20,504.20v3.0M632.55,504.20v3.0M664.90,504.20v3.0M551.67,504.20v1.7M584.02,504.20v1.7M616.38,504.20v1.7M648.73,504.20v1.7M519.20,489.60h-3.0M519.20,460.60h-3.0M519.20,431.60h-3.0M519.20,402.60h-3.0M519.20,373.60h-3.0M519.20,504.10h-1.7M519.20,475.10h-1.7M519.20,446.10h-1.7M519.20,417.10h-1.7M519.20,388.10h-1.7" stroke="#111" stroke-width="1.35" fill="none"/>
<text x="535.5" y="516.5" font-family='"Liberation Sans", sans-serif' font-size="8.1" font-weight="bold" fill="#111" stroke="#111" stroke-width="0.3" text-anchor="middle" >60</text>
<text x="567.9" y="516.5" font-family='"Liberation Sans", sans-serif' font-size="8.1" font-weight="bold" fill="#111" stroke="#111" stroke-width="0.3" text-anchor="middle" >70</text>
<text x="600.2" y="516.5" font-family='"Liberation Sans", sans-serif' font-size="8.1" font-weight="bold" fill="#111" stroke="#111" stroke-width="0.3" text-anchor="middle" >80</text>
<text x="632.5" y="516.5" font-family='"Liberation Sans", sans-serif' font-size="8.1" font-weight="bold" fill="#111" stroke="#111" stroke-width="0.3" text-anchor="middle" >90</text>
<text x="664.9" y="516.5" font-family='"Liberation Sans", sans-serif' font-size="8.1" font-weight="bold" fill="#111" stroke="#111" stroke-width="0.3" text-anchor="middle" >100</text>
<text x="514.8" y="491.8" font-family='"Liberation Sans", sans-serif' font-size="8.1" font-weight="bold" fill="#111" stroke="#111" stroke-width="0.3" text-anchor="end" >60</text>
<text x="514.8" y="462.8" font-family='"Liberation Sans", sans-serif' font-size="8.1" font-weight="bold" fill="#111" stroke="#111" stroke-width="0.3" text-anchor="end" >70</text>
<text x="514.8" y="433.8" font-family='"Liberation Sans", sans-serif' font-size="8.1" font-weight="bold" fill="#111" stroke="#111" stroke-width="0.3" text-anchor="end" >80</text>
<text x="514.8" y="404.8" font-family='"Liberation Sans", sans-serif' font-size="8.1" font-weight="bold" fill="#111" stroke="#111" stroke-width="0.3" text-anchor="end" >90</text>
<text x="514.8" y="375.8" font-family='"Liberation Sans", sans-serif' font-size="8.1" font-weight="bold" fill="#111" stroke="#111" stroke-width="0.3" text-anchor="end" >100</text>
<circle cx="534.9" cy="489.6" r="2.5" fill="#ff00ff" stroke="#000" stroke-width="1.2"/>
<circle cx="538.4" cy="492.5" r="2.5" fill="#ff00ff" stroke="#000" stroke-width="1.2"/>
<circle cx="541.6" cy="478.9" r="2.5" fill="#ff00ff" stroke="#000" stroke-width="1.2"/>
<circle cx="544.9" cy="474.5" r="2.5" fill="#ff00ff" stroke="#000" stroke-width="1.2"/>
<circle cx="545.9" cy="479.7" r="2.5" fill="#ff00ff" stroke="#000" stroke-width="1.2"/>
<circle cx="551.7" cy="470.5" r="2.5" fill="#ff00ff" stroke="#000" stroke-width="1.2"/>
<circle cx="554.6" cy="477.1" r="2.5" fill="#ff00ff" stroke="#000" stroke-width="1.2"/>
<circle cx="561.1" cy="469.0" r="2.5" fill="#ff00ff" stroke="#000" stroke-width="1.2"/>
<circle cx="567.9" cy="457.4" r="2.5" fill="#ff00ff" stroke="#000" stroke-width="1.2"/>
<circle cx="570.8" cy="442.9" r="2.5" fill="#ff00ff" stroke="#000" stroke-width="1.2"/>
<circle cx="577.2" cy="457.4" r="2.5" fill="#ff00ff" stroke="#000" stroke-width="1.2"/>
<circle cx="580.5" cy="454.2" r="2.5" fill="#ff00ff" stroke="#000" stroke-width="1.2"/>
<circle cx="593.4" cy="433.6" r="2.5" fill="#ff00ff" stroke="#000" stroke-width="1.2"/>
<circle cx="599.9" cy="436.2" r="2.5" fill="#ff00ff" stroke="#000" stroke-width="1.2"/>
<circle cx="616.1" cy="410.7" r="2.5" fill="#ff00ff" stroke="#000" stroke-width="1.2"/>
<circle cx="619.6" cy="415.9" r="2.5" fill="#ff00ff" stroke="#000" stroke-width="1.2"/>
<circle cx="625.8" cy="414.5" r="2.5" fill="#ff00ff" stroke="#000" stroke-width="1.2"/>
<circle cx="629.0" cy="403.2" r="2.5" fill="#ff00ff" stroke="#000" stroke-width="1.2"/>
<circle cx="638.4" cy="397.7" r="2.5" fill="#ff00ff" stroke="#000" stroke-width="1.2"/>
<circle cx="642.6" cy="400.3" r="2.5" fill="#ff00ff" stroke="#000" stroke-width="1.2"/>
<circle cx="645.2" cy="392.2" r="2.5" fill="#ff00ff" stroke="#000" stroke-width="1.2"/>
<circle cx="652.0" cy="395.6" r="2.5" fill="#ff00ff" stroke="#000" stroke-width="1.2"/>
<circle cx="658.8" cy="370.7" r="2.5" fill="#ff00ff" stroke="#000" stroke-width="1.2"/>
<circle cx="662.0" cy="369.5" r="2.5" fill="#ff00ff" stroke="#000" stroke-width="1.2"/>
<circle cx="661.3" cy="381.4" r="2.5" fill="#ff00ff" stroke="#000" stroke-width="1.2"/>
<polyline points="534.85,475.84 538.02,473.07 541.19,470.30 544.36,467.53 547.53,464.77 550.70,462.00 553.87,459.23 557.05,456.46 560.22,453.69 563.39,450.93 566.56,448.16 569.73,445.39 572.90,442.62 576.07,439.85 579.24,437.09 582.41,434.32 585.58,431.55 588.75,428.78 591.92,426.01 595.09,423.24 598.26,420.48 601.43,417.71 604.60,414.94 607.77,412.17 610.94,409.40 614.11,406.64 617.28,403.87 620.45,401.10 623.62,398.33 626.79,395.56 629.96,392.80 633.13,390.03 636.30,387.26 639.47,384.49 642.64,381.72 645.81,378.96 648.98,376.19 652.15,373.42 655.32,370.65 658.49,367.88 661.66,365.11" fill="none" stroke="#1a1aff" stroke-width="1.6" stroke-dasharray="3 2.2"/>
<polyline points="534.85,501.65 538.02,498.88 541.19,496.11 544.36,493.34 547.53,490.58 550.70,487.81 553.87,485.04 557.05,482.27 560.22,479.50 563.39,476.74 566.56,473.97 569.73,471.20 572.90,468.43 576.07,465.66 579.24,462.90 582.41,460.13 585.58,457.36 588.75,454.59 591.92,451.82 595.09,449.05 598.26,446.29 601.43,443.52 604.60,440.75 607.77,437.98 610.94,435.21 614.11,432.45 617.28,429.68 620.45,426.91 623.62,424.14 626.79,421.37 629.96,418.61 633.13,415.84 636.30,413.07 639.47,410.30 642.64,407.53 645.81,404.77 648.98,402.00 652.15,399.23 655.32,396.46 658.49,393.69 661.66,390.92" fill="none" stroke="#1a1aff" stroke-width="1.6" stroke-dasharray="3 2.2"/>
<polyline points="534.85,484.82 538.02,482.21 541.19,479.60 544.36,476.99 547.53,474.37 550.70,471.76 553.87,469.14 557.05,466.52 560.22,463.89 563.39,461.26 566.56,458.63 569.73,455.99 572.90,453.34 576.07,450.69 579.24,448.02 582.41,445.35 585.58,442.67 588.75,439.97 591.92,437.26 595.09,434.53 598.26,431.78 601.43,429.02 604.60,426.23 607.77,423.43 610.94,420.61 614.11,417.77 617.28,414.92 620.45,412.06 623.62,409.19 626.79,406.31 629.96,403.42 633.13,400.52 636.30,397.62 639.47,394.72 642.64,391.81 645.81,388.90 648.98,385.98 652.15,383.06 655.32,380.14 658.49,377.22 661.66,374.29" fill="none" stroke="#22e622" stroke-width="1.6" stroke-dasharray="5 3"/>
<polyline points="534.85,492.66 538.02,489.74 541.19,486.81 544.36,483.89 547.53,480.97 550.70,478.05 553.87,475.13 557.05,472.22 560.22,469.31 563.39,466.40 566.56,463.50 569.73,460.60 572.90,457.71 576.07,454.83 579.24,451.96 582.41,449.09 585.58,446.24 588.75,443.40 591.92,440.58 595.09,437.77 598.26,434.98 601.43,432.21 604.60,429.46 607.77,426.73 610.94,424.01 614.11,421.31 617.28,418.62 620.45,415.95 623.62,413.28 626.79,410.63 629.96,407.98 633.13,405.34 636.30,402.71 639.47,400.07 642.64,397.45 645.81,394.82 648.98,392.20 652.15,389.59 655.32,386.97 658.49,384.36 661.66,381.75" fill="none" stroke="#22e622" stroke-width="1.6" stroke-dasharray="5 3"/>
<polyline points="534.85,488.74 538.02,485.98 541.19,483.21 544.36,480.44 547.53,477.67 550.70,474.90 553.87,472.14 557.05,469.37 560.22,466.60 563.39,463.83 566.56,461.06 569.73,458.29 572.90,455.53 576.07,452.76 579.24,449.99 582.41,447.22 585.58,444.45 588.75,441.69 591.92,438.92 595.09,436.15 598.26,433.38 601.43,430.61 604.60,427.85 607.77,425.08 610.94,422.31 614.11,419.54 617.28,416.77 620.45,414.01 623.62,411.24 626.79,408.47 629.96,405.70 633.13,402.93 636.30,400.16 639.47,397.40 642.64,394.63 645.81,391.86 648.98,389.09 652.15,386.32 655.32,383.56 658.49,380.79 661.66,378.02" fill="none" stroke="#f21d1d" stroke-width="1.6"/>
<text x="522.8" y="370.6" font-family='"Liberation Serif", serif' font-size="10" font-weight="bold" fill="#111" stroke="#111" stroke-width="0.3" text-anchor="start" >(I)</text>
<text x="536.7" y="388.0" font-family='"Liberation Sans", sans-serif' font-size="8.5" font-weight="bold" fill="#111" stroke="#111" stroke-width="0.3" text-anchor="start" >r = 0.988</text>
<line x1="577.6" y1="467.0" x2="591.8" y2="467.0" stroke="#f21d1d" stroke-width="1.8"/>
<text x="593.5" y="469.5" font-family='"Liberation Sans", sans-serif' font-size="7.0" font-weight="bold" fill="#111" stroke="#111" stroke-width="0.3" text-anchor="start" >Linear regression</text>
<line x1="577.6" y1="476.8" x2="591.8" y2="476.8" stroke="#22e622" stroke-width="1.8" stroke-dasharray="6 6 2.5"/>
<text x="593.5" y="479.3" font-family='"Liberation Sans", sans-serif' font-size="7.0" font-weight="bold" fill="#111" stroke="#111" stroke-width="0.3" text-anchor="start" >95% Confidence intervals</text>
<line x1="577.6" y1="486.9" x2="591.8" y2="486.9" stroke="#1a1aff" stroke-width="1.8" stroke-dasharray="3 2.2"/>
<text x="593.5" y="489.4" font-family='"Liberation Sans", sans-serif' font-size="7.0" font-weight="bold" fill="#111" stroke="#111" stroke-width="0.3" text-anchor="start" >95% Prediction intervals</text>
<text x="542.9" y="529.7" font-family='"Liberation Sans", sans-serif' font-size="8.33" font-weight="normal" fill="#111" stroke="#111" stroke-width="0.3" text-anchor="start">SpO<tspan font-size="5.41" dy="2.3">2</tspan><tspan dy="-2.3"> from </tspan><tspan font-weight="bold">Blood Test (%)</tspan></text>
<text transform="translate(505.2,433.1) rotate(-90)" font-family='"Liberation Sans", sans-serif' font-size="8.87" font-weight="bold" fill="#111" stroke="#111" stroke-width="0.3" text-anchor="middle">SpO<tspan font-size="5.77" dy="2.3">2</tspan><tspan dy="-2.3"> from instrument (%)</tspan></text>
</svg>
</body></html>
